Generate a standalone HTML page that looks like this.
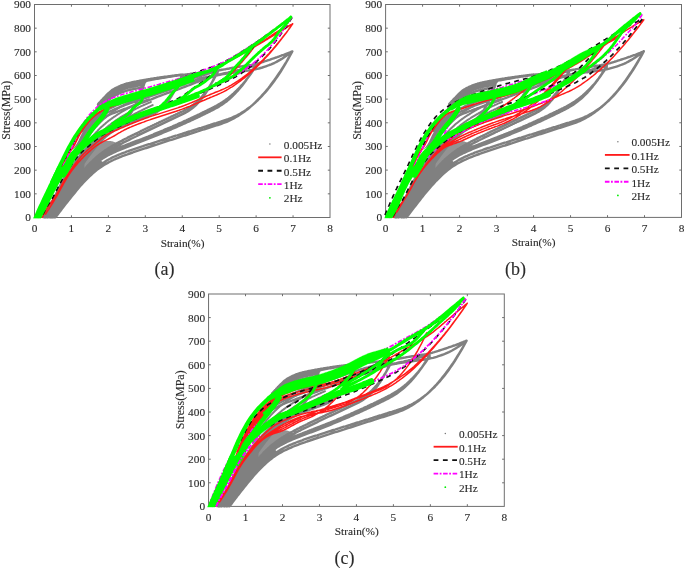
<!DOCTYPE html>
<html><head><meta charset="utf-8"><style>
html,body{margin:0;padding:0;background:#fff;}
svg{display:block;will-change:transform;}
text{font-family:"Liberation Serif", serif;font-size:11.3px;fill:#2a2a2a;stroke:#2a2a2a;stroke-width:0.12px;}
</style></head><body>
<svg width="685" height="568" viewBox="0 0 685 568">
<defs><clipPath id="clipa"><rect x="33.00" y="1.50" width="298.50" height="217.30"/></clipPath><clipPath id="clipb"><rect x="384.10" y="1.50" width="298.90" height="217.20"/></clipPath><clipPath id="clipc"><rect x="207.06" y="291.00" width="298.74" height="216.70"/></clipPath></defs>
<path d="M71.44 217.50v-2.2M71.44 4.50v2.2M108.38 217.50v-2.2M108.38 4.50v2.2M145.31 217.50v-2.2M145.31 4.50v2.2M182.25 217.50v-2.2M182.25 4.50v2.2M219.19 217.50v-2.2M219.19 4.50v2.2M256.12 217.50v-2.2M256.12 4.50v2.2M293.06 217.50v-2.2M293.06 4.50v2.2M34.50 193.83h2.2M330.00 193.83h-2.2M34.50 170.17h2.2M330.00 170.17h-2.2M34.50 146.50h2.2M330.00 146.50h-2.2M34.50 122.83h2.2M330.00 122.83h-2.2M34.50 99.17h2.2M330.00 99.17h-2.2M34.50 75.50h2.2M330.00 75.50h-2.2M34.50 51.83h2.2M330.00 51.83h-2.2M34.50 28.17h2.2M330.00 28.17h-2.2" stroke="#6e6e6e" stroke-width="1" fill="none"/>
<rect x="34.50" y="4.50" width="295.50" height="213.00" fill="none" stroke="#6e6e6e" stroke-width="1"/>
<text x="34.50" y="231.90" text-anchor="middle">0</text>
<text x="71.44" y="231.90" text-anchor="middle">1</text>
<text x="108.38" y="231.90" text-anchor="middle">2</text>
<text x="145.31" y="231.90" text-anchor="middle">3</text>
<text x="182.25" y="231.90" text-anchor="middle">4</text>
<text x="219.19" y="231.90" text-anchor="middle">5</text>
<text x="256.12" y="231.90" text-anchor="middle">6</text>
<text x="293.06" y="231.90" text-anchor="middle">7</text>
<text x="330.00" y="231.90" text-anchor="middle">8</text>
<text x="31.00" y="221.40" text-anchor="end">0</text>
<text x="31.00" y="197.73" text-anchor="end">100</text>
<text x="31.00" y="174.07" text-anchor="end">200</text>
<text x="31.00" y="150.40" text-anchor="end">300</text>
<text x="31.00" y="126.73" text-anchor="end">400</text>
<text x="31.00" y="103.07" text-anchor="end">500</text>
<text x="31.00" y="79.40" text-anchor="end">600</text>
<text x="31.00" y="55.73" text-anchor="end">700</text>
<text x="31.00" y="32.07" text-anchor="end">800</text>
<text x="31.00" y="8.40" text-anchor="end">900</text>
<g clip-path="url(#clipa)"><path d="M41.5 217.5L42.1 216.2L42.7 214.8L43.3 213.5L43.9 212.2L44.6 210.9L45.3 209.6L45.9 208.4L46.7 207.1L47.4 205.9L48.2 204.7L49.1 203.5L49.9 202.3L50.7 201.1L51.5 199.9L52.3 198.7L53.0 197.4L53.7 196.1L54.4 194.8L55.0 193.5L55.6 192.2L56.2 190.9L56.9 189.6L57.5 188.3L58.1 187.0L58.8 185.7L59.4 184.4L60.1 183.1L60.8 181.8L61.5 180.6L62.2 179.3L62.9 178.0L63.6 176.8L64.4 175.6L65.1 174.3L65.9 173.1L66.7 171.9L67.5 170.7L68.3 169.5L69.2 168.3L70.0 167.1L70.8 165.9L71.6 164.7L72.4 163.5L73.3 162.3L74.1 161.1L74.9 159.9L75.8 158.8L76.7 157.6L77.6 156.5L78.5 155.4L79.5 154.3L80.5 153.3L81.5 152.2L82.6 151.3L83.6 150.3L84.7 149.3L85.8 148.4L86.9 147.4L88.1 146.5L104.7 164.6L104.3 164.9L103.8 165.1L103.4 165.4L103.0 165.6L102.6 165.9L102.2 166.2L101.8 166.5L101.4 166.7L100.9 167.0L100.5 167.3L100.1 167.6L99.7 167.9L99.3 168.2L98.9 168.5L98.4 168.8L98.0 169.1L97.6 169.4L97.2 169.7L96.8 170.1L96.4 170.4L95.9 170.7L95.5 171.1L95.1 171.4L94.7 171.7L94.3 172.1L93.9 172.4L93.5 172.8L93.0 173.2L92.6 173.5L92.2 173.9L91.8 174.3L91.4 174.6L91.0 175.0L90.5 175.4L90.1 175.8L89.7 176.2L89.3 176.6L88.9 177.0L88.5 177.4L88.0 177.8L87.6 178.2L87.2 178.6L86.8 179.1L86.4 179.5L86.0 179.9L85.5 180.3L85.1 180.8L84.7 181.2L84.3 181.7L83.9 182.1L83.5 182.6L83.1 183.0L82.6 183.5L82.2 183.9L81.8 184.4L81.4 184.9L81.0 185.3L80.6 185.8L80.1 186.3L79.7 186.7L79.3 187.2L78.9 187.7L78.5 188.2L78.1 188.7L77.6 189.2L77.2 189.7L76.8 190.2L76.4 190.7L76.0 191.1L75.6 191.6L75.1 192.2L74.7 192.7L74.3 193.2L73.9 193.7L73.5 194.2L73.1 194.7L72.7 195.2L72.2 195.7L71.8 196.2L71.4 196.8L71.0 197.3L70.6 197.8L70.2 198.3L69.7 198.8L69.3 199.4L68.9 199.9L68.5 200.4L68.1 200.9L67.7 201.5L67.2 202.0L66.8 202.5L66.4 203.1L66.0 203.6L65.6 204.1L65.2 204.7L64.8 205.2L64.3 205.7L63.9 206.3L63.5 206.8L63.1 207.4L62.7 207.9L62.3 208.4L61.8 209.0L61.4 209.5L61.0 210.1L60.6 210.6L60.2 211.2L59.8 211.7L59.3 212.3L58.9 212.8L58.5 213.3L58.1 213.9L57.7 214.4L57.3 215.0L56.8 215.5L56.4 216.1L56.0 216.6L55.6 217.2L55.2 217.5Z" fill="#808080"/>
<path d="M78.8 153.6L79.7 152.4L80.7 151.2L81.6 149.9L82.5 148.7L83.5 147.5L84.4 146.3L85.3 145.1L86.3 143.9L87.2 142.7L88.2 141.5L89.2 140.3L90.1 139.1L91.1 137.9L92.1 136.8L93.1 135.6L94.2 134.4L95.2 133.3L96.2 132.2L97.3 131.1L98.3 130.0L99.4 128.9L100.5 127.8L101.6 126.7L102.8 125.7L103.9 124.7L105.1 123.7L106.2 122.7L107.4 121.8L108.6 120.8L109.9 119.9L111.1 119.0L112.3 118.1L113.6 117.2L114.9 116.4L116.2 115.5L117.4 114.7L118.7 113.8L120.0 113.0L121.3 112.2L122.6 111.4L124.0 110.6L125.3 109.8L126.6 109.1L127.9 108.3L129.3 107.6L130.6 106.9L132.0 106.2L133.4 105.5L134.8 104.8L136.2 104.2L137.6 103.6L139.0 103.0L140.4 102.4L141.8 101.9L143.3 101.3L144.7 100.8L146.1 100.2L147.6 99.7L149.0 99.2M80.7 154.8L81.7 153.6L82.7 152.5L83.6 151.4L84.6 150.2L85.6 149.1L86.6 148.0L87.6 146.9L88.6 145.7L89.6 144.6L90.6 143.5L91.6 142.4L92.7 141.2L93.7 140.1L94.7 139.0L95.7 137.9L96.8 136.8L97.8 135.7L98.9 134.7L100.0 133.6L101.0 132.6L102.1 131.5L103.2 130.5L104.3 129.5L105.5 128.5L106.6 127.5L107.8 126.5L108.9 125.6L110.1 124.7L111.3 123.7L112.5 122.8L113.8 122.0L115.0 121.1L116.2 120.2L117.5 119.4L118.7 118.6L120.0 117.7L121.3 116.9L122.6 116.1L123.9 115.3L125.1 114.6L126.4 113.8L127.8 113.1L129.1 112.3L130.4 111.6L131.7 110.9L133.0 110.2L134.4 109.5L135.7 108.8L137.1 108.1L138.4 107.5L139.8 106.9L141.2 106.2L142.6 105.6L143.9 105.0L145.3 104.4L146.7 103.8L148.1 103.2L149.5 102.6L150.9 102.0M82.5 155.5L83.6 154.5L84.7 153.5L85.8 152.5L86.9 151.5L88.0 150.5L89.1 149.5L90.1 148.5L91.2 147.5L92.3 146.5L93.4 145.5L94.5 144.5L95.5 143.5L96.6 142.5L97.7 141.5L98.7 140.5L99.8 139.5L100.9 138.5L102.0 137.5L103.1 136.5L104.2 135.5L105.3 134.5L106.4 133.5L107.5 132.6L108.6 131.6L109.8 130.7L110.9 129.8L112.1 128.8L113.2 127.9L114.4 127.1L115.6 126.2L116.8 125.3L118.0 124.5L119.2 123.6L120.4 122.8L121.6 121.9L122.9 121.1L124.1 120.3L125.3 119.5L126.6 118.7L127.8 117.9L129.1 117.2L130.4 116.4L131.6 115.7L132.9 114.9L134.2 114.2L135.5 113.5L136.8 112.8L138.1 112.1L139.4 111.4L140.7 110.8L142.0 110.1L143.3 109.5L144.7 108.8L146.0 108.2L147.3 107.6L148.7 106.9L150.0 106.3L151.4 105.7L152.7 105.1M78.8 152.4L79.5 151.1L80.3 149.9L81.0 148.6L81.7 147.3L82.4 146.1L83.1 144.8L83.9 143.6L84.6 142.3L85.4 141.1L86.2 139.9L87.0 138.7L87.8 137.4L88.6 136.2L89.4 135.1L90.3 133.9L91.2 132.7L92.1 131.6L93.0 130.4L93.9 129.3L94.8 128.2L95.8 127.1L96.8 126.0L97.8 124.9L98.8 123.9L99.8 122.8L100.8 121.8L101.9 120.8L102.9 119.8L104.0 118.8L105.1 117.9L106.2 116.9L107.3 116.0L108.4 115.1L109.6 114.2L110.7 113.3L111.9 112.4L113.1 111.6L114.3 110.7L115.5 109.9L116.7 109.1L117.9 108.3L119.2 107.6L120.4 106.8L121.7 106.1L123.0 105.4L124.3 104.7L125.6 104.1L126.9 103.4L128.2 102.8L129.5 102.2L130.8 101.6L132.2 101.0L133.5 100.5L134.8 99.9L136.2 99.4L137.5 98.8L138.9 98.3L140.3 97.8L141.6 97.3" stroke="#808080" stroke-width="2.0" fill="none" stroke-linejoin="round" stroke-linecap="round"/>
<path d="M71.4 150.1L72.1 149.4L72.7 148.7L73.3 148.1L74.0 147.4L74.6 146.7L75.1 146.0L75.7 145.3L76.2 144.6L76.7 143.8L77.1 143.1L77.6 142.3L78.0 141.5L78.4 140.7L78.8 139.8L79.2 139.0L79.5 138.2L79.9 137.3L80.3 136.5L80.7 135.7L81.1 134.9L81.5 134.1L81.9 133.2L82.3 132.5L82.8 131.7L83.3 130.9L83.7 130.1L84.2 129.4L84.7 128.6L85.2 127.8L85.7 127.1L86.3 126.4L86.8 125.6L87.4 124.9L87.9 124.2L88.5 123.5L89.0 122.8L89.6 122.1L90.2 121.4L90.8 120.7L91.4 120.0L92.0 119.3L92.7 118.7L93.3 118.0L93.9 117.4L94.6 116.8L95.3 116.2L95.9 115.6L96.6 115.0L97.3 114.4L98.0 113.8L98.7 113.3L99.5 112.7L100.2 112.2L100.9 111.7L101.7 111.2L102.4 110.6L103.2 110.1L103.9 109.6L104.7 109.1L104.7 109.1L104.3 109.9L103.9 110.8L103.5 111.6L103.2 112.4L102.7 113.2L102.3 114.0L101.9 114.8L101.4 115.5L100.9 116.3L100.4 117.0L99.9 117.8L99.3 118.5L98.7 119.2L98.2 119.9L97.6 120.6L97.0 121.2L96.4 121.9L95.8 122.6L95.1 123.3L94.5 123.9L93.9 124.6L93.3 125.3L92.7 126.0L92.1 126.6L91.5 127.3L90.9 128.0L90.4 128.7L89.8 129.4L89.2 130.1L88.7 130.8L88.1 131.6L87.6 132.3L87.1 133.0L86.6 133.8L86.1 134.5L85.6 135.3L85.1 136.1L84.6 136.9L84.2 137.7L83.7 138.5L83.2 139.2L82.7 140.0L82.3 140.8L81.7 141.5L81.2 142.3L80.7 143.0L80.1 143.7L79.5 144.4L78.9 145.0L78.3 145.6L77.6 146.2L76.9 146.7L76.1 147.2L75.4 147.7L74.6 148.2L73.8 148.7L73.0 149.1L72.2 149.6L71.4 150.1Z" fill="#808080"/>
<path d="M84.4 150.8L85.0 150.3L85.6 149.9L86.2 149.4L86.8 149.0L87.4 148.6L88.1 148.2L88.7 147.7L89.3 147.3L90.0 146.9L90.6 146.5L91.2 146.1L91.9 145.7L92.5 145.3L93.2 145.0L93.9 144.6L94.5 144.3L95.2 143.9L95.9 143.6L96.6 143.3L97.3 143.0L98.0 142.7L98.7 142.5L99.4 142.2L100.1 142.0L100.9 141.8L101.6 141.6L102.4 141.4L103.1 141.3L103.9 141.2L104.6 141.1L105.4 141.0L106.2 140.9L106.9 140.9L107.7 140.9L108.5 140.9L109.2 140.9L110.0 141.0L110.7 141.1L111.5 141.2L112.2 141.3L112.9 141.5L113.6 141.7L114.3 141.9L115.0 142.2L115.7 142.4L116.4 142.7L117.1 143.0L117.8 143.4L118.4 143.7L119.1 144.1L119.8 144.5L120.4 144.8L121.1 145.2L121.8 145.7L122.4 146.1L123.1 146.5L123.7 146.9L124.3 147.3L125.0 147.8L125.0 147.8L123.6 148.3L122.2 148.9L120.8 149.5L119.4 150.0L118.0 150.6L116.6 151.2L115.2 151.8L113.8 152.5L112.4 153.1L111.0 153.8L109.6 154.5L108.2 155.3L106.8 156.0L105.4 156.9L104.0 157.7L102.6 158.6L101.2 159.5L99.8 160.5L98.4 161.6L97.0 162.7L95.6 163.9L94.2 165.1L92.8 166.3L91.4 167.7L90.0 169.1L88.6 170.5L87.2 172.0L85.8 173.6L84.4 175.2Z" fill="#939393"/>
<path d="M98.0 104.2L98.7 103.4L99.4 102.6L100.2 101.8L100.9 101.0L101.6 100.2L102.3 99.5L103.0 98.7L103.7 98.0L104.4 97.3L105.1 96.6L105.8 95.9L106.5 95.1L107.2 94.4L107.9 93.7L108.6 93.0L109.4 92.4L110.1 91.8L110.8 91.2L111.5 90.6L112.2 90.1L112.9 89.6L113.6 89.2L114.3 88.8L115.0 88.4L115.7 88.0L116.4 87.7L117.1 87.3L117.8 87.0L118.6 86.6L119.3 86.3L120.0 86.0L120.7 85.7L121.4 85.4L122.1 85.1L122.8 84.9L123.5 84.6L124.2 84.4L124.9 84.1L125.6 83.9L126.3 83.7L127.0 83.5L127.8 83.3L128.5 83.1L129.2 83.0L129.9 82.8L130.6 82.6L131.3 82.5L132.0 82.3L132.7 82.2L133.4 82.0L134.1 81.9L134.8 81.7L135.5 81.6L136.2 81.5L137.0 81.3L137.7 81.2L138.4 81.1L139.1 80.9L139.8 80.8L140.5 80.7L141.2 80.5L141.9 80.4L142.6 80.3L143.3 80.1L144.0 80.0L144.7 79.9L145.4 79.8L146.2 79.6L146.9 79.5L147.6 79.4L148.3 79.3L149.0 79.2L149.7 79.1L150.4 78.9L151.1 78.8L151.8 78.7L152.5 78.6L153.2 78.5L153.9 78.4L154.6 78.3L155.4 78.2L156.1 78.1L156.8 77.9L157.5 77.8L158.2 77.7L158.9 77.6L159.6 77.5L160.3 77.4L161.0 77.3L161.7 77.2L162.4 77.1L163.1 77.0L163.8 76.9L164.6 76.8L165.3 76.7L166.0 76.6L166.7 76.6L167.4 76.5L168.1 76.4L168.8 76.3L169.5 76.2L170.2 76.1L170.9 76.0L171.6 75.9L172.3 75.8L173.0 75.7L173.8 75.6L174.5 75.5L175.2 75.4L175.9 75.3L176.6 75.3L177.3 75.2L178.0 75.1L178.7 75.0L179.4 74.9L180.1 74.8L180.8 74.7L181.5 74.6L182.2 74.6M98.0 106.3L98.4 105.8L98.8 105.4L99.2 104.9L99.6 104.5L100.0 104.1L100.4 103.6L100.8 103.2L101.2 102.7L101.6 102.3L102.0 101.9L102.4 101.5L102.8 101.0L103.2 100.6L103.6 100.2L104.0 99.8L104.4 99.4L104.8 99.0L105.2 98.6L105.6 98.2L106.0 97.8L106.4 97.4L106.8 97.0L107.2 96.6L107.6 96.2L108.0 95.8L108.4 95.4L108.8 95.1L109.2 94.7L109.6 94.3L110.0 94.0L110.3 93.6L110.7 93.3L111.1 93.0L111.5 92.7L111.9 92.4L112.3 92.1L112.7 91.9L113.1 91.6L113.5 91.4L113.9 91.2L114.3 90.9L114.7 90.7L115.1 90.5L115.5 90.3L115.9 90.1L116.3 89.9L116.7 89.6L117.1 89.4L117.5 89.3L117.9 89.1L118.3 88.9L118.7 88.7L119.1 88.5L119.5 88.3L119.9 88.2L120.3 88.0L120.7 87.8L121.1 87.7L121.5 87.5L121.9 87.3L122.3 87.2L122.7 87.0L123.1 86.9L123.5 86.8L123.9 86.6L124.3 86.5L124.7 86.4L125.0 86.2L125.4 86.1L125.8 86.0L126.2 85.9L126.6 85.8L127.0 85.6L127.4 85.5L127.8 85.4L128.2 85.3L128.6 85.2L129.0 85.1L129.4 85.0L129.8 84.9L130.2 84.8L130.6 84.8L131.0 84.7L131.4 84.6L131.8 84.5L132.2 84.4L132.6 84.3L133.0 84.2L133.4 84.2L133.8 84.1L134.2 84.0L134.6 83.9L135.0 83.8L135.4 83.8L135.8 83.7L136.2 83.6L136.6 83.5L137.0 83.5L137.4 83.4L137.8 83.3L138.2 83.2L138.6 83.2L139.0 83.1L139.4 83.0L139.8 82.9L140.1 82.9L140.5 82.8L140.9 82.7L141.3 82.6L141.7 82.6L142.1 82.5L142.5 82.4L142.9 82.3L143.3 82.3L143.7 82.2L144.1 82.1L144.5 82.1L144.9 82.0L145.3 81.9M99.1 107.4L99.5 107.0L99.9 106.6L100.3 106.1L100.6 105.7L101.0 105.3L101.4 104.9L101.7 104.5L102.1 104.1L102.5 103.7L102.9 103.3L103.2 103.0L103.6 102.6L104.0 102.2L104.4 101.8L104.7 101.5L105.1 101.1L105.5 100.7L105.8 100.3L106.2 99.9L106.6 99.6L107.0 99.2L107.3 98.8L107.7 98.5L108.1 98.1L108.5 97.7L108.8 97.4L109.2 97.0L109.6 96.7L109.9 96.4L110.3 96.0L110.7 95.7L111.1 95.4L111.4 95.1L111.8 94.9L112.2 94.6L112.5 94.4L112.9 94.1L113.3 93.9L113.7 93.7L114.0 93.5L114.4 93.3L114.8 93.0L115.2 92.8L115.5 92.6L115.9 92.4L116.3 92.2L116.6 92.0L117.0 91.9L117.4 91.7L117.8 91.5L118.1 91.3L118.5 91.1L118.9 91.0L119.3 90.8L119.6 90.6L120.0 90.5L120.4 90.3L120.7 90.2L121.1 90.0L121.5 89.9L121.9 89.7L122.2 89.6L122.6 89.4L123.0 89.3L123.4 89.2L123.7 89.0L124.1 88.9L124.5 88.8L124.8 88.7L125.2 88.5L125.6 88.4L126.0 88.3L126.3 88.2L126.7 88.1L127.1 88.0L127.4 87.9L127.8 87.8L128.2 87.7L128.6 87.6L128.9 87.5L129.3 87.4L129.7 87.3L130.1 87.2L130.4 87.2L130.8 87.1L131.2 87.0L131.5 86.9L131.9 86.8L132.3 86.8L132.7 86.7L133.0 86.6L133.4 86.5L133.8 86.5L134.2 86.4L134.5 86.3L134.9 86.2L135.3 86.2L135.6 86.1L136.0 86.0L136.4 85.9L136.8 85.9L137.1 85.8L137.5 85.7L137.9 85.7L138.3 85.6L138.6 85.5L139.0 85.4L139.4 85.4L139.7 85.3L140.1 85.2L140.5 85.2L140.9 85.1L141.2 85.0L141.6 85.0L142.0 84.9L142.3 84.8L142.7 84.7L143.1 84.7L143.5 84.6M101.0 107.9L101.3 107.6L101.7 107.2L102.1 106.8L102.4 106.4L102.8 106.0L103.1 105.7L103.5 105.3L103.8 104.9L104.2 104.6L104.6 104.2L104.9 103.9L105.3 103.5L105.6 103.1L106.0 102.8L106.3 102.4L106.7 102.1L107.1 101.7L107.4 101.3L107.8 101.0L108.1 100.6L108.5 100.3L108.8 100.0L109.2 99.6L109.6 99.3L109.9 99.0L110.3 98.7L110.6 98.4L111.0 98.1L111.3 97.8L111.7 97.5L112.1 97.3L112.4 97.1L112.8 96.8L113.1 96.6L113.5 96.4L113.8 96.2L114.2 96.0L114.6 95.8L114.9 95.6L115.3 95.4L115.6 95.2L116.0 95.0L116.3 94.8L116.7 94.6L117.1 94.4L117.4 94.3L117.8 94.1L118.1 93.9L118.5 93.8L118.8 93.6L119.2 93.4L119.5 93.3L119.9 93.1L120.3 93.0L120.6 92.8L121.0 92.7L121.3 92.5L121.7 92.4L122.0 92.2L122.4 92.1L122.8 92.0L123.1 91.9L123.5 91.7L123.8 91.6L124.2 91.5L124.5 91.4L124.9 91.3L125.3 91.1L125.6 91.0L126.0 90.9L126.3 90.8L126.7 90.7L127.0 90.6L127.4 90.5L127.8 90.4L128.1 90.3L128.5 90.2L128.8 90.1L129.2 90.1L129.5 90.0L129.9 89.9L130.3 89.8L130.6 89.7L131.0 89.6L131.3 89.6L131.7 89.5L132.0 89.4L132.4 89.3L132.8 89.3L133.1 89.2L133.5 89.1L133.8 89.0L134.2 89.0L134.5 88.9L134.9 88.8L135.3 88.8L135.6 88.7L136.0 88.6L136.3 88.6L136.7 88.5L137.0 88.4L137.4 88.4L137.8 88.3L138.1 88.2L138.5 88.2L138.8 88.1L139.2 88.0L139.5 87.9L139.9 87.9L140.3 87.8L140.6 87.7L141.0 87.7L141.3 87.6L141.7 87.5L142.0 87.5L142.4 87.4L142.8 87.3L143.1 87.3L143.5 87.2M82.5 127.0L83.7 125.9L84.8 124.8L85.9 123.8L87.1 122.8L88.2 121.9L89.3 121.0L90.5 120.2L91.6 119.4L92.7 118.6L93.9 117.8L95.0 117.0L96.2 116.3L97.3 115.5L98.4 114.8L99.6 114.1L100.7 113.4L101.8 112.7L103.0 112.1L104.1 111.4L105.2 110.8L106.4 110.2L107.5 109.6L108.6 109.0L109.8 108.4L110.9 107.8L112.1 107.3L113.2 106.8L114.3 106.3L115.5 105.7L116.6 105.2L117.7 104.8L118.9 104.3L120.0 103.8L121.1 103.3L122.3 102.9L123.4 102.4L124.6 102.0L125.7 101.5L126.8 101.1L128.0 100.6L129.1 100.2L130.2 99.8L131.4 99.3L132.5 98.9L133.6 98.5L134.8 98.1L135.9 97.7L137.0 97.3L138.2 96.9L139.3 96.5L140.5 96.1L141.6 95.7L142.7 95.3L143.9 94.9L145.0 94.5L146.1 94.1L147.3 93.7L148.4 93.3L149.5 92.9L150.7 92.5L151.8 92.1L153.0 91.7L154.1 91.3L155.2 90.9L156.4 90.5L157.5 90.0L158.6 89.6L159.8 89.2L160.9 88.8L162.0 88.4L163.2 88.0L164.3 87.6L165.5 87.2L166.6 86.8L167.7 86.4L168.9 86.0L170.0 85.6L171.1 85.2L172.3 84.8L173.4 84.4L174.5 84.0L175.7 83.6L176.8 83.2L177.9 82.8L179.1 82.4L180.2 82.1L181.4 81.7L182.5 81.3L183.6 81.0L184.8 80.6L185.9 80.3L187.0 79.9L188.2 79.6L189.3 79.3L190.4 79.0L191.6 78.6L192.7 78.3L193.9 78.0L195.0 77.6L196.1 77.3L197.3 77.0L198.4 76.7L199.5 76.3L200.7 76.0L201.8 75.6L202.9 75.3L204.1 75.0L205.2 74.6L206.3 74.3L207.5 73.9L208.6 73.6L209.8 73.2L210.9 72.9L212.0 72.5L213.2 72.2L214.3 71.8L215.4 71.5L216.6 71.1L217.7 70.8M82.5 129.1L84.0 127.7L85.4 126.4L86.9 125.2L88.3 124.1L89.8 123.1L91.2 122.1L92.7 121.1L94.1 120.2L95.6 119.3L97.0 118.4L98.5 117.5L100.0 116.7L101.4 115.8L102.9 115.0L104.3 114.3L105.8 113.5L107.2 112.8L108.7 112.0L110.1 111.3L111.6 110.7L113.0 110.0L114.5 109.4L115.9 108.7L117.4 108.1L118.8 107.5L120.3 106.9L121.7 106.4L123.2 105.8L124.6 105.2L126.1 104.7L127.6 104.1L129.0 103.6L130.5 103.0L131.9 102.5L133.4 102.0L134.8 101.5L136.3 101.0L137.7 100.5L139.2 100.1L140.6 99.6L142.1 99.1L143.5 98.6L145.0 98.1L146.4 97.6L147.9 97.1L149.3 96.6L150.8 96.1L152.2 95.6L153.7 95.1L155.2 94.6L156.6 94.1L158.1 93.6L159.5 93.1L161.0 92.6L162.4 92.1L163.9 91.6L165.3 91.0L166.8 90.5L168.2 90.0L169.7 89.5L171.1 89.0L172.6 88.4L174.0 87.9L175.5 87.4L176.9 86.9L178.4 86.3L179.8 85.8L181.3 85.3L182.8 84.8L184.2 84.3L185.7 83.7L187.1 83.2L188.6 82.7L190.0 82.1L191.5 81.6L192.9 81.1L194.4 80.6L195.8 80.1L197.3 79.6L198.7 79.1L200.2 78.7L201.6 78.3L203.1 78.0L204.5 77.6L206.0 77.3L207.4 77.0L208.9 76.7L210.4 76.3L211.8 76.0L213.3 75.7L214.7 75.4L216.2 75.1L217.6 74.8L219.1 74.5L220.5 74.2L222.0 73.8L223.4 73.5L224.9 73.2L226.3 72.9L227.8 72.6L229.2 72.2L230.7 71.9L232.1 71.6L233.6 71.3L235.0 70.9L236.5 70.6L238.0 70.2L239.4 69.9L240.9 69.5L242.3 69.1L243.8 68.7L245.2 68.4L246.7 68.0L248.1 67.6L249.6 67.2L251.0 66.8L252.5 66.4L253.9 66.0L255.4 65.6M82.5 131.1L84.3 129.5L86.0 128.0L87.8 126.7L89.6 125.5L91.3 124.4L93.1 123.3L94.9 122.3L96.6 121.3L98.4 120.3L100.1 119.3L101.9 118.4L103.7 117.5L105.4 116.6L107.2 115.8L109.0 115.0L110.7 114.2L112.5 113.5L114.3 112.8L116.0 112.1L117.8 111.5L119.5 110.8L121.3 110.2L123.1 109.5L124.8 108.9L126.6 108.3L128.4 107.6L130.1 107.0L131.9 106.3L133.6 105.7L135.4 105.1L137.2 104.5L138.9 103.8L140.7 103.2L142.5 102.6L144.2 101.9L146.0 101.3L147.8 100.6L149.5 99.9L151.3 99.3L153.0 98.6L154.8 97.9L156.6 97.2L158.3 96.5L160.1 95.8L161.9 95.2L163.6 94.5L165.4 93.8L167.1 93.2L168.9 92.6L170.7 91.9L172.4 91.3L174.2 90.7L176.0 90.1L177.7 89.5L179.5 88.8L181.3 88.2L183.0 87.5L184.8 86.8L186.5 86.2L188.3 85.5L190.1 84.8L191.8 84.1L193.6 83.4L195.4 82.7L197.1 82.0L198.9 81.4L200.6 80.7L202.4 80.1L204.2 79.5L205.9 78.9L207.7 78.2L209.5 77.6L211.2 77.1L213.0 76.5L214.7 76.0L216.5 75.5L218.3 75.1L220.0 74.8L221.8 74.4L223.6 74.1L225.3 73.8L227.1 73.5L228.9 73.3L230.6 73.0L232.4 72.7L234.1 72.5L235.9 72.2L237.7 71.9L239.4 71.7L241.2 71.5L243.0 71.2L244.7 71.0L246.5 70.8L248.2 70.6L250.0 70.3L251.8 70.0L253.5 69.7L255.3 69.3L257.1 68.9L258.8 68.5L260.6 68.0L262.4 67.5L264.1 66.9L265.9 66.3L267.6 65.7L269.4 65.0L271.2 64.4L272.9 63.6L274.7 62.8L276.5 61.9L278.2 60.9L280.0 59.9L281.7 58.9L283.5 57.7L285.3 56.5L287.0 55.3L288.8 54.0L290.6 52.7L292.3 51.4M145.3 80.9L146.5 80.7L147.8 80.5L149.0 80.2L150.3 80.0L151.5 79.8L152.7 79.6L154.0 79.3L155.2 79.1L156.4 78.9L157.7 78.7L158.9 78.5L160.1 78.3L161.4 78.1L162.6 77.9L163.8 77.7L165.1 77.5L166.3 77.3L167.5 77.1L168.8 76.9L170.0 76.7L171.3 76.5L172.5 76.3L173.7 76.1L175.0 75.9L176.2 75.8L177.4 75.6L178.7 75.4L179.9 75.2L181.1 75.1L182.4 74.9L183.6 74.7L184.8 74.6L186.1 74.4L187.3 74.3L188.6 74.1L189.8 74.0L191.0 73.8L192.3 73.7L193.5 73.5L194.7 73.4L196.0 73.2L197.2 73.1L198.4 72.9L199.7 72.8L200.9 72.6L202.1 72.5L203.4 72.3L204.6 72.2L205.8 72.0L207.1 71.9L208.3 71.7L209.6 71.6L210.8 71.4L212.0 71.2L213.3 71.1L214.5 70.9L215.7 70.7L217.0 70.6L218.2 70.4L219.4 70.2L220.7 70.0L221.9 69.8L223.1 69.6L224.4 69.4L225.6 69.2L226.8 68.9L228.1 68.7L229.3 68.5L230.6 68.2L231.8 68.0L233.0 67.8L234.3 67.6L235.5 67.3L236.7 67.1L238.0 66.9L239.2 66.7L240.4 66.5L241.7 66.4L242.9 66.2L244.1 66.0L245.4 65.8L246.6 65.7L247.8 65.5L249.1 65.3L250.3 65.1L251.6 64.9L252.8 64.6L254.0 64.4L255.3 64.1L256.5 63.8L257.7 63.4L259.0 63.1L260.2 62.7L261.4 62.4L262.7 62.0L263.9 61.6L265.1 61.2L266.4 60.8L267.6 60.4L268.9 60.0L270.1 59.6L271.3 59.1L272.6 58.7L273.8 58.3L275.0 57.9L276.3 57.5L277.5 57.0L278.7 56.6L280.0 56.1L281.2 55.7L282.4 55.2L283.7 54.8L284.9 54.3L286.1 53.8L287.4 53.3L288.6 52.9L289.9 52.4L291.1 51.9L292.3 51.4M292.3 51.4L290.8 54.0L289.3 56.7L287.8 59.2L286.4 61.8L284.9 64.2L283.4 66.6L281.9 69.0L280.4 71.3L278.9 73.5L277.4 75.7L275.9 77.9L274.4 80.0L272.9 82.0L271.4 84.0L270.0 86.0L268.5 87.9L267.0 89.7L265.5 91.5L264.0 93.2L262.5 94.9L261.0 96.6L259.5 98.2L258.0 99.7L256.5 101.2L255.0 102.7L253.5 104.1L252.1 105.4L250.6 106.7L249.1 108.0L247.6 109.2L246.1 110.4L244.6 111.5L243.1 112.6L241.6 113.6L240.1 114.6L238.6 115.6L237.1 116.5L235.6 117.3L234.2 118.2L232.7 119.0L231.2 119.7L229.7 120.4L228.2 121.1L226.7 121.8L225.2 122.4L223.7 122.9L222.2 123.5L220.7 124.0L219.2 124.5L217.8 125.0L216.3 125.4L214.8 125.9L213.3 126.4L211.8 126.9L210.3 127.3L208.8 127.8L207.3 128.3L205.8 128.8L204.3 129.3L202.8 129.7L201.3 130.2L199.9 130.7L198.4 131.2L196.9 131.6L195.4 132.1L193.9 132.6L192.4 133.1L190.9 133.6L189.4 134.0L187.9 134.5L186.4 135.0L184.9 135.5L183.4 135.9L182.0 136.4L180.5 136.9L179.0 137.4L177.5 137.9L176.0 138.3L174.5 138.8L173.0 139.3L171.5 139.8L170.0 140.2L168.5 140.7L167.0 141.2L165.6 141.7L164.1 142.2L162.6 142.6L161.1 143.1L159.6 143.6L158.1 144.1L156.6 144.6L155.1 145.0L153.6 145.5L152.1 146.0L150.6 146.5L149.1 147.0L147.7 147.5L146.2 148.0L144.7 148.4L143.2 148.9L141.7 149.4L140.2 149.9L138.7 150.4L137.2 150.9L135.7 151.4L134.2 151.9L132.7 152.5L131.2 153.0L129.8 153.5L128.3 154.0L126.8 154.6L125.3 155.1L123.8 155.7L122.3 156.2L120.8 156.8L119.3 157.4L117.8 158.1L116.3 158.7L114.8 159.3L113.4 160.0L111.9 160.7L110.4 161.5L108.9 162.2L107.4 163.1L105.9 163.9L104.4 164.8L102.9 165.7L101.4 166.7L99.9 167.7L98.4 168.8L96.9 169.9L95.5 171.1L94.0 172.4L92.5 173.6L91.0 175.0L89.5 176.4L88.0 177.9L86.5 179.4L85.0 180.9L83.5 182.5L82.0 184.1L80.5 185.8L79.0 187.5L77.6 189.3L76.1 191.0L74.6 192.9L73.1 194.7L71.6 196.5L70.1 198.4L68.6 200.3L67.1 202.2L65.6 204.1L64.1 206.0L62.6 207.9L61.2 209.9L59.7 211.8L58.2 213.8L56.7 215.8L55.2 217.5M292.3 51.4L290.8 54.2L289.3 56.9L287.8 59.6L286.3 62.2L284.9 64.7L283.4 67.2L281.9 69.6L280.4 72.0L278.9 74.2L277.4 76.5L275.9 78.6L274.4 80.7L272.9 82.8L271.4 84.8L269.9 86.7L268.4 88.5L266.9 90.4L265.4 92.1L263.9 93.8L262.4 95.4L261.0 97.0L259.5 98.5L258.0 100.0L256.5 101.4L255.0 102.8L253.5 104.1L252.0 105.4L250.5 106.6L249.0 107.7L247.5 108.8L246.0 109.9L244.5 110.9L243.0 111.9L241.5 112.8L240.0 113.7L238.5 114.5L237.1 115.3L235.6 116.0L234.1 116.7L232.6 117.4L231.1 118.0L229.6 118.6L228.1 119.2L226.6 119.7L225.1 120.2L223.6 120.7L222.1 121.2L220.6 121.7L219.1 122.1L217.6 122.6L216.1 123.1L214.6 123.5L213.2 124.0L211.7 124.5L210.2 125.0L208.7 125.4L207.2 125.9L205.7 126.4L204.2 126.8L202.7 127.3L201.2 127.8L199.7 128.2L198.2 128.7L196.7 129.2L195.2 129.6L193.7 130.1L192.2 130.6L190.7 131.1L189.3 131.5L187.8 132.0L186.3 132.5L184.8 132.9L183.3 133.4L181.8 133.9L180.3 134.3L178.8 134.8L177.3 135.3L175.8 135.7L174.3 136.2L172.8 136.7L171.3 137.2L169.8 137.6L168.3 138.1L166.8 138.6L165.4 139.0L163.9 139.5L162.4 140.0L160.9 140.4L159.4 140.9L157.9 141.4L156.4 141.9L154.9 142.3L153.4 142.8L151.9 143.3L150.4 143.8L148.9 144.2L147.4 144.7L145.9 145.2L144.4 145.7L142.9 146.2L141.5 146.6L140.0 147.1L138.5 147.6L137.0 148.1L135.5 148.6L134.0 149.1L132.5 149.6L131.0 150.1L129.5 150.6L128.0 151.2L126.5 151.7L125.0 152.3L123.5 152.8L122.0 153.4L120.5 154.0L119.0 154.6L117.6 155.2L116.1 155.8L114.6 156.5L113.1 157.2L111.6 157.9L110.1 158.7L108.6 159.5L107.1 160.3L105.6 161.2L104.1 162.2L102.6 163.1L101.1 164.2L99.6 165.3L98.1 166.4L96.6 167.6L95.1 168.9L93.7 170.2L92.2 171.6L90.7 173.0L89.2 174.5L87.7 176.1L86.2 177.7L84.7 179.3L83.2 181.0L81.7 182.8L80.2 184.5L78.7 186.3L77.2 188.2L75.7 190.0L74.2 191.9L72.7 193.8L71.2 195.7L69.8 197.7L68.3 199.6L66.8 201.6L65.3 203.6L63.8 205.6L62.3 207.6L60.8 209.6L59.3 211.6L57.8 213.6L56.3 215.6L54.8 217.5M255.4 65.6L254.1 67.8L252.8 69.9L251.6 72.0L250.3 74.0L249.0 76.0L247.7 77.9L246.5 79.7L245.2 81.5L243.9 83.2L242.7 84.9L241.4 86.5L240.1 88.0L238.8 89.5L237.6 90.9L236.3 92.3L235.0 93.7L233.7 95.0L232.5 96.2L231.2 97.4L229.9 98.5L228.7 99.6L227.4 100.7L226.1 101.7L224.8 102.6L223.6 103.6L222.3 104.4L221.0 105.3L219.7 106.1L218.5 106.9L217.2 107.6L215.9 108.3L214.6 109.0L213.4 109.7L212.1 110.3L210.8 111.0L209.6 111.6L208.3 112.2L207.0 112.9L205.7 113.5L204.5 114.1L203.2 114.7L201.9 115.3L200.6 115.9L199.4 116.6L198.1 117.2L196.8 117.8L195.6 118.4L194.3 119.0L193.0 119.6L191.7 120.2L190.5 120.8L189.2 121.3L187.9 121.9L186.6 122.5L185.4 123.1L184.1 123.7L182.8 124.2L181.5 124.8L180.3 125.4L179.0 125.9L177.7 126.5L176.5 127.1L175.2 127.6L173.9 128.2L172.6 128.7L171.4 129.3L170.1 129.8L168.8 130.4L167.5 130.9L166.3 131.4L165.0 132.0L163.7 132.5L162.5 133.0L161.2 133.6L159.9 134.1L158.6 134.6L157.4 135.1L156.1 135.7L154.8 136.2L153.5 136.7L152.3 137.2L151.0 137.7L149.7 138.2L148.4 138.7L147.2 139.2L145.9 139.7L144.6 140.2L143.4 140.7L142.1 141.2L140.8 141.7L139.5 142.2L138.3 142.7L137.0 143.1L135.7 143.6L134.4 144.1L133.2 144.6L131.9 145.1L130.6 145.6L129.4 146.1L128.1 146.6L126.8 147.1L125.5 147.6L124.3 148.1L123.0 148.6L121.7 149.1L120.4 149.6L119.2 150.1L117.9 150.7L116.6 151.2L115.3 151.8L114.1 152.3L112.8 152.9L111.5 153.6L110.3 154.2L109.0 154.8L107.7 155.5L106.4 156.2L105.2 157.0L103.9 157.8L102.6 158.6L101.3 159.4L100.1 160.3L98.8 161.3L97.5 162.3L96.3 163.3L95.0 164.4L93.7 165.5L92.4 166.7L91.2 167.9L89.9 169.2L88.6 170.5L87.3 171.8L86.1 173.2L84.8 174.7L83.5 176.2L82.2 177.7L81.0 179.2L79.7 180.8L78.4 182.4L77.2 184.1L75.9 185.7L74.6 187.4L73.3 189.1L72.1 190.8L70.8 192.5L69.5 194.3L68.2 196.0L67.0 197.8L65.7 199.6L64.4 201.3L63.2 203.1L61.9 204.9L60.6 206.7L59.3 208.5L58.1 210.3L56.8 212.2L55.5 214.0L54.2 215.8L53.0 217.5M255.4 67.0L254.1 68.9L252.8 70.8L251.6 72.7L250.3 74.5L249.0 76.2L247.7 77.9L246.4 79.6L245.2 81.2L243.9 82.7L242.6 84.2L241.3 85.6L240.1 87.0L238.8 88.4L237.5 89.7L236.2 91.0L234.9 92.2L233.7 93.4L232.4 94.5L231.1 95.6L229.8 96.7L228.6 97.7L227.3 98.7L226.0 99.6L224.7 100.6L223.4 101.4L222.2 102.3L220.9 103.1L219.6 103.9L218.3 104.6L217.1 105.4L215.8 106.1L214.5 106.7L213.2 107.4L211.9 108.0L210.7 108.7L209.4 109.3L208.1 109.9L206.8 110.6L205.6 111.2L204.3 111.8L203.0 112.4L201.7 113.1L200.4 113.7L199.2 114.3L197.9 114.9L196.6 115.5L195.3 116.1L194.1 116.7L192.8 117.3L191.5 117.9L190.2 118.5L188.9 119.1L187.7 119.7L186.4 120.3L185.1 120.8L183.8 121.4L182.6 122.0L181.3 122.6L180.0 123.1L178.7 123.7L177.4 124.3L176.2 124.8L174.9 125.4L173.6 125.9L172.3 126.5L171.1 127.0L169.8 127.6L168.5 128.1L167.2 128.7L165.9 129.2L164.7 129.7L163.4 130.3L162.1 130.8L160.8 131.3L159.6 131.9L158.3 132.4L157.0 132.9L155.7 133.4L154.4 133.9L153.2 134.5L151.9 135.0L150.6 135.5L149.3 136.0L148.1 136.5L146.8 137.0L145.5 137.5L144.2 138.0L142.9 138.5L141.7 139.0L140.4 139.5L139.1 140.0L137.8 140.5L136.6 140.9L135.3 141.4L134.0 141.9L132.7 142.4L131.4 142.9L130.2 143.4L128.9 143.9L127.6 144.4L126.3 144.9L125.1 145.4L123.8 145.9L122.5 146.4L121.2 146.9L119.9 147.4L118.7 148.0L117.4 148.5L116.1 149.1L114.8 149.6L113.6 150.2L112.3 150.8L111.0 151.5L109.7 152.1L108.4 152.8L107.2 153.5L105.9 154.3L104.6 155.0L103.3 155.8L102.1 156.7L100.8 157.6L99.5 158.5L98.2 159.5L96.9 160.5L95.7 161.6L94.4 162.8L93.1 163.9L91.8 165.2L90.6 166.5L89.3 167.8L88.0 169.2L86.7 170.6L85.5 172.1L84.2 173.6L82.9 175.1L81.6 176.7L80.3 178.3L79.1 179.9L77.8 181.6L76.5 183.3L75.2 185.0L74.0 186.7L72.7 188.5L71.4 190.2L70.1 192.0L68.8 193.8L67.6 195.6L66.3 197.4L65.0 199.2L63.7 201.0L62.5 202.8L61.2 204.7L59.9 206.5L58.6 208.3L57.3 210.2L56.1 212.0L54.8 213.9L53.5 215.7L52.2 217.5M217.7 70.3L216.7 72.7L215.6 75.0L214.6 77.2L213.5 79.4L212.5 81.5L211.4 83.5L210.4 85.4L209.3 87.3L208.3 89.1L207.2 90.8L206.2 92.4L205.1 94.0L204.1 95.5L203.0 96.9L202.0 98.3L200.9 99.6L199.9 100.9L198.8 102.1L197.8 103.2L196.7 104.3L195.7 105.3L194.6 106.3L193.6 107.2L192.5 108.1L191.5 108.9L190.4 109.6L189.4 110.4L188.3 111.0L187.3 111.7L186.2 112.3L185.2 112.9L184.1 113.4L183.1 113.9L182.0 114.4L181.0 114.9L179.9 115.4L178.9 115.9L177.8 116.4L176.8 116.9L175.7 117.4L174.7 117.9L173.6 118.4L172.6 118.9L171.5 119.4L170.5 119.9L169.4 120.4L168.4 120.9L167.3 121.4L166.3 121.9L165.2 122.4L164.2 122.9L163.1 123.4L162.1 123.9L161.0 124.4L160.0 124.9L158.9 125.4L157.9 125.9L156.8 126.4L155.8 126.9L154.7 127.4L153.7 127.9L152.6 128.4L151.6 128.9L150.5 129.4L149.5 129.9L148.4 130.4L147.4 130.9L146.3 131.4L145.3 131.9L144.2 132.4L143.2 132.9L142.1 133.4L141.1 133.9L140.0 134.4L139.0 134.9L137.9 135.4L136.9 136.0L135.8 136.5L134.8 137.0L133.7 137.5L132.7 138.0L131.6 138.5L130.6 139.0L129.5 139.6L128.5 140.1L127.4 140.6L126.4 141.1L125.3 141.7L124.3 142.2L123.2 142.7L122.2 143.3L121.1 143.8L120.1 144.4L119.0 144.9L118.0 145.5L116.9 146.1L115.9 146.7L114.8 147.2L113.8 147.8L112.7 148.4L111.7 149.1L110.6 149.7L109.6 150.3L108.5 151.0L107.5 151.6L106.4 152.3L105.4 153.0L104.3 153.7L103.3 154.4L102.2 155.2L101.2 156.0L100.1 156.8L99.1 157.6L98.0 158.4L97.0 159.3L95.9 160.1L94.9 161.1L93.8 162.0L92.8 163.0L91.7 163.9L90.7 165.0L89.6 166.0L88.6 167.1L87.5 168.2L86.5 169.3L85.4 170.5L84.4 171.6L83.3 172.8L82.3 174.1L81.2 175.3L80.2 176.6L79.1 177.9L78.1 179.2L77.0 180.6L76.0 181.9L74.9 183.3L73.9 184.7L72.8 186.1L71.8 187.5L70.7 188.9L69.7 190.4L68.6 191.8L67.6 193.3L66.5 194.8L65.5 196.3L64.4 197.8L63.4 199.3L62.3 200.8L61.3 202.3L60.2 203.8L59.2 205.4L58.1 206.9L57.1 208.4L56.0 210.0L55.0 211.5L53.9 213.1L52.9 214.6L51.8 216.2L50.8 217.5M217.7 71.9L216.7 74.0L215.6 76.1L214.5 78.0L213.5 79.9L212.4 81.7L211.4 83.5L210.3 85.2L209.3 86.8L208.2 88.4L207.2 89.9L206.1 91.4L205.1 92.8L204.0 94.1L202.9 95.4L201.9 96.7L200.8 97.8L199.8 99.0L198.7 100.1L197.7 101.1L196.6 102.1L195.6 103.0L194.5 103.9L193.5 104.7L192.4 105.5L191.3 106.3L190.3 107.0L189.2 107.7L188.2 108.4L187.1 109.0L186.1 109.6L185.0 110.1L184.0 110.6L182.9 111.2L181.9 111.7L180.8 112.2L179.7 112.7L178.7 113.2L177.6 113.7L176.6 114.2L175.5 114.7L174.5 115.2L173.4 115.7L172.4 116.2L171.3 116.7L170.2 117.2L169.2 117.7L168.1 118.2L167.1 118.7L166.0 119.2L165.0 119.7L163.9 120.2L162.9 120.7L161.8 121.2L160.8 121.7L159.7 122.2L158.6 122.7L157.6 123.2L156.5 123.7L155.5 124.2L154.4 124.7L153.4 125.2L152.3 125.7L151.3 126.2L150.2 126.7L149.2 127.2L148.1 127.7L147.0 128.2L146.0 128.7L144.9 129.2L143.9 129.7L142.8 130.2L141.8 130.7L140.7 131.2L139.7 131.8L138.6 132.3L137.6 132.8L136.5 133.3L135.4 133.8L134.4 134.3L133.3 134.8L132.3 135.4L131.2 135.9L130.2 136.4L129.1 136.9L128.1 137.4L127.0 138.0L126.0 138.5L124.9 139.0L123.8 139.6L122.8 140.1L121.7 140.7L120.7 141.2L119.6 141.8L118.6 142.4L117.5 142.9L116.5 143.5L115.4 144.1L114.4 144.7L113.3 145.3L112.2 145.9L111.2 146.6L110.1 147.2L109.1 147.9L108.0 148.5L107.0 149.2L105.9 149.9L104.9 150.6L103.8 151.4L102.7 152.1L101.7 152.9L100.6 153.7L99.6 154.5L98.5 155.4L97.5 156.3L96.4 157.2L95.4 158.1L94.3 159.1L93.3 160.0L92.2 161.1L91.1 162.1L90.1 163.2L89.0 164.3L88.0 165.4L86.9 166.6L85.9 167.7L84.8 169.0L83.8 170.2L82.7 171.5L81.7 172.7L80.6 174.1L79.5 175.4L78.5 176.7L77.4 178.1L76.4 179.5L75.3 180.9L74.3 182.3L73.2 183.8L72.2 185.2L71.1 186.7L70.1 188.2L69.0 189.7L67.9 191.2L66.9 192.7L65.8 194.2L64.8 195.7L63.7 197.3L62.7 198.8L61.6 200.4L60.6 201.9L59.5 203.5L58.5 205.0L57.4 206.6L56.3 208.2L55.3 209.8L54.2 211.3L53.2 212.9L52.1 214.5L51.1 216.1L50.0 217.5M182.2 74.6L181.4 76.6L180.6 78.6L179.7 80.5L178.9 82.4L178.0 84.2L177.2 86.0L176.3 87.7L175.5 89.3L174.6 90.9L173.8 92.4L172.9 93.8L172.1 95.2L171.3 96.6L170.4 97.9L169.6 99.1L168.7 100.3L167.9 101.4L167.0 102.5L166.2 103.6L165.3 104.5L164.5 105.5L163.6 106.4L162.8 107.2L162.0 108.0L161.1 108.8L160.3 109.5L159.4 110.2L158.6 110.8L157.7 111.4L156.9 111.9L156.0 112.5L155.2 112.9L154.3 113.4L153.5 113.8L152.7 114.2L151.8 114.6L151.0 114.9L150.1 115.3L149.3 115.6L148.4 115.9L147.6 116.2L146.7 116.5L145.9 116.8L145.0 117.1L144.2 117.4L143.4 117.7L142.5 118.0L141.7 118.3L140.8 118.7L140.0 119.0L139.1 119.3L138.3 119.6L137.4 119.9L136.6 120.2L135.7 120.6L134.9 120.9L134.1 121.2L133.2 121.5L132.4 121.9L131.5 122.2L130.7 122.5L129.8 122.9L129.0 123.2L128.1 123.6L127.3 123.9L126.4 124.3L125.6 124.7L124.7 125.1L123.9 125.4L123.1 125.8L122.2 126.2L121.4 126.6L120.5 127.1L119.7 127.5L118.8 127.9L118.0 128.4L117.1 128.8L116.3 129.3L115.4 129.8L114.6 130.3L113.8 130.8L112.9 131.4L112.1 131.9L111.2 132.5L110.4 133.1L109.5 133.7L108.7 134.4L107.8 135.0L107.0 135.7L106.1 136.4L105.3 137.1L104.5 137.9L103.6 138.7L102.8 139.5L101.9 140.3L101.1 141.2L100.2 142.0L99.4 142.9L98.5 143.8L97.7 144.8L96.8 145.7L96.0 146.7L95.2 147.7L94.3 148.8L93.5 149.8L92.6 150.9L91.8 152.0L90.9 153.1L90.1 154.2L89.2 155.3L88.4 156.4L87.5 157.6L86.7 158.8L85.9 159.9L85.0 161.1L84.2 162.3L83.3 163.5L82.5 164.7L81.6 166.0L80.8 167.2L79.9 168.4L79.1 169.7L78.2 170.9L77.4 172.2L76.5 173.4L75.7 174.7L74.9 176.0L74.0 177.3L73.2 178.5L72.3 179.8L71.5 181.1L70.6 182.4L69.8 183.7L68.9 184.9L68.1 186.2L67.2 187.5L66.4 188.8L65.6 190.1L64.7 191.4L63.9 192.7L63.0 194.0L62.2 195.3L61.3 196.6L60.5 197.9L59.6 199.2L58.8 200.5L57.9 201.8L57.1 203.1L56.3 204.4L55.4 205.7L54.6 207.1L53.7 208.4L52.9 209.7L52.0 211.0L51.2 212.3L50.3 213.6L49.5 214.9L48.6 216.2L47.8 217.5M182.2 76.0L181.4 77.9L180.5 79.7L179.7 81.5L178.8 83.2L178.0 84.8L177.1 86.4L176.3 88.0L175.4 89.5L174.6 90.9L173.7 92.3L172.9 93.7L172.0 94.9L171.2 96.2L170.3 97.4L169.5 98.5L168.6 99.6L167.8 100.7L166.9 101.7L166.1 102.6L165.2 103.5L164.4 104.4L163.5 105.2L162.7 106.0L161.8 106.8L161.0 107.5L160.1 108.1L159.3 108.8L158.4 109.4L157.6 109.9L156.7 110.5L155.9 111.0L155.0 111.4L154.2 111.9L153.3 112.3L152.5 112.6L151.6 113.0L150.8 113.3L149.9 113.7L149.1 114.0L148.2 114.3L147.4 114.6L146.5 114.9L145.7 115.2L144.8 115.5L144.0 115.8L143.1 116.1L142.3 116.4L141.4 116.8L140.6 117.1L139.7 117.4L138.9 117.7L138.0 118.0L137.2 118.3L136.3 118.6L135.5 119.0L134.6 119.3L133.8 119.6L132.9 119.9L132.1 120.3L131.2 120.6L130.4 121.0L129.5 121.3L128.7 121.6L127.8 122.0L127.0 122.4L126.1 122.7L125.3 123.1L124.4 123.5L123.6 123.8L122.7 124.2L121.9 124.6L121.0 125.0L120.2 125.5L119.3 125.9L118.5 126.3L117.6 126.8L116.8 127.2L115.9 127.7L115.1 128.2L114.2 128.7L113.4 129.2L112.5 129.8L111.7 130.3L110.8 130.9L110.0 131.5L109.1 132.1L108.3 132.8L107.4 133.5L106.6 134.1L105.7 134.9L104.9 135.6L104.0 136.4L103.2 137.1L102.3 138.0L101.5 138.8L100.6 139.7L99.8 140.5L98.9 141.5L98.1 142.4L97.2 143.4L96.4 144.3L95.5 145.3L94.7 146.4L93.8 147.4L93.0 148.5L92.1 149.6L91.3 150.7L90.4 151.8L89.6 152.9L88.7 154.1L87.9 155.2L87.0 156.4L86.2 157.6L85.3 158.8L84.5 160.0L83.6 161.3L82.8 162.5L81.9 163.7L81.1 165.0L80.2 166.2L79.4 167.5L78.5 168.8L77.7 170.0L76.8 171.3L76.0 172.6L75.1 173.9L74.3 175.2L73.4 176.5L72.6 177.8L71.7 179.1L70.9 180.4L70.0 181.7L69.2 183.0L68.3 184.3L67.5 185.7L66.6 187.0L65.8 188.3L64.9 189.6L64.1 190.9L63.2 192.3L62.4 193.6L61.5 194.9L60.7 196.2L59.8 197.6L59.0 198.9L58.1 200.2L57.3 201.5L56.4 202.9L55.6 204.2L54.7 205.5L53.9 206.9L53.0 208.2L52.2 209.5L51.3 210.9L50.5 212.2L49.6 213.5L48.8 214.9L47.9 216.2L47.1 217.5M143.5 82.1L142.9 84.2L142.2 86.2L141.6 88.1L141.0 90.0L140.4 91.8L139.8 93.6L139.2 95.3L138.5 96.9L137.9 98.5L137.3 100.0L136.7 101.5L136.1 103.0L135.5 104.3L134.8 105.7L134.2 106.9L133.6 108.2L133.0 109.4L132.4 110.5L131.8 111.6L131.2 112.6L130.5 113.6L129.9 114.6L129.3 115.5L128.7 116.3L128.1 117.2L127.5 118.0L126.8 118.7L126.2 119.4L125.6 120.1L125.0 120.7L124.4 121.4L123.8 121.9L123.1 122.5L122.5 123.0L121.9 123.5L121.3 124.0L120.7 124.4L120.1 124.8L119.5 125.2L118.8 125.6L118.2 126.0L117.6 126.3L117.0 126.7L116.4 127.0L115.8 127.3L115.1 127.7L114.5 128.0L113.9 128.3L113.3 128.7L112.7 129.0L112.1 129.4L111.5 129.8L110.8 130.2L110.2 130.6L109.6 131.0L109.0 131.4L108.4 131.8L107.8 132.2L107.1 132.6L106.5 133.1L105.9 133.6L105.3 134.0L104.7 134.5L104.1 135.0L103.5 135.5L102.8 136.0L102.2 136.5L101.6 137.1L101.0 137.6L100.4 138.2L99.8 138.8L99.1 139.4L98.5 140.0L97.9 140.6L97.3 141.3L96.7 141.9L96.1 142.6L95.4 143.2L94.8 143.9L94.2 144.6L93.6 145.3L93.0 146.0L92.4 146.8L91.8 147.5L91.1 148.3L90.5 149.1L89.9 149.8L89.3 150.6L88.7 151.4L88.1 152.2L87.4 153.1L86.8 153.9L86.2 154.7L85.6 155.6L85.0 156.4L84.4 157.3L83.8 158.1L83.1 159.0L82.5 159.9L81.9 160.8L81.3 161.7L80.7 162.6L80.1 163.5L79.4 164.4L78.8 165.3L78.2 166.2L77.6 167.1L77.0 168.1L76.4 169.0L75.7 169.9L75.1 170.9L74.5 171.8L73.9 172.7L73.3 173.7L72.7 174.6L72.1 175.6L71.4 176.5L70.8 177.5L70.2 178.5L69.6 179.4L69.0 180.4L68.4 181.3L67.7 182.3L67.1 183.3L66.5 184.2L65.9 185.2L65.3 186.2L64.7 187.1L64.0 188.1L63.4 189.1L62.8 190.1L62.2 191.0L61.6 192.0L61.0 193.0L60.4 194.0L59.7 194.9L59.1 195.9L58.5 196.9L57.9 197.9L57.3 198.9L56.7 199.8L56.0 200.8L55.4 201.8L54.8 202.8L54.2 203.8L53.6 204.7L53.0 205.7L52.4 206.7L51.7 207.7L51.1 208.7L50.5 209.7L49.9 210.6L49.3 211.6L48.7 212.6L48.0 213.6L47.4 214.6L46.8 215.6L46.2 216.5L45.6 217.5M143.5 84.5L142.8 86.5L142.2 88.4L141.6 90.2L141.0 92.0L140.4 93.7L139.7 95.3L139.1 96.9L138.5 98.5L137.9 100.0L137.3 101.4L136.6 102.8L136.0 104.1L135.4 105.4L134.8 106.6L134.2 107.8L133.5 108.9L132.9 110.0L132.3 111.0L131.7 112.0L131.1 112.9L130.4 113.8L129.8 114.7L129.2 115.5L128.6 116.2L128.0 117.0L127.3 117.6L126.7 118.3L126.1 118.9L125.5 119.5L124.9 120.0L124.2 120.6L123.6 121.0L123.0 121.5L122.4 121.9L121.8 122.3L121.1 122.7L120.5 123.1L119.9 123.5L119.3 123.8L118.7 124.1L118.0 124.4L117.4 124.8L116.8 125.1L116.2 125.4L115.6 125.7L114.9 126.1L114.3 126.4L113.7 126.7L113.1 127.1L112.5 127.5L111.8 127.8L111.2 128.2L110.6 128.6L110.0 129.0L109.4 129.4L108.7 129.8L108.1 130.2L107.5 130.7L106.9 131.1L106.2 131.6L105.6 132.0L105.0 132.5L104.4 133.0L103.8 133.5L103.1 134.0L102.5 134.5L101.9 135.1L101.3 135.6L100.7 136.2L100.0 136.8L99.4 137.3L98.8 138.0L98.2 138.6L97.6 139.2L96.9 139.9L96.3 140.5L95.7 141.2L95.1 141.9L94.5 142.6L93.8 143.3L93.2 144.0L92.6 144.8L92.0 145.5L91.4 146.3L90.7 147.0L90.1 147.8L89.5 148.6L88.9 149.4L88.3 150.2L87.6 151.1L87.0 151.9L86.4 152.8L85.8 153.6L85.2 154.5L84.5 155.3L83.9 156.2L83.3 157.1L82.7 158.0L82.1 158.9L81.4 159.8L80.8 160.7L80.2 161.6L79.6 162.6L79.0 163.5L78.3 164.4L77.7 165.3L77.1 166.3L76.5 167.2L75.9 168.2L75.2 169.1L74.6 170.1L74.0 171.0L73.4 172.0L72.8 173.0L72.1 173.9L71.5 174.9L70.9 175.9L70.3 176.8L69.7 177.8L69.0 178.8L68.4 179.8L67.8 180.7L67.2 181.7L66.6 182.7L65.9 183.7L65.3 184.7L64.7 185.7L64.1 186.7L63.5 187.6L62.8 188.6L62.2 189.6L61.6 190.6L61.0 191.6L60.3 192.6L59.7 193.6L59.1 194.6L58.5 195.6L57.9 196.6L57.2 197.6L56.6 198.6L56.0 199.6L55.4 200.5L54.8 201.5L54.1 202.5L53.5 203.5L52.9 204.5L52.3 205.5L51.7 206.5L51.0 207.5L50.4 208.5L49.8 209.5L49.2 210.5L48.6 211.5L47.9 212.5L47.3 213.5L46.7 214.5L46.1 215.5L45.5 216.5L44.8 217.5M145.3 80.2L144.7 82.3L144.0 84.4L143.4 86.4L142.8 88.3L142.1 90.1L141.5 91.9L140.9 93.6L140.2 95.2L139.6 96.8L138.9 98.3L138.3 99.8L137.7 101.2L137.0 102.5L136.4 103.8L135.8 105.1L135.1 106.2L134.5 107.4L133.9 108.4L133.2 109.5L132.6 110.4L131.9 111.3L131.3 112.2L130.7 113.0L130.0 113.8L129.4 114.6L128.8 115.3L128.1 115.9L127.5 116.5L126.9 117.1L126.2 117.7L125.6 118.2L124.9 118.6L124.3 119.1L123.7 119.5L123.0 119.9L122.4 120.3L121.8 120.6L121.1 121.0L120.5 121.3L119.9 121.6L119.2 121.9L118.6 122.2L117.9 122.5L117.3 122.8L116.7 123.2L116.0 123.5L115.4 123.8L114.8 124.2L114.1 124.5L113.5 124.9L112.8 125.2L112.2 125.6L111.6 126.0L110.9 126.4L110.3 126.8L109.7 127.2L109.0 127.6L108.4 128.0L107.8 128.4L107.1 128.9L106.5 129.3L105.8 129.8L105.2 130.3L104.6 130.8L103.9 131.3L103.3 131.8L102.7 132.4L102.0 132.9L101.4 133.5L100.8 134.0L100.1 134.6L99.5 135.2L98.8 135.9L98.2 136.5L97.6 137.1L96.9 137.8L96.3 138.5L95.7 139.2L95.0 139.9L94.4 140.6L93.8 141.3L93.1 142.1L92.5 142.9L91.8 143.6L91.2 144.4L90.6 145.2L89.9 146.0L89.3 146.9L88.7 147.7L88.0 148.6L87.4 149.4L86.8 150.3L86.1 151.2L85.5 152.1L84.8 153.0L84.2 153.9L83.6 154.8L82.9 155.7L82.3 156.6L81.7 157.6L81.0 158.5L80.4 159.5L79.7 160.4L79.1 161.4L78.5 162.3L77.8 163.3L77.2 164.3L76.6 165.3L75.9 166.3L75.3 167.2L74.7 168.2L74.0 169.2L73.4 170.2L72.7 171.2L72.1 172.2L71.5 173.2L70.8 174.2L70.2 175.3L69.6 176.3L68.9 177.3L68.3 178.3L67.7 179.3L67.0 180.3L66.4 181.4L65.7 182.4L65.1 183.4L64.5 184.4L63.8 185.4L63.2 186.5L62.6 187.5L61.9 188.5L61.3 189.6L60.7 190.6L60.0 191.6L59.4 192.7L58.7 193.7L58.1 194.7L57.5 195.7L56.8 196.8L56.2 197.8L55.6 198.9L54.9 199.9L54.3 200.9L53.7 202.0L53.0 203.0L52.4 204.0L51.7 205.1L51.1 206.1L50.5 207.1L49.8 208.2L49.2 209.2L48.6 210.3L47.9 211.3L47.3 212.3L46.6 213.4L46.0 214.4L45.4 215.4L44.7 216.5L44.1 217.5" stroke="#808080" stroke-width="2.4" fill="none" stroke-linejoin="round" stroke-linecap="round"/>
<path d="M38.2 217.5L38.9 216.2L39.6 214.8L40.3 213.5L40.9 212.1L41.6 210.8L42.3 209.5L43.0 208.1L43.7 206.8L44.4 205.5L45.1 204.1L45.9 202.8L46.6 201.5L47.3 200.1L48.0 198.8L48.7 197.5L49.4 196.2L50.1 194.8L50.8 193.5L51.5 192.1L52.2 190.8L52.8 189.4L53.4 188.1L54.0 186.7L54.6 185.3L55.2 183.9L55.8 182.5L56.3 181.1L56.9 179.7L57.5 178.3L58.0 176.9L58.6 175.5L59.2 174.1L59.8 172.8L60.4 171.4L61.0 170.0L61.6 168.6L62.3 167.3L62.9 165.9L63.5 164.5L64.1 163.1L64.7 161.8L65.4 160.4L66.0 159.0L66.7 157.7L67.4 156.3L68.1 155.0L68.9 153.7L69.7 152.5L70.5 151.2L71.3 149.9L72.2 148.7L73.0 147.4L73.8 146.1L74.5 144.8L75.3 143.5L75.9 142.2L76.6 140.8L77.3 139.5L77.9 138.1L78.6 136.7L79.3 135.4L80.0 134.1L80.8 132.8L81.6 131.5L82.4 130.2L83.2 129.0L84.1 127.8L85.0 126.5L85.9 125.3L86.9 124.2L87.8 123.0L88.8 121.8L89.8 120.7L90.8 119.6L91.9 118.5L93.0 117.5L94.1 116.5L95.2 115.5L96.4 114.6L97.6 113.7L98.9 112.8L100.2 112.0L101.5 111.2L102.8 110.5L104.1 109.8L105.5 109.1L106.8 108.5L108.2 107.9L109.6 107.3L111.0 106.7L112.4 106.1L113.8 105.6L115.2 105.0L116.6 104.5L118.0 104.0L119.4 103.4L120.8 102.9L122.2 102.3L123.6 101.8L125.0 101.2L126.4 100.7L127.9 100.2L129.3 99.6L130.7 99.1L132.1 98.6L133.5 98.1L135.0 97.6L136.4 97.2L137.8 96.7L139.3 96.3L140.7 95.8L142.1 95.4L143.6 95.0L145.0 94.5L146.5 94.1L147.9 93.6L149.4 93.2L150.8 92.8L152.2 92.3L153.7 91.9L155.1 91.4L156.6 91.0L158.0 90.5L159.4 90.0L160.8 89.5L162.3 89.0L163.7 88.5L165.1 88.0L166.5 87.5L167.9 87.0L169.3 86.5L170.8 85.9L172.2 85.4L173.6 84.9L175.0 84.3L176.4 83.7L177.8 83.2L179.2 82.6L180.6 82.1L182.0 81.5L183.4 81.0L184.8 80.4L186.2 79.9L187.6 79.3L189.0 78.8L190.4 78.2L191.8 77.7L193.2 77.1L194.6 76.5L196.0 76.0L197.4 75.4L198.8 74.9L200.2 74.3L201.6 73.7L203.0 73.2L204.4 72.6L205.8 72.0L207.1 71.4L208.5 70.8L209.9 70.2L211.3 69.6L212.7 69.0L214.0 68.4L215.4 67.8L216.8 67.1L218.2 66.5L219.5 65.9L220.9 65.2L222.2 64.6L223.6 63.9L224.9 63.2L226.3 62.6L227.6 61.9L229.0 61.2L230.3 60.5L231.7 59.8L233.0 59.1L234.3 58.4L235.6 57.7L237.0 56.9L238.3 56.2L239.6 55.5L240.9 54.8L242.2 54.0L243.5 53.3L244.8 52.5L246.2 51.8L247.5 51.0L248.8 50.3L250.1 49.5L251.4 48.7L252.7 48.0L254.0 47.2L255.3 46.4L256.5 45.7L257.8 44.9L259.1 44.1L260.4 43.3L261.7 42.6L263.0 41.8L264.3 41.0L265.6 40.2L266.9 39.5L268.2 38.7L269.5 37.9L270.7 37.1L272.0 36.3L273.3 35.6L274.6 34.8L275.9 34.0L277.2 33.2L278.5 32.4L279.8 31.7L281.1 30.9L282.4 30.1L283.7 29.3L284.9 28.6L286.2 27.8L287.5 27.0L288.8 26.2L290.1 25.5L291.4 24.7L292.7 23.9M58.1 174.9L58.7 173.6L59.3 172.4L59.8 171.1L60.4 169.8L61.0 168.5L61.6 167.3L62.1 166.0L62.7 164.7L63.2 163.4L63.8 162.2L64.4 160.9L65.0 159.6L65.6 158.4L66.2 157.1L66.9 155.9L67.6 154.7L68.3 153.5L69.0 152.3L69.8 151.2L70.6 150.0L71.3 148.8L72.1 147.7L72.8 146.5L73.5 145.3L74.2 144.1L74.9 142.8L75.5 141.6L76.1 140.3L76.7 139.1L77.3 137.8L77.9 136.6L78.6 135.3L79.3 134.1L80.0 132.9L80.7 131.7L81.4 130.6L82.2 129.4L83.0 128.3L83.8 127.1L84.7 126.0L85.5 124.9L86.4 123.8L87.3 122.7L88.1 121.6L89.0 120.5L90.0 119.5L90.9 118.5L91.9 117.5L92.9 116.5L94.0 115.6L95.1 114.8L96.2 113.9L97.3 113.2L98.5 112.4L99.7 111.7L100.9 111.1L102.2 110.4L103.4 109.7L104.7 109.1M292.7 23.9L291.1 26.1L289.5 28.2L288.0 30.4L286.4 32.5L284.8 34.5L283.2 36.5L281.7 38.5L280.1 40.5L278.5 42.4L276.9 44.3L275.4 46.2L273.8 48.0L272.2 49.9L270.6 51.6L269.1 53.4L267.5 55.1L265.9 56.8L264.3 58.4L262.8 60.0L261.2 61.6L259.6 63.1L258.0 64.6L256.5 66.1L254.9 67.6L253.3 69.0L251.7 70.4L250.2 71.7L248.6 73.0L247.0 74.3L245.4 75.5L243.9 76.7L242.3 77.9L240.7 79.0L239.1 80.1L237.6 81.2L236.0 82.2L234.4 83.2L232.8 84.1L231.3 85.1L229.7 85.9L228.1 86.8L226.5 87.6L225.0 88.4L223.4 89.1L221.8 89.8L220.2 90.5L218.7 91.1L217.1 91.7L215.5 92.3L213.9 93.0L212.4 93.6L210.8 94.3L209.2 95.0L207.6 95.6L206.1 96.3L204.5 97.0L202.9 97.7L201.3 98.4L199.8 99.1L198.2 99.8L196.6 100.4L195.0 101.1L193.5 101.8L191.9 102.5L190.3 103.1L188.7 103.8L187.2 104.4L185.6 105.0L184.0 105.6L182.4 106.2L180.9 106.8L179.3 107.3L177.7 107.9L176.1 108.4L174.6 108.9L173.0 109.4L171.4 109.9L169.8 110.4L168.3 110.9L166.7 111.4L165.1 111.9L163.5 112.4L162.0 112.9L160.4 113.4L158.8 113.9L157.2 114.3L155.7 114.8L154.1 115.3L152.5 115.9L150.9 116.4L149.4 116.9L147.8 117.5L146.2 118.0L144.6 118.6L143.1 119.2L141.5 119.8L139.9 120.4L138.3 121.0L136.8 121.6L135.2 122.2L133.6 122.8L132.0 123.5L130.5 124.1L128.9 124.8L127.3 125.5L125.7 126.1L124.2 126.8L122.6 127.5L121.0 128.1L119.4 128.8L117.9 129.5L116.3 130.2L114.7 130.9L113.1 131.6L111.6 132.4L110.0 133.2L108.4 134.0L106.8 134.9L105.3 135.9L103.7 137.0L102.1 138.1L100.5 139.4L99.0 140.6L97.4 141.9L95.8 143.2L94.2 144.6L92.7 145.9L91.1 147.2L89.5 148.5L87.9 149.9L86.4 151.3L84.8 152.8L83.2 154.3L81.6 156.0L80.1 157.8L78.5 159.7L76.9 161.7L75.3 163.7L73.8 165.8L72.2 167.9L70.6 170.1L69.0 172.4L67.5 174.8L65.9 177.4L64.3 180.1L62.7 183.0L61.2 186.0L59.6 188.8L58.0 191.6L56.4 194.3L54.9 197.0L53.3 199.5L51.7 201.7L50.1 203.7L48.6 205.9L47.0 208.4L45.4 211.2L43.8 214.2L42.3 217.5M292.7 23.9L291.1 26.1L289.6 28.3L288.0 30.4L286.5 32.5L284.9 34.6L283.4 36.6L281.8 38.6L280.3 40.6L278.7 42.6L277.2 44.5L275.6 46.4L274.0 48.2L272.5 50.1L270.9 51.9L269.4 53.7L267.8 55.4L266.3 57.1L264.7 58.8L263.2 60.4L261.6 62.1L260.1 63.6L258.5 65.2L256.9 66.7L255.4 68.2L253.8 69.7L252.3 71.1L250.7 72.5L249.2 73.9L247.6 75.2L246.1 76.5L244.5 77.8L243.0 79.0L241.4 80.2L239.9 81.4L238.3 82.5L236.7 83.6L235.2 84.7L233.6 85.8L232.1 86.8L230.5 87.7L229.0 88.7L227.4 89.6L225.9 90.5L224.3 91.3L222.8 92.1L221.2 92.9L219.6 93.6L218.1 94.3L216.5 95.0L215.0 95.6L213.4 96.2L211.9 96.9L210.3 97.5L208.8 98.2L207.2 98.8L205.7 99.5L204.1 100.2L202.6 100.8L201.0 101.5L199.4 102.1L197.9 102.8L196.3 103.5L194.8 104.1L193.2 104.8L191.7 105.4L190.1 106.1L188.6 106.7L187.0 107.3L185.5 107.9L183.9 108.5L182.3 109.1L180.8 109.6L179.2 110.2L177.7 110.7L176.1 111.3L174.6 111.8L173.0 112.3L171.5 112.8L169.9 113.3L168.4 113.8L166.8 114.3L165.3 114.8L163.7 115.3L162.1 115.8L160.6 116.3L159.0 116.8L157.5 117.3L155.9 117.8L154.4 118.3L152.8 118.8L151.3 119.3L149.7 119.9L148.2 120.4L146.6 120.9L145.0 121.5L143.5 122.1L141.9 122.6L140.4 123.2L138.8 123.8L137.3 124.4L135.7 125.0L134.2 125.6L132.6 126.2L131.1 126.9L129.5 127.5L128.0 128.2L126.4 129.0L124.8 129.7L123.3 130.6L121.7 131.4L120.2 132.3L118.6 133.2L117.1 134.1L115.5 135.1L114.0 136.0L112.4 136.8L110.9 137.7L109.3 138.5L107.7 139.3L106.2 140.1L104.6 140.9L103.1 141.7L101.5 142.5L100.0 143.4L98.4 144.3L96.9 145.4L95.3 146.5L93.8 147.7L92.2 148.9L90.7 150.3L89.1 151.6L87.5 153.1L86.0 154.5L84.4 156.0L82.9 157.6L81.3 159.2L79.8 160.9L78.2 162.6L76.7 164.5L75.1 166.3L73.6 168.3L72.0 170.4L70.4 172.6L68.9 174.8L67.3 177.3L65.8 179.8L64.2 182.5L62.7 185.3L61.1 188.1L59.6 191.0L58.0 193.8L56.5 196.6L54.9 199.2L53.4 201.8L51.8 204.3L50.2 206.8L48.7 209.3L47.1 211.7L45.6 214.1M241.3 54.2L242.2 53.7L243.1 53.2L244.0 52.7L244.8 52.2L245.7 51.6L246.6 51.1L247.5 50.6L248.3 50.1L249.2 49.6L250.1 49.1L250.9 48.6L251.8 48.0L252.7 47.5L253.5 47.0L254.4 46.5L255.3 46.0L256.1 45.4L257.0 44.9L257.9 44.4L258.7 43.8L259.6 43.3L260.4 42.8L261.3 42.2L262.1 41.7L263.0 41.1L263.8 40.6L264.7 40.0L265.5 39.5L266.4 38.9L267.2 38.3L268.0 37.8L268.9 37.2L269.7 36.6L270.6 36.1L271.4 35.5L272.2 34.9L273.1 34.4L273.9 33.8L274.8 33.2L275.6 32.7L276.5 32.2L277.3 31.7L278.2 31.2L279.1 30.7L280.0 30.2L280.9 29.7L281.8 29.2L282.7 28.7L283.6 28.3L284.5 27.8L285.4 27.4L286.3 26.9L287.2 26.5L288.1 26.1L289.0 25.6L289.9 25.2L290.9 24.8L291.8 24.3L292.7 23.9M255.0 45.7L254.5 46.4L253.9 47.2L253.3 48.0L252.8 48.7L252.2 49.5L251.6 50.2L251.1 51.0L250.5 51.7L249.9 52.5L249.3 53.2L248.7 54.0L248.1 54.7L247.5 55.4L246.9 56.2L246.3 56.9L245.7 57.6L245.1 58.3L244.4 59.0L243.8 59.7L243.2 60.5L242.6 61.2L242.0 61.9L241.3 62.6L240.7 63.3L240.1 64.0L239.5 64.7L238.8 65.4L238.2 66.1L237.6 66.8L237.0 67.6L236.3 68.3L235.7 69.0L235.1 69.7L234.5 70.4L233.8 71.1L233.2 71.8L232.6 72.5L231.9 73.2L231.2 73.9L230.6 74.5L229.9 75.2L229.1 75.8L228.4 76.4L227.7 77.0L226.9 77.5L226.1 78.1L225.4 78.6L224.6 79.2L223.8 79.7L223.0 80.2L222.1 80.6L221.3 81.1L220.5 81.6L219.7 82.0L218.8 82.5L218.0 82.9L217.2 83.4L216.3 83.8L215.5 84.3" stroke="#ff1a1a" stroke-width="1.5" fill="none" stroke-linejoin="round" stroke-linecap="round"/>
<path d="M37.5 217.5L38.0 216.1L38.6 214.7L39.2 213.3L39.7 211.9L40.3 210.5L40.9 209.1L41.5 207.7L42.0 206.4L42.6 205.0L43.2 203.6L43.8 202.2L44.4 200.8L45.0 199.4L45.6 198.0L46.2 196.6L46.8 195.3L47.4 193.9L48.0 192.5L48.6 191.1L49.3 189.8L49.9 188.4L50.5 187.0L51.2 185.7L51.8 184.3L52.5 183.0L53.1 181.6L53.8 180.2L54.5 178.9L55.1 177.5L55.8 176.2L56.5 174.8L57.2 173.5L57.8 172.2L58.5 170.8L59.2 169.5L59.9 168.2L60.6 166.8L61.3 165.5L62.0 164.2L62.8 162.8L63.5 161.5L64.2 160.2L64.9 158.8L65.6 157.5L66.3 156.2L67.0 154.9L67.7 153.5L68.4 152.2L69.2 150.9L69.9 149.5L70.6 148.2L71.2 146.9L71.9 145.5L72.6 144.2L73.3 142.8L74.0 141.5L74.7 140.2L75.4 138.8L76.1 137.5L76.8 136.2L77.5 134.8L78.2 133.5L79.0 132.2L79.7 130.9L80.5 129.6L81.3 128.3L82.1 127.0L82.9 125.8L83.8 124.5L84.7 123.3L85.6 122.1L86.5 120.9L87.4 119.7L88.4 118.5L89.4 117.4L90.5 116.3L91.5 115.3L92.6 114.2L93.8 113.2L94.9 112.3L96.1 111.3L97.3 110.5L98.6 109.6L99.9 108.8L101.2 108.0L102.5 107.2L103.8 106.5L105.2 105.8L106.5 105.2L107.9 104.6L109.3 104.0L110.7 103.4L112.1 102.9L113.5 102.4L115.0 101.9L116.4 101.4L117.8 100.9L119.3 100.5L120.7 100.0L122.1 99.6L123.6 99.1L125.0 98.6L126.4 98.1L127.8 97.6L129.2 97.1L130.7 96.6L132.1 96.0L133.5 95.5L134.9 94.9L136.3 94.4L137.7 93.8L139.1 93.3L140.5 92.7L141.9 92.2L143.3 91.6L144.7 91.1L146.1 90.6L147.5 90.1L149.0 89.6L150.4 89.2L151.8 88.7L153.3 88.3L154.7 87.8L156.2 87.4L157.6 86.9L159.0 86.5L160.5 86.0L161.9 85.6L163.3 85.1L164.8 84.6L166.2 84.1L167.6 83.6L169.0 83.1L170.4 82.6L171.8 82.0L173.2 81.5L174.6 80.9L176.0 80.4L177.4 79.8L178.8 79.2L180.2 78.7L181.6 78.1L183.0 77.5L184.4 77.0L185.8 76.4L187.2 75.9L188.6 75.3L190.0 74.8L191.4 74.2L192.8 73.7L194.3 73.1L195.7 72.6L197.1 72.1L198.5 71.6L199.9 71.1L201.3 70.6L202.8 70.1L204.2 69.6L205.6 69.1L207.1 68.6L208.5 68.1L209.9 67.6L211.3 67.2L212.8 66.7L214.2 66.1L215.6 65.6L217.0 65.1L218.4 64.5L219.8 63.9L221.1 63.3L222.5 62.6L223.8 62.0L225.2 61.3L226.5 60.6L227.9 59.9L229.2 59.2L230.5 58.4L231.8 57.7L233.1 56.9L234.4 56.2L235.7 55.4L237.0 54.6L238.3 53.8L239.6 53.0L240.9 52.2L242.1 51.4L243.4 50.6L244.7 49.8L246.0 49.0L247.2 48.2L248.5 47.4L249.8 46.6L251.0 45.8L252.3 44.9L253.6 44.1L254.8 43.3L256.0 42.4L257.3 41.6L258.5 40.7L259.8 39.9L261.0 39.0L262.2 38.1L263.5 37.3L264.7 36.4L265.9 35.5L267.1 34.6L268.4 33.8L269.6 32.9L270.8 32.0L272.1 31.1L273.3 30.3L274.5 29.4L275.8 28.5L277.0 27.7L278.2 26.8L279.5 26.0L280.7 25.1L282.0 24.3L283.2 23.4L284.5 22.6L285.7 21.7L287.0 20.9L288.2 20.0L289.5 19.2L290.7 18.4L292.0 17.5M292.0 17.5L290.4 20.1L288.8 22.6L287.2 25.0L285.7 27.4L284.1 29.7L282.5 31.9L280.9 34.1L279.4 36.3L277.8 38.4L276.2 40.4L274.6 42.4L273.1 44.4L271.5 46.2L269.9 48.1L268.3 49.8L266.8 51.6L265.2 53.3L263.6 54.9L262.0 56.5L260.5 58.0L258.9 59.5L257.3 60.9L255.7 62.3L254.2 63.6L252.6 65.0L251.0 66.2L249.4 67.5L247.9 68.7L246.3 69.8L244.7 71.0L243.1 72.0L241.6 73.1L240.0 74.1L238.4 75.1L236.8 76.0L235.3 76.9L233.7 77.8L232.1 78.6L230.5 79.4L229.0 80.2L227.4 81.0L225.8 81.8L224.2 82.6L222.7 83.3L221.1 84.1L219.5 84.8L217.9 85.5L216.4 86.3L214.8 87.0L213.2 87.7L211.6 88.3L210.1 89.0L208.5 89.7L206.9 90.4L205.3 91.0L203.8 91.7L202.2 92.3L200.6 93.0L199.0 93.6L197.5 94.3L195.9 94.9L194.3 95.5L192.7 96.2L191.1 96.8L189.6 97.4L188.0 98.1L186.4 98.7L184.8 99.3L183.3 99.9L181.7 100.6L180.1 101.2L178.5 101.8L177.0 102.4L175.4 103.0L173.8 103.6L172.2 104.2L170.7 104.8L169.1 105.4L167.5 106.0L165.9 106.6L164.4 107.1L162.8 107.7L161.2 108.3L159.6 108.9L158.1 109.5L156.5 110.1L154.9 110.7L153.3 111.3L151.8 111.9L150.2 112.6L148.6 113.2L147.0 113.8L145.5 114.5L143.9 115.1L142.3 115.8L140.7 116.5L139.2 117.2L137.6 117.9L136.0 118.6L134.4 119.3L132.9 120.0L131.3 120.8L129.7 121.5L128.1 122.2L126.6 123.0L125.0 123.7L123.4 124.4L121.8 125.2L120.3 125.9L118.7 126.7L117.1 127.4L115.5 128.2L114.0 129.0L112.4 129.8L110.8 130.6L109.2 131.4L107.7 132.2L106.1 133.0L104.5 133.9L102.9 134.8L101.4 135.9L99.8 137.0L98.2 138.2L96.6 139.4L95.1 140.7L93.5 142.0L91.9 143.4L90.3 144.7L88.8 146.0L87.2 147.3L85.6 148.6L84.0 150.0L82.5 151.4L80.9 152.9L79.3 154.5L77.7 156.3L76.2 158.3L74.6 160.4L73.0 162.7L71.4 165.0L69.9 167.2L68.3 169.5L66.7 171.8L65.1 174.3L63.6 177.0L62.0 179.8L60.4 182.8L58.8 185.9L57.3 188.9L55.7 191.9L54.1 195.1L52.5 198.1L51.0 200.8L49.4 203.0L47.8 205.3L46.2 207.9L44.7 210.9L43.1 214.1L41.5 217.5M216.6 69.6L215.7 70.5L214.8 71.4L213.9 72.3L212.9 73.2L212.0 74.1L211.1 75.0L210.1 75.9L209.1 76.7L208.2 77.5L207.2 78.3L206.1 79.1L205.1 79.9L204.1 80.7L203.0 81.4L202.0 82.2L200.9 82.9L199.8 83.6L198.8 84.3L197.7 85.1L196.6 85.8L195.6 86.6L194.5 87.3L193.5 88.1L192.4 88.8L191.4 89.6L190.4 90.3L189.3 91.1L188.3 91.9L187.3 92.7L186.2 93.4L185.2 94.2L184.1 94.9L183.0 95.6L182.0 96.3L180.8 97.0L179.7 97.6L178.6 98.2L177.4 98.7L176.2 99.3L175.1 99.8L173.9 100.3L172.7 100.8L171.5 101.4L170.3 101.9L169.2 102.5L168.0 103.1L166.9 103.6L165.7 104.2L164.6 104.8L163.4 105.3L162.2 105.9L161.1 106.4L159.9 106.9L158.7 107.4L157.5 107.9L156.3 108.4L155.1 108.9L153.9 109.3L152.7 109.8M254.6 45.2L254.1 45.9L253.5 46.7L252.9 47.4L252.3 48.2L251.7 48.9L251.1 49.6L250.6 50.3L250.0 51.1L249.4 51.8L248.8 52.5L248.2 53.2L247.5 53.9L246.9 54.6L246.3 55.4L245.7 56.1L245.1 56.8L244.4 57.4L243.8 58.1L243.2 58.8L242.5 59.5L241.9 60.2L241.3 60.9L240.6 61.6L240.0 62.3L239.4 63.0L238.7 63.7L238.1 64.4L237.5 65.1L236.9 65.8L236.3 66.5L235.7 67.2L235.1 67.9L234.5 68.7L233.9 69.4L233.3 70.2L232.7 70.9L232.1 71.6L231.5 72.4L230.9 73.1L230.3 73.8L229.7 74.4L229.0 75.1L228.3 75.7L227.6 76.3L226.8 76.9L226.1 77.4L225.3 78.0L224.5 78.5L223.7 79.0L222.9 79.5L222.1 80.0L221.3 80.5L220.5 80.9L219.6 81.4L218.8 81.8L218.0 82.3L217.2 82.7L216.3 83.1L215.5 83.5" stroke="#111" stroke-width="1.7" fill="none" stroke-linejoin="round" stroke-linecap="butt" stroke-dasharray="4.8 4.2"/>
<path d="M38.2 217.5L38.8 216.1L39.5 214.8L40.1 213.4L40.7 212.0L41.3 210.6L42.0 209.3L42.6 207.9L43.2 206.5L43.9 205.2L44.5 203.8L45.2 202.4L45.8 201.1L46.5 199.7L47.1 198.3L47.8 197.0L48.4 195.6L49.1 194.3L49.7 192.9L50.4 191.6L51.1 190.2L51.7 188.8L52.4 187.5L53.1 186.1L53.8 184.8L54.4 183.4L55.1 182.1L55.8 180.8L56.5 179.4L57.2 178.1L57.8 176.7L58.5 175.4L59.2 174.0L59.9 172.7L60.5 171.3L61.2 170.0L61.9 168.6L62.5 167.2L63.2 165.9L63.8 164.5L64.5 163.2L65.2 161.8L65.8 160.5L66.4 159.1L67.1 157.7L67.7 156.4L68.4 155.0L69.0 153.6L69.6 152.2L70.2 150.9L70.9 149.5L71.5 148.1L72.1 146.7L72.7 145.3L73.3 144.0L73.9 142.6L74.5 141.2L75.1 139.8L75.7 138.4L76.3 137.0L76.9 135.7L77.6 134.3L78.2 132.9L78.9 131.6L79.5 130.2L80.2 128.9L80.9 127.5L81.7 126.2L82.4 124.9L83.2 123.6L84.0 122.3L84.8 121.0L85.7 119.8L86.5 118.6L87.4 117.3L88.4 116.1L89.3 115.0L90.3 113.8L91.3 112.7L92.3 111.6L93.4 110.5L94.5 109.4L95.6 108.4L96.7 107.4L97.9 106.4L99.1 105.5L100.3 104.6L101.5 103.7L102.8 102.9L104.1 102.1L105.4 101.3L106.7 100.6L108.1 99.9L109.4 99.3L110.8 98.6L112.2 98.0L113.6 97.5L115.0 96.9L116.4 96.4L117.8 95.9L119.3 95.4L120.7 95.0L122.2 94.5L123.6 94.1L125.1 93.6L126.5 93.2L128.0 92.8L129.4 92.4L130.9 92.0L132.3 91.6L133.8 91.2L135.3 90.9L136.7 90.5L138.2 90.1L139.6 89.7L141.1 89.3L142.6 88.9L144.0 88.5L145.5 88.1L146.9 87.7L148.4 87.3L149.8 86.9L151.3 86.5L152.7 86.1L154.2 85.6L155.6 85.2L157.1 84.8L158.5 84.4L160.0 83.9L161.4 83.5L162.9 83.1L164.3 82.7L165.8 82.3L167.2 81.9L168.7 81.5L170.1 81.1L171.6 80.7L173.0 80.3L174.5 79.9L176.0 79.5L177.4 79.1L178.9 78.6L180.3 78.2L181.7 77.8L183.2 77.3L184.6 76.9L186.1 76.4L187.5 75.9L188.9 75.5L190.3 75.0L191.8 74.5L193.2 74.0L194.6 73.5L196.0 72.9L197.5 72.4L198.9 71.9L200.3 71.4L201.7 70.9L203.1 70.4L204.6 69.8L206.0 69.3L207.4 68.8L208.8 68.3L210.2 67.7L211.6 67.2L213.0 66.6L214.4 66.1L215.8 65.5L217.2 64.9L218.6 64.3L220.0 63.7L221.4 63.1L222.7 62.5L224.1 61.8L225.4 61.1L226.8 60.4L228.1 59.7L229.4 59.0L230.8 58.3L232.1 57.5L233.4 56.8L234.7 56.0L236.0 55.2L237.3 54.4L238.6 53.7L239.8 52.9L241.1 52.1L242.4 51.3L243.7 50.5L245.0 49.7L246.2 48.9L247.5 48.0L248.8 47.2L250.0 46.4L251.3 45.6L252.6 44.7L253.8 43.9L255.1 43.1L256.3 42.2L257.6 41.4L258.8 40.5L260.1 39.7L261.3 38.8L262.5 37.9L263.8 37.1L265.0 36.2L266.2 35.3L267.5 34.5L268.7 33.6L269.9 32.7L271.2 31.8L272.4 30.9L273.6 30.1L274.8 29.2L276.1 28.3L277.3 27.4L278.5 26.5L279.7 25.6L280.9 24.8L282.2 23.9L283.4 23.0L284.6 22.1L285.8 21.2L287.1 20.3L288.3 19.5L289.5 18.6L290.7 17.7L292.0 16.8M292.0 16.8L291.0 18.3L290.1 19.8L289.2 21.2L288.3 22.6L287.3 24.0L286.4 25.4L285.5 26.8L284.6 28.1L283.7 29.5L282.7 30.8L281.8 32.1L280.9 33.3L280.0 34.6L279.0 35.8L278.1 37.0L277.2 38.2L276.3 39.4L275.4 40.6L274.4 41.7L273.5 42.8L272.6 43.9L271.7 45.0L270.7 46.1L269.8 47.2L268.9 48.2L268.0 49.2L267.1 50.2L266.1 51.2L265.2 52.2L264.3 53.1L263.4 54.1L262.4 55.0L261.5 55.9L260.6 56.8L259.7 57.6L258.8 58.5L257.8 59.3L256.9 60.1L256.0 61.0L255.1 61.7L254.1 62.5L253.2 63.3L252.3 64.1L251.4 64.8L250.5 65.5L249.5 66.2L248.6 66.9L247.7 67.6L246.8 68.3L245.8 69.0L244.9 69.6L244.0 70.3L243.1 70.9L242.2 71.5L241.2 72.1L240.3 72.7L239.4 73.3L238.5 73.9L237.5 74.4L236.6 74.9L235.7 75.5L234.8 76.0L233.9 76.5L232.9 77.0L232.0 77.5L231.1 78.0L230.2 78.4L229.2 78.9L228.3 79.4L227.4 79.8L226.5 80.3L225.6 80.8L224.6 81.2L223.7 81.7L222.8 82.1L221.9 82.5L220.9 83.0L220.0 83.4L219.1 83.8L218.2 84.2L217.3 84.7L216.3 85.1L215.4 85.5L214.5 85.9L213.6 86.3L212.6 86.7L211.7 87.1L210.8 87.5L209.9 87.9L208.9 88.3L208.0 88.7L207.1 89.1L206.2 89.5L205.3 89.9L204.3 90.3L203.4 90.6L202.5 91.0L201.6 91.4L200.6 91.8L199.7 92.2L198.8 92.5L197.9 92.9L197.0 93.3L196.0 93.7L195.1 94.0L194.2 94.4L193.3 94.8L192.3 95.1L191.4 95.5L190.5 95.9L189.6 96.2L188.7 96.6L187.7 97.0L186.8 97.3L185.9 97.7L185.0 98.1L184.0 98.4L183.1 98.8L182.2 99.2L181.3 99.6L180.4 99.9L179.4 100.3L178.5 100.6L177.6 101.0L176.7 101.3L175.7 101.7L174.8 102.1L173.9 102.4L173.0 102.8L172.1 103.1L171.1 103.4L170.2 103.8L169.3 104.1L168.4 104.5L167.4 104.8L166.5 105.2L165.6 105.5L164.7 105.9L163.8 106.2L162.8 106.5L161.9 106.9L161.0 107.2L160.1 107.6L159.1 107.9L158.2 108.3L157.3 108.6L156.4 109.0L155.5 109.3L154.5 109.7L153.6 110.0L152.7 110.4L151.8 110.8L150.8 111.1L149.9 111.5L149.0 111.9L148.1 112.2L147.2 112.6L146.2 113.0L145.3 113.4" stroke="#ff00ff" stroke-width="1.6" fill="none" stroke-linejoin="round" stroke-linecap="butt" stroke-dasharray="4.6 1.5 1.8 1.6"/>
<path d="M33.2 218.4L33.4 217.8L33.7 217.1L34.0 216.5L34.3 215.8L34.5 215.2L34.8 214.5L35.1 213.9L35.4 213.2L35.7 212.5L36.0 211.9L36.2 211.2L36.5 210.6L36.8 209.9L37.1 209.3L37.4 208.6L37.7 207.9L38.0 207.3L38.3 206.6L38.6 206.0L38.9 205.3L39.2 204.7L39.5 204.0L39.9 203.4L40.2 202.7L40.5 202.0L40.8 201.4L41.1 200.7L41.4 200.1L41.7 199.4L42.0 198.8L42.3 198.1L42.6 197.5L43.0 196.8L43.3 196.1L43.6 195.5L43.9 194.8L44.2 194.2L44.5 193.5L44.8 192.9L45.2 192.2L45.5 191.5L45.8 190.9L46.1 190.2L46.4 189.6L46.7 188.9L47.1 188.3L47.4 187.6L47.7 187.0L48.0 186.3L48.3 185.6L48.6 185.0L48.9 184.3L49.3 183.7L49.6 183.0L49.9 182.4L50.2 181.7L50.5 181.1L50.8 180.4L51.1 179.7L51.4 179.1L51.7 178.4L52.1 177.8L52.4 177.1L52.7 176.5L53.0 175.8L53.3 175.1L53.6 174.5L53.9 173.8L54.2 173.2L54.5 172.5L54.9 171.9L55.2 171.2L55.5 170.6L55.8 169.9L56.1 169.2L56.4 168.6L56.7 167.9L57.0 167.3L57.3 166.6L69.5 166.6L69.0 167.3L68.6 167.9L68.1 168.6L67.7 169.2L67.3 169.9L66.8 170.6L66.4 171.2L66.0 171.9L65.6 172.5L65.1 173.2L64.7 173.8L64.3 174.5L63.9 175.1L63.5 175.8L63.1 176.5L62.7 177.1L62.3 177.8L62.0 178.4L61.6 179.1L61.2 179.7L60.8 180.4L60.4 181.1L60.1 181.7L59.7 182.4L59.3 183.0L59.0 183.7L58.6 184.3L58.3 185.0L57.9 185.6L57.6 186.3L57.2 187.0L56.9 187.6L56.5 188.3L56.2 188.9L55.8 189.6L55.5 190.2L55.2 190.9L54.8 191.5L54.5 192.2L54.2 192.9L53.8 193.5L53.5 194.2L53.2 194.8L52.8 195.5L52.5 196.1L52.2 196.8L51.8 197.5L51.5 198.1L51.2 198.8L50.8 199.4L50.5 200.1L50.2 200.7L49.9 201.4L49.5 202.0L49.2 202.7L48.9 203.4L48.5 204.0L48.2 204.7L47.9 205.3L47.6 206.0L47.2 206.6L46.9 207.3L46.6 207.9L46.2 208.6L45.9 209.3L45.5 209.9L45.2 210.6L44.9 211.2L44.5 211.9L44.2 212.5L43.8 213.2L43.5 213.9L43.1 214.5L42.8 215.2L42.4 215.8L42.1 216.5L41.7 217.1L41.3 217.8L41.0 218.4Z" fill="#00ff00"/>
<path d="M50.0 182.0L50.5 181.0L51.0 180.0L51.5 179.1L51.9 178.1L52.4 177.1L52.9 176.1L53.3 175.1L53.8 174.1L54.2 173.2L54.7 172.2L55.2 171.2L55.6 170.2L56.1 169.2L56.6 168.2L57.0 167.3L57.5 166.3L58.0 165.3L58.4 164.3L58.9 163.3L59.4 162.3L59.8 161.4L60.3 160.4L60.8 159.4L61.3 158.4L61.7 157.4L62.2 156.5L62.7 155.5L63.2 154.5L63.7 153.5L64.2 152.5L64.7 151.5L65.2 150.6L65.7 149.6L66.2 148.6L66.7 147.6L67.2 146.6L67.8 145.6L68.3 144.7L68.8 143.7L69.4 142.7L69.9 141.7L70.5 140.7L71.1 139.7L71.6 138.8L72.2 137.8L72.8 136.8L73.4 135.8L74.0 134.8L74.7 133.9L75.3 132.9L76.0 131.9L76.6 130.9L77.3 129.9L78.0 128.9L78.7 128.0L79.4 127.0L80.2 126.0L80.9 125.0L81.7 124.0L82.5 123.0L83.3 122.1L84.1 121.1L84.9 120.1L85.8 119.1L86.6 118.1L87.5 117.1L88.4 116.2L89.4 115.2L90.3 114.2L91.3 113.2L92.3 112.2L93.4 111.3L94.4 110.3L95.5 109.3L96.6 108.3L97.8 107.3L98.9 106.3L100.1 105.4L101.4 104.4L107.4 104.4L106.1 105.4L104.8 106.3L103.6 107.3L102.4 108.3L101.2 109.3L100.0 110.3L98.9 111.3L97.8 112.2L96.7 113.2L95.6 114.2L94.6 115.2L93.6 116.2L92.6 117.1L91.6 118.1L90.7 119.1L89.7 120.1L88.8 121.1L87.9 122.1L87.1 123.0L86.2 124.0L85.4 125.0L84.5 126.0L83.7 127.0L83.0 128.0L82.2 128.9L81.6 129.9L80.9 130.9L80.2 131.9L79.6 132.9L78.9 133.9L78.3 134.8L77.7 135.8L77.1 136.8L76.5 137.8L75.9 138.8L75.3 139.7L74.7 140.7L74.2 141.7L73.6 142.7L73.1 143.7L72.5 144.7L72.0 145.6L71.5 146.6L71.0 147.6L70.4 148.6L69.9 149.6L69.4 150.6L68.9 151.5L68.4 152.5L67.9 153.5L67.4 154.5L67.0 155.5L66.5 156.5L66.0 157.4L65.5 158.4L65.0 159.4L64.6 160.4L64.1 161.4L63.6 162.3L63.1 163.3L62.7 164.3L62.2 165.3L61.7 166.3L61.3 167.3L60.8 168.2L60.4 169.2L59.9 170.2L59.4 171.2L59.0 172.2L58.5 173.2L58.0 174.1L57.6 175.1L57.1 176.1L56.6 177.1L56.2 178.1L55.7 179.1L55.2 180.0L54.8 181.0L54.3 182.0Z" fill="#00ff00"/>
<path d="M100.0 110.7L101.0 110.3L101.9 109.9L102.8 109.6L103.8 109.2L104.7 108.9L105.6 108.6L106.5 108.2L107.5 107.9L108.4 107.6L109.3 107.4L110.3 107.1L111.2 106.8L112.1 106.6L113.1 106.3L114.1 106.1L115.0 105.9L116.0 105.6L116.9 105.4L117.9 105.2L118.9 105.0L119.8 104.7L120.8 104.4L121.7 104.1L122.7 103.8L123.6 103.5L124.6 103.2L125.5 102.9L126.5 102.6L127.5 102.3L128.4 102.0L129.4 101.7L130.3 101.4L131.3 101.2L132.2 100.9L133.2 100.6L134.1 100.3L135.1 100.0L136.1 99.8L137.0 99.5L138.0 99.2L138.9 98.9L139.9 98.7L140.8 98.4L141.8 98.2L142.8 97.9L143.7 97.6L144.7 97.4L145.7 97.1L146.7 96.8L147.7 96.5L148.6 96.3L149.6 96.0L150.6 95.7L151.6 95.4L152.5 95.1L153.5 94.8L154.5 94.5L155.4 94.2L156.4 93.9L157.3 93.6L158.3 93.3L159.3 93.0L160.2 92.7L161.2 92.4L162.1 92.1L163.1 91.8L164.0 91.5L165.0 91.2L166.0 90.9L166.9 90.6L167.9 90.3L168.8 90.0L169.8 89.7L170.7 89.4L171.7 89.1L172.7 88.8L173.6 88.5L174.6 88.2L175.5 87.9L176.5 87.6L177.5 87.2L178.4 86.9L179.4 86.6L180.4 86.3L181.3 86.0L182.3 85.7L183.2 85.3L184.2 85.0L185.2 84.7L186.1 84.3L187.1 84.0L188.0 83.6L189.0 83.3L189.9 82.9L190.9 82.6L191.8 82.2L192.8 81.9L193.7 81.5L194.7 81.2L192.0 74.1L191.1 74.4L190.1 74.8L189.2 75.1L188.3 75.5L187.3 75.8L186.4 76.1L185.4 76.5L184.5 76.8L183.6 77.2L182.6 77.5L181.7 77.8L180.8 78.1L179.8 78.5L178.9 78.8L178.0 79.1L177.0 79.4L176.1 79.7L175.1 80.0L174.2 80.3L173.2 80.6L172.3 80.9L171.3 81.2L170.4 81.5L169.4 81.8L168.5 82.1L167.5 82.4L166.6 82.7L165.6 83.0L164.6 83.3L163.7 83.6L162.7 83.9L161.8 84.2L160.8 84.5L159.8 84.8L158.9 85.1L157.9 85.4L157.0 85.7L156.0 86.0L155.1 86.3L154.1 86.6L153.2 86.9L152.2 87.2L151.3 87.5L150.3 87.8L149.4 88.1L148.4 88.4L147.5 88.7L146.5 89.0L145.6 89.2L144.6 89.5L143.7 89.8L142.7 90.0L141.7 90.3L140.8 90.6L139.8 90.8L138.8 91.1L137.9 91.4L136.9 91.6L135.9 91.9L134.9 92.2L134.0 92.5L133.0 92.7L132.0 93.0L131.1 93.3L130.1 93.6L129.1 93.9L128.2 94.2L127.2 94.5L126.2 94.7L125.3 95.0L124.3 95.3L123.3 95.6L122.4 95.9L121.4 96.2L120.4 96.5L119.5 96.8L118.5 97.1L117.5 97.4L116.6 97.7L115.6 98.1L114.7 98.5L113.7 98.9L112.8 99.3L111.8 99.8L110.9 100.2L110.0 100.6L109.0 101.1L108.1 101.5L107.2 102.0L106.3 102.5L105.3 103.0L104.4 103.4L103.5 103.9L102.6 104.5L101.7 105.0L100.9 105.5L100.0 106.0L99.1 106.6L98.3 107.1Z" fill="#00ff00" stroke="#00ff00" stroke-width="0.3" stroke-linejoin="round"/>
<path d="M56.7 178.4L57.5 177.3L58.4 176.1L59.3 174.9L60.2 173.8L61.1 172.6L61.9 171.4L62.8 170.2L63.6 169.0L64.5 167.8L65.3 166.6L66.0 165.3L66.8 164.1L67.5 162.8L68.1 161.4L68.8 160.1L69.5 158.8L70.2 157.6L70.9 156.3L71.8 155.1L72.6 153.9L73.6 152.8L74.6 151.7L75.6 150.7L76.6 149.7L77.7 148.6L78.7 147.6L79.7 146.5L80.7 145.4L81.7 144.3L82.6 143.2L83.4 142.0L84.3 140.8L85.1 139.5L85.9 138.3L86.7 137.1L87.5 135.8L88.3 134.6L89.1 133.4L89.9 132.2L90.8 131.0L91.6 129.8L92.5 128.6L93.4 127.5L94.3 126.3L95.3 125.2L96.2 124.1L97.2 123.0L98.1 121.9L99.1 120.7L100.0 119.6L101.0 118.5L101.9 117.3L102.8 116.2L103.6 115.0L104.4 113.8L105.1 112.5L105.9 111.2L106.6 109.9L107.3 108.6" stroke="#00ff00" stroke-width="4.6" fill="none" stroke-linejoin="round" stroke-linecap="round"/>
<path d="M63.3 174.9L64.1 173.6L65.0 172.4L65.8 171.1L66.6 169.8L67.3 168.5L68.1 167.2L68.8 165.8L69.5 164.5L70.2 163.1L70.9 161.8L71.6 160.4L72.3 159.1L73.0 157.8L73.8 156.5L74.6 155.2L75.5 154.0L76.5 152.8L77.4 151.7L78.5 150.6L79.5 149.5L80.6 148.4L81.8 147.4L82.9 146.4L84.0 145.4L85.2 144.4L86.4 143.4L87.5 142.4L88.7 141.4L89.9 140.5L91.1 139.5L92.3 138.6L93.5 137.7L94.7 136.9L96.0 136.0L97.3 135.2L98.6 134.5L99.9 133.7L101.2 133.0L102.6 132.3L104.0 131.7L105.3 131.0L106.7 130.3L108.0 129.6L109.4 128.9L110.7 128.2L112.0 127.5L113.4 126.8L114.7 126.1L116.1 125.4L117.4 124.7L118.8 124.0L120.1 123.4L121.5 122.8L122.9 122.2L124.3 121.6L125.7 121.0L127.1 120.4L128.5 119.8L129.9 119.2L131.3 118.6L132.7 118.0L134.1 117.5L135.5 116.9L136.9 116.3L138.3 115.8L139.7 115.2L141.1 114.7L142.5 114.1L144.0 113.6L145.4 113.1L146.8 112.6L148.2 112.1L149.7 111.6L151.1 111.1L152.5 110.6L154.0 110.2L155.4 109.7L156.9 109.2L158.3 108.7L159.7 108.3L161.2 107.8L162.6 107.4L164.1 106.9L165.5 106.4L166.9 105.9L168.4 105.5L169.8 105.0L171.3 104.5L172.7 104.1L174.1 103.6L175.6 103.1L177.0 102.6L178.4 102.1L179.9 101.6L181.3 101.1L182.7 100.7L184.2 100.2L185.6 99.7L187.0 99.2L188.5 98.7L189.9 98.2L191.3 97.6L192.7 97.1L194.2 96.6L195.6 96.1L197.0 95.6" stroke="#00ff00" stroke-width="5.5" fill="none" stroke-linejoin="round" stroke-linecap="round"/>
<path d="M182.2 80.7L182.8 80.5L183.4 80.2L184.0 80.0L184.5 79.7L185.1 79.5L185.7 79.3L186.2 79.0L186.8 78.8L187.4 78.5L187.9 78.3L188.5 78.1L189.1 77.8L189.6 77.6L190.2 77.4L190.8 77.2L191.4 76.9L191.9 76.7L192.5 76.5L193.1 76.3L193.7 76.1L194.3 75.9L194.8 75.7L195.4 75.5L196.0 75.3L196.6 75.1L197.2 74.9L197.8 74.7L198.3 74.5L198.9 74.3L199.5 74.2L200.1 74.0L200.7 73.8L201.3 73.6L201.9 73.4L202.5 73.2L203.1 73.1L203.7 72.9L204.2 72.7L204.8 72.5L205.4 72.4L206.0 72.2L206.6 72.0L207.2 71.8L207.8 71.6L208.4 71.4L209.0 71.3L209.5 71.1L210.1 70.9L210.7 70.7L211.3 70.5L211.9 70.3L212.5 70.2L213.1 70.0L213.7 69.8L214.3 69.6L214.8 69.4L215.4 69.2L216.0 69.1L216.6 68.9M182.2 79.3L183.7 78.7L185.1 78.1L186.5 77.5L187.9 77.0L189.3 76.4L190.7 75.9L192.2 75.3L193.6 74.8L195.0 74.3L196.5 73.9L197.9 73.4L199.4 73.0L200.9 72.6L202.4 72.3L203.9 71.9L205.4 71.6L206.9 71.3L208.4 70.9L209.9 70.6L211.3 70.2L212.8 69.8L214.2 69.3L215.7 68.8L217.0 68.2L218.4 67.5L219.7 66.8L221.1 66.1L222.4 65.3L223.6 64.4L224.9 63.6L226.2 62.7L227.5 61.9L228.8 61.0L230.0 60.2L231.3 59.4L232.6 58.6L233.9 57.8L235.2 56.9L236.5 56.1L237.7 55.3L239.0 54.5L240.3 53.7L241.6 52.9L242.9 52.1L244.2 51.2L245.5 50.4L246.7 49.6L248.0 48.8L249.3 47.9L250.5 47.1L251.8 46.2L253.1 45.4L254.3 44.5L255.6 43.6L256.8 42.8L258.1 41.9L259.3 41.0L260.6 40.1L261.8 39.2L263.0 38.3L264.3 37.4L265.5 36.5L266.7 35.6L267.9 34.7L269.2 33.8L270.4 32.9L271.6 32.0L272.8 31.1L274.1 30.2L275.3 29.3L276.5 28.4L277.7 27.4L278.9 26.5L280.1 25.6L281.3 24.6L282.5 23.7L283.7 22.8L284.9 21.8L286.1 20.9L287.3 19.9L288.5 19.0L289.7 18.0L290.8 17.0M182.2 81.2L183.7 80.6L185.1 80.1L186.5 79.6L188.0 79.0L189.4 78.5L190.8 77.9L192.2 77.4L193.7 76.8L195.1 76.3L196.5 75.7L197.9 75.2L199.3 74.6L200.8 74.1L202.2 73.5L203.6 72.9L205.0 72.3L206.4 71.7L207.8 71.2L209.2 70.6L210.6 69.9L212.0 69.3L213.4 68.7L214.8 68.1L216.2 67.4L217.6 66.8L219.0 66.1L220.3 65.5L221.7 64.8L223.1 64.1L224.4 63.4L225.8 62.7L227.1 62.0L228.5 61.3L229.8 60.6L231.2 59.8L232.5 59.1L233.8 58.3L235.1 57.6L236.5 56.8L237.8 56.0L239.1 55.2L240.4 54.4L241.7 53.6L243.0 52.8L244.3 52.0L245.6 51.2L246.8 50.4L248.1 49.5L249.4 48.7L250.6 47.8L251.9 47.0L253.1 46.1L254.4 45.2L255.6 44.3L256.9 43.4L258.1 42.5L259.3 41.6L260.5 40.7L261.8 39.8L263.0 38.8L264.2 37.9L265.4 37.0L266.6 36.0L267.8 35.1L269.0 34.2L270.2 33.2L271.4 32.3L272.6 31.4L273.8 30.4L275.0 29.5L276.2 28.6L277.4 27.6L278.7 26.7L279.9 25.8L281.1 24.9L282.3 23.9L283.5 23.0L284.7 22.1L286.0 21.2L287.2 20.3L288.4 19.3L289.6 18.4L290.8 17.5M142.7 94.4L142.7 95.2L142.6 96.0L142.6 96.7L142.5 97.4L142.3 98.2L142.2 98.9L142.0 99.6L141.7 100.2L141.3 100.9L140.9 101.5L140.5 102.0L140.0 102.6L139.5 103.1L138.9 103.6L138.3 104.1L137.7 104.5L137.1 105.0L136.5 105.4L135.9 105.8L135.3 106.2L134.7 106.7L134.2 107.2L133.7 107.7L133.1 108.2L132.6 108.7L132.1 109.3L131.7 109.8L131.2 110.4L130.7 110.9L130.2 111.5L129.7 112.1L129.2 112.6L128.8 113.2L128.2 113.7L127.7 114.2L127.2 114.7L126.6 115.2L126.1 115.6L125.5 116.1L124.9 116.5L124.3 116.9L123.6 117.3L123.0 117.6L122.4 118.0L121.7 118.3L121.0 118.7L120.4 119.0L119.7 119.4L119.1 119.7L118.4 120.0L117.8 120.4L117.1 120.8L116.5 121.1L115.9 121.5L115.3 121.9L114.6 122.3L114.0 122.7L113.4 123.1L112.8 123.5M107.6 106.3L107.6 106.4L107.6 106.6L107.5 106.7L107.5 106.9L107.4 107.1L107.4 107.2L107.4 107.4L107.3 107.5L107.3 107.7L107.2 107.8L107.2 108.0L107.1 108.2L107.1 108.3L107.0 108.5L107.0 108.6L107.0 108.8L106.9 108.9L106.9 109.1L106.8 109.2L106.8 109.4L106.7 109.5L106.7 109.7L106.6 109.9L106.6 110.0L106.5 110.2L106.4 110.3L106.4 110.5L106.3 110.6L106.3 110.8L106.2 110.9L106.1 111.1L106.1 111.2L106.0 111.3L105.9 111.5L105.9 111.6L105.8 111.8L105.7 111.9L105.7 112.1L105.6 112.2L105.5 112.4L105.4 112.5L105.3 112.6L105.3 112.8L105.2 112.9L105.1 113.1L105.0 113.2L105.0 113.4L104.9 113.5L104.8 113.6L104.7 113.8L104.6 113.9L104.5 114.1L104.5 114.2L104.4 114.3L104.3 114.5L104.2 114.6L104.1 114.7L104.0 114.9L103.9 115.0M180.4 81.7L180.2 82.5L179.9 83.2L179.7 84.0L179.3 84.7L178.9 85.5L178.5 86.1L178.0 86.8L177.5 87.4L177.0 88.1L176.4 88.7L175.8 89.3L175.3 89.9L174.7 90.5L174.1 91.1L173.5 91.8L173.0 92.4L172.5 93.0L171.9 93.6L171.4 94.3L170.9 94.9L170.4 95.5L169.9 96.2L169.4 96.8L168.9 97.5L168.4 98.1L167.8 98.7L167.3 99.4L166.8 100.0L166.3 100.6L165.7 101.3L165.2 101.9L164.6 102.5L164.0 103.1L163.4 103.7L162.8 104.2L162.2 104.8L161.6 105.3L161.0 105.8L160.3 106.3L159.7 106.8L159.0 107.3L158.3 107.7L157.6 108.1L156.8 108.5L156.1 108.9L155.4 109.3L154.6 109.6L153.9 110.0L153.1 110.3L152.3 110.6L151.6 110.9L150.8 111.2L150.0 111.4L149.2 111.7L148.5 111.9L147.7 112.2L146.9 112.4L146.1 112.7L145.3 112.9M216.6 68.9L216.1 69.9L215.6 70.9L215.0 71.8L214.4 72.8L213.8 73.7L213.1 74.5L212.3 75.3L211.5 76.1L210.7 76.9L209.9 77.6L209.0 78.3L208.1 79.0L207.3 79.7L206.4 80.4L205.5 81.1L204.6 81.8L203.7 82.5L202.8 83.1L201.9 83.7L201.0 84.3L200.0 84.9L199.0 85.4L198.1 86.0L197.1 86.5L196.1 87.0L195.1 87.6L194.2 88.2L193.3 88.8L192.4 89.5L191.6 90.2L190.7 90.9L189.8 91.6L189.0 92.4L188.2 93.1L187.3 93.8L186.4 94.5L185.6 95.2L184.7 95.9L183.8 96.6L182.9 97.2L181.9 97.8L181.0 98.4L180.0 98.9L179.0 99.5L178.1 100.0L177.1 100.5L176.0 101.0L175.0 101.5L174.0 101.9L173.0 102.4L172.0 102.8L171.0 103.3L169.9 103.7L168.9 104.1L167.9 104.6L166.9 105.0L165.8 105.4L164.8 105.8L163.8 106.3M254.3 44.3L253.3 45.5L252.4 46.7L251.4 47.9L250.5 49.1L249.5 50.3L248.6 51.5L247.7 52.8L246.7 54.0L245.7 55.2L244.8 56.4L243.8 57.6L242.8 58.7L241.8 59.9L240.8 61.1L239.8 62.2L238.7 63.3L237.7 64.5L236.6 65.6L235.6 66.7L234.6 67.9L233.5 69.0L232.5 70.2L231.6 71.4L230.6 72.6L229.6 73.8L228.6 75.0L227.6 76.1L226.4 77.1L225.3 78.1L224.0 79.0L222.7 79.9L221.4 80.7L220.1 81.5L218.8 82.4L217.5 83.2L216.2 84.0L214.8 84.8L213.5 85.6L212.2 86.3L210.9 87.1L209.5 87.8L208.1 88.5L206.8 89.2L205.4 89.8L203.9 90.4L202.5 91.0L201.1 91.6L199.7 92.2L198.2 92.8L196.8 93.3L195.4 93.9L194.0 94.5L192.5 95.1L191.1 95.7L189.7 96.3L188.3 96.9L186.9 97.5L185.5 98.2L184.1 98.8L182.7 99.5L181.3 100.2L179.9 100.9L178.6 101.5M290.8 17.0L290.0 18.3L289.2 19.6L288.4 20.9L287.5 22.2L286.6 23.4L285.7 24.6L284.7 25.8L283.6 26.9L282.6 28.0L281.5 29.1L280.5 30.3L279.5 31.4L278.5 32.6L277.6 33.8L276.8 35.1L275.9 36.4L275.1 37.7L274.2 38.9L273.2 40.0L272.2 41.2L271.1 42.2L269.9 43.3L268.8 44.3L267.6 45.3L266.4 46.2L265.2 47.2L264.0 48.2L262.8 49.2L261.7 50.2L260.5 51.2L259.4 52.2L258.2 53.2L257.1 54.2L256.0 55.3L254.9 56.3L253.8 57.4L252.7 58.4L251.6 59.5L250.5 60.6L249.4 61.7L248.3 62.8L247.3 63.8L246.2 64.9L245.1 66.0L244.0 67.1L242.9 68.1L241.8 69.2L240.6 70.2L239.5 71.2L238.3 72.2L237.1 73.2L235.9 74.1L234.7 75.0L233.4 75.9L232.1 76.7L230.8 77.4L229.5 78.2L228.1 78.9L226.7 79.6L225.4 80.2L224.0 80.9L222.6 81.5L221.2 82.2L219.8 82.8L218.4 83.4L217.0 84.1L215.6 84.7L214.2 85.4L212.8 86.1L211.5 86.7L210.1 87.4L208.7 88.1L207.3 88.7L206.0 89.4L204.6 90.1L203.2 90.8L201.8 91.4L200.5 92.1L199.1 92.7L197.7 93.4L196.3 94.1L195.0 94.7L193.6 95.4L192.2 96.1L190.8 96.7L189.4 97.4L188.1 98.0L186.7 98.7L185.3 99.3L183.9 100.0L182.5 100.6L181.1 101.3L179.8 101.9L178.4 102.6L177.0 103.2L175.6 103.9" stroke="#00ff00" stroke-width="2.8" fill="none" stroke-linejoin="round" stroke-linecap="round"/></g>
<path d="M422.59 217.40v-2.2M422.59 4.50v2.2M459.58 217.40v-2.2M459.58 4.50v2.2M496.56 217.40v-2.2M496.56 4.50v2.2M533.55 217.40v-2.2M533.55 4.50v2.2M570.54 217.40v-2.2M570.54 4.50v2.2M607.52 217.40v-2.2M607.52 4.50v2.2M644.51 217.40v-2.2M644.51 4.50v2.2M385.60 193.74h2.2M681.50 193.74h-2.2M385.60 170.09h2.2M681.50 170.09h-2.2M385.60 146.43h2.2M681.50 146.43h-2.2M385.60 122.78h2.2M681.50 122.78h-2.2M385.60 99.12h2.2M681.50 99.12h-2.2M385.60 75.47h2.2M681.50 75.47h-2.2M385.60 51.81h2.2M681.50 51.81h-2.2M385.60 28.16h2.2M681.50 28.16h-2.2" stroke="#6e6e6e" stroke-width="1" fill="none"/>
<rect x="385.60" y="4.50" width="295.90" height="212.90" fill="none" stroke="#6e6e6e" stroke-width="1"/>
<text x="385.60" y="231.80" text-anchor="middle">0</text>
<text x="422.59" y="231.80" text-anchor="middle">1</text>
<text x="459.58" y="231.80" text-anchor="middle">2</text>
<text x="496.56" y="231.80" text-anchor="middle">3</text>
<text x="533.55" y="231.80" text-anchor="middle">4</text>
<text x="570.54" y="231.80" text-anchor="middle">5</text>
<text x="607.52" y="231.80" text-anchor="middle">6</text>
<text x="644.51" y="231.80" text-anchor="middle">7</text>
<text x="681.50" y="231.80" text-anchor="middle">8</text>
<text x="382.10" y="221.30" text-anchor="end">0</text>
<text x="382.10" y="197.64" text-anchor="end">100</text>
<text x="382.10" y="173.99" text-anchor="end">200</text>
<text x="382.10" y="150.33" text-anchor="end">300</text>
<text x="382.10" y="126.68" text-anchor="end">400</text>
<text x="382.10" y="103.02" text-anchor="end">500</text>
<text x="382.10" y="79.37" text-anchor="end">600</text>
<text x="382.10" y="55.71" text-anchor="end">700</text>
<text x="382.10" y="32.06" text-anchor="end">800</text>
<text x="382.10" y="8.40" text-anchor="end">900</text>
<g clip-path="url(#clipb)"><path d="M392.6 217.4L393.2 216.1L393.8 214.7L394.4 213.4L395.1 212.1L395.7 210.8L396.4 209.5L397.1 208.3L397.8 207.0L398.6 205.8L399.4 204.6L400.2 203.4L401.0 202.2L401.9 201.0L402.7 199.8L403.4 198.6L404.1 197.3L404.8 196.1L405.5 194.8L406.1 193.5L406.8 192.1L407.4 190.8L408.0 189.5L408.6 188.2L409.3 186.9L409.9 185.6L410.6 184.3L411.3 183.0L411.9 181.8L412.6 180.5L413.3 179.2L414.0 178.0L414.8 176.7L415.5 175.5L416.3 174.2L417.1 173.0L417.9 171.8L418.7 170.6L419.5 169.4L420.3 168.2L421.1 167.0L421.9 165.8L422.8 164.6L423.6 163.4L424.4 162.2L425.2 161.0L426.1 159.9L426.9 158.7L427.8 157.5L428.7 156.4L429.7 155.3L430.6 154.2L431.6 153.2L432.7 152.2L433.7 151.2L434.8 150.2L435.9 149.3L437.0 148.3L438.1 147.4L439.2 146.4L455.9 164.5L455.5 164.8L455.0 165.0L454.6 165.3L454.2 165.6L453.8 165.8L453.4 166.1L453.0 166.4L452.5 166.7L452.1 166.9L451.7 167.2L451.3 167.5L450.9 167.8L450.5 168.1L450.0 168.4L449.6 168.7L449.2 169.0L448.8 169.3L448.4 169.7L448.0 170.0L447.5 170.3L447.1 170.6L446.7 171.0L446.3 171.3L445.9 171.7L445.5 172.0L445.0 172.4L444.6 172.7L444.2 173.1L443.8 173.4L443.4 173.8L443.0 174.2L442.5 174.6L442.1 174.9L441.7 175.3L441.3 175.7L440.9 176.1L440.5 176.5L440.0 176.9L439.6 177.3L439.2 177.7L438.8 178.1L438.4 178.6L438.0 179.0L437.6 179.4L437.1 179.8L436.7 180.3L436.3 180.7L435.9 181.1L435.5 181.6L435.1 182.0L434.6 182.5L434.2 182.9L433.8 183.4L433.4 183.8L433.0 184.3L432.6 184.8L432.1 185.2L431.7 185.7L431.3 186.2L430.9 186.7L430.5 187.1L430.1 187.6L429.6 188.1L429.2 188.6L428.8 189.1L428.4 189.6L428.0 190.1L427.6 190.6L427.1 191.1L426.7 191.6L426.3 192.1L425.9 192.6L425.5 193.1L425.1 193.6L424.6 194.1L424.2 194.6L423.8 195.1L423.4 195.6L423.0 196.1L422.6 196.7L422.1 197.2L421.7 197.7L421.3 198.2L420.9 198.7L420.5 199.3L420.1 199.8L419.6 200.3L419.2 200.9L418.8 201.4L418.4 201.9L418.0 202.4L417.6 203.0L417.1 203.5L416.7 204.0L416.3 204.6L415.9 205.1L415.5 205.7L415.1 206.2L414.6 206.7L414.2 207.3L413.8 207.8L413.4 208.4L413.0 208.9L412.6 209.4L412.1 210.0L411.7 210.5L411.3 211.1L410.9 211.6L410.5 212.2L410.1 212.7L409.6 213.2L409.2 213.8L408.8 214.3L408.4 214.9L408.0 215.4L407.6 216.0L407.1 216.5L406.7 217.1L406.3 217.4Z" fill="#808080"/>
<path d="M430.0 153.5L430.9 152.3L431.8 151.1L432.8 149.9L433.7 148.7L434.6 147.4L435.6 146.2L436.5 145.0L437.5 143.8L438.4 142.6L439.4 141.4L440.3 140.2L441.3 139.0L442.3 137.9L443.3 136.7L444.3 135.5L445.3 134.4L446.4 133.2L447.4 132.1L448.5 131.0L449.5 129.9L450.6 128.8L451.7 127.7L452.8 126.7L453.9 125.7L455.1 124.6L456.3 123.6L457.4 122.7L458.6 121.7L459.8 120.8L461.1 119.8L462.3 118.9L463.6 118.0L464.8 117.2L466.1 116.3L467.4 115.4L468.7 114.6L469.9 113.8L471.2 113.0L472.5 112.1L473.9 111.3L475.2 110.5L476.5 109.8L477.8 109.0L479.2 108.3L480.5 107.5L481.9 106.8L483.2 106.1L484.6 105.4L486.0 104.8L487.4 104.2L488.8 103.5L490.2 103.0L491.6 102.4L493.1 101.8L494.5 101.3L495.9 100.7L497.4 100.2L498.8 99.7L500.3 99.1M431.8 154.7L432.8 153.6L433.8 152.4L434.8 151.3L435.8 150.2L436.8 149.0L437.8 147.9L438.8 146.8L439.8 145.7L440.8 144.5L441.8 143.4L442.8 142.3L443.8 141.2L444.9 140.1L445.9 139.0L446.9 137.9L448.0 136.8L449.0 135.7L450.1 134.6L451.1 133.5L452.2 132.5L453.3 131.5L454.4 130.4L455.5 129.4L456.7 128.4L457.8 127.4L459.0 126.5L460.1 125.5L461.3 124.6L462.5 123.7L463.7 122.8L465.0 121.9L466.2 121.0L467.4 120.2L468.7 119.3L470.0 118.5L471.2 117.7L472.5 116.9L473.8 116.1L475.1 115.3L476.4 114.5L477.7 113.8L479.0 113.0L480.3 112.3L481.6 111.5L482.9 110.8L484.3 110.1L485.6 109.4L487.0 108.8L488.3 108.1L489.7 107.4L491.1 106.8L492.4 106.2L493.8 105.6L495.2 104.9L496.6 104.3L497.9 103.7L499.3 103.1L500.7 102.6L502.1 102.0M433.7 155.4L434.8 154.4L435.9 153.4L437.0 152.4L438.0 151.5L439.1 150.5L440.2 149.5L441.3 148.5L442.4 147.5L443.5 146.5L444.6 145.5L445.6 144.5L446.7 143.4L447.8 142.4L448.9 141.4L449.9 140.4L451.0 139.4L452.1 138.4L453.2 137.4L454.3 136.4L455.4 135.4L456.5 134.4L457.6 133.5L458.7 132.5L459.8 131.6L461.0 130.6L462.1 129.7L463.3 128.8L464.4 127.9L465.6 127.0L466.8 126.1L468.0 125.3L469.2 124.4L470.4 123.6L471.6 122.7L472.9 121.9L474.1 121.1L475.3 120.3L476.6 119.5L477.8 118.7L479.1 117.9L480.3 117.1L481.6 116.4L482.9 115.6L484.1 114.9L485.4 114.2L486.7 113.4L488.0 112.7L489.3 112.1L490.6 111.4L491.9 110.7L493.3 110.1L494.6 109.4L495.9 108.8L497.3 108.1L498.6 107.5L499.9 106.9L501.3 106.3L502.6 105.7L504.0 105.0M430.0 152.3L430.7 151.1L431.4 149.8L432.1 148.5L432.9 147.3L433.6 146.0L434.3 144.8L435.1 143.5L435.8 142.3L436.6 141.0L437.4 139.8L438.1 138.6L439.0 137.4L439.8 136.2L440.6 135.0L441.5 133.8L442.4 132.7L443.2 131.5L444.2 130.4L445.1 129.2L446.0 128.1L447.0 127.0L448.0 126.0L448.9 124.9L450.0 123.8L451.0 122.8L452.0 121.8L453.1 120.8L454.1 119.8L455.2 118.8L456.3 117.8L457.4 116.9L458.5 115.9L459.6 115.0L460.8 114.1L462.0 113.2L463.1 112.4L464.3 111.5L465.5 110.7L466.7 109.9L467.9 109.1L469.2 108.3L470.4 107.5L471.7 106.8L472.9 106.1L474.2 105.4L475.5 104.7L476.8 104.0L478.1 103.4L479.4 102.8L480.7 102.1L482.0 101.6L483.4 101.0L484.7 100.4L486.1 99.9L487.4 99.3L488.8 98.8L490.1 98.3L491.5 97.8L492.9 97.2" stroke="#808080" stroke-width="2.0" fill="none" stroke-linejoin="round" stroke-linecap="round"/>
<path d="M422.6 150.0L423.2 149.3L423.9 148.7L424.5 148.0L425.1 147.4L425.7 146.7L426.3 146.0L426.8 145.3L427.4 144.5L427.8 143.8L428.3 143.0L428.7 142.2L429.1 141.4L429.5 140.6L429.9 139.8L430.3 138.9L430.7 138.1L431.1 137.3L431.4 136.4L431.8 135.6L432.2 134.8L432.6 134.0L433.1 133.2L433.5 132.4L434.0 131.6L434.4 130.8L434.9 130.1L435.4 129.3L435.9 128.5L436.4 127.8L436.9 127.0L437.4 126.3L438.0 125.6L438.5 124.9L439.1 124.1L439.6 123.4L440.2 122.7L440.8 122.0L441.4 121.3L442.0 120.6L442.6 120.0L443.2 119.3L443.8 118.6L444.5 118.0L445.1 117.3L445.8 116.7L446.4 116.1L447.1 115.5L447.8 114.9L448.5 114.3L449.2 113.8L449.9 113.2L450.7 112.7L451.4 112.1L452.1 111.6L452.9 111.1L453.6 110.6L454.4 110.1L455.1 109.6L455.9 109.1L455.9 109.1L455.5 109.9L455.1 110.7L454.7 111.5L454.3 112.3L453.9 113.2L453.5 113.9L453.1 114.7L452.6 115.5L452.1 116.2L451.6 117.0L451.0 117.7L450.5 118.4L449.9 119.1L449.3 119.8L448.8 120.5L448.2 121.2L447.5 121.9L446.9 122.5L446.3 123.2L445.7 123.9L445.1 124.6L444.5 125.2L443.9 125.9L443.3 126.6L442.7 127.3L442.1 128.0L441.5 128.7L441.0 129.4L440.4 130.1L439.9 130.8L439.3 131.5L438.8 132.2L438.3 133.0L437.7 133.7L437.2 134.5L436.8 135.3L436.3 136.0L435.8 136.8L435.3 137.6L434.9 138.4L434.4 139.2L433.9 140.0L433.4 140.7L432.9 141.5L432.4 142.2L431.9 142.9L431.3 143.6L430.7 144.3L430.1 144.9L429.4 145.5L428.7 146.1L428.0 146.6L427.3 147.2L426.5 147.7L425.8 148.1L425.0 148.6L424.2 149.1L423.4 149.5L422.6 150.0Z" fill="#808080"/>
<path d="M435.5 150.7L436.1 150.3L436.8 149.8L437.4 149.4L438.0 148.9L438.6 148.5L439.2 148.1L439.9 147.7L440.5 147.2L441.1 146.8L441.8 146.4L442.4 146.0L443.1 145.6L443.7 145.3L444.4 144.9L445.0 144.5L445.7 144.2L446.4 143.9L447.1 143.5L447.8 143.2L448.5 142.9L449.2 142.7L449.9 142.4L450.6 142.2L451.3 141.9L452.1 141.7L452.8 141.5L453.6 141.4L454.3 141.2L455.1 141.1L455.8 141.0L456.6 140.9L457.4 140.8L458.1 140.8L458.9 140.8L459.7 140.8L460.4 140.8L461.2 140.9L461.9 141.0L462.7 141.1L463.4 141.3L464.1 141.4L464.8 141.6L465.5 141.9L466.2 142.1L466.9 142.4L467.6 142.7L468.3 143.0L469.0 143.3L469.7 143.7L470.3 144.0L471.0 144.4L471.7 144.8L472.3 145.2L473.0 145.6L473.6 146.0L474.3 146.4L474.9 146.8L475.6 147.3L476.2 147.7L476.2 147.7L474.8 148.3L473.4 148.8L472.0 149.4L470.6 150.0L469.2 150.6L467.8 151.2L466.4 151.8L465.0 152.4L463.6 153.1L462.2 153.8L460.8 154.5L459.4 155.2L458.0 156.0L456.6 156.8L455.2 157.6L453.8 158.5L452.4 159.5L451.0 160.5L449.6 161.5L448.2 162.6L446.8 163.8L445.4 165.0L444.0 166.3L442.5 167.6L441.1 169.0L439.7 170.5L438.3 172.0L436.9 173.5L435.5 175.1Z" fill="#939393"/>
<path d="M449.2 104.1L449.9 103.3L450.6 102.5L451.3 101.7L452.1 101.0L452.8 100.2L453.5 99.4L454.2 98.7L454.9 98.0L455.6 97.3L456.3 96.5L457.0 95.8L457.7 95.1L458.4 94.4L459.1 93.7L459.8 93.0L460.6 92.3L461.3 91.7L462.0 91.1L462.7 90.6L463.4 90.1L464.1 89.6L464.8 89.2L465.5 88.8L466.2 88.4L466.9 88.0L467.6 87.6L468.4 87.3L469.1 86.9L469.8 86.6L470.5 86.3L471.2 86.0L471.9 85.7L472.6 85.4L473.3 85.1L474.0 84.8L474.7 84.6L475.4 84.3L476.1 84.1L476.9 83.9L477.6 83.7L478.3 83.5L479.0 83.3L479.7 83.1L480.4 82.9L481.1 82.8L481.8 82.6L482.5 82.4L483.2 82.3L483.9 82.1L484.7 82.0L485.4 81.9L486.1 81.7L486.8 81.6L487.5 81.4L488.2 81.3L488.9 81.2L489.6 81.0L490.3 80.9L491.0 80.8L491.7 80.6L492.4 80.5L493.2 80.4L493.9 80.2L494.6 80.1L495.3 80.0L496.0 79.9L496.7 79.7L497.4 79.6L498.1 79.5L498.8 79.4L499.5 79.3L500.2 79.1L501.0 79.0L501.7 78.9L502.4 78.8L503.1 78.7L503.8 78.6L504.5 78.5L505.2 78.3L505.9 78.2L506.6 78.1L507.3 78.0L508.0 77.9L508.7 77.8L509.5 77.7L510.2 77.6L510.9 77.5L511.6 77.4L512.3 77.3L513.0 77.2L513.7 77.1L514.4 77.0L515.1 76.9L515.8 76.8L516.5 76.7L517.3 76.6L518.0 76.5L518.7 76.4L519.4 76.3L520.1 76.2L520.8 76.1L521.5 76.0L522.2 76.0L522.9 75.9L523.6 75.8L524.3 75.7L525.0 75.6L525.8 75.5L526.5 75.4L527.2 75.3L527.9 75.2L528.6 75.1L529.3 75.0L530.0 75.0L530.7 74.9L531.4 74.8L532.1 74.7L532.8 74.6L533.5 74.5M449.2 106.2L449.6 105.8L450.0 105.3L450.4 104.9L450.8 104.4L451.2 104.0L451.6 103.6L452.0 103.1L452.4 102.7L452.8 102.3L453.2 101.8L453.6 101.4L454.0 101.0L454.4 100.6L454.8 100.2L455.2 99.8L455.6 99.4L456.0 99.0L456.4 98.6L456.8 98.2L457.2 97.8L457.6 97.4L458.0 97.0L458.4 96.6L458.8 96.2L459.2 95.8L459.6 95.4L460.0 95.0L460.4 94.7L460.8 94.3L461.2 93.9L461.6 93.6L461.9 93.3L462.3 93.0L462.7 92.7L463.1 92.4L463.5 92.1L463.9 91.8L464.3 91.6L464.7 91.4L465.1 91.1L465.5 90.9L465.9 90.7L466.3 90.5L466.7 90.2L467.1 90.0L467.5 89.8L467.9 89.6L468.3 89.4L468.7 89.2L469.1 89.0L469.5 88.8L469.9 88.6L470.3 88.5L470.7 88.3L471.1 88.1L471.5 87.9L471.9 87.8L472.3 87.6L472.7 87.5L473.1 87.3L473.5 87.2L473.9 87.0L474.3 86.9L474.7 86.7L475.1 86.6L475.5 86.5L475.9 86.3L476.3 86.2L476.7 86.1L477.1 86.0L477.5 85.8L477.9 85.7L478.3 85.6L478.7 85.5L479.1 85.4L479.5 85.3L479.9 85.2L480.3 85.1L480.6 85.0L481.0 84.9L481.4 84.8L481.8 84.7L482.2 84.6L482.6 84.5L483.0 84.5L483.4 84.4L483.8 84.3L484.2 84.2L484.6 84.1L485.0 84.0L485.4 84.0L485.8 83.9L486.2 83.8L486.6 83.7L487.0 83.7L487.4 83.6L487.8 83.5L488.2 83.4L488.6 83.4L489.0 83.3L489.4 83.2L489.8 83.1L490.2 83.1L490.6 83.0L491.0 82.9L491.4 82.8L491.8 82.7L492.2 82.7L492.6 82.6L493.0 82.5L493.4 82.5L493.8 82.4L494.2 82.3L494.6 82.2L495.0 82.2L495.4 82.1L495.8 82.0L496.2 82.0L496.6 81.9M450.3 107.3L450.7 106.9L451.1 106.5L451.4 106.1L451.8 105.7L452.2 105.3L452.6 104.9L452.9 104.5L453.3 104.1L453.7 103.7L454.1 103.3L454.4 102.9L454.8 102.5L455.2 102.2L455.5 101.8L455.9 101.4L456.3 101.0L456.7 100.7L457.0 100.3L457.4 99.9L457.8 99.5L458.2 99.1L458.5 98.8L458.9 98.4L459.3 98.0L459.7 97.7L460.0 97.3L460.4 97.0L460.8 96.6L461.1 96.3L461.5 96.0L461.9 95.7L462.3 95.4L462.6 95.1L463.0 94.8L463.4 94.6L463.8 94.3L464.1 94.1L464.5 93.9L464.9 93.6L465.2 93.4L465.6 93.2L466.0 93.0L466.4 92.8L466.7 92.6L467.1 92.4L467.5 92.2L467.9 92.0L468.2 91.8L468.6 91.6L469.0 91.5L469.4 91.3L469.7 91.1L470.1 90.9L470.5 90.8L470.8 90.6L471.2 90.4L471.6 90.3L472.0 90.1L472.3 90.0L472.7 89.8L473.1 89.7L473.5 89.5L473.8 89.4L474.2 89.3L474.6 89.1L474.9 89.0L475.3 88.9L475.7 88.7L476.1 88.6L476.4 88.5L476.8 88.4L477.2 88.3L477.6 88.2L477.9 88.1L478.3 88.0L478.7 87.9L479.0 87.8L479.4 87.7L479.8 87.6L480.2 87.5L480.5 87.4L480.9 87.3L481.3 87.2L481.7 87.1L482.0 87.0L482.4 87.0L482.8 86.9L483.2 86.8L483.5 86.7L483.9 86.6L484.3 86.6L484.6 86.5L485.0 86.4L485.4 86.3L485.8 86.3L486.1 86.2L486.5 86.1L486.9 86.0L487.3 86.0L487.6 85.9L488.0 85.8L488.4 85.8L488.7 85.7L489.1 85.6L489.5 85.6L489.9 85.5L490.2 85.4L490.6 85.3L491.0 85.3L491.4 85.2L491.7 85.1L492.1 85.1L492.5 85.0L492.8 84.9L493.2 84.8L493.6 84.8L494.0 84.7L494.3 84.6L494.7 84.6M452.2 107.9L452.5 107.5L452.9 107.1L453.2 106.7L453.6 106.4L454.0 106.0L454.3 105.6L454.7 105.3L455.0 104.9L455.4 104.5L455.8 104.2L456.1 103.8L456.5 103.5L456.8 103.1L457.2 102.7L457.5 102.4L457.9 102.0L458.3 101.7L458.6 101.3L459.0 100.9L459.3 100.6L459.7 100.3L460.0 99.9L460.4 99.6L460.8 99.3L461.1 98.9L461.5 98.6L461.8 98.3L462.2 98.0L462.5 97.8L462.9 97.5L463.3 97.2L463.6 97.0L464.0 96.8L464.3 96.6L464.7 96.4L465.0 96.1L465.4 95.9L465.8 95.7L466.1 95.5L466.5 95.3L466.8 95.1L467.2 95.0L467.5 94.8L467.9 94.6L468.3 94.4L468.6 94.2L469.0 94.1L469.3 93.9L469.7 93.7L470.0 93.6L470.4 93.4L470.8 93.2L471.1 93.1L471.5 92.9L471.8 92.8L472.2 92.6L472.6 92.5L472.9 92.3L473.3 92.2L473.6 92.1L474.0 91.9L474.3 91.8L474.7 91.7L475.1 91.6L475.4 91.4L475.8 91.3L476.1 91.2L476.5 91.1L476.8 91.0L477.2 90.9L477.6 90.8L477.9 90.7L478.3 90.6L478.6 90.5L479.0 90.4L479.3 90.3L479.7 90.2L480.1 90.1L480.4 90.0L480.8 89.9L481.1 89.8L481.5 89.8L481.8 89.7L482.2 89.6L482.6 89.5L482.9 89.4L483.3 89.4L483.6 89.3L484.0 89.2L484.3 89.1L484.7 89.1L485.1 89.0L485.4 88.9L485.8 88.9L486.1 88.8L486.5 88.7L486.8 88.7L487.2 88.6L487.6 88.5L487.9 88.5L488.3 88.4L488.6 88.3L489.0 88.2L489.4 88.2L489.7 88.1L490.1 88.0L490.4 88.0L490.8 87.9L491.1 87.8L491.5 87.8L491.9 87.7L492.2 87.6L492.6 87.6L492.9 87.5L493.3 87.4L493.6 87.4L494.0 87.3L494.4 87.2L494.7 87.2M433.7 127.0L434.8 125.8L436.0 124.8L437.1 123.7L438.2 122.8L439.4 121.9L440.5 121.0L441.6 120.1L442.8 119.3L443.9 118.5L445.1 117.7L446.2 117.0L447.3 116.2L448.5 115.5L449.6 114.7L450.7 114.0L451.9 113.3L453.0 112.7L454.2 112.0L455.3 111.4L456.4 110.7L457.6 110.1L458.7 109.5L459.8 108.9L461.0 108.4L462.1 107.8L463.3 107.3L464.4 106.7L465.5 106.2L466.7 105.7L467.8 105.2L468.9 104.7L470.1 104.2L471.2 103.8L472.4 103.3L473.5 102.8L474.6 102.4L475.8 101.9L476.9 101.5L478.1 101.0L479.2 100.6L480.3 100.1L481.5 99.7L482.6 99.3L483.7 98.9L484.9 98.5L486.0 98.1L487.2 97.7L488.3 97.3L489.4 96.9L490.6 96.5L491.7 96.1L492.8 95.7L494.0 95.3L495.1 94.9L496.3 94.5L497.4 94.1L498.5 93.7L499.7 93.3L500.8 92.9L501.9 92.5L503.1 92.0L504.2 91.6L505.4 91.2L506.5 90.8L507.6 90.4L508.8 90.0L509.9 89.6L511.0 89.2L512.2 88.8L513.3 88.4L514.5 88.0L515.6 87.6L516.7 87.2L517.9 86.8L519.0 86.4L520.1 86.0L521.3 85.6L522.4 85.2L523.6 84.8L524.7 84.4L525.8 84.0L527.0 83.6L528.1 83.2L529.2 82.8L530.4 82.4L531.5 82.0L532.7 81.7L533.8 81.3L534.9 80.9L536.1 80.6L537.2 80.3L538.3 79.9L539.5 79.6L540.6 79.2L541.8 78.9L542.9 78.6L544.0 78.3L545.2 77.9L546.3 77.6L547.4 77.3L548.6 77.0L549.7 76.6L550.9 76.3L552.0 76.0L553.1 75.6L554.3 75.3L555.4 74.9L556.5 74.6L557.7 74.2L558.8 73.9L560.0 73.5L561.1 73.2L562.2 72.8L563.4 72.5L564.5 72.1L565.6 71.8L566.8 71.4L567.9 71.1L569.1 70.7M433.7 129.0L435.1 127.6L436.6 126.3L438.0 125.2L439.5 124.1L441.0 123.0L442.4 122.0L443.9 121.1L445.3 120.1L446.8 119.2L448.2 118.3L449.7 117.5L451.1 116.6L452.6 115.8L454.0 115.0L455.5 114.2L457.0 113.4L458.4 112.7L459.9 112.0L461.3 111.3L462.8 110.6L464.2 110.0L465.7 109.3L467.1 108.7L468.6 108.1L470.0 107.5L471.5 106.9L473.0 106.3L474.4 105.7L475.9 105.2L477.3 104.6L478.8 104.1L480.2 103.5L481.7 103.0L483.1 102.5L484.6 102.0L486.1 101.5L487.5 101.0L489.0 100.5L490.4 100.0L491.9 99.5L493.3 99.0L494.8 98.6L496.2 98.1L497.7 97.6L499.1 97.1L500.6 96.6L502.1 96.1L503.5 95.6L505.0 95.1L506.4 94.6L507.9 94.1L509.3 93.5L510.8 93.0L512.2 92.5L513.7 92.0L515.1 91.5L516.6 91.0L518.1 90.5L519.5 90.0L521.0 89.4L522.4 88.9L523.9 88.4L525.3 87.9L526.8 87.3L528.2 86.8L529.7 86.3L531.1 85.8L532.6 85.3L534.1 84.8L535.5 84.2L537.0 83.7L538.4 83.2L539.9 82.6L541.3 82.1L542.8 81.6L544.2 81.0L545.7 80.5L547.1 80.0L548.6 79.6L550.1 79.1L551.5 78.7L553.0 78.3L554.4 77.9L555.9 77.6L557.3 77.2L558.8 76.9L560.2 76.6L561.7 76.3L563.1 76.0L564.6 75.7L566.1 75.4L567.5 75.1L569.0 74.8L570.4 74.5L571.9 74.1L573.3 73.8L574.8 73.5L576.2 73.2L577.7 72.9L579.1 72.5L580.6 72.2L582.1 71.9L583.5 71.6L585.0 71.2L586.4 70.9L587.9 70.5L589.3 70.2L590.8 69.8L592.2 69.5L593.7 69.1L595.1 68.7L596.6 68.3L598.1 67.9L599.5 67.6L601.0 67.2L602.4 66.8L603.9 66.4L605.3 65.9L606.8 65.5M433.7 131.0L435.4 129.4L437.2 128.0L439.0 126.7L440.7 125.5L442.5 124.4L444.3 123.3L446.0 122.2L447.8 121.2L449.6 120.2L451.3 119.3L453.1 118.3L454.9 117.4L456.6 116.6L458.4 115.7L460.2 114.9L461.9 114.2L463.7 113.5L465.5 112.8L467.2 112.1L469.0 111.4L470.8 110.8L472.5 110.1L474.3 109.5L476.1 108.9L477.8 108.2L479.6 107.6L481.4 106.9L483.1 106.3L484.9 105.7L486.6 105.0L488.4 104.4L490.2 103.8L491.9 103.2L493.7 102.5L495.5 101.9L497.2 101.2L499.0 100.6L500.8 99.9L502.5 99.2L504.3 98.5L506.1 97.8L507.8 97.2L509.6 96.5L511.4 95.8L513.1 95.1L514.9 94.5L516.7 93.8L518.4 93.2L520.2 92.5L522.0 91.9L523.7 91.3L525.5 90.7L527.3 90.0L529.0 89.4L530.8 88.8L532.5 88.1L534.3 87.5L536.1 86.8L537.8 86.1L539.6 85.4L541.4 84.7L543.1 84.0L544.9 83.3L546.7 82.7L548.4 82.0L550.2 81.3L552.0 80.7L553.7 80.1L555.5 79.4L557.3 78.8L559.0 78.2L560.8 77.6L562.6 77.0L564.3 76.5L566.1 76.0L567.9 75.5L569.6 75.1L571.4 74.7L573.2 74.4L574.9 74.1L576.7 73.8L578.5 73.5L580.2 73.2L582.0 73.0L583.7 72.7L585.5 72.4L587.3 72.2L589.0 71.9L590.8 71.7L592.6 71.4L594.3 71.2L596.1 71.0L597.9 70.8L599.6 70.5L601.4 70.3L603.2 70.0L604.9 69.6L606.7 69.3L608.5 68.9L610.2 68.4L612.0 67.9L613.8 67.4L615.5 66.9L617.3 66.3L619.1 65.7L620.8 65.0L622.6 64.3L624.4 63.6L626.1 62.8L627.9 61.9L629.6 60.9L631.4 59.9L633.2 58.8L634.9 57.7L636.7 56.5L638.5 55.3L640.2 54.0L642.0 52.7L643.8 51.3M496.6 80.9L497.8 80.7L499.0 80.4L500.3 80.2L501.5 80.0L502.7 79.8L504.0 79.5L505.2 79.3L506.5 79.1L507.7 78.9L508.9 78.7L510.2 78.5L511.4 78.2L512.6 78.0L513.9 77.8L515.1 77.6L516.4 77.4L517.6 77.2L518.8 77.0L520.1 76.8L521.3 76.6L522.5 76.5L523.8 76.3L525.0 76.1L526.3 75.9L527.5 75.7L528.7 75.5L530.0 75.4L531.2 75.2L532.4 75.0L533.7 74.9L534.9 74.7L536.1 74.5L537.4 74.4L538.6 74.2L539.9 74.1L541.1 73.9L542.3 73.8L543.6 73.7L544.8 73.5L546.0 73.4L547.3 73.2L548.5 73.1L549.8 72.9L551.0 72.8L552.2 72.6L553.5 72.4L554.7 72.3L555.9 72.1L557.2 72.0L558.4 71.8L559.7 71.7L560.9 71.5L562.1 71.4L563.4 71.2L564.6 71.0L565.8 70.9L567.1 70.7L568.3 70.5L569.5 70.4L570.8 70.2L572.0 70.0L573.3 69.8L574.5 69.6L575.7 69.3L577.0 69.1L578.2 68.9L579.4 68.7L580.7 68.4L581.9 68.2L583.2 68.0L584.4 67.8L585.6 67.5L586.9 67.3L588.1 67.1L589.3 66.9L590.6 66.7L591.8 66.5L593.1 66.3L594.3 66.2L595.5 66.0L596.8 65.8L598.0 65.6L599.2 65.5L600.5 65.3L601.7 65.0L602.9 64.8L604.2 64.6L605.4 64.3L606.7 64.0L607.9 63.7L609.1 63.4L610.4 63.1L611.6 62.7L612.8 62.3L614.1 61.9L615.3 61.5L616.6 61.1L617.8 60.7L619.0 60.3L620.3 59.9L621.5 59.5L622.7 59.1L624.0 58.7L625.2 58.3L626.5 57.9L627.7 57.4L628.9 57.0L630.2 56.6L631.4 56.1L632.6 55.7L633.9 55.2L635.1 54.8L636.4 54.3L637.6 53.8L638.8 53.3L640.1 52.8L641.3 52.3L642.5 51.8L643.8 51.3M643.8 51.3L642.3 54.0L640.8 56.6L639.3 59.2L637.8 61.7L636.3 64.2L634.8 66.6L633.3 69.0L631.8 71.3L630.3 73.5L628.8 75.7L627.3 77.9L625.9 80.0L624.4 82.0L622.9 84.0L621.4 85.9L619.9 87.8L618.4 89.7L616.9 91.5L615.4 93.2L613.9 94.9L612.4 96.5L610.9 98.1L609.4 99.7L607.9 101.2L606.4 102.6L604.9 104.0L603.4 105.4L602.0 106.7L600.5 107.9L599.0 109.1L597.5 110.3L596.0 111.4L594.5 112.5L593.0 113.6L591.5 114.6L590.0 115.5L588.5 116.4L587.0 117.3L585.5 118.1L584.0 118.9L582.5 119.7L581.0 120.4L579.6 121.1L578.1 121.7L576.6 122.3L575.1 122.9L573.6 123.4L572.1 123.9L570.6 124.4L569.1 124.9L567.6 125.4L566.1 125.8L564.6 126.3L563.1 126.8L561.6 127.3L560.1 127.8L558.6 128.2L557.2 128.7L555.7 129.2L554.2 129.7L552.7 130.1L551.2 130.6L549.7 131.1L548.2 131.6L546.7 132.1L545.2 132.5L543.7 133.0L542.2 133.5L540.7 134.0L539.2 134.4L537.7 134.9L536.2 135.4L534.8 135.9L533.3 136.4L531.8 136.8L530.3 137.3L528.8 137.8L527.3 138.3L525.8 138.7L524.3 139.2L522.8 139.7L521.3 140.2L519.8 140.7L518.3 141.1L516.8 141.6L515.3 142.1L513.8 142.6L512.3 143.1L510.9 143.5L509.4 144.0L507.9 144.5L506.4 145.0L504.9 145.5L503.4 145.9L501.9 146.4L500.4 146.9L498.9 147.4L497.4 147.9L495.9 148.4L494.4 148.9L492.9 149.4L491.4 149.9L489.9 150.4L488.5 150.9L487.0 151.4L485.5 151.9L484.0 152.4L482.5 152.9L481.0 153.4L479.5 154.0L478.0 154.5L476.5 155.0L475.0 155.6L473.5 156.2L472.0 156.8L470.5 157.4L469.0 158.0L467.5 158.6L466.1 159.3L464.6 160.0L463.1 160.7L461.6 161.4L460.1 162.2L458.6 163.0L457.1 163.8L455.6 164.7L454.1 165.6L452.6 166.6L451.1 167.6L449.6 168.7L448.1 169.8L446.6 171.0L445.1 172.3L443.6 173.6L442.2 174.9L440.7 176.3L439.2 177.8L437.7 179.3L436.2 180.8L434.7 182.4L433.2 184.1L431.7 185.7L430.2 187.4L428.7 189.2L427.2 191.0L425.7 192.8L424.2 194.6L422.7 196.4L421.2 198.3L419.8 200.2L418.3 202.1L416.8 204.0L415.3 205.9L413.8 207.8L412.3 209.8L410.8 211.7L409.3 213.7L407.8 215.7L406.3 217.4M643.8 51.3L642.3 54.1L640.8 56.9L639.3 59.5L637.8 62.1L636.3 64.7L634.8 67.2L633.3 69.6L631.8 71.9L630.3 74.2L628.8 76.4L627.3 78.6L625.8 80.7L624.3 82.7L622.8 84.7L621.3 86.6L619.8 88.5L618.3 90.3L616.8 92.1L615.4 93.8L613.9 95.4L612.4 97.0L610.9 98.5L609.4 100.0L607.9 101.4L606.4 102.7L604.9 104.0L603.4 105.3L601.9 106.5L600.4 107.7L598.9 108.8L597.4 109.8L595.9 110.8L594.4 111.8L592.9 112.7L591.4 113.6L589.9 114.4L588.4 115.2L586.9 116.0L585.4 116.7L583.9 117.4L582.4 118.0L580.9 118.6L579.5 119.2L578.0 119.7L576.5 120.2L575.0 120.7L573.5 121.1L572.0 121.6L570.5 122.1L569.0 122.6L567.5 123.0L566.0 123.5L564.5 124.0L563.0 124.4L561.5 124.9L560.0 125.4L558.5 125.8L557.0 126.3L555.5 126.8L554.0 127.2L552.5 127.7L551.0 128.2L549.5 128.6L548.0 129.1L546.5 129.6L545.1 130.1L543.6 130.5L542.1 131.0L540.6 131.5L539.1 131.9L537.6 132.4L536.1 132.9L534.6 133.3L533.1 133.8L531.6 134.3L530.1 134.7L528.6 135.2L527.1 135.7L525.6 136.2L524.1 136.6L522.6 137.1L521.1 137.6L519.6 138.0L518.1 138.5L516.6 139.0L515.1 139.4L513.6 139.9L512.1 140.4L510.6 140.9L509.2 141.3L507.7 141.8L506.2 142.3L504.7 142.7L503.2 143.2L501.7 143.7L500.2 144.2L498.7 144.6L497.2 145.1L495.7 145.6L494.2 146.1L492.7 146.6L491.2 147.1L489.7 147.6L488.2 148.0L486.7 148.5L485.2 149.0L483.7 149.5L482.2 150.1L480.7 150.6L479.2 151.1L477.7 151.6L476.2 152.2L474.7 152.7L473.3 153.3L471.8 153.9L470.3 154.5L468.8 155.1L467.3 155.8L465.8 156.4L464.3 157.1L462.8 157.9L461.3 158.6L459.8 159.4L458.3 160.3L456.8 161.2L455.3 162.1L453.8 163.1L452.3 164.1L450.8 165.2L449.3 166.3L447.8 167.6L446.3 168.8L444.8 170.1L443.3 171.5L441.8 173.0L440.3 174.5L438.9 176.0L437.4 177.6L435.9 179.3L434.4 180.9L432.9 182.7L431.4 184.4L429.9 186.2L428.4 188.1L426.9 189.9L425.4 191.8L423.9 193.7L422.4 195.6L420.9 197.6L419.4 199.5L417.9 201.5L416.4 203.5L414.9 205.5L413.4 207.5L411.9 209.5L410.4 211.5L408.9 213.5L407.4 215.5L405.9 217.4M606.8 65.5L605.5 67.7L604.2 69.9L603.0 72.0L601.7 74.0L600.4 75.9L599.1 77.8L597.9 79.7L596.6 81.4L595.3 83.2L594.0 84.8L592.8 86.4L591.5 88.0L590.2 89.5L588.9 90.9L587.7 92.3L586.4 93.6L585.1 94.9L583.8 96.1L582.6 97.3L581.3 98.5L580.0 99.6L578.7 100.6L577.5 101.6L576.2 102.6L574.9 103.5L573.6 104.4L572.4 105.2L571.1 106.0L569.8 106.8L568.5 107.6L567.3 108.3L566.0 109.0L564.7 109.6L563.4 110.3L562.2 110.9L560.9 111.5L559.6 112.2L558.3 112.8L557.1 113.4L555.8 114.0L554.5 114.7L553.2 115.3L552.0 115.9L550.7 116.5L549.4 117.1L548.1 117.7L546.9 118.3L545.6 118.9L544.3 119.5L543.0 120.1L541.8 120.7L540.5 121.3L539.2 121.9L537.9 122.4L536.7 123.0L535.4 123.6L534.1 124.2L532.8 124.7L531.6 125.3L530.3 125.9L529.0 126.4L527.7 127.0L526.5 127.6L525.2 128.1L523.9 128.7L522.6 129.2L521.4 129.8L520.1 130.3L518.8 130.8L517.5 131.4L516.3 131.9L515.0 132.5L513.7 133.0L512.5 133.5L511.2 134.0L509.9 134.6L508.6 135.1L507.4 135.6L506.1 136.1L504.8 136.6L503.5 137.1L502.3 137.6L501.0 138.1L499.7 138.6L498.4 139.1L497.2 139.6L495.9 140.1L494.6 140.6L493.3 141.1L492.1 141.6L490.8 142.1L489.5 142.6L488.2 143.1L487.0 143.6L485.7 144.1L484.4 144.5L483.1 145.0L481.9 145.5L480.6 146.0L479.3 146.5L478.0 147.0L476.8 147.5L475.5 148.0L474.2 148.5L472.9 149.0L471.7 149.5L470.4 150.1L469.1 150.6L467.8 151.1L466.6 151.7L465.3 152.3L464.0 152.9L462.7 153.5L461.5 154.1L460.2 154.8L458.9 155.5L457.6 156.2L456.4 156.9L455.1 157.7L453.8 158.5L452.5 159.4L451.3 160.3L450.0 161.2L448.7 162.2L447.4 163.2L446.2 164.3L444.9 165.4L443.6 166.6L442.3 167.8L441.1 169.1L439.8 170.4L438.5 171.8L437.2 173.2L436.0 174.6L434.7 176.1L433.4 177.6L432.1 179.2L430.9 180.7L429.6 182.4L428.3 184.0L427.0 185.6L425.8 187.3L424.5 189.0L423.2 190.7L421.9 192.5L420.7 194.2L419.4 195.9L418.1 197.7L416.8 199.5L415.6 201.3L414.3 203.0L413.0 204.8L411.7 206.6L410.5 208.4L409.2 210.2L407.9 212.1L406.6 213.9L405.4 215.7L404.1 217.4M606.8 67.0L605.5 68.9L604.2 70.8L602.9 72.6L601.7 74.4L600.4 76.2L599.1 77.9L597.8 79.5L596.5 81.1L595.3 82.7L594.0 84.2L592.7 85.6L591.4 87.0L590.2 88.4L588.9 89.7L587.6 90.9L586.3 92.2L585.0 93.3L583.8 94.5L582.5 95.6L581.2 96.6L579.9 97.7L578.6 98.7L577.4 99.6L576.1 100.5L574.8 101.4L573.5 102.2L572.2 103.0L571.0 103.8L569.7 104.6L568.4 105.3L567.1 106.0L565.8 106.7L564.6 107.3L563.3 108.0L562.0 108.6L560.7 109.3L559.4 109.9L558.2 110.5L556.9 111.1L555.6 111.8L554.3 112.4L553.0 113.0L551.8 113.6L550.5 114.2L549.2 114.8L547.9 115.5L546.7 116.1L545.4 116.7L544.1 117.3L542.8 117.8L541.5 118.4L540.3 119.0L539.0 119.6L537.7 120.2L536.4 120.8L535.1 121.4L533.9 121.9L532.6 122.5L531.3 123.1L530.0 123.6L528.7 124.2L527.5 124.8L526.2 125.3L524.9 125.9L523.6 126.4L522.3 127.0L521.1 127.5L519.8 128.1L518.5 128.6L517.2 129.2L515.9 129.7L514.7 130.2L513.4 130.8L512.1 131.3L510.8 131.8L509.5 132.3L508.3 132.9L507.0 133.4L505.7 133.9L504.4 134.4L503.2 134.9L501.9 135.4L500.6 135.9L499.3 136.4L498.0 136.9L496.8 137.4L495.5 137.9L494.2 138.4L492.9 138.9L491.6 139.4L490.4 139.9L489.1 140.4L487.8 140.9L486.5 141.4L485.2 141.9L484.0 142.3L482.7 142.8L481.4 143.3L480.1 143.8L478.8 144.3L477.6 144.8L476.3 145.3L475.0 145.8L473.7 146.3L472.4 146.8L471.2 147.4L469.9 147.9L468.6 148.4L467.3 149.0L466.0 149.6L464.8 150.2L463.5 150.8L462.2 151.4L460.9 152.1L459.6 152.7L458.4 153.4L457.1 154.2L455.8 155.0L454.5 155.8L453.3 156.6L452.0 157.5L450.7 158.5L449.4 159.4L448.1 160.5L446.9 161.6L445.6 162.7L444.3 163.9L443.0 165.1L441.7 166.4L440.5 167.7L439.2 169.1L437.9 170.5L436.6 172.0L435.3 173.5L434.1 175.0L432.8 176.6L431.5 178.2L430.2 179.9L428.9 181.5L427.7 183.2L426.4 184.9L425.1 186.6L423.8 188.4L422.5 190.1L421.3 191.9L420.0 193.7L418.7 195.5L417.4 197.3L416.1 199.1L414.9 200.9L413.6 202.7L412.3 204.6L411.0 206.4L409.8 208.2L408.5 210.1L407.2 211.9L405.9 213.8L404.6 215.6L403.4 217.4M569.1 70.3L568.0 72.7L567.0 75.0L565.9 77.2L564.9 79.4L563.8 81.4L562.7 83.4L561.7 85.4L560.6 87.2L559.6 89.0L558.5 90.7L557.5 92.4L556.4 93.9L555.4 95.5L554.3 96.9L553.3 98.3L552.2 99.6L551.2 100.8L550.1 102.0L549.1 103.2L548.0 104.3L547.0 105.3L545.9 106.2L544.9 107.2L543.8 108.0L542.8 108.8L541.7 109.6L540.7 110.3L539.6 111.0L538.6 111.6L537.5 112.2L536.5 112.8L535.4 113.4L534.4 113.9L533.3 114.4L532.3 114.9L531.2 115.4L530.2 115.9L529.1 116.4L528.1 116.9L527.0 117.4L525.9 117.9L524.9 118.4L523.8 118.9L522.8 119.4L521.7 119.9L520.7 120.4L519.6 120.9L518.6 121.3L517.5 121.8L516.5 122.3L515.4 122.8L514.4 123.3L513.3 123.8L512.3 124.3L511.2 124.8L510.2 125.3L509.1 125.8L508.1 126.3L507.0 126.8L506.0 127.3L504.9 127.8L503.9 128.3L502.8 128.8L501.8 129.3L500.7 129.8L499.7 130.3L498.6 130.8L497.6 131.3L496.5 131.8L495.5 132.3L494.4 132.9L493.4 133.4L492.3 133.9L491.2 134.4L490.2 134.9L489.1 135.4L488.1 135.9L487.0 136.4L486.0 136.9L484.9 137.4L483.9 137.9L482.8 138.5L481.8 139.0L480.7 139.5L479.7 140.0L478.6 140.5L477.6 141.1L476.5 141.6L475.5 142.1L474.4 142.7L473.4 143.2L472.3 143.8L471.3 144.3L470.2 144.9L469.2 145.4L468.1 146.0L467.1 146.6L466.0 147.2L465.0 147.8L463.9 148.4L462.9 149.0L461.8 149.6L460.8 150.3L459.7 150.9L458.7 151.6L457.6 152.2L456.6 152.9L455.5 153.6L454.4 154.4L453.4 155.1L452.3 155.9L451.3 156.7L450.2 157.5L449.2 158.3L448.1 159.2L447.1 160.1L446.0 161.0L445.0 161.9L443.9 162.9L442.9 163.9L441.8 164.9L440.8 165.9L439.7 167.0L438.7 168.1L437.6 169.2L436.6 170.4L435.5 171.6L434.5 172.8L433.4 174.0L432.4 175.2L431.3 176.5L430.3 177.8L429.2 179.1L428.2 180.5L427.1 181.8L426.1 183.2L425.0 184.6L424.0 186.0L422.9 187.4L421.9 188.9L420.8 190.3L419.7 191.8L418.7 193.2L417.6 194.7L416.6 196.2L415.5 197.7L414.5 199.2L413.4 200.7L412.4 202.2L411.3 203.7L410.3 205.3L409.2 206.8L408.2 208.3L407.1 209.9L406.1 211.4L405.0 213.0L404.0 214.5L402.9 216.1L401.9 217.4M569.1 71.9L568.0 74.0L566.9 76.0L565.9 78.0L564.8 79.9L563.8 81.7L562.7 83.5L561.7 85.2L560.6 86.8L559.6 88.4L558.5 89.9L557.4 91.3L556.4 92.7L555.3 94.1L554.3 95.4L553.2 96.6L552.2 97.8L551.1 98.9L550.0 100.0L549.0 101.0L547.9 102.0L546.9 103.0L545.8 103.8L544.8 104.7L543.7 105.5L542.7 106.2L541.6 107.0L540.5 107.7L539.5 108.3L538.4 108.9L537.4 109.5L536.3 110.1L535.3 110.6L534.2 111.1L533.1 111.6L532.1 112.1L531.0 112.6L530.0 113.1L528.9 113.6L527.9 114.1L526.8 114.6L525.8 115.1L524.7 115.6L523.6 116.1L522.6 116.6L521.5 117.1L520.5 117.6L519.4 118.1L518.4 118.6L517.3 119.1L516.3 119.6L515.2 120.1L514.1 120.6L513.1 121.1L512.0 121.6L511.0 122.1L509.9 122.6L508.9 123.1L507.8 123.6L506.7 124.1L505.7 124.6L504.6 125.1L503.6 125.6L502.5 126.1L501.5 126.6L500.4 127.1L499.4 127.6L498.3 128.2L497.2 128.7L496.2 129.2L495.1 129.7L494.1 130.2L493.0 130.7L492.0 131.2L490.9 131.7L489.8 132.2L488.8 132.7L487.7 133.2L486.7 133.7L485.6 134.3L484.6 134.8L483.5 135.3L482.5 135.8L481.4 136.3L480.3 136.9L479.3 137.4L478.2 137.9L477.2 138.4L476.1 139.0L475.1 139.5L474.0 140.1L473.0 140.6L471.9 141.2L470.8 141.7L469.8 142.3L468.7 142.9L467.7 143.5L466.6 144.0L465.6 144.6L464.5 145.2L463.4 145.9L462.4 146.5L461.3 147.1L460.3 147.8L459.2 148.5L458.2 149.1L457.1 149.8L456.1 150.6L455.0 151.3L453.9 152.1L452.9 152.8L451.8 153.7L450.8 154.5L449.7 155.3L448.7 156.2L447.6 157.1L446.5 158.0L445.5 159.0L444.4 160.0L443.4 161.0L442.3 162.0L441.3 163.1L440.2 164.2L439.2 165.3L438.1 166.5L437.0 167.7L436.0 168.9L434.9 170.1L433.9 171.4L432.8 172.7L431.8 174.0L430.7 175.3L429.7 176.7L428.6 178.0L427.5 179.4L426.5 180.8L425.4 182.3L424.4 183.7L423.3 185.1L422.3 186.6L421.2 188.1L420.1 189.6L419.1 191.1L418.0 192.6L417.0 194.1L415.9 195.6L414.9 197.2L413.8 198.7L412.8 200.3L411.7 201.8L410.6 203.4L409.6 205.0L408.5 206.5L407.5 208.1L406.4 209.7L405.4 211.2L404.3 212.8L403.2 214.4L402.2 216.0L401.1 217.4M533.5 74.5L532.7 76.6L531.9 78.6L531.0 80.5L530.2 82.4L529.3 84.2L528.5 85.9L527.6 87.6L526.8 89.2L525.9 90.8L525.1 92.3L524.2 93.8L523.4 95.2L522.5 96.5L521.7 97.8L520.8 99.1L520.0 100.3L519.2 101.4L518.3 102.5L517.5 103.5L516.6 104.5L515.8 105.4L514.9 106.3L514.1 107.2L513.2 108.0L512.4 108.7L511.5 109.4L510.7 110.1L509.8 110.7L509.0 111.3L508.1 111.9L507.3 112.4L506.5 112.9L505.6 113.4L504.8 113.8L503.9 114.2L503.1 114.5L502.2 114.9L501.4 115.2L500.5 115.5L499.7 115.8L498.8 116.1L498.0 116.4L497.1 116.7L496.3 117.1L495.4 117.4L494.6 117.7L493.8 118.0L492.9 118.3L492.1 118.6L491.2 118.9L490.4 119.2L489.5 119.5L488.7 119.9L487.8 120.2L487.0 120.5L486.1 120.8L485.3 121.2L484.4 121.5L483.6 121.8L482.7 122.1L481.9 122.5L481.1 122.8L480.2 123.2L479.4 123.5L478.5 123.9L477.7 124.3L476.8 124.6L476.0 125.0L475.1 125.4L474.3 125.8L473.4 126.2L472.6 126.6L471.7 127.0L470.9 127.4L470.0 127.9L469.2 128.3L468.3 128.8L467.5 129.3L466.7 129.7L465.8 130.3L465.0 130.8L464.1 131.3L463.3 131.9L462.4 132.5L461.6 133.0L460.7 133.7L459.9 134.3L459.0 135.0L458.2 135.6L457.3 136.4L456.5 137.1L455.6 137.8L454.8 138.6L454.0 139.4L453.1 140.2L452.3 141.1L451.4 142.0L450.6 142.9L449.7 143.8L448.9 144.7L448.0 145.7L447.2 146.7L446.3 147.7L445.5 148.7L444.6 149.7L443.8 150.8L442.9 151.9L442.1 153.0L441.3 154.1L440.4 155.2L439.6 156.4L438.7 157.5L437.9 158.7L437.0 159.9L436.2 161.0L435.3 162.2L434.5 163.5L433.6 164.7L432.8 165.9L431.9 167.1L431.1 168.4L430.2 169.6L429.4 170.9L428.6 172.1L427.7 173.4L426.9 174.6L426.0 175.9L425.2 177.2L424.3 178.4L423.5 179.7L422.6 181.0L421.8 182.3L420.9 183.6L420.1 184.9L419.2 186.2L418.4 187.4L417.5 188.7L416.7 190.0L415.9 191.3L415.0 192.6L414.2 193.9L413.3 195.2L412.5 196.5L411.6 197.8L410.8 199.1L409.9 200.4L409.1 201.7L408.2 203.0L407.4 204.3L406.5 205.7L405.7 207.0L404.8 208.3L404.0 209.6L403.1 210.9L402.3 212.2L401.5 213.5L400.6 214.8L399.8 216.1L398.9 217.4M533.5 75.9L532.7 77.8L531.8 79.6L531.0 81.4L530.1 83.1L529.3 84.8L528.4 86.4L527.6 87.9L526.7 89.4L525.9 90.9L525.0 92.3L524.2 93.6L523.3 94.9L522.5 96.1L521.6 97.3L520.8 98.5L519.9 99.6L519.1 100.6L518.2 101.6L517.4 102.6L516.5 103.5L515.7 104.4L514.8 105.2L514.0 106.0L513.1 106.7L512.3 107.4L511.4 108.1L510.6 108.7L509.7 109.3L508.9 109.9L508.0 110.4L507.2 110.9L506.3 111.4L505.5 111.8L504.6 112.2L503.8 112.6L502.9 113.0L502.0 113.3L501.2 113.6L500.3 113.9L499.5 114.2L498.6 114.5L497.8 114.8L496.9 115.2L496.1 115.5L495.2 115.8L494.4 116.1L493.5 116.4L492.7 116.7L491.8 117.0L491.0 117.3L490.1 117.6L489.3 118.0L488.4 118.3L487.6 118.6L486.7 118.9L485.9 119.2L485.0 119.6L484.2 119.9L483.3 120.2L482.5 120.6L481.6 120.9L480.8 121.2L479.9 121.6L479.1 121.9L478.2 122.3L477.4 122.7L476.5 123.0L475.7 123.4L474.8 123.8L474.0 124.2L473.1 124.6L472.2 125.0L471.4 125.4L470.5 125.8L469.7 126.3L468.8 126.7L468.0 127.2L467.1 127.7L466.3 128.1L465.4 128.7L464.6 129.2L463.7 129.7L462.9 130.3L462.0 130.9L461.2 131.5L460.3 132.1L459.5 132.7L458.6 133.4L457.8 134.1L456.9 134.8L456.1 135.5L455.2 136.3L454.4 137.1L453.5 137.9L452.7 138.7L451.8 139.6L451.0 140.5L450.1 141.4L449.3 142.3L448.4 143.3L447.6 144.3L446.7 145.3L445.9 146.3L445.0 147.4L444.2 148.4L443.3 149.5L442.4 150.6L441.6 151.7L440.7 152.9L439.9 154.0L439.0 155.2L438.2 156.4L437.3 157.5L436.5 158.7L435.6 160.0L434.8 161.2L433.9 162.4L433.1 163.7L432.2 164.9L431.4 166.2L430.5 167.4L429.7 168.7L428.8 170.0L428.0 171.3L427.1 172.5L426.3 173.8L425.4 175.1L424.6 176.4L423.7 177.7L422.9 179.0L422.0 180.3L421.2 181.6L420.3 182.9L419.5 184.3L418.6 185.6L417.8 186.9L416.9 188.2L416.1 189.5L415.2 190.8L414.4 192.2L413.5 193.5L412.6 194.8L411.8 196.1L410.9 197.5L410.1 198.8L409.2 200.1L408.4 201.5L407.5 202.8L406.7 204.1L405.8 205.4L405.0 206.8L404.1 208.1L403.3 209.4L402.4 210.8L401.6 212.1L400.7 213.4L399.9 214.8L399.0 216.1L398.2 217.4M494.7 82.1L494.1 84.1L493.5 86.1L492.9 88.1L492.2 89.9L491.6 91.8L491.0 93.5L490.4 95.2L489.8 96.9L489.2 98.5L488.5 100.0L487.9 101.5L487.3 102.9L486.7 104.3L486.1 105.6L485.5 106.9L484.8 108.1L484.2 109.3L483.6 110.4L483.0 111.5L482.4 112.6L481.8 113.6L481.2 114.5L480.5 115.4L479.9 116.3L479.3 117.1L478.7 117.9L478.1 118.7L477.5 119.4L476.8 120.0L476.2 120.7L475.6 121.3L475.0 121.9L474.4 122.4L473.8 122.9L473.1 123.4L472.5 123.9L471.9 124.3L471.3 124.8L470.7 125.2L470.1 125.5L469.4 125.9L468.8 126.3L468.2 126.6L467.6 126.9L467.0 127.3L466.4 127.6L465.7 127.9L465.1 128.3L464.5 128.6L463.9 129.0L463.3 129.4L462.7 129.7L462.0 130.1L461.4 130.5L460.8 130.9L460.2 131.3L459.6 131.7L459.0 132.1L458.3 132.6L457.7 133.0L457.1 133.5L456.5 134.0L455.9 134.4L455.3 134.9L454.6 135.4L454.0 136.0L453.4 136.5L452.8 137.0L452.2 137.6L451.6 138.2L450.9 138.7L450.3 139.3L449.7 139.9L449.1 140.6L448.5 141.2L447.9 141.8L447.2 142.5L446.6 143.2L446.0 143.9L445.4 144.6L444.8 145.3L444.2 146.0L443.5 146.7L442.9 147.5L442.3 148.2L441.7 149.0L441.1 149.8L440.5 150.6L439.8 151.4L439.2 152.2L438.6 153.0L438.0 153.8L437.4 154.6L436.8 155.5L436.1 156.3L435.5 157.2L434.9 158.1L434.3 158.9L433.7 159.8L433.1 160.7L432.5 161.6L431.8 162.5L431.2 163.4L430.6 164.3L430.0 165.2L429.4 166.1L428.8 167.1L428.1 168.0L427.5 168.9L426.9 169.9L426.3 170.8L425.7 171.7L425.1 172.7L424.4 173.6L423.8 174.6L423.2 175.5L422.6 176.5L422.0 177.4L421.4 178.4L420.7 179.3L420.1 180.3L419.5 181.3L418.9 182.2L418.3 183.2L417.7 184.2L417.0 185.1L416.4 186.1L415.8 187.1L415.2 188.0L414.6 189.0L414.0 190.0L413.3 191.0L412.7 191.9L412.1 192.9L411.5 193.9L410.9 194.9L410.3 195.8L409.6 196.8L409.0 197.8L408.4 198.8L407.8 199.7L407.2 200.7L406.6 201.7L405.9 202.7L405.3 203.7L404.7 204.6L404.1 205.6L403.5 206.6L402.9 207.6L402.2 208.6L401.6 209.6L401.0 210.5L400.4 211.5L399.8 212.5L399.2 213.5L398.5 214.5L397.9 215.5L397.3 216.4L396.7 217.4M494.7 84.5L494.1 86.4L493.5 88.3L492.8 90.2L492.2 91.9L491.6 93.6L491.0 95.3L490.4 96.9L489.7 98.4L489.1 99.9L488.5 101.4L487.9 102.7L487.3 104.1L486.6 105.3L486.0 106.6L485.4 107.7L484.8 108.9L484.2 109.9L483.5 111.0L482.9 111.9L482.3 112.9L481.7 113.8L481.0 114.6L480.4 115.4L479.8 116.2L479.2 116.9L478.6 117.6L477.9 118.2L477.3 118.9L476.7 119.4L476.1 120.0L475.5 120.5L474.8 121.0L474.2 121.4L473.6 121.9L473.0 122.3L472.4 122.7L471.7 123.1L471.1 123.4L470.5 123.7L469.9 124.1L469.2 124.4L468.6 124.7L468.0 125.0L467.4 125.3L466.8 125.7L466.1 126.0L465.5 126.3L464.9 126.7L464.3 127.0L463.7 127.4L463.0 127.8L462.4 128.1L461.8 128.5L461.2 128.9L460.6 129.3L459.9 129.7L459.3 130.2L458.7 130.6L458.1 131.0L457.4 131.5L456.8 132.0L456.2 132.4L455.6 132.9L455.0 133.4L454.3 133.9L453.7 134.5L453.1 135.0L452.5 135.6L451.9 136.1L451.2 136.7L450.6 137.3L450.0 137.9L449.4 138.5L448.8 139.1L448.1 139.8L447.5 140.5L446.9 141.1L446.3 141.8L445.6 142.5L445.0 143.2L444.4 144.0L443.8 144.7L443.2 145.4L442.5 146.2L441.9 147.0L441.3 147.8L440.7 148.6L440.1 149.4L439.4 150.2L438.8 151.0L438.2 151.8L437.6 152.7L436.9 153.5L436.3 154.4L435.7 155.3L435.1 156.2L434.5 157.0L433.8 157.9L433.2 158.8L432.6 159.7L432.0 160.6L431.4 161.6L430.7 162.5L430.1 163.4L429.5 164.3L428.9 165.3L428.3 166.2L427.6 167.2L427.0 168.1L426.4 169.1L425.8 170.0L425.1 171.0L424.5 171.9L423.9 172.9L423.3 173.9L422.7 174.8L422.0 175.8L421.4 176.8L420.8 177.7L420.2 178.7L419.6 179.7L418.9 180.7L418.3 181.6L417.7 182.6L417.1 183.6L416.5 184.6L415.8 185.6L415.2 186.6L414.6 187.6L414.0 188.5L413.3 189.5L412.7 190.5L412.1 191.5L411.5 192.5L410.9 193.5L410.2 194.5L409.6 195.5L409.0 196.5L408.4 197.5L407.8 198.5L407.1 199.5L406.5 200.5L405.9 201.5L405.3 202.4L404.7 203.4L404.0 204.4L403.4 205.4L402.8 206.4L402.2 207.4L401.5 208.4L400.9 209.4L400.3 210.4L399.7 211.4L399.1 212.4L398.4 213.4L397.8 214.4L397.2 215.4L396.6 216.4L396.0 217.4M496.6 80.2L495.9 82.3L495.3 84.3L494.7 86.3L494.0 88.2L493.4 90.1L492.7 91.8L492.1 93.5L491.5 95.2L490.8 96.8L490.2 98.3L489.6 99.8L488.9 101.2L488.3 102.5L487.6 103.8L487.0 105.0L486.4 106.2L485.7 107.3L485.1 108.4L484.5 109.4L483.8 110.4L483.2 111.3L482.5 112.2L481.9 113.0L481.3 113.8L480.6 114.5L480.0 115.2L479.4 115.9L478.7 116.5L478.1 117.1L477.4 117.6L476.8 118.1L476.2 118.6L475.5 119.0L474.9 119.5L474.3 119.9L473.6 120.2L473.0 120.6L472.3 120.9L471.7 121.2L471.1 121.5L470.4 121.8L469.8 122.2L469.2 122.5L468.5 122.8L467.9 123.1L467.2 123.4L466.6 123.8L466.0 124.1L465.3 124.5L464.7 124.8L464.1 125.2L463.4 125.5L462.8 125.9L462.1 126.3L461.5 126.7L460.9 127.1L460.2 127.5L459.6 127.9L459.0 128.4L458.3 128.8L457.7 129.3L457.0 129.8L456.4 130.2L455.8 130.7L455.1 131.2L454.5 131.8L453.9 132.3L453.2 132.8L452.6 133.4L451.9 134.0L451.3 134.6L450.7 135.2L450.0 135.8L449.4 136.4L448.8 137.1L448.1 137.7L447.5 138.4L446.8 139.1L446.2 139.8L445.6 140.5L444.9 141.3L444.3 142.0L443.7 142.8L443.0 143.6L442.4 144.4L441.7 145.2L441.1 146.0L440.5 146.8L439.8 147.6L439.2 148.5L438.6 149.4L437.9 150.2L437.3 151.1L436.6 152.0L436.0 152.9L435.4 153.8L434.7 154.7L434.1 155.6L433.5 156.6L432.8 157.5L432.2 158.4L431.5 159.4L430.9 160.3L430.3 161.3L429.6 162.3L429.0 163.2L428.4 164.2L427.7 165.2L427.1 166.2L426.4 167.2L425.8 168.2L425.2 169.1L424.5 170.1L423.9 171.1L423.3 172.1L422.6 173.2L422.0 174.2L421.3 175.2L420.7 176.2L420.1 177.2L419.4 178.2L418.8 179.2L418.2 180.2L417.5 181.3L416.9 182.3L416.3 183.3L415.6 184.3L415.0 185.4L414.3 186.4L413.7 187.4L413.1 188.4L412.4 189.5L411.8 190.5L411.2 191.5L410.5 192.6L409.9 193.6L409.2 194.6L408.6 195.7L408.0 196.7L407.3 197.7L406.7 198.8L406.1 199.8L405.4 200.8L404.8 201.9L404.1 202.9L403.5 203.9L402.9 205.0L402.2 206.0L401.6 207.0L401.0 208.1L400.3 209.1L399.7 210.2L399.0 211.2L398.4 212.2L397.8 213.3L397.1 214.3L396.5 215.3L395.9 216.4L395.2 217.4" stroke="#808080" stroke-width="2.4" fill="none" stroke-linejoin="round" stroke-linecap="round"/>
<path d="M389.3 217.4L390.0 216.1L390.7 214.7L391.4 213.4L392.0 212.0L392.7 210.7L393.4 209.3L394.1 208.0L394.8 206.7L395.5 205.3L396.3 204.0L397.0 202.7L397.7 201.3L398.5 200.0L399.2 198.7L399.9 197.4L400.7 196.0L401.4 194.7L402.1 193.4L402.7 192.0L403.4 190.6L404.0 189.3L404.6 187.9L405.1 186.5L405.6 185.0L406.1 183.6L406.6 182.2L407.1 180.8L407.6 179.3L408.1 177.9L408.6 176.5L409.2 175.1L409.7 173.7L410.3 172.3L410.9 170.9L411.6 169.5L412.2 168.2L412.8 166.8L413.5 165.4L414.1 164.0L414.7 162.7L415.3 161.3L416.0 159.9L416.6 158.5L417.3 157.2L418.0 155.8L418.8 154.5L419.5 153.2L420.4 152.0L421.2 150.7L422.0 149.5L422.9 148.2L423.7 146.9L424.5 145.6L425.2 144.3L425.9 143.0L426.6 141.6L427.3 140.3L427.9 138.9L428.6 137.5L429.3 136.2L430.0 134.9L430.7 133.6L431.5 132.3L432.3 131.0L433.2 129.8L434.0 128.5L434.9 127.3L435.8 126.0L436.7 124.8L437.6 123.6L438.6 122.4L439.5 121.2L440.5 120.0L441.5 118.9L442.6 117.8L443.7 116.7L444.8 115.8L446.0 114.9L447.3 114.1L448.6 113.4L449.9 112.7L451.3 112.1L452.7 111.6L454.2 111.0L455.6 110.5L457.1 110.1L458.6 109.6L460.0 109.2L461.5 108.7L462.9 108.2L464.4 107.7L465.8 107.2L467.2 106.7L468.6 106.3L470.1 105.8L471.5 105.3L472.9 104.8L474.4 104.3L475.8 103.9L477.2 103.4L478.7 102.9L480.1 102.5L481.6 102.1L483.0 101.6L484.5 101.2L485.9 100.8L487.4 100.4L488.8 100.0L490.3 99.6L491.8 99.2L493.2 98.8L494.7 98.5L496.2 98.1L497.6 97.7L499.1 97.4L500.6 97.0L502.0 96.6L503.5 96.2L505.0 95.8L506.4 95.4L507.9 95.0L509.3 94.6L510.8 94.1L512.2 93.7L513.7 93.2L515.1 92.7L516.5 92.2L517.9 91.6L519.3 91.1L520.7 90.5L522.1 89.9L523.5 89.2L524.9 88.6L526.2 87.9L527.6 87.3L528.9 86.6L530.3 86.0L531.7 85.3L533.1 84.7L534.4 84.1L535.8 83.5L537.2 82.9L538.6 82.3L540.0 81.7L541.4 81.1L542.8 80.6L544.2 80.0L545.6 79.4L547.0 78.8L548.4 78.3L549.8 77.7L551.2 77.0L552.6 76.4L553.9 75.8L555.3 75.1L556.6 74.4L558.0 73.7L559.3 73.0L560.6 72.3L562.0 71.6L563.3 70.8L564.6 70.1L565.9 69.4L567.3 68.6L568.6 67.8L569.9 67.1L571.2 66.3L572.5 65.6L573.8 64.8L575.1 64.0L576.4 63.2L577.7 62.5L579.0 61.7L580.3 60.9L581.6 60.1L582.9 59.3L584.2 58.6L585.4 57.8L586.7 57.0L588.0 56.2L589.3 55.4L590.6 54.6L591.9 53.8L593.1 52.9L594.4 52.1L595.7 51.3L596.9 50.5L598.2 49.6L599.5 48.8L600.7 47.9L601.9 47.1L603.2 46.2L604.4 45.3L605.7 44.4L606.9 43.6L608.1 42.7L609.3 41.8L610.6 40.9L611.8 40.0L613.0 39.2L614.3 38.3L615.5 37.4L616.7 36.5L618.0 35.7L619.2 34.8L620.5 34.0L621.8 33.2L623.0 32.3L624.3 31.5L625.6 30.7L626.9 29.9L628.1 29.1L629.4 28.3L630.7 27.5L632.0 26.8L633.3 26.0L634.6 25.2L635.9 24.4L637.2 23.7L638.5 22.9L639.8 22.2L641.2 21.4L642.5 20.6L643.8 19.9M408.5 174.8L409.1 173.5L409.7 172.3L410.2 171.0L410.8 169.7L411.4 168.5L412.0 167.2L412.5 165.9L413.1 164.6L413.6 163.3L414.2 162.1L414.8 160.8L415.4 159.5L416.0 158.3L416.6 157.0L417.3 155.8L418.0 154.6L418.7 153.4L419.5 152.2L420.2 151.1L421.0 149.9L421.8 148.7L422.5 147.6L423.3 146.4L424.0 145.2L424.6 144.0L425.3 142.7L425.9 141.5L426.5 140.2L427.1 139.0L427.8 137.7L428.4 136.5L429.0 135.2L429.7 134.0L430.4 132.8L431.2 131.7L431.9 130.5L432.7 129.4L433.5 128.2L434.3 127.1L435.2 125.9L436.0 124.8L436.8 123.6L437.7 122.5L438.5 121.3L439.4 120.2L440.3 119.1L441.2 118.1L442.2 117.1L443.2 116.2L444.3 115.3L445.4 114.5L446.6 113.9L447.8 113.2L449.1 112.7L450.4 112.2L451.8 111.7L453.1 111.3L454.5 110.9L455.9 110.5M559.4 73.1L560.2 72.7L560.9 72.3L561.7 71.9L562.4 71.5L563.2 71.1L563.9 70.7L564.6 70.4L565.4 70.0L566.1 69.6L566.9 69.2L567.6 68.8L568.3 68.4L569.1 68.0L569.8 67.6L570.6 67.2L571.3 66.8L572.0 66.4L572.8 66.0L573.5 65.5L574.2 65.1L575.0 64.7L575.7 64.3L576.4 63.9L577.2 63.5L577.9 63.0L578.6 62.6L579.3 62.2L580.1 61.8L580.8 61.3L581.5 60.9L582.2 60.4L582.9 60.0L583.6 59.5L584.3 59.1L585.0 58.6L585.7 58.2L586.4 57.7L587.1 57.2L587.8 56.7L588.5 56.3L589.2 55.8L589.9 55.3L590.6 54.8L591.2 54.3L591.9 53.8L592.6 53.3L593.3 52.8L593.9 52.3L594.6 51.8L595.3 51.3L595.9 50.7L596.6 50.2L597.3 49.7L597.9 49.2L598.6 48.7L599.3 48.2L599.9 47.6L600.6 47.1L601.2 46.6M601.2 45.9L601.6 45.7L601.9 45.6L602.2 45.4L602.6 45.3L602.9 45.1L603.3 45.0L603.6 44.8L603.9 44.7L604.3 44.5L604.6 44.4L604.9 44.2L605.3 44.1L605.6 43.9L606.0 43.8L606.3 43.6L606.6 43.5L607.0 43.3L607.3 43.1L607.6 43.0L608.0 42.8L608.3 42.7L608.6 42.5L608.9 42.3L609.3 42.2L609.6 42.0L609.9 41.8L610.3 41.7L610.6 41.5L610.9 41.3L611.2 41.2L611.6 41.0L611.9 40.8L612.2 40.6L612.5 40.5L612.9 40.3L613.2 40.1L613.5 39.9L613.8 39.7L614.1 39.5L614.5 39.4L614.8 39.2L615.1 39.0L615.4 38.8L615.7 38.6L616.1 38.4L616.4 38.2L616.7 38.0L617.0 37.9L617.3 37.7L617.6 37.5L618.0 37.3L618.3 37.1L618.6 36.9L618.9 36.7L619.2 36.5L619.5 36.3L619.8 36.1L620.2 35.9L620.5 35.7M601.2 44.7L601.6 44.5L601.9 44.4L602.2 44.2L602.6 44.0L602.9 43.9L603.2 43.7L603.6 43.5L603.9 43.4L604.2 43.2L604.6 43.0L604.9 42.9L605.2 42.7L605.6 42.5L605.9 42.4L606.2 42.2L606.6 42.0L606.9 41.8L607.2 41.7L607.5 41.5L607.9 41.3L608.2 41.1L608.5 41.0L608.9 40.8L609.2 40.6L609.5 40.4L609.8 40.3L610.2 40.1L610.5 39.9L610.8 39.7L611.2 39.5L611.5 39.4L611.8 39.2L612.1 39.0L612.5 38.8L612.8 38.6L613.1 38.5L613.4 38.3L613.7 38.1L614.1 37.9L614.4 37.7L614.7 37.5L615.0 37.3L615.4 37.1L615.7 36.9L616.0 36.8L616.3 36.6L616.6 36.4L617.0 36.2L617.3 36.0L617.6 35.8L617.9 35.6L618.2 35.4L618.6 35.2L618.9 35.0L619.2 34.8L619.5 34.6L619.8 34.5L620.2 34.3L620.5 34.1M643.8 19.9L642.2 22.0L640.6 24.1L639.0 26.2L637.5 28.3L635.9 30.3L634.3 32.3L632.7 34.3L631.2 36.3L629.6 38.2L628.0 40.2L626.4 42.0L624.9 43.9L623.3 45.7L621.7 47.6L620.1 49.3L618.6 51.1L617.0 52.8L615.4 54.5L613.9 56.2L612.3 57.9L610.7 59.5L609.1 61.1L607.6 62.6L606.0 64.2L604.4 65.7L602.8 67.2L601.3 68.6L599.7 70.1L598.1 71.4L596.5 72.8L595.0 74.2L593.4 75.5L591.8 76.7L590.2 78.0L588.7 79.2L587.1 80.4L585.5 81.5L583.9 82.6L582.4 83.7L580.8 84.8L579.2 85.8L577.6 86.8L576.1 87.7L574.5 88.6L572.9 89.4L571.3 90.3L569.8 91.0L568.2 91.8L566.6 92.4L565.0 93.1L563.5 93.8L561.9 94.4L560.3 95.1L558.7 95.8L557.2 96.5L555.6 97.2L554.0 97.8L552.4 98.5L550.9 99.2L549.3 99.9L547.7 100.5L546.1 101.2L544.6 101.9L543.0 102.5L541.4 103.2L539.8 103.8L538.3 104.4L536.7 105.0L535.1 105.6L533.5 106.2L532.0 106.8L530.4 107.4L528.8 107.9L527.2 108.4L525.7 109.0L524.1 109.5L522.5 110.0L520.9 110.5L519.4 111.0L517.8 111.5L516.2 112.0L514.6 112.5L513.1 113.0L511.5 113.5L509.9 114.0L508.3 114.4L506.8 114.9L505.2 115.4L503.6 115.9L502.0 116.5L500.5 117.0L498.9 117.5L497.3 118.0L495.7 118.6L494.2 119.1L492.6 119.6L491.0 120.2L489.4 120.7L487.9 121.3L486.3 121.8L484.7 122.4L483.1 123.0L481.6 123.6L480.0 124.1L478.4 124.8L476.8 125.4L475.3 126.0L473.7 126.6L472.1 127.3L470.5 127.9L469.0 128.5L467.4 129.2L465.8 129.9L464.2 130.6L462.7 131.3L461.1 132.0L459.5 132.8L457.9 133.7L456.4 134.6L454.8 135.5L453.2 136.5L451.6 137.7L450.1 138.9L448.5 140.1L446.9 141.5L445.3 142.8L443.8 144.3L442.2 145.7L440.6 147.3L439.0 148.9L437.5 150.6L435.9 152.4L434.3 154.2L432.7 156.0L431.2 157.9L429.6 159.8L428.0 161.7L426.4 163.7L424.9 165.8L423.3 167.9L421.7 170.1L420.1 172.3L418.6 174.7L417.0 177.3L415.4 180.1L413.8 183.0L412.3 185.9L410.7 188.8L409.1 191.5L407.5 194.3L406.0 196.9L404.4 199.4L402.8 201.6L401.2 203.6L399.7 205.8L398.1 208.3L396.5 211.1L394.9 214.1L393.4 217.4M603.8 45.9L602.5 47.6L601.2 49.2L599.9 50.8L598.6 52.5L597.3 54.1L596.0 55.7L594.7 57.2L593.4 58.8L592.1 60.4L590.8 61.9L589.5 63.4L588.2 64.9L586.9 66.4L585.6 67.9L584.3 69.3L583.0 70.8L581.7 72.2L580.4 73.6L579.1 75.0L577.8 76.3L576.5 77.7L575.2 79.0L573.9 80.3L572.6 81.6L571.3 82.8L570.0 84.1L568.7 85.3L567.4 86.5L566.0 87.7L564.7 88.8L563.4 90.0L562.1 91.1L560.8 92.2L559.5 93.3L558.2 94.4L556.9 95.5L555.6 96.5L554.3 97.5L553.0 98.5L551.7 99.4L550.4 100.4L549.1 101.3L547.8 102.2L546.5 103.0L545.2 103.9L543.9 104.7L542.6 105.4L541.3 106.2L540.0 106.9L538.7 107.5L537.4 108.2L536.1 108.7L534.8 109.3L533.5 109.8L532.2 110.3L530.9 110.7L529.6 111.2L528.3 111.6L527.0 112.0L525.7 112.4L524.4 112.9L523.1 113.3L521.8 113.7L520.5 114.1L519.2 114.5L517.8 114.9L516.5 115.3L515.2 115.7L513.9 116.1L512.6 116.5L511.3 116.8L510.0 117.2L508.7 117.6L507.4 118.0L506.1 118.4L504.8 118.9L503.5 119.3L502.2 119.7L500.9 120.1L499.6 120.5L498.3 121.0L497.0 121.4L495.7 121.9L494.4 122.4L493.1 122.8L491.8 123.3L490.5 123.8L489.2 124.3L487.9 124.8L486.6 125.3L485.3 125.8L484.0 126.3L482.7 126.8L481.4 127.3L480.1 127.9L478.8 128.4L477.5 128.9L476.2 129.5L474.9 130.0L473.6 130.6L472.3 131.1L471.0 131.7L469.6 132.2L468.3 132.8L467.0 133.4L465.7 134.0L464.4 134.6L463.1 135.2L461.8 135.8L460.5 136.5L459.2 137.2L457.9 137.9L456.6 138.6L455.3 139.3L454.0 140.1L452.7 140.8L451.4 141.7L450.1 142.5L448.8 143.4L447.5 144.3L446.2 145.2L444.9 146.2L443.6 147.3L442.3 148.4L441.0 149.6L439.7 150.8L438.4 152.1L437.1 153.4L435.8 154.7L434.5 156.0L433.2 157.3L431.9 158.7L430.6 160.0L429.3 161.5L428.0 162.9L426.7 164.4L425.4 166.0L424.1 167.7L422.8 169.4L421.4 171.2L420.1 173.0L418.8 174.9L417.5 176.9L416.2 178.9L414.9 181.1L413.6 183.3L412.3 185.6L411.0 187.8L409.7 190.1L408.4 192.4L407.1 194.7L405.8 197.0L404.5 199.2L403.2 201.4L401.9 203.5L400.6 205.7L399.3 207.8L398.0 209.9L396.7 212.0M566.8 67.2L565.8 68.5L564.7 69.8L563.6 71.1L562.6 72.4L561.5 73.7L560.4 74.9L559.3 76.2L558.3 77.5L557.2 78.7L556.1 79.9L555.1 81.2L554.0 82.4L552.9 83.6L551.9 84.8L550.8 85.9L549.7 87.1L548.6 88.2L547.6 89.4L546.5 90.5L545.4 91.6L544.4 92.7L543.3 93.7L542.2 94.8L541.2 95.8L540.1 96.8L539.0 97.8L537.9 98.8L536.9 99.8L535.8 100.7L534.7 101.7L533.7 102.6L532.6 103.5L531.5 104.3L530.5 105.2L529.4 106.0L528.3 106.8L527.2 107.6L526.2 108.4L525.1 109.1L524.0 109.9L523.0 110.6L521.9 111.3L520.8 112.0L519.8 112.6L518.7 113.3L517.6 113.9L516.5 114.6L515.5 115.2L514.4 115.8L513.3 116.4L512.3 116.9L511.2 117.5L510.1 118.1L509.1 118.6L508.0 119.1L506.9 119.6L505.8 120.1L504.8 120.6L503.7 121.1L502.6 121.6L501.6 122.0L500.5 122.5L499.4 122.9L498.4 123.3L497.3 123.7L496.2 124.1L495.1 124.5L494.1 124.8L493.0 125.2L491.9 125.6L490.9 126.0L489.8 126.4L488.7 126.8L487.7 127.2L486.6 127.7L485.5 128.1L484.4 128.5L483.4 128.9L482.3 129.3L481.2 129.8L480.2 130.2L479.1 130.6L478.0 131.1L477.0 131.5L475.9 132.0L474.8 132.4L473.7 132.9L472.7 133.3L471.6 133.8L470.5 134.3L469.5 134.8L468.4 135.2L467.3 135.7L466.3 136.2L465.2 136.7L464.1 137.2L463.0 137.7L462.0 138.2L460.9 138.7L459.8 139.2L458.8 139.7L457.7 140.2L456.6 140.7L455.6 141.2L454.5 141.7L453.4 142.2L452.3 142.7L451.3 143.2L450.2 143.8L449.1 144.3L448.1 144.9L447.0 145.5L445.9 146.2L444.8 146.9L443.8 147.6L442.7 148.5L441.6 149.3L440.6 150.3L439.5 151.2L438.4 152.2L437.4 153.2L436.3 154.2L435.2 155.2L434.1 156.3L433.1 157.4L432.0 158.5L430.9 159.6L429.9 160.8L428.8 162.0L427.7 163.2L426.7 164.4L425.6 165.7L424.5 167.1L423.4 168.4L422.4 169.9L421.3 171.3L420.2 172.9L419.2 174.4L418.1 176.0L417.0 177.7L416.0 179.4L414.9 181.2L413.8 183.0L412.7 184.8L411.7 186.7L410.6 188.6L409.5 190.5L408.5 192.4L407.4 194.2L406.3 196.1L405.3 197.9L404.2 199.7L403.1 201.5L402.0 203.3L401.0 205.0L399.9 206.8L398.8 208.5L397.8 210.3L396.7 212.0M531.7 83.7L530.9 84.5L530.0 85.2L529.2 86.0L528.3 86.7L527.5 87.4L526.6 88.2L525.8 88.9L524.9 89.6L524.1 90.3L523.2 91.0L522.4 91.7L521.5 92.4L520.7 93.0L519.8 93.7L519.0 94.4L518.1 95.0L517.3 95.7L516.4 96.4L515.6 97.0L514.7 97.7L513.9 98.3L513.0 98.9L512.2 99.6L511.3 100.2L510.5 100.8L509.6 101.4L508.8 102.1L507.9 102.7L507.1 103.3L506.2 103.9L505.4 104.5L504.5 105.1L503.7 105.7L502.8 106.3L502.0 106.9L501.1 107.5L500.3 108.0L499.4 108.6L498.6 109.2L497.7 109.8L496.9 110.4L496.0 110.9L495.2 111.5L494.3 112.1L493.5 112.6L492.6 113.2L491.8 113.7L490.9 114.3L490.1 114.9L489.2 115.4L488.4 116.0L487.5 116.5L486.7 117.0L485.9 117.6L485.0 118.1L484.2 118.6L483.3 119.2L482.5 119.7L481.6 120.2L480.8 120.7L479.9 121.2L479.1 121.7L478.2 122.2L477.4 122.7L476.5 123.2L475.7 123.7L474.8 124.2L474.0 124.6L473.1 125.1L472.3 125.5L471.4 126.0L470.6 126.4L469.7 126.8L468.9 127.3L468.0 127.7L467.2 128.1L466.3 128.6L465.5 129.0L464.6 129.5L463.8 129.9L462.9 130.4L462.1 130.8L461.2 131.3L460.4 131.8L459.5 132.3L458.7 132.8L457.8 133.4L457.0 134.0L456.1 134.6L455.3 135.3L454.4 136.0L453.6 136.7L452.7 137.5L451.9 138.2L451.0 139.0L450.2 139.8L449.3 140.6L448.5 141.4L447.6 142.3L446.8 143.1L445.9 143.9L445.1 144.7L444.2 145.6L443.4 146.4L442.5 147.3L441.7 148.2L440.8 149.1L440.0 150.1L439.2 151.0L438.3 151.9L437.5 152.9L436.6 153.8L435.8 154.7L434.9 155.6L434.1 156.5L433.2 157.4L432.4 158.3L431.5 159.1L430.7 160.0L429.8 160.9L429.0 161.8L428.1 162.8L427.3 163.7L426.4 164.7L425.6 165.8L424.7 166.8L423.9 167.9L423.0 169.0L422.2 170.2L421.3 171.3L420.5 172.5L419.6 173.7L418.8 175.0L417.9 176.3L417.1 177.6L416.2 179.0L415.4 180.4L414.5 181.8L413.7 183.2L412.8 184.7L412.0 186.2L411.1 187.7L410.3 189.2L409.4 190.7L408.6 192.2L407.7 193.6L406.9 195.1L406.0 196.6L405.2 198.1L404.3 199.5L403.5 200.9L402.6 202.3L401.8 203.7L400.9 205.1L400.1 206.5L399.2 207.9L398.4 209.3L397.5 210.7L396.7 212.0M566.8 68.4L565.8 69.7L564.7 71.1L563.6 72.4L562.6 73.7L561.5 75.1L560.4 76.4L559.3 77.7L558.3 79.0L557.2 80.3L556.1 81.6L555.1 82.8L554.0 84.1L552.9 85.3L551.9 86.6L550.8 87.8L549.7 89.0L548.6 90.2L547.6 91.3L546.5 92.5L545.4 93.6L544.4 94.7L543.3 95.8L542.2 96.9L541.2 98.0L540.1 99.0L539.0 100.1L537.9 101.1L536.9 102.1L535.8 103.0L534.7 104.0L533.7 104.9L532.6 105.8L531.5 106.7L530.5 107.5L529.4 108.4L528.3 109.2L527.2 110.0L526.2 110.7L525.1 111.5L524.0 112.2L523.0 113.0L521.9 113.7L520.8 114.4L519.8 115.0L518.7 115.7L517.6 116.3L516.5 117.0L515.5 117.6L514.4 118.2L513.3 118.8L512.3 119.3L511.2 119.9L510.1 120.5L509.1 121.0L508.0 121.5L506.9 122.0L505.8 122.5L504.8 123.0L503.7 123.5L502.6 123.9L501.6 124.4L500.5 124.8L499.4 125.2L498.4 125.7L497.3 126.1L496.2 126.4L495.1 126.8L494.1 127.2L493.0 127.6L491.9 128.0L490.9 128.4L489.8 128.8L488.7 129.2L487.7 129.6L486.6 130.0L485.5 130.4L484.4 130.9L483.4 131.3L482.3 131.7L481.2 132.1L480.2 132.6L479.1 133.0L478.0 133.4L477.0 133.9L475.9 134.4L474.8 134.8L473.7 135.3L472.7 135.8L471.6 136.3L470.5 136.8L469.5 137.3L468.4 137.8L467.3 138.3L466.3 138.8L465.2 139.2L464.1 139.7L463.0 140.2L462.0 140.7L460.9 141.1L459.8 141.6L458.8 142.0L457.7 142.4L456.6 142.8L455.6 143.2L454.5 143.6L453.4 143.9L452.3 144.3L451.3 144.7L450.2 145.1L449.1 145.5L448.1 145.9L447.0 146.4L445.9 146.9L444.8 147.5L443.8 148.2L442.7 148.9L441.6 149.7L440.6 150.5L439.5 151.4L438.4 152.4L437.4 153.3L436.3 154.3L435.2 155.2L434.1 156.2L433.1 157.3L432.0 158.4L430.9 159.5L429.9 160.7L428.8 161.9L427.7 163.2L426.7 164.4L425.6 165.7L424.5 167.1L423.4 168.4L422.4 169.9L421.3 171.3L420.2 172.9L419.2 174.4L418.1 176.0L417.0 177.7L416.0 179.4L414.9 181.2L413.8 183.0L412.7 184.8L411.7 186.7L410.6 188.6L409.5 190.5L408.5 192.4L407.4 194.2L406.3 196.1L405.3 197.9L404.2 199.7L403.1 201.5L402.0 203.3L401.0 205.0L399.9 206.8L398.8 208.5L397.8 210.3L396.7 212.0" stroke="#ff1a1a" stroke-width="1.5" fill="none" stroke-linejoin="round" stroke-linecap="round"/>
<path d="M389.3 217.4L389.9 216.0L390.6 214.7L391.2 213.3L391.8 211.9L392.5 210.6L393.1 209.2L393.7 207.8L394.4 206.4L395.0 205.1L395.6 203.7L396.3 202.3L396.9 201.0L397.6 199.6L398.2 198.3L398.9 196.9L399.5 195.5L400.2 194.2L400.8 192.8L401.5 191.5L402.2 190.1L402.8 188.8L403.5 187.4L404.2 186.1L404.9 184.7L405.6 183.4L406.2 182.0L406.9 180.7L407.6 179.3L408.3 178.0L408.9 176.7L409.6 175.3L410.3 174.0L411.0 172.6L411.6 171.3L412.3 169.9L413.0 168.6L413.7 167.2L414.3 165.9L415.0 164.5L415.6 163.1L416.3 161.8L416.9 160.4L417.6 159.1L418.2 157.7L418.9 156.3L419.5 155.0L420.1 153.6L420.7 152.2L421.4 150.8L422.0 149.5L422.6 148.1L423.2 146.7L423.8 145.3L424.4 143.9L425.0 142.5L425.6 141.2L426.2 139.8L426.9 138.4L427.5 137.0L428.1 135.6L428.7 134.3L429.4 132.9L430.1 131.6L430.8 130.2L431.5 128.9L432.2 127.6L433.0 126.3L433.8 125.0L434.6 123.7L435.4 122.5L436.3 121.3L437.2 120.0L438.1 118.8L439.1 117.7L440.0 116.5L441.0 115.4L442.0 114.2L443.1 113.1L444.1 112.1L445.2 111.0L446.3 110.0L447.5 108.9L448.6 107.9L449.8 107.0L451.0 106.0L452.2 105.1L453.4 104.3L454.7 103.4L455.9 102.6L457.2 101.9L458.5 101.1L459.9 100.4L461.2 99.8L462.6 99.1L464.0 98.5L465.4 98.0L466.8 97.4L468.2 96.9L469.7 96.4L471.1 95.9L472.6 95.4L474.0 95.0L475.5 94.5L476.9 94.1L478.4 93.7L479.8 93.3L481.3 92.9L482.7 92.5L484.2 92.1L485.7 91.7L487.1 91.4L488.6 91.0L490.0 90.6L491.5 90.2L493.0 89.8L494.4 89.4L495.9 89.0L497.3 88.6L498.8 88.2L500.2 87.8L501.7 87.4L503.1 86.9L504.6 86.5L506.0 86.1L507.4 85.6L508.9 85.2L510.3 84.7L511.8 84.3L513.2 83.8L514.7 83.4L516.1 83.0L517.6 82.5L519.0 82.1L520.4 81.6L521.9 81.2L523.3 80.8L524.8 80.3L526.2 79.9L527.7 79.4L529.1 79.0L530.6 78.5L532.0 78.1L533.4 77.6L534.9 77.2L536.3 76.7L537.7 76.2L539.2 75.7L540.6 75.3L542.0 74.8L543.4 74.3L544.9 73.8L546.3 73.3L547.7 72.8L549.1 72.3L550.6 71.7L552.0 71.2L553.4 70.7L554.8 70.2L556.2 69.7L557.7 69.1L559.1 68.6L560.5 68.0L561.9 67.5L563.3 66.9L564.7 66.3L566.0 65.7L567.4 65.1L568.8 64.5L570.2 63.8L571.5 63.2L572.9 62.5L574.2 61.8L575.5 61.1L576.9 60.3L578.2 59.6L579.5 58.9L580.8 58.1L582.1 57.3L583.4 56.5L584.7 55.7L586.0 54.9L587.2 54.1L588.5 53.3L589.8 52.5L591.0 51.7L592.3 50.9L593.6 50.0L594.8 49.2L596.1 48.4L597.3 47.5L598.6 46.6L599.8 45.8L601.0 44.9L602.2 44.0L603.4 43.1L604.6 42.2L605.8 41.2L607.0 40.3L608.2 39.4L609.4 38.4L610.6 37.5L611.7 36.5L612.9 35.6L614.1 34.6L615.3 33.7L616.4 32.7L617.6 31.8L618.8 30.9L620.0 29.9L621.2 29.0L622.4 28.1L623.6 27.2L624.8 26.3L626.0 25.4L627.3 24.5L628.5 23.7L629.7 22.8L631.0 22.0L632.2 21.1L633.5 20.3L634.7 19.4L636.0 18.6L637.2 17.8L638.5 16.9L639.8 16.1L641.0 15.3L642.3 14.4M642.3 14.4L641.5 15.7L640.6 17.0L639.8 18.3L638.9 19.6L638.1 20.8L637.2 22.1L636.3 23.3L635.4 24.5L634.4 25.7L633.4 26.8L632.4 28.0L631.4 29.1L630.3 30.2L629.3 31.3L628.2 32.4L627.2 33.5L626.1 34.7L625.1 35.8L624.1 36.9L623.0 38.0L622.0 39.2L621.0 40.3L619.9 41.4L618.9 42.5L617.8 43.6L616.8 44.7L615.7 45.8L614.6 46.9L613.5 47.9L612.4 49.0L611.3 50.0L610.2 51.1L609.0 52.1L607.9 53.1L606.7 54.1L605.6 55.1L604.4 56.1L603.2 57.0L602.1 58.0L600.9 59.0L599.7 60.0L598.6 61.0L597.4 61.9L596.2 62.9L595.0 63.9L593.8 64.8L592.6 65.7L591.4 66.7L590.1 67.6L588.9 68.5L587.7 69.3L586.4 70.2L585.1 71.1L583.8 71.9L582.6 72.7L581.2 73.5L579.9 74.3L578.6 75.0L577.3 75.8L575.9 76.5L574.6 77.2L573.2 77.9L571.8 78.5L570.4 79.2L569.0 79.8L567.6 80.4L566.2 81.0L564.8 81.6L563.4 82.2L562.0 82.7L560.6 83.3L559.1 83.9L557.7 84.4L556.3 85.0L554.9 85.6L553.5 86.1L552.1 86.7L550.6 87.3L549.2 87.9L547.8 88.4L546.4 89.0L545.0 89.5L543.5 90.1L542.1 90.6L540.7 91.2L539.3 91.7L537.8 92.3L536.4 92.8L535.0 93.4L533.5 93.9M422.6 164.9L423.2 163.9L423.9 163.0L424.5 162.0L425.2 161.1L425.9 160.1L426.5 159.2L427.2 158.2L427.9 157.3L428.7 156.4L429.4 155.6L430.2 154.7L431.0 153.9L431.8 153.0L432.7 152.2L433.5 151.4L434.3 150.6L435.2 149.8L436.0 148.9L436.8 148.1L437.5 147.2L438.3 146.3L438.9 145.4L439.6 144.5L440.2 143.5L440.7 142.5L441.2 141.5L441.7 140.4L442.2 139.4L442.6 138.3L443.1 137.2L443.5 136.1L444.0 135.0L444.4 134.0L444.9 132.9L445.3 131.8L445.8 130.8L446.4 129.7L446.9 128.7L447.5 127.7L448.0 126.7L448.7 125.7L449.3 124.8L450.0 123.9L450.7 122.9L451.4 122.0L452.2 121.1L452.9 120.3L453.7 119.4L454.4 118.5L455.1 117.6L455.8 116.6L456.5 115.7L457.1 114.7L457.7 113.8L458.3 112.8L458.8 111.7L459.3 110.7L459.8 109.6L460.3 108.6M495.5 96.8L495.2 97.5L494.9 98.2L494.6 98.9L494.3 99.5L493.9 100.2L493.6 100.9L493.3 101.6L493.0 102.3L492.6 102.9L492.3 103.6L491.9 104.2L491.5 104.9L491.1 105.5L490.7 106.1L490.2 106.7L489.8 107.3L489.3 107.9L488.8 108.4L488.3 109.0L487.8 109.5L487.3 110.1L486.7 110.6L486.2 111.2L485.6 111.7L485.1 112.2L484.5 112.7L484.0 113.2L483.4 113.7L482.8 114.2L482.2 114.7L481.7 115.2L481.1 115.7L480.5 116.2L479.9 116.7L479.3 117.2L478.7 117.7L478.1 118.1L477.5 118.6L476.9 119.0L476.3 119.5L475.7 119.9L475.0 120.3L474.4 120.7L473.8 121.1L473.1 121.4L472.4 121.8L471.8 122.1L471.1 122.4L470.4 122.7L469.7 123.0L469.0 123.3L468.3 123.6L467.6 123.8L466.9 124.0L466.2 124.3L465.5 124.5L464.7 124.7L464.0 124.9L463.3 125.1M444.8 141.7L446.1 140.9L447.4 140.2L448.7 139.4L450.0 138.6L451.3 137.8L452.7 137.1L454.0 136.3L455.3 135.6L456.6 134.8L458.0 134.1L459.3 133.3L460.6 132.6L462.0 131.9L463.3 131.2L464.7 130.5L466.0 129.8L467.4 129.1L468.8 128.4L470.1 127.7L471.5 127.1L472.9 126.4L474.3 125.8L475.6 125.1L477.0 124.4L478.4 123.8L479.8 123.2L481.2 122.5L482.6 121.9L484.0 121.3L485.4 120.7L486.8 120.1L488.2 119.5L489.6 118.9L491.0 118.3L492.4 117.7L493.8 117.2L495.2 116.6L496.7 116.1L498.1 115.6L499.5 115.1L501.0 114.6L502.4 114.2L503.9 113.7L505.4 113.3L506.8 112.8L508.3 112.4L509.7 112.0L511.2 111.5L512.7 111.1L514.2 110.7L515.6 110.3L517.1 109.9L518.6 109.5L520.0 109.1L521.5 108.7L523.0 108.3L524.4 107.9L525.9 107.5L527.4 107.1L528.8 106.7L530.3 106.2L531.8 105.8L533.2 105.4L534.7 104.9L536.1 104.5L537.6 104.0L539.0 103.5L540.5 103.1L541.9 102.6L543.4 102.1L544.8 101.6L546.3 101.1L547.7 100.6L549.2 100.1L550.6 99.6L552.0 99.1" stroke="#ff00ff" stroke-width="1.6" fill="none" stroke-linejoin="round" stroke-linecap="butt" stroke-dasharray="4.6 1.5 1.8 1.6"/>
<path d="M384.9 215.0L385.5 213.7L386.1 212.3L386.7 210.9L387.3 209.5L387.9 208.1L388.5 206.7L389.1 205.4L389.7 204.0L390.3 202.6L390.9 201.2L391.5 199.8L392.1 198.5L392.7 197.1L393.3 195.7L394.0 194.3L394.6 192.9L395.2 191.6L395.8 190.2L396.5 188.8L397.1 187.5L397.8 186.1L398.4 184.8L399.1 183.4L399.7 182.0L400.4 180.7L401.1 179.3L401.7 178.0L402.4 176.6L403.1 175.3L403.7 173.9L404.4 172.6L405.1 171.2L405.7 169.9L406.4 168.5L407.1 167.2L407.7 165.8L408.4 164.4L409.0 163.1L409.7 161.7L410.3 160.3L410.9 159.0L411.6 157.6L412.2 156.2L412.8 154.9L413.5 153.5L414.1 152.1L414.8 150.8L415.4 149.4L416.1 148.1L416.7 146.7L417.4 145.4L418.1 144.0L418.8 142.7L419.5 141.3L420.2 140.0L420.9 138.7L421.6 137.4L422.4 136.0L423.1 134.7L423.9 133.4L424.7 132.1L425.5 130.9L426.3 129.6L427.1 128.3L427.9 127.1L428.8 125.8L429.7 124.6L430.6 123.3L431.5 122.1L432.4 120.9L433.3 119.7L434.3 118.6L435.3 117.4L436.3 116.3L437.3 115.2L438.4 114.1L439.5 113.1L440.6 112.1L441.7 111.1L442.9 110.1L444.1 109.2L445.3 108.3L446.5 107.4L447.8 106.5L449.1 105.7L450.3 104.9L451.6 104.2L453.0 103.4L454.3 102.7L455.6 102.0L457.0 101.3L458.3 100.7L459.7 100.1L461.1 99.4L462.5 98.9L463.9 98.3L465.3 97.7L466.7 97.1L468.1 96.6L469.5 96.0L470.9 95.5L472.3 94.9L473.7 94.4L475.2 93.9L476.6 93.3L478.0 92.8L479.4 92.3L480.8 91.8L482.2 91.2L483.7 90.7L485.1 90.2L486.5 89.7L487.9 89.3L489.4 88.8L490.8 88.3L492.2 87.8L493.7 87.4L495.1 86.9L496.6 86.5L498.0 86.1L499.5 85.6L500.9 85.2L502.4 84.8L503.8 84.4L505.3 84.0L506.7 83.6L508.2 83.2L509.6 82.8L511.1 82.4L512.6 82.0L514.0 81.6L515.5 81.3L517.0 80.9L518.4 80.5L519.9 80.2L521.4 79.8L522.8 79.4L524.3 79.0L525.7 78.6L527.2 78.3L528.7 77.9L530.1 77.4L531.6 77.0L533.0 76.6L534.4 76.1L535.9 75.7L537.3 75.2L538.7 74.7L540.2 74.2L541.6 73.6L543.0 73.1L544.4 72.6L545.8 72.0L547.2 71.4L548.6 70.8L550.0 70.3L551.4 69.6L552.8 69.0L554.1 68.4L555.5 67.8L556.9 67.2L558.3 66.5L559.6 65.9L561.0 65.2L562.3 64.5L563.7 63.9L565.0 63.2L566.4 62.5L567.7 61.8L569.1 61.1L570.4 60.4L571.8 59.7L573.1 59.0L574.4 58.3L575.7 57.6L577.1 56.8L578.4 56.1L579.7 55.3L581.0 54.6L582.3 53.8L583.6 53.0L584.9 52.2L586.1 51.4L587.4 50.7L588.7 49.9L590.0 49.0L591.3 48.2L592.5 47.4L593.8 46.6L595.1 45.8L596.4 45.0L597.6 44.2L598.9 43.4L600.2 42.6L601.5 41.8L602.7 40.9L604.0 40.1L605.3 39.4L606.6 38.6L607.9 37.8L609.2 37.0L610.4 36.2L611.7 35.4L613.0 34.7L614.3 33.9L615.6 33.1L617.0 32.4L618.3 31.6L619.6 30.9L620.9 30.1L622.2 29.4L623.5 28.7L624.9 28.0L626.2 27.2L627.5 26.5L628.9 25.8L630.2 25.1L631.5 24.4L632.9 23.7L634.2 23.0L635.6 22.3L636.9 21.7L638.3 21.0L639.6 20.3L640.9 19.6L642.3 18.9M642.3 18.9L640.7 21.1L639.2 23.2L637.6 25.3L636.0 27.4L634.4 29.5L632.9 31.5L631.3 33.4L629.7 35.4L628.2 37.3L626.6 39.2L625.0 41.0L623.5 42.8L621.9 44.6L620.3 46.3L618.7 48.1L617.2 49.7L615.6 51.4L614.0 53.0L612.5 54.6L610.9 56.2L609.3 57.7L607.7 59.2L606.2 60.6L604.6 62.0L603.0 63.4L601.5 64.8L599.9 66.1L598.3 67.4L596.8 68.7L595.2 69.9L593.6 71.1L592.0 72.3L590.5 73.5L588.9 74.6L587.3 75.6L585.8 76.7L584.2 77.7L582.6 78.6L581.1 79.6L579.5 80.5L577.9 81.3L576.3 82.2L574.8 83.0L573.2 83.7L571.6 84.4L570.1 85.1L568.5 85.8L566.9 86.5L565.4 87.2L563.8 87.8L562.2 88.5L560.6 89.2L559.1 89.8L557.5 90.5L555.9 91.1L554.4 91.8L552.8 92.5L551.2 93.1L549.7 93.8L548.1 94.4L546.5 95.1L544.9 95.7L543.4 96.3L541.8 97.0L540.2 97.6L538.7 98.3L537.1 98.9L535.5 99.5L533.9 100.1L532.4 100.8L530.8 101.4L529.2 102.0L527.7 102.6L526.1 103.2L524.5 103.8L523.0 104.4L521.4 105.0L519.8 105.6L518.2 106.1L516.7 106.7L515.1 107.3L513.5 107.9L512.0 108.5L510.4 109.1L508.8 109.7L507.3 110.3L505.7 110.9L504.1 111.5L502.5 112.1L501.0 112.7L499.4 113.3L497.8 114.0L496.3 114.6L494.7 115.3L493.1 116.0L491.6 116.6L490.0 117.3L488.4 118.0L486.8 118.7L485.3 119.5L483.7 120.2L482.1 120.9L480.6 121.6L479.0 122.3L477.4 123.1L475.8 123.8L474.3 124.5L472.7 125.3L471.1 126.0L469.6 126.8L468.0 127.5L466.4 128.3L464.9 129.1L463.3 129.9L461.7 130.7L460.1 131.5L458.6 132.3L457.0 133.1L455.4 134.0L453.9 134.9L452.3 136.0L450.7 137.1L449.2 138.3L447.6 139.6L446.0 140.9L444.4 142.2L442.9 143.5L441.3 144.8L439.7 146.1L438.2 147.4L436.6 148.7L435.0 150.1L433.5 151.5L431.9 153.0L430.3 154.6L428.7 156.4L427.2 158.4L425.6 160.6L424.0 162.8L422.5 165.1L420.9 167.3L419.3 169.6L417.8 171.9L416.2 174.4L414.6 177.1L413.0 179.9L411.5 182.9L409.9 185.9L408.3 188.9L406.8 192.0L405.2 195.1L403.6 198.1L402.0 200.8L400.5 203.0L398.9 205.2L397.3 207.9L395.8 210.8L394.2 214.0L392.6 217.4M601.2 45.2L600.2 46.3L599.1 47.4L598.1 48.5L597.0 49.6L596.0 50.7L594.9 51.8L593.9 52.9L592.9 54.0L591.8 55.1L590.8 56.3L589.8 57.4L588.7 58.5L587.7 59.6L586.7 60.7L585.6 61.8L584.6 62.9L583.5 64.0L582.4 65.1L581.3 66.2L580.3 67.2L579.1 68.3L578.0 69.3L576.9 70.4L575.8 71.4L574.6 72.3L573.4 73.3L572.2 74.2L571.0 75.1L569.7 76.0L568.5 76.9L567.2 77.7L565.9 78.5L564.6 79.3L563.3 80.0L561.9 80.7L560.6 81.4L559.2 82.1L557.8 82.8L556.4 83.4L555.0 84.1L553.7 84.7L552.3 85.3L550.9 85.9L549.5 86.5L548.1 87.1L546.6 87.7L545.2 88.2L543.8 88.8L542.4 89.4L541.0 90.0L539.6 90.6L538.2 91.2L536.8 91.8L535.4 92.4L534.0 93.0L532.6 93.6L531.3 94.3L529.9 94.9L528.5 95.6L527.1 96.3L525.8 96.9L524.4 97.6L523.0 98.2L521.6 98.8L520.2 99.4L518.8 99.9L517.4 100.5L515.9 101.0L514.5 101.5L513.1 102.0L511.6 102.6L510.2 103.1L508.8 103.6L507.4 104.2L505.9 104.7L504.5 105.3L503.1 105.8L501.7 106.4L500.3 106.9M423.0 145.0L423.1 144.7L423.3 144.3L423.5 144.0L423.7 143.6L423.9 143.3L424.1 142.9L424.3 142.6L424.4 142.2L424.6 141.9L424.8 141.6L425.0 141.2L425.2 140.9L425.4 140.5L425.6 140.2L425.7 139.8L425.9 139.5L426.1 139.1L426.3 138.8L426.5 138.4L426.7 138.1L426.9 137.8L427.1 137.4L427.2 137.1L427.4 136.7L427.6 136.4L427.8 136.0L428.0 135.7L428.2 135.4L428.4 135.0L428.6 134.7L428.8 134.3L429.0 134.0L429.2 133.7L429.4 133.3L429.6 133.0L429.8 132.6L430.0 132.3L430.2 132.0L430.4 131.6L430.6 131.3L430.8 131.0L431.0 130.6L431.2 130.3L431.4 129.9L431.6 129.6L431.8 129.3L432.0 128.9L432.2 128.6L432.4 128.3L432.6 127.9L432.8 127.6L433.0 127.3L433.2 126.9L433.4 126.6L433.6 126.2L433.8 125.9L434.0 125.6L434.2 125.2L434.4 124.9" stroke="#111" stroke-width="1.7" fill="none" stroke-linejoin="round" stroke-linecap="butt" stroke-dasharray="4.8 4.2"/>
<path d="M384.3 218.3L384.5 217.7L384.8 217.0L385.0 216.4L385.3 215.7L385.6 215.1L385.9 214.4L386.1 213.8L386.4 213.1L386.7 212.4L387.0 211.8L387.3 211.1L387.6 210.5L387.9 209.8L388.2 209.2L388.5 208.5L388.8 207.9L389.1 207.2L389.4 206.5L389.7 205.9L390.0 205.2L390.3 204.6L390.6 203.9L391.0 203.3L391.3 202.6L391.6 202.0L391.9 201.3L392.2 200.6L392.5 200.0L392.9 199.3L393.2 198.7L393.5 198.0L393.8 197.4L394.1 196.7L394.5 196.1L394.8 195.4L395.1 194.7L395.4 194.1L395.7 193.4L396.1 192.8L396.4 192.1L396.7 191.5L397.0 190.8L397.3 190.1L397.7 189.5L398.0 188.8L398.3 188.2L398.6 187.5L398.9 186.9L399.2 186.2L399.6 185.6L399.9 184.9L400.2 184.2L400.5 183.6L400.8 182.9L401.1 182.3L401.4 181.6L401.7 181.0L402.0 180.3L402.3 179.7L402.7 179.0L403.0 178.3L403.3 177.7L403.6 177.0L403.9 176.4L404.2 175.7L404.5 175.1L404.8 174.4L405.1 173.8L405.4 173.1L405.7 172.4L406.0 171.8L406.3 171.1L406.6 170.5L406.9 169.8L407.2 169.2L407.4 168.5L407.7 167.9L408.0 167.2L408.3 166.5L421.0 166.5L420.4 167.2L419.8 167.9L419.3 168.5L418.7 169.2L418.2 169.8L417.6 170.5L417.1 171.1L416.6 171.8L416.1 172.4L415.6 173.1L415.1 173.8L414.6 174.4L414.2 175.1L413.7 175.7L413.3 176.4L412.9 177.0L412.4 177.7L412.0 178.3L411.6 179.0L411.2 179.7L410.8 180.3L410.4 181.0L410.1 181.6L409.7 182.3L409.3 182.9L409.0 183.6L408.6 184.2L408.3 184.9L408.0 185.6L407.6 186.2L407.3 186.9L407.0 187.5L406.7 188.2L406.4 188.8L406.1 189.5L405.7 190.1L405.4 190.8L405.1 191.5L404.9 192.1L404.6 192.8L404.3 193.4L404.0 194.1L403.7 194.7L403.4 195.4L403.1 196.1L402.8 196.7L402.5 197.4L402.3 198.0L402.0 198.7L401.7 199.3L401.4 200.0L401.1 200.6L400.8 201.3L400.5 202.0L400.3 202.6L400.0 203.3L399.7 203.9L399.4 204.6L399.1 205.2L398.8 205.9L398.5 206.5L398.1 207.2L397.8 207.9L397.5 208.5L397.2 209.2L396.9 209.8L396.5 210.5L396.2 211.1L395.8 211.8L395.5 212.4L395.1 213.1L394.8 213.8L394.4 214.4L394.0 215.1L393.6 215.7L393.2 216.4L392.8 217.0L392.4 217.7L392.0 218.3Z" fill="#00ff00"/>
<path d="M401.3 181.9L401.7 180.9L402.2 180.0L402.7 179.0L403.1 178.0L403.6 177.0L404.0 176.0L404.5 175.0L404.9 174.1L405.4 173.1L405.8 172.1L406.3 171.1L406.7 170.1L407.2 169.1L407.6 168.2L408.0 167.2L408.5 166.2L408.9 165.2L409.4 164.2L409.8 163.3L410.2 162.3L410.7 161.3L411.1 160.3L411.5 159.3L412.0 158.3L412.4 157.4L412.9 156.4L413.3 155.4L413.8 154.4L414.2 153.4L414.7 152.5L415.1 151.5L415.6 150.5L416.1 149.5L416.5 148.5L417.0 147.5L417.5 146.6L418.0 145.6L418.5 144.6L419.0 143.6L419.5 142.6L420.0 141.6L420.5 140.7L421.1 139.7L421.6 138.7L422.2 137.7L422.7 136.7L423.3 135.8L423.9 134.8L424.5 133.8L425.1 132.8L425.8 131.8L426.4 130.8L427.1 129.9L427.8 128.9L428.5 127.9L429.2 126.9L429.9 125.9L430.7 125.0L431.5 124.0L432.3 123.0L433.1 122.0L434.0 121.0L434.8 120.0L435.7 119.1L436.7 118.1L437.6 117.1L438.6 116.1L439.6 115.1L440.6 114.1L441.7 113.2L442.8 112.2L443.9 111.2L445.1 110.2L446.3 109.2L447.5 108.3L448.8 107.3L450.1 106.3L451.4 105.3L452.8 104.3L459.1 104.3L457.6 105.3L456.2 106.3L454.8 107.3L453.4 108.3L452.1 109.2L450.9 110.2L449.6 111.2L448.4 112.2L447.2 113.2L446.1 114.1L445.0 115.1L443.9 116.1L442.9 117.1L441.8 118.1L440.8 119.1L439.9 120.0L438.9 121.0L438.0 122.0L437.1 123.0L436.2 124.0L435.3 125.0L434.5 125.9L433.7 126.9L432.9 127.9L432.2 128.9L431.5 129.9L430.9 130.8L430.2 131.8L429.6 132.8L429.0 133.8L428.4 134.8L427.8 135.8L427.2 136.7L426.6 137.7L426.1 138.7L425.5 139.7L425.0 140.7L424.4 141.6L423.9 142.6L423.4 143.6L422.9 144.6L422.4 145.6L421.9 146.6L421.4 147.5L421.0 148.5L420.5 149.5L420.0 150.5L419.6 151.5L419.1 152.5L418.7 153.4L418.2 154.4L417.8 155.4L417.3 156.4L416.9 157.4L416.4 158.3L416.0 159.3L415.5 160.3L415.1 161.3L414.7 162.3L414.2 163.3L413.8 164.2L413.4 165.2L412.9 166.2L412.5 167.2L412.0 168.2L411.6 169.1L411.2 170.1L410.7 171.1L410.3 172.1L409.8 173.1L409.4 174.1L408.9 175.0L408.5 176.0L408.0 177.0L407.6 178.0L407.1 179.0L406.6 180.0L406.2 180.9L405.7 181.9Z" fill="#00ff00"/>
<path d="M451.6 110.6L452.5 110.1L453.3 109.5L454.2 109.0L455.1 108.5L456.0 108.0L456.9 107.5L457.7 107.1L458.6 106.7L459.5 106.3L460.5 106.0L461.4 105.7L462.3 105.3L463.3 105.1L464.2 104.8L465.2 104.6L466.2 104.3L467.1 104.1L468.1 103.9L469.1 103.7L470.1 103.6L471.1 103.3L472.1 103.0L473.1 102.7L474.1 102.5L475.1 102.3L476.1 102.0L477.1 101.8L478.2 101.6L479.2 101.3L480.2 101.1L481.3 100.9L482.3 100.7L483.4 100.4L484.4 100.2L485.5 100.0L486.5 99.8L487.5 99.6L488.6 99.4L489.6 99.1L490.7 98.9L491.7 98.7L492.7 98.5L493.8 98.3L494.8 98.0L495.8 97.8L496.9 97.6L497.9 97.3L498.9 97.1L500.0 96.9L501.0 96.6L502.0 96.4L503.1 96.2L504.1 95.9L505.2 95.7L506.2 95.4L507.2 95.2L508.3 94.9L509.3 94.6L510.4 94.4L511.4 94.1L512.5 93.8L513.5 93.5L514.6 93.2L515.6 92.9L516.7 92.5L517.7 92.2L518.8 91.8L519.8 91.4L520.9 91.0L521.9 90.6L522.9 90.2L524.0 89.8L525.0 89.3L526.0 88.9L526.9 88.5L527.9 88.0L528.9 87.6L529.9 87.1L530.8 86.6L531.8 86.2L532.7 85.7L533.7 85.3L534.6 84.9L535.6 84.4L536.5 84.0L537.5 83.6L538.4 83.1L539.4 82.7L540.3 82.3L541.3 81.9L542.2 81.5L543.2 81.1L544.2 80.6L545.1 80.2L546.1 79.8L547.1 79.4L548.0 79.0L549.0 78.6L550.0 78.2L546.7 70.4L545.7 70.8L544.8 71.2L543.8 71.6L542.8 72.0L541.8 72.4L540.8 72.8L539.9 73.2L538.9 73.7L537.9 74.1L536.9 74.5L535.9 74.9L535.0 75.4L534.0 75.8L533.0 76.2L532.0 76.7L531.0 77.1L530.1 77.6L529.1 78.1L528.2 78.5L527.2 79.0L526.2 79.4L525.3 79.9L524.4 80.3L523.4 80.7L522.5 81.1L521.6 81.6L520.6 82.0L519.7 82.4L518.8 82.7L517.8 83.1L516.9 83.5L516.0 83.8L515.0 84.1L514.1 84.4L513.1 84.7L512.1 85.0L511.2 85.3L510.2 85.6L509.2 85.9L508.2 86.1L507.2 86.4L506.2 86.7L505.2 86.9L504.2 87.2L503.2 87.4L502.2 87.6L501.1 87.9L500.1 88.1L499.1 88.4L498.1 88.6L497.1 88.8L496.1 89.0L495.0 89.3L494.0 89.5L493.0 89.7L492.0 89.9L490.9 90.2L489.9 90.4L488.9 90.6L487.9 90.8L486.8 91.0L485.8 91.3L484.8 91.5L483.7 91.7L482.7 91.9L481.6 92.1L480.6 92.3L479.5 92.6L478.5 92.8L477.4 93.0L476.4 93.3L475.3 93.5L474.2 93.7L473.1 94.0L472.1 94.2L471.0 94.5L469.9 94.8L468.8 95.1L467.7 95.4L466.7 95.8L465.7 96.3L464.6 96.7L463.6 97.2L462.6 97.7L461.6 98.2L460.6 98.8L459.6 99.3L458.7 99.9L457.7 100.5L456.8 101.1L455.8 101.8L454.9 102.4L454.0 103.1L453.1 103.8L452.3 104.5L451.5 105.3L450.7 106.0L449.9 106.7L449.1 107.5Z" fill="#00ff00" stroke="#00ff00" stroke-width="0.3" stroke-linejoin="round"/>
<path d="M407.8 178.4L408.7 177.2L409.6 176.0L410.4 174.9L411.3 173.7L412.2 172.5L413.1 171.3L413.9 170.1L414.8 169.0L415.6 167.7L416.4 166.5L417.2 165.3L417.9 164.0L418.6 162.7L419.3 161.4L419.9 160.1L420.6 158.8L421.3 157.5L422.1 156.2L422.9 155.0L423.8 153.9L424.7 152.8L425.7 151.7L426.7 150.6L427.8 149.6L428.8 148.6L429.9 147.5L430.9 146.5L431.9 145.4L432.8 144.3L433.7 143.1L434.6 141.9L435.4 140.7L436.2 139.5L437.0 138.2L437.8 137.0L438.6 135.8L439.4 134.5L440.3 133.3L441.1 132.1L442.0 131.0L442.9 129.8L443.8 128.6L444.7 127.5L445.6 126.4L446.5 125.2L447.5 124.1L448.5 123.0L449.4 121.9L450.4 120.7L451.3 119.6L452.2 118.5L453.1 117.3L454.0 116.1L454.8 114.9L455.6 113.7L456.3 112.4L457.1 111.2L457.8 109.9L458.5 108.6" stroke="#00ff00" stroke-width="4.6" fill="none" stroke-linejoin="round" stroke-linecap="round"/>
<path d="M414.5 174.8L415.3 173.6L416.1 172.3L416.9 171.0L417.7 169.7L418.5 168.4L419.2 167.1L420.0 165.7L420.7 164.4L421.3 163.0L422.0 161.6L422.7 160.3L423.4 159.0L424.2 157.6L425.0 156.3L425.8 155.1L426.7 153.9L427.7 152.7L428.6 151.6L429.7 150.5L430.8 149.4L431.9 148.3L433.0 147.3L434.1 146.2L435.3 145.2L436.4 144.2L437.6 143.2L438.8 142.3L440.0 141.3L441.1 140.3L442.3 139.4L443.6 138.5L444.8 137.6L446.0 136.7L447.3 135.9L448.6 135.1L449.9 134.3L451.2 133.6L452.6 132.9L453.9 132.2L455.3 131.5L456.6 130.9L458.0 130.2L459.4 129.5L460.7 128.8L462.1 128.1L463.4 127.4L464.7 126.7L466.1 125.9L467.4 125.2L468.8 124.6L470.2 123.9L471.5 123.2L472.9 122.6L474.3 122.0L475.7 121.4L477.1 120.8L478.5 120.2L479.9 119.7L481.3 119.1L482.7 118.5L484.1 117.9L485.6 117.4L487.0 116.8L488.4 116.3L489.8 115.7L491.2 115.2L492.6 114.6L494.1 114.1L495.5 113.5L496.9 113.0L498.3 112.4L499.7 111.8L501.1 111.3L502.5 110.7L504.0 110.2L505.4 109.7L506.8 109.1L508.2 108.6L509.7 108.1L511.1 107.6L512.5 107.1L514.0 106.6L515.4 106.1L516.9 105.6L518.3 105.1L519.7 104.7L521.2 104.2L522.6 103.7L524.1 103.3L525.5 102.8L527.0 102.3L528.4 101.8L529.9 101.4L531.3 100.9L532.7 100.4L534.2 99.9L535.6 99.3L537.0 98.8L538.4 98.3L539.9 97.7L541.3 97.2L542.7 96.6L544.1 96.1L545.5 95.5L546.9 95.0L548.3 94.4" stroke="#00ff00" stroke-width="5.8" fill="none" stroke-linejoin="round" stroke-linecap="round"/>
<path d="M534.8 83.9L535.5 83.7L536.2 83.4L537.0 83.1L537.7 82.8L538.4 82.6L539.1 82.3L539.9 82.0L540.6 81.7L541.3 81.4L542.1 81.1L542.8 80.9L543.5 80.6L544.2 80.3L545.0 80.0L545.7 79.7L546.4 79.4L547.1 79.1L547.9 78.8L548.6 78.5L549.3 78.2L550.0 77.8L550.8 77.5L551.5 77.2L552.2 76.9L552.9 76.5L553.6 76.2L554.3 75.9L555.1 75.5L555.8 75.2L556.5 74.8L557.2 74.5L557.9 74.1L558.6 73.8L559.3 73.4L560.0 73.0L560.7 72.7L561.4 72.3L562.1 71.9L562.8 71.6L563.5 71.2L564.2 70.8L564.8 70.5L565.5 70.1L566.2 69.7L566.9 69.3L567.6 68.9L568.3 68.5L568.9 68.1L569.6 67.8L570.3 67.4L571.0 67.0L571.7 66.6L572.3 66.2L573.0 65.8L573.7 65.4L574.3 65.0L575.0 64.6L575.7 64.2L576.3 63.8L577.0 63.4L577.7 63.0L578.3 62.6L579.0 62.2L579.7 61.8L580.3 61.4L581.0 61.0L581.6 60.6L582.3 60.2L583.0 59.8L583.6 59.4L584.2 59.0L584.9 58.5L585.5 58.1L586.1 57.6L586.8 57.2L587.4 56.8L588.0 56.3L588.7 55.9L589.3 55.4L589.9 55.0L590.6 54.6L591.2 54.1L591.9 53.7L592.5 53.3L593.1 52.8L593.8 52.4L594.4 51.9L595.1 51.5L595.7 51.1L596.3 50.6L597.0 50.2L597.6 49.8L598.3 49.3L598.9 48.9L599.5 48.4L600.2 48.0L600.8 47.6L601.5 47.1L602.1 46.7L600.4 43.7L599.7 44.0L599.0 44.3L598.3 44.7L597.6 45.0L596.9 45.3L596.2 45.7L595.5 46.0L594.8 46.3L594.1 46.7L593.4 47.0L592.7 47.3L592.0 47.7L591.3 48.0L590.6 48.3L589.9 48.7L589.1 49.0L588.4 49.3L587.7 49.7L587.0 50.0L586.3 50.4L585.6 50.7L584.9 51.0L584.2 51.4L583.5 51.7L582.8 52.1L582.1 52.4L581.4 52.7L580.8 53.1L580.1 53.4L579.4 53.8L578.7 54.2L578.0 54.6L577.4 55.0L576.7 55.4L576.0 55.8L575.4 56.2L574.7 56.6L574.1 57.0L573.4 57.4L572.7 57.8L572.1 58.2L571.4 58.6L570.8 59.0L570.1 59.4L569.4 59.8L568.8 60.1L568.1 60.5L567.5 60.9L566.8 61.3L566.1 61.7L565.5 62.1L564.8 62.5L564.1 62.8L563.5 63.2L562.8 63.6L562.1 63.9L561.5 64.3L560.8 64.7L560.1 65.0L559.5 65.4L558.8 65.8L558.1 66.1L557.4 66.5L556.8 66.8L556.1 67.2L555.4 67.5L554.7 67.9L554.1 68.2L553.4 68.5L552.7 68.9L552.0 69.2L551.3 69.5L550.7 69.9L550.0 70.2L549.3 70.5L548.6 70.8L547.9 71.1L547.2 71.4L546.5 71.7L545.8 72.0L545.1 72.3L544.4 72.6L543.7 72.9L543.0 73.2L542.3 73.5L541.6 73.8L540.9 74.1L540.2 74.4L539.5 74.6L538.8 74.9L538.1 75.2L537.3 75.5L536.6 75.7L535.9 76.0L535.2 76.3L534.5 76.6L533.8 76.8L533.0 77.1L532.3 77.4Z" fill="#00ff00" stroke="#00ff00" stroke-width="0.3" stroke-linejoin="round"/>
<path d="M533.5 78.8L535.0 78.3L536.4 77.7L537.9 77.2L539.3 76.7L540.8 76.2L542.2 75.6L543.7 75.1L545.1 74.6L546.6 74.2L548.1 73.7L549.5 73.2L551.0 72.7L552.5 72.3L553.9 71.8L555.4 71.3L556.8 70.8L558.3 70.2L559.7 69.6L561.1 69.0L562.4 68.3L563.8 67.6L565.1 66.9L566.5 66.1L567.8 65.3L569.1 64.5L570.4 63.7L571.8 62.9L573.1 62.1L574.4 61.3L575.7 60.5L577.0 59.7L578.3 58.9L579.6 58.1L580.9 57.3L582.2 56.5L583.6 55.7L584.9 54.9L586.2 54.1L587.6 53.4L588.9 52.6L590.2 51.9L591.6 51.1L592.9 50.3L594.3 49.6L595.6 48.8L596.9 48.0L598.2 47.2L599.5 46.4L600.8 45.5L602.0 44.6L603.3 43.7L604.5 42.8L605.7 41.9L606.9 40.9L608.1 39.9L609.3 39.0L610.4 38.0L611.6 36.9L612.8 35.9L613.9 34.9L615.1 33.9L616.3 32.9L617.4 31.9L618.6 30.9L619.7 29.9L620.9 28.9L622.1 27.9L623.3 26.9L624.4 25.9L625.6 24.9L626.8 24.0L628.0 23.0L629.2 22.0L630.4 21.1L631.6 20.1L632.8 19.2L634.0 18.2L635.2 17.3L636.4 16.3L637.6 15.4L638.9 14.4L640.1 13.5M581.6 57.5L582.7 56.9L583.8 56.3L584.9 55.7L586.0 55.1L587.0 54.5L588.1 53.8L589.2 53.2L590.3 52.6L591.3 52.0L592.4 51.3L593.5 50.7L594.5 50.1L595.6 49.4L596.6 48.7L597.7 48.1L598.7 47.4L599.7 46.7L600.7 46.0L601.7 45.3L602.7 44.6L603.7 43.8L604.7 43.1L605.7 42.4L606.7 41.6L607.7 40.8L608.6 40.1L609.6 39.3L610.6 38.5L611.5 37.7L612.5 36.9L613.4 36.1L614.4 35.3L615.3 34.5L616.2 33.7L617.2 32.9L618.1 32.1L619.1 31.3L620.0 30.5L621.0 29.7L621.9 28.9L622.9 28.1L623.8 27.3L624.8 26.5L625.7 25.7L626.7 25.0L627.6 24.2L628.6 23.4L629.6 22.6L630.5 21.8L631.5 21.0L632.4 20.2L633.4 19.4L634.3 18.7L635.3 17.9L636.2 17.1L637.2 16.3L638.2 15.5L639.1 14.7L640.1 14.0M494.7 97.9L494.4 98.6L494.1 99.2L493.7 99.8L493.4 100.4L493.1 101.0L492.8 101.6L492.4 102.2L492.1 102.8L491.7 103.4L491.4 104.0L491.0 104.6L490.6 105.2L490.3 105.8L489.9 106.3L489.5 106.9L489.0 107.5L488.6 108.0L488.2 108.5L487.8 109.1L487.3 109.6L486.8 110.1L486.4 110.7L485.9 111.2L485.4 111.7L484.9 112.2L484.4 112.7L483.9 113.1L483.4 113.6L482.9 114.1L482.4 114.6L481.9 115.0L481.3 115.5L480.8 115.9L480.3 116.4L479.7 116.8L479.2 117.3L478.6 117.7L478.1 118.1L477.5 118.5L476.9 118.9L476.4 119.3L475.8 119.7L475.2 120.1L474.6 120.4L474.0 120.8L473.4 121.1L472.8 121.5L472.2 121.8L471.6 122.1L470.9 122.4L470.3 122.7L469.7 123.0L469.0 123.2L468.4 123.5L467.7 123.7L467.1 124.0L466.4 124.2L465.8 124.4L465.1 124.7M458.8 106.2L458.8 106.4L458.8 106.5L458.7 106.7L458.7 106.8L458.6 107.0L458.6 107.2L458.5 107.3L458.5 107.5L458.5 107.6L458.4 107.8L458.4 107.9L458.3 108.1L458.3 108.3L458.2 108.4L458.2 108.6L458.2 108.7L458.1 108.9L458.1 109.0L458.0 109.2L458.0 109.3L457.9 109.5L457.9 109.7L457.8 109.8L457.7 110.0L457.7 110.1L457.6 110.3L457.6 110.4L457.5 110.6L457.5 110.7L457.4 110.9L457.3 111.0L457.3 111.2L457.2 111.3L457.1 111.4L457.1 111.6L457.0 111.7L456.9 111.9L456.8 112.0L456.8 112.2L456.7 112.3L456.6 112.5L456.5 112.6L456.5 112.7L456.4 112.9L456.3 113.0L456.2 113.2L456.1 113.3L456.1 113.4L456.0 113.6L455.9 113.7L455.8 113.9L455.7 114.0L455.6 114.1L455.6 114.3L455.5 114.4L455.4 114.6L455.3 114.7L455.2 114.8L455.1 115.0M531.3 84.9L531.0 85.6L530.6 86.2L530.3 86.8L529.9 87.5L529.6 88.1L529.2 88.7L528.8 89.3L528.4 89.9L528.0 90.6L527.6 91.1L527.2 91.7L526.8 92.3L526.3 92.9L525.9 93.5L525.4 94.0L525.0 94.6L524.5 95.1L524.0 95.6L523.5 96.2L523.0 96.7L522.5 97.2L522.0 97.8L521.5 98.3L521.0 98.8L520.4 99.3L519.9 99.8L519.4 100.3L518.9 100.8L518.3 101.3L517.8 101.8L517.3 102.3L516.7 102.8L516.2 103.3L515.7 103.7L515.1 104.2L514.6 104.7L514.0 105.2L513.5 105.6L512.9 106.1L512.4 106.6L511.8 107.0L511.2 107.5L510.7 107.9L510.1 108.4L509.5 108.8L508.9 109.2L508.3 109.7L507.7 110.0L507.1 110.4L506.4 110.7L505.8 111.0L505.1 111.3L504.4 111.6L503.8 111.8L503.1 112.0L502.4 112.2L501.7 112.4L501.0 112.6L500.3 112.8M566.5 66.0L565.7 66.9L564.9 67.9L564.1 68.8L563.3 69.7L562.4 70.7L561.6 71.6L560.8 72.5L559.9 73.4L559.0 74.2L558.1 75.1L557.2 75.9L556.3 76.7L555.4 77.5L554.4 78.3L553.5 79.1L552.5 79.9L551.5 80.6L550.5 81.3L549.5 82.0L548.5 82.8L547.5 83.4L546.4 84.1L545.4 84.8L544.4 85.5L543.4 86.2L542.3 86.8L541.3 87.5L540.3 88.2L539.2 88.9L538.2 89.6L537.2 90.3L536.2 91.0L535.2 91.7L534.2 92.4L533.2 93.1L532.2 93.8L531.1 94.5L530.1 95.2L529.1 95.9L528.1 96.7L527.1 97.4L526.1 98.1L525.1 98.8L524.1 99.5L523.1 100.2L522.0 100.9L521.0 101.5L519.9 102.2L518.9 102.8L517.8 103.4L516.7 104.0L515.6 104.5L514.5 105.1L513.4 105.6L512.3 106.1L511.1 106.5L510.0 107.0L508.8 107.4L507.7 107.9M601.2 45.2L600.3 46.4L599.4 47.7L598.5 48.9L597.6 50.1L596.7 51.4L595.8 52.6L594.9 53.9L594.1 55.2L593.2 56.4L592.3 57.6L591.4 58.9L590.4 60.1L589.5 61.3L588.5 62.5L587.5 63.7L586.5 64.9L585.5 66.0L584.4 67.1L583.3 68.2L582.2 69.2L581.1 70.2L579.9 71.2L578.7 72.2L577.5 73.1L576.2 74.0L575.0 74.9L573.7 75.8L572.4 76.7L571.2 77.5L569.9 78.3L568.6 79.1L567.3 80.0L566.0 80.8L564.7 81.6L563.4 82.4L562.1 83.3L560.8 84.1L559.5 84.9L558.2 85.8L556.9 86.6L555.6 87.4L554.3 88.2L553.0 89.1L551.7 89.9L550.4 90.6L549.1 91.4L547.7 92.2L546.4 92.9L545.0 93.7L543.7 94.4L542.3 95.1L541.0 95.8L539.6 96.5L538.2 97.1L536.8 97.8L535.4 98.5L534.0 99.1L532.6 99.7L531.2 100.4L529.9 101.0M640.1 13.5L639.1 14.7L638.1 15.8L637.1 17.0L636.1 18.2L635.1 19.3L634.1 20.4L633.0 21.5L631.9 22.5L630.8 23.6L629.6 24.6L628.5 25.6L627.4 26.6L626.3 27.7L625.2 28.7L624.1 29.8L623.1 31.0L622.2 32.1L621.2 33.3L620.3 34.6L619.4 35.8L618.6 37.1L617.7 38.3L616.8 39.6L616.0 40.8L615.1 42.1L614.2 43.3L613.3 44.6L612.4 45.8L611.4 47.0L610.5 48.2L609.5 49.4L608.5 50.5L607.5 51.6L606.4 52.8L605.4 53.8L604.3 54.9L603.2 56.0L602.1 57.0L600.9 58.0L599.8 59.0L598.6 59.9L597.4 60.9L596.2 61.9L595.0 62.8L593.8 63.7L592.6 64.7L591.4 65.6L590.2 66.6L589.0 67.5L587.8 68.4L586.6 69.4L585.4 70.3L584.2 71.3L583.0 72.2L581.8 73.1L580.6 74.0L579.3 74.9L578.1 75.8L576.8 76.7L575.6 77.6L574.3 78.4L573.0 79.2L571.8 80.1L570.5 80.9L569.2 81.7L567.9 82.5L566.6 83.3L565.3 84.1L563.9 84.8L562.6 85.6L561.3 86.4L560.0 87.2L558.7 87.9L557.3 88.7L556.0 89.4L554.7 90.1L553.3 90.8L552.0 91.5L550.6 92.2L549.2 92.9L547.9 93.6L546.5 94.2L545.1 94.9L543.7 95.5L542.3 96.1L540.9 96.8" stroke="#00ff00" stroke-width="2.8" fill="none" stroke-linejoin="round" stroke-linecap="round"/></g>
<path d="M245.53 506.40v-2.2M245.53 294.00v2.2M282.50 506.40v-2.2M282.50 294.00v2.2M319.46 506.40v-2.2M319.46 294.00v2.2M356.43 506.40v-2.2M356.43 294.00v2.2M393.40 506.40v-2.2M393.40 294.00v2.2M430.37 506.40v-2.2M430.37 294.00v2.2M467.33 506.40v-2.2M467.33 294.00v2.2M208.56 482.80h2.2M504.30 482.80h-2.2M208.56 459.20h2.2M504.30 459.20h-2.2M208.56 435.60h2.2M504.30 435.60h-2.2M208.56 412.00h2.2M504.30 412.00h-2.2M208.56 388.40h2.2M504.30 388.40h-2.2M208.56 364.80h2.2M504.30 364.80h-2.2M208.56 341.20h2.2M504.30 341.20h-2.2M208.56 317.60h2.2M504.30 317.60h-2.2" stroke="#6e6e6e" stroke-width="1" fill="none"/>
<rect x="208.56" y="294.00" width="295.74" height="212.40" fill="none" stroke="#6e6e6e" stroke-width="1"/>
<text x="208.56" y="520.80" text-anchor="middle">0</text>
<text x="245.53" y="520.80" text-anchor="middle">1</text>
<text x="282.50" y="520.80" text-anchor="middle">2</text>
<text x="319.46" y="520.80" text-anchor="middle">3</text>
<text x="356.43" y="520.80" text-anchor="middle">4</text>
<text x="393.40" y="520.80" text-anchor="middle">5</text>
<text x="430.37" y="520.80" text-anchor="middle">6</text>
<text x="467.33" y="520.80" text-anchor="middle">7</text>
<text x="504.30" y="520.80" text-anchor="middle">8</text>
<text x="205.06" y="510.30" text-anchor="end">0</text>
<text x="205.06" y="486.70" text-anchor="end">100</text>
<text x="205.06" y="463.10" text-anchor="end">200</text>
<text x="205.06" y="439.50" text-anchor="end">300</text>
<text x="205.06" y="415.90" text-anchor="end">400</text>
<text x="205.06" y="392.30" text-anchor="end">500</text>
<text x="205.06" y="368.70" text-anchor="end">600</text>
<text x="205.06" y="345.10" text-anchor="end">700</text>
<text x="205.06" y="321.50" text-anchor="end">800</text>
<text x="205.06" y="297.90" text-anchor="end">900</text>
<g clip-path="url(#clipc)"><path d="M215.6 506.4L216.2 505.1L216.8 503.8L217.4 502.4L218.0 501.1L218.7 499.8L219.3 498.5L220.0 497.3L220.7 496.0L221.5 494.8L222.3 493.6L223.2 492.4L224.0 491.2L224.8 490.1L225.6 488.9L226.4 487.6L227.1 486.4L227.8 485.1L228.4 483.8L229.1 482.5L229.7 481.2L230.3 479.9L230.9 478.6L231.6 477.3L232.2 476.0L232.9 474.7L233.5 473.4L234.2 472.1L234.9 470.8L235.6 469.6L236.3 468.3L237.0 467.1L237.7 465.8L238.5 464.6L239.2 463.3L240.0 462.1L240.8 460.9L241.6 459.7L242.4 458.5L243.2 457.3L244.1 456.1L244.9 454.9L245.7 453.7L246.5 452.6L247.4 451.4L248.2 450.2L249.0 449.0L249.9 447.8L250.8 446.7L251.7 445.5L252.6 444.5L253.6 443.4L254.6 442.3L255.6 441.3L256.7 440.3L257.7 439.4L258.8 438.4L259.9 437.5L261.0 436.5L262.2 435.6L278.8 453.7L278.4 453.9L278.0 454.2L277.5 454.4L277.1 454.7L276.7 455.0L276.3 455.2L275.9 455.5L275.5 455.8L275.1 456.1L274.6 456.3L274.2 456.6L273.8 456.9L273.4 457.2L273.0 457.5L272.6 457.8L272.1 458.1L271.7 458.5L271.3 458.8L270.9 459.1L270.5 459.4L270.1 459.7L269.6 460.1L269.2 460.4L268.8 460.8L268.4 461.1L268.0 461.5L267.6 461.8L267.1 462.2L266.7 462.5L266.3 462.9L265.9 463.3L265.5 463.7L265.1 464.0L264.6 464.4L264.2 464.8L263.8 465.2L263.4 465.6L263.0 466.0L262.6 466.4L262.1 466.8L261.7 467.2L261.3 467.7L260.9 468.1L260.5 468.5L260.1 468.9L259.6 469.4L259.2 469.8L258.8 470.2L258.4 470.7L258.0 471.1L257.6 471.6L257.2 472.0L256.7 472.5L256.3 472.9L255.9 473.4L255.5 473.9L255.1 474.3L254.7 474.8L254.2 475.3L253.8 475.7L253.4 476.2L253.0 476.7L252.6 477.2L252.2 477.7L251.7 478.2L251.3 478.6L250.9 479.1L250.5 479.6L250.1 480.1L249.7 480.6L249.2 481.1L248.8 481.6L248.4 482.1L248.0 482.6L247.6 483.1L247.2 483.7L246.7 484.2L246.3 484.7L245.9 485.2L245.5 485.7L245.1 486.2L244.7 486.7L244.2 487.3L243.8 487.8L243.4 488.3L243.0 488.8L242.6 489.4L242.2 489.9L241.7 490.4L241.3 490.9L240.9 491.5L240.5 492.0L240.1 492.5L239.7 493.1L239.3 493.6L238.8 494.1L238.4 494.7L238.0 495.2L237.6 495.8L237.2 496.3L236.8 496.8L236.3 497.4L235.9 497.9L235.5 498.5L235.1 499.0L234.7 499.5L234.3 500.1L233.8 500.6L233.4 501.2L233.0 501.7L232.6 502.3L232.2 502.8L231.8 503.3L231.3 503.9L230.9 504.4L230.5 505.0L230.1 505.5L229.7 506.1L229.3 506.4Z" fill="#808080"/>
<path d="M252.9 442.7L253.8 441.5L254.8 440.2L255.7 439.0L256.6 437.8L257.6 436.6L258.5 435.4L259.4 434.2L260.4 433.0L261.3 431.8L262.3 430.6L263.3 429.4L264.3 428.2L265.2 427.1L266.2 425.9L267.2 424.7L268.3 423.6L269.3 422.4L270.3 421.3L271.4 420.2L272.5 419.1L273.5 418.0L274.6 417.0L275.7 415.9L276.9 414.9L278.0 413.9L279.2 412.9L280.4 411.9L281.6 410.9L282.8 410.0L284.0 409.1L285.2 408.2L286.5 407.3L287.7 406.4L289.0 405.5L290.3 404.7L291.6 403.8L292.9 403.0L294.2 402.2L295.5 401.4L296.8 400.6L298.1 399.8L299.4 399.0L300.7 398.3L302.1 397.5L303.4 396.8L304.8 396.1L306.1 395.4L307.5 394.7L308.9 394.1L310.3 393.4L311.7 392.8L313.1 392.2L314.5 391.6L316.0 391.1L317.4 390.5L318.8 390.0L320.3 389.5L321.7 388.9L323.2 388.4M254.8 443.9L255.8 442.7L256.8 441.6L257.7 440.5L258.7 439.3L259.7 438.2L260.7 437.1L261.7 436.0L262.7 434.8L263.7 433.7L264.7 432.6L265.8 431.5L266.8 430.4L267.8 429.3L268.8 428.1L269.9 427.0L270.9 426.0L271.9 424.9L273.0 423.8L274.1 422.7L275.2 421.7L276.2 420.7L277.3 419.6L278.5 418.6L279.6 417.6L280.7 416.6L281.9 415.7L283.1 414.7L284.2 413.8L285.4 412.9L286.7 412.0L287.9 411.1L289.1 410.3L290.4 409.4L291.6 408.6L292.9 407.7L294.1 406.9L295.4 406.1L296.7 405.3L298.0 404.5L299.3 403.8L300.6 403.0L301.9 402.2L303.2 401.5L304.5 400.8L305.9 400.1L307.2 399.4L308.5 398.7L309.9 398.0L311.2 397.3L312.6 396.7L314.0 396.1L315.3 395.4L316.7 394.8L318.1 394.2L319.5 393.6L320.8 393.0L322.2 392.4L323.6 391.8L325.0 391.2M256.6 444.6L257.7 443.6L258.8 442.6L259.9 441.6L261.0 440.6L262.1 439.6L263.2 438.6L264.2 437.6L265.3 436.6L266.4 435.6L267.5 434.6L268.6 433.6L269.6 432.6L270.7 431.6L271.8 430.6L272.9 429.6L273.9 428.6L275.0 427.6L276.1 426.6L277.2 425.6L278.3 424.6L279.4 423.6L280.5 422.7L281.6 421.7L282.7 420.8L283.9 419.8L285.0 418.9L286.2 418.0L287.4 417.1L288.5 416.2L289.7 415.3L290.9 414.5L292.1 413.6L293.3 412.8L294.5 411.9L295.8 411.1L297.0 410.3L298.2 409.5L299.5 408.7L300.7 407.9L302.0 407.1L303.2 406.4L304.5 405.6L305.8 404.9L307.1 404.1L308.3 403.4L309.6 402.7L310.9 402.0L312.2 401.3L313.5 400.6L314.9 400.0L316.2 399.3L317.5 398.7L318.8 398.0L320.2 397.4L321.5 396.8L322.8 396.1L324.2 395.5L325.5 394.9L326.9 394.3M252.9 441.5L253.6 440.2L254.3 439.0L255.1 437.7L255.8 436.4L256.5 435.2L257.2 433.9L258.0 432.7L258.7 431.4L259.5 430.2L260.3 429.0L261.1 427.8L261.9 426.6L262.7 425.4L263.5 424.2L264.4 423.0L265.3 421.9L266.2 420.7L267.1 419.6L268.0 418.5L269.0 417.3L269.9 416.3L270.9 415.2L271.9 414.1L272.9 413.0L273.9 412.0L274.9 411.0L276.0 410.0L277.0 409.0L278.1 408.0L279.2 407.0L280.3 406.1L281.4 405.2L282.6 404.3L283.7 403.4L284.9 402.5L286.0 401.6L287.2 400.8L288.4 399.9L289.6 399.1L290.8 398.3L292.1 397.6L293.3 396.8L294.6 396.1L295.8 395.3L297.1 394.6L298.4 393.9L299.7 393.3L301.0 392.6L302.3 392.0L303.6 391.4L305.0 390.8L306.3 390.3L307.6 389.7L309.0 389.1L310.3 388.6L311.7 388.1L313.0 387.6L314.4 387.0L315.8 386.5" stroke="#808080" stroke-width="2.0" fill="none" stroke-linejoin="round" stroke-linecap="round"/>
<path d="M245.5 439.1L246.2 438.5L246.8 437.8L247.4 437.2L248.1 436.5L248.7 435.8L249.2 435.2L249.8 434.4L250.3 433.7L250.8 433.0L251.2 432.2L251.7 431.4L252.1 430.6L252.5 429.8L252.9 429.0L253.3 428.1L253.6 427.3L254.0 426.5L254.4 425.6L254.8 424.8L255.2 424.0L255.6 423.2L256.0 422.4L256.4 421.6L256.9 420.8L257.4 420.0L257.8 419.3L258.3 418.5L258.8 417.7L259.3 417.0L259.8 416.3L260.4 415.5L260.9 414.8L261.5 414.1L262.0 413.4L262.6 412.6L263.2 411.9L263.7 411.2L264.3 410.5L264.9 409.9L265.5 409.2L266.1 408.5L266.8 407.9L267.4 407.2L268.0 406.6L268.7 406.0L269.4 405.3L270.0 404.7L270.7 404.2L271.4 403.6L272.1 403.0L272.9 402.5L273.6 401.9L274.3 401.4L275.1 400.9L275.8 400.4L276.5 399.8L277.3 399.3L278.0 398.8L278.8 398.3L278.8 398.3L278.4 399.1L278.0 400.0L277.7 400.8L277.3 401.6L276.9 402.4L276.4 403.2L276.0 404.0L275.5 404.7L275.0 405.5L274.5 406.2L274.0 406.9L273.4 407.7L272.9 408.4L272.3 409.0L271.7 409.7L271.1 410.4L270.5 411.1L269.9 411.8L269.3 412.4L268.6 413.1L268.0 413.8L267.4 414.4L266.8 415.1L266.2 415.8L265.6 416.5L265.0 417.2L264.5 417.9L263.9 418.6L263.3 419.3L262.8 420.0L262.2 420.7L261.7 421.4L261.2 422.2L260.7 422.9L260.2 423.7L259.7 424.4L259.2 425.2L258.7 426.0L258.3 426.8L257.8 427.6L257.3 428.4L256.8 429.1L256.4 429.9L255.8 430.7L255.3 431.4L254.8 432.1L254.2 432.8L253.6 433.5L253.0 434.1L252.4 434.7L251.7 435.3L251.0 435.8L250.2 436.3L249.5 436.8L248.7 437.3L247.9 437.8L247.1 438.2L246.3 438.7L245.5 439.1Z" fill="#808080"/>
<path d="M258.5 439.8L259.1 439.4L259.7 439.0L260.3 438.5L260.9 438.1L261.6 437.7L262.2 437.2L262.8 436.8L263.4 436.4L264.1 436.0L264.7 435.6L265.3 435.2L266.0 434.8L266.6 434.4L267.3 434.1L268.0 433.7L268.6 433.4L269.3 433.0L270.0 432.7L270.7 432.4L271.4 432.1L272.1 431.8L272.8 431.6L273.5 431.3L274.3 431.1L275.0 430.9L275.7 430.7L276.5 430.6L277.2 430.4L278.0 430.3L278.8 430.2L279.5 430.1L280.3 430.0L281.0 430.0L281.8 430.0L282.6 430.0L283.3 430.0L284.1 430.1L284.8 430.2L285.6 430.3L286.3 430.4L287.0 430.6L287.7 430.8L288.5 431.0L289.2 431.3L289.9 431.6L290.5 431.8L291.2 432.2L291.9 432.5L292.6 432.8L293.2 433.2L293.9 433.6L294.6 434.0L295.2 434.3L295.9 434.8L296.5 435.2L297.2 435.6L297.8 436.0L298.5 436.4L299.1 436.9L299.1 436.9L297.7 437.4L296.3 438.0L294.9 438.5L293.5 439.1L292.1 439.7L290.7 440.3L289.3 440.9L287.9 441.6L286.5 442.2L285.1 442.9L283.7 443.6L282.3 444.3L280.9 445.1L279.5 445.9L278.1 446.8L276.7 447.7L275.3 448.6L273.9 449.6L272.5 450.6L271.1 451.7L269.7 452.9L268.3 454.1L266.9 455.4L265.5 456.7L264.1 458.1L262.7 459.6L261.3 461.1L259.9 462.6L258.5 464.2Z" fill="#939393"/>
<path d="M272.1 393.4L272.9 392.6L273.6 391.8L274.3 391.0L275.0 390.2L275.7 389.5L276.4 388.7L277.1 388.0L277.8 387.2L278.5 386.5L279.2 385.8L279.9 385.1L280.6 384.4L281.4 383.7L282.1 383.0L282.8 382.3L283.5 381.6L284.2 381.0L284.9 380.4L285.6 379.9L286.3 379.4L287.0 378.9L287.7 378.5L288.4 378.1L289.1 377.7L289.9 377.3L290.6 376.9L291.3 376.6L292.0 376.2L292.7 375.9L293.4 375.6L294.1 375.3L294.8 375.0L295.5 374.7L296.2 374.4L296.9 374.1L297.6 373.9L298.4 373.6L299.1 373.4L299.8 373.2L300.5 373.0L301.2 372.8L301.9 372.6L302.6 372.4L303.3 372.2L304.0 372.1L304.7 371.9L305.4 371.8L306.1 371.6L306.9 371.5L307.6 371.3L308.3 371.2L309.0 371.0L309.7 370.9L310.4 370.8L311.1 370.6L311.8 370.5L312.5 370.4L313.2 370.2L313.9 370.1L314.6 369.9L315.3 369.8L316.1 369.7L316.8 369.6L317.5 369.4L318.2 369.3L318.9 369.2L319.6 369.1L320.3 368.9L321.0 368.8L321.7 368.7L322.4 368.6L323.1 368.5L323.8 368.3L324.6 368.2L325.3 368.1L326.0 368.0L326.7 367.9L327.4 367.8L328.1 367.7L328.8 367.6L329.5 367.5L330.2 367.3L330.9 367.2L331.6 367.1L332.3 367.0L333.1 366.9L333.8 366.8L334.5 366.7L335.2 366.6L335.9 366.5L336.6 366.4L337.3 366.3L338.0 366.2L338.7 366.1L339.4 366.0L340.1 365.9L340.8 365.9L341.6 365.8L342.3 365.7L343.0 365.6L343.7 365.5L344.4 365.4L345.1 365.3L345.8 365.2L346.5 365.1L347.2 365.0L347.9 364.9L348.6 364.8L349.3 364.7L350.1 364.6L350.8 364.6L351.5 364.5L352.2 364.4L352.9 364.3L353.6 364.2L354.3 364.1L355.0 364.0L355.7 363.9L356.4 363.9M272.1 395.5L272.5 395.1L272.9 394.6L273.3 394.2L273.7 393.7L274.1 393.3L274.5 392.8L274.9 392.4L275.3 392.0L275.7 391.5L276.1 391.1L276.5 390.7L276.9 390.3L277.3 389.9L277.7 389.5L278.1 389.1L278.5 388.7L278.9 388.3L279.3 387.9L279.7 387.5L280.1 387.1L280.5 386.7L280.9 386.3L281.3 385.9L281.7 385.5L282.1 385.1L282.5 384.7L282.9 384.3L283.3 383.9L283.7 383.6L284.1 383.2L284.5 382.9L284.9 382.6L285.3 382.2L285.7 381.9L286.1 381.7L286.5 381.4L286.9 381.1L287.3 380.9L287.7 380.7L288.0 380.4L288.4 380.2L288.8 380.0L289.2 379.7L289.6 379.5L290.0 379.3L290.4 379.1L290.8 378.9L291.2 378.7L291.6 378.5L292.0 378.3L292.4 378.1L292.8 378.0L293.2 377.8L293.6 377.6L294.0 377.4L294.4 377.3L294.8 377.1L295.2 376.9L295.6 376.8L296.0 376.6L296.4 376.5L296.8 376.3L297.2 376.2L297.6 376.0L298.0 375.9L298.4 375.8L298.8 375.6L299.2 375.5L299.6 375.4L300.0 375.3L300.4 375.1L300.8 375.0L301.2 374.9L301.6 374.8L302.0 374.7L302.4 374.6L302.8 374.5L303.2 374.4L303.6 374.3L304.0 374.2L304.4 374.1L304.8 374.0L305.1 373.9L305.5 373.9L305.9 373.8L306.3 373.7L306.7 373.6L307.1 373.5L307.5 373.4L307.9 373.4L308.3 373.3L308.7 373.2L309.1 373.1L309.5 373.0L309.9 373.0L310.3 372.9L310.7 372.8L311.1 372.7L311.5 372.7L311.9 372.6L312.3 372.5L312.7 372.4L313.1 372.4L313.5 372.3L313.9 372.2L314.3 372.1L314.7 372.1L315.1 372.0L315.5 371.9L315.9 371.8L316.3 371.8L316.7 371.7L317.1 371.6L317.5 371.6L317.9 371.5L318.3 371.4L318.7 371.3L319.1 371.3L319.5 371.2M273.3 396.6L273.6 396.2L274.0 395.8L274.4 395.4L274.7 394.9L275.1 394.5L275.5 394.1L275.9 393.7L276.2 393.3L276.6 393.0L277.0 392.6L277.4 392.2L277.7 391.8L278.1 391.4L278.5 391.1L278.8 390.7L279.2 390.3L279.6 389.9L280.0 389.6L280.3 389.2L280.7 388.8L281.1 388.4L281.5 388.1L281.8 387.7L282.2 387.3L282.6 387.0L282.9 386.6L283.3 386.3L283.7 385.9L284.1 385.6L284.4 385.3L284.8 385.0L285.2 384.7L285.6 384.4L285.9 384.1L286.3 383.9L286.7 383.6L287.0 383.4L287.4 383.2L287.8 382.9L288.2 382.7L288.5 382.5L288.9 382.3L289.3 382.1L289.7 381.9L290.0 381.7L290.4 381.5L290.8 381.3L291.1 381.1L291.5 380.9L291.9 380.7L292.3 380.6L292.6 380.4L293.0 380.2L293.4 380.1L293.8 379.9L294.1 379.7L294.5 379.6L294.9 379.4L295.2 379.3L295.6 379.1L296.0 379.0L296.4 378.8L296.7 378.7L297.1 378.6L297.5 378.4L297.9 378.3L298.2 378.2L298.6 378.1L299.0 377.9L299.3 377.8L299.7 377.7L300.1 377.6L300.5 377.5L300.8 377.4L301.2 377.3L301.6 377.2L302.0 377.1L302.3 377.0L302.7 376.9L303.1 376.8L303.4 376.7L303.8 376.6L304.2 376.5L304.6 376.4L304.9 376.3L305.3 376.3L305.7 376.2L306.1 376.1L306.4 376.0L306.8 375.9L307.2 375.9L307.5 375.8L307.9 375.7L308.3 375.6L308.7 375.6L309.0 375.5L309.4 375.4L309.8 375.4L310.2 375.3L310.5 375.2L310.9 375.1L311.3 375.1L311.6 375.0L312.0 374.9L312.4 374.9L312.8 374.8L313.1 374.7L313.5 374.6L313.9 374.6L314.3 374.5L314.6 374.4L315.0 374.4L315.4 374.3L315.8 374.2L316.1 374.2L316.5 374.1L316.9 374.0L317.2 374.0L317.6 373.9M275.1 397.1L275.5 396.8L275.8 396.4L276.2 396.0L276.5 395.6L276.9 395.3L277.2 394.9L277.6 394.5L278.0 394.2L278.3 393.8L278.7 393.5L279.0 393.1L279.4 392.7L279.7 392.4L280.1 392.0L280.5 391.6L280.8 391.3L281.2 390.9L281.5 390.6L281.9 390.2L282.2 389.9L282.6 389.5L283.0 389.2L283.3 388.9L283.7 388.5L284.0 388.2L284.4 387.9L284.7 387.6L285.1 387.3L285.5 387.1L285.8 386.8L286.2 386.5L286.5 386.3L286.9 386.1L287.2 385.8L287.6 385.6L288.0 385.4L288.3 385.2L288.7 385.0L289.0 384.8L289.4 384.6L289.7 384.4L290.1 384.2L290.5 384.1L290.8 383.9L291.2 383.7L291.5 383.5L291.9 383.3L292.2 383.2L292.6 383.0L293.0 382.8L293.3 382.7L293.7 382.5L294.0 382.4L294.4 382.2L294.8 382.1L295.1 381.9L295.5 381.8L295.8 381.6L296.2 381.5L296.5 381.4L296.9 381.2L297.3 381.1L297.6 381.0L298.0 380.9L298.3 380.7L298.7 380.6L299.0 380.5L299.4 380.4L299.8 380.3L300.1 380.2L300.5 380.1L300.8 380.0L301.2 379.9L301.5 379.8L301.9 379.7L302.3 379.6L302.6 379.5L303.0 379.4L303.3 379.3L303.7 379.2L304.0 379.1L304.4 379.1L304.8 379.0L305.1 378.9L305.5 378.8L305.8 378.7L306.2 378.7L306.5 378.6L306.9 378.5L307.3 378.5L307.6 378.4L308.0 378.3L308.3 378.2L308.7 378.2L309.0 378.1L309.4 378.0L309.8 378.0L310.1 377.9L310.5 377.8L310.8 377.8L311.2 377.7L311.5 377.6L311.9 377.6L312.3 377.5L312.6 377.4L313.0 377.3L313.3 377.3L313.7 377.2L314.0 377.1L314.4 377.1L314.8 377.0L315.1 376.9L315.5 376.9L315.8 376.8L316.2 376.7L316.5 376.7L316.9 376.6L317.3 376.5L317.6 376.5M256.6 416.2L257.8 415.1L258.9 414.0L260.0 413.0L261.2 412.0L262.3 411.1L263.4 410.2L264.6 409.4L265.7 408.5L266.9 407.7L268.0 407.0L269.1 406.2L270.3 405.4L271.4 404.7L272.5 404.0L273.7 403.3L274.8 402.6L275.9 401.9L277.1 401.2L278.2 400.6L279.4 400.0L280.5 399.4L281.6 398.8L282.8 398.2L283.9 397.6L285.0 397.1L286.2 396.5L287.3 396.0L288.5 395.5L289.6 395.0L290.7 394.5L291.9 394.0L293.0 393.5L294.1 393.0L295.3 392.6L296.4 392.1L297.5 391.6L298.7 391.2L299.8 390.7L301.0 390.3L302.1 389.9L303.2 389.4L304.4 389.0L305.5 388.6L306.6 388.2L307.8 387.8L308.9 387.4L310.1 387.0L311.2 386.6L312.3 386.2L313.5 385.8L314.6 385.4L315.7 385.0L316.9 384.6L318.0 384.2L319.2 383.8L320.3 383.4L321.4 383.0L322.6 382.6L323.7 382.2L324.8 381.8L326.0 381.3L327.1 380.9L328.2 380.5L329.4 380.1L330.5 379.7L331.7 379.3L332.8 378.9L333.9 378.5L335.1 378.1L336.2 377.7L337.3 377.3L338.5 376.9L339.6 376.5L340.8 376.1L341.9 375.7L343.0 375.3L344.2 374.9L345.3 374.5L346.4 374.1L347.6 373.7L348.7 373.3L349.9 372.9L351.0 372.5L352.1 372.1L353.3 371.7L354.4 371.4L355.5 371.0L356.7 370.6L357.8 370.3L358.9 369.9L360.1 369.6L361.2 369.2L362.4 368.9L363.5 368.6L364.6 368.2L365.8 367.9L366.9 367.6L368.0 367.3L369.2 366.9L370.3 366.6L371.5 366.3L372.6 366.0L373.7 365.6L374.9 365.3L376.0 364.9L377.1 364.6L378.3 364.3L379.4 363.9L380.5 363.6L381.7 363.2L382.8 362.9L384.0 362.5L385.1 362.2L386.2 361.8L387.4 361.5L388.5 361.1L389.6 360.8L390.8 360.4L391.9 360.1M256.6 418.2L258.1 416.8L259.5 415.6L261.0 414.4L262.4 413.3L263.9 412.2L265.3 411.2L266.8 410.3L268.2 409.3L269.7 408.4L271.2 407.6L272.6 406.7L274.1 405.8L275.5 405.0L277.0 404.2L278.4 403.4L279.9 402.7L281.3 402.0L282.8 401.2L284.2 400.5L285.7 399.9L287.1 399.2L288.6 398.6L290.1 397.9L291.5 397.3L293.0 396.7L294.4 396.1L295.9 395.6L297.3 395.0L298.8 394.4L300.2 393.9L301.7 393.3L303.1 392.8L304.6 392.3L306.0 391.8L307.5 391.2L309.0 390.8L310.4 390.3L311.9 389.8L313.3 389.3L314.8 388.8L316.2 388.3L317.7 387.8L319.1 387.3L320.6 386.8L322.0 386.3L323.5 385.8L324.9 385.3L326.4 384.8L327.9 384.3L329.3 383.8L330.8 383.3L332.2 382.8L333.7 382.3L335.1 381.8L336.6 381.3L338.0 380.8L339.5 380.3L340.9 379.8L342.4 379.3L343.8 378.7L345.3 378.2L346.8 377.7L348.2 377.2L349.7 376.7L351.1 376.1L352.6 375.6L354.0 375.1L355.5 374.6L356.9 374.1L358.4 373.5L359.8 373.0L361.3 372.5L362.7 371.9L364.2 371.4L365.7 370.9L367.1 370.3L368.6 369.8L370.0 369.4L371.5 368.9L372.9 368.4L374.4 368.0L375.8 367.6L377.3 367.3L378.7 366.9L380.2 366.6L381.6 366.3L383.1 365.9L384.6 365.6L386.0 365.3L387.5 365.0L388.9 364.7L390.4 364.4L391.8 364.1L393.3 363.8L394.7 363.5L396.2 363.2L397.6 362.8L399.1 362.5L400.5 362.2L402.0 361.9L403.5 361.6L404.9 361.2L406.4 360.9L407.8 360.6L409.3 360.2L410.7 359.9L412.2 359.5L413.6 359.2L415.1 358.8L416.5 358.4L418.0 358.1L419.4 357.7L420.9 357.3L422.4 356.9L423.8 356.5L425.3 356.1L426.7 355.7L428.2 355.3L429.6 354.9M256.6 420.2L258.4 418.6L260.1 417.2L261.9 415.9L263.7 414.7L265.4 413.6L267.2 412.5L269.0 411.4L270.7 410.4L272.5 409.4L274.3 408.5L276.0 407.6L277.8 406.7L279.6 405.8L281.3 405.0L283.1 404.2L284.8 403.4L286.6 402.7L288.4 402.0L290.1 401.3L291.9 400.7L293.7 400.0L295.4 399.4L297.2 398.7L299.0 398.1L300.7 397.5L302.5 396.8L304.3 396.2L306.0 395.5L307.8 394.9L309.6 394.3L311.3 393.7L313.1 393.1L314.8 392.4L316.6 391.8L318.4 391.2L320.1 390.5L321.9 389.8L323.7 389.2L325.4 388.5L327.2 387.8L329.0 387.1L330.7 386.4L332.5 385.7L334.3 385.1L336.0 384.4L337.8 383.7L339.5 383.1L341.3 382.5L343.1 381.8L344.8 381.2L346.6 380.6L348.4 380.0L350.1 379.3L351.9 378.7L353.7 378.1L355.4 377.4L357.2 376.8L359.0 376.1L360.7 375.4L362.5 374.7L364.3 374.0L366.0 373.3L367.8 372.7L369.5 372.0L371.3 371.3L373.1 370.6L374.8 370.0L376.6 369.4L378.4 368.8L380.1 368.1L381.9 367.5L383.7 366.9L385.4 366.3L387.2 365.8L389.0 365.3L390.7 364.8L392.5 364.4L394.2 364.1L396.0 363.7L397.8 363.4L399.5 363.1L401.3 362.8L403.1 362.6L404.8 362.3L406.6 362.0L408.4 361.8L410.1 361.5L411.9 361.3L413.7 361.0L415.4 360.8L417.2 360.5L419.0 360.3L420.7 360.1L422.5 359.9L424.2 359.6L426.0 359.3L427.8 359.0L429.5 358.6L431.3 358.2L433.1 357.8L434.8 357.3L436.6 356.8L438.4 356.2L440.1 355.6L441.9 355.0L443.7 354.4L445.4 353.7L447.2 352.9L448.9 352.1L450.7 351.2L452.5 350.3L454.2 349.3L456.0 348.2L457.8 347.1L459.5 345.9L461.3 344.7L463.1 343.4L464.8 342.1L466.6 340.7M319.5 370.2L320.7 370.0L321.9 369.8L323.2 369.5L324.4 369.3L325.6 369.1L326.9 368.9L328.1 368.6L329.4 368.4L330.6 368.2L331.8 368.0L333.1 367.8L334.3 367.6L335.5 367.4L336.8 367.2L338.0 367.0L339.2 366.8L340.5 366.6L341.7 366.4L343.0 366.2L344.2 366.0L345.4 365.8L346.7 365.6L347.9 365.4L349.1 365.2L350.4 365.1L351.6 364.9L352.8 364.7L354.1 364.5L355.3 364.4L356.6 364.2L357.8 364.0L359.0 363.9L360.3 363.7L361.5 363.6L362.7 363.4L364.0 363.3L365.2 363.1L366.4 363.0L367.7 362.8L368.9 362.7L370.2 362.6L371.4 362.4L372.6 362.3L373.9 362.1L375.1 361.9L376.3 361.8L377.6 361.6L378.8 361.5L380.0 361.3L381.3 361.2L382.5 361.0L383.8 360.9L385.0 360.7L386.2 360.6L387.5 360.4L388.7 360.2L389.9 360.1L391.2 359.9L392.4 359.7L393.6 359.5L394.9 359.3L396.1 359.1L397.4 358.9L398.6 358.7L399.8 358.5L401.1 358.2L402.3 358.0L403.5 357.8L404.8 357.6L406.0 357.3L407.2 357.1L408.5 356.9L409.7 356.7L411.0 356.5L412.2 356.3L413.4 356.1L414.7 355.9L415.9 355.7L417.1 355.5L418.4 355.3L419.6 355.2L420.8 355.0L422.1 354.8L423.3 354.6L424.6 354.4L425.8 354.2L427.0 353.9L428.3 353.7L429.5 353.4L430.7 353.1L432.0 352.8L433.2 352.4L434.4 352.1L435.7 351.7L436.9 351.3L438.2 350.9L439.4 350.5L440.6 350.1L441.9 349.7L443.1 349.3L444.3 348.9L445.6 348.5L446.8 348.1L448.0 347.7L449.3 347.2L450.5 346.8L451.8 346.4L453.0 345.9L454.2 345.5L455.5 345.1L456.7 344.6L457.9 344.1L459.2 343.7L460.4 343.2L461.6 342.7L462.9 342.2L464.1 341.7L465.4 341.2L466.6 340.7M466.6 340.7L465.1 343.4L463.6 346.0L462.1 348.6L460.6 351.1L459.1 353.6L457.6 356.0L456.1 358.3L454.7 360.6L453.2 362.9L451.7 365.0L450.2 367.2L448.7 369.3L447.2 371.3L445.7 373.3L444.2 375.2L442.7 377.1L441.2 379.0L439.7 380.7L438.2 382.5L436.7 384.2L435.2 385.8L433.8 387.4L432.3 388.9L430.8 390.4L429.3 391.9L427.8 393.3L426.3 394.6L424.8 395.9L423.3 397.2L421.8 398.4L420.3 399.6L418.8 400.7L417.3 401.8L415.8 402.8L414.4 403.8L412.9 404.8L411.4 405.7L409.9 406.5L408.4 407.4L406.9 408.1L405.4 408.9L403.9 409.6L402.4 410.3L400.9 410.9L399.4 411.5L397.9 412.1L396.4 412.6L394.9 413.1L393.5 413.6L392.0 414.1L390.5 414.6L389.0 415.1L387.5 415.5L386.0 416.0L384.5 416.5L383.0 417.0L381.5 417.4L380.0 417.9L378.5 418.4L377.0 418.9L375.5 419.4L374.0 419.8L372.6 420.3L371.1 420.8L369.6 421.3L368.1 421.7L366.6 422.2L365.1 422.7L363.6 423.2L362.1 423.6L360.6 424.1L359.1 424.6L357.6 425.1L356.1 425.5L354.6 426.0L353.2 426.5L351.7 427.0L350.2 427.5L348.7 427.9L347.2 428.4L345.7 428.9L344.2 429.4L342.7 429.8L341.2 430.3L339.7 430.8L338.2 431.3L336.7 431.8L335.2 432.2L333.7 432.7L332.3 433.2L330.8 433.7L329.3 434.2L327.8 434.6L326.3 435.1L324.8 435.6L323.3 436.1L321.8 436.6L320.3 437.1L318.8 437.5L317.3 438.0L315.8 438.5L314.3 439.0L312.9 439.5L311.4 440.0L309.9 440.5L308.4 441.0L306.9 441.5L305.4 442.1L303.9 442.6L302.4 443.1L300.9 443.6L299.4 444.2L297.9 444.8L296.4 445.3L294.9 445.9L293.4 446.5L292.0 447.1L290.5 447.8L289.0 448.4L287.5 449.1L286.0 449.8L284.5 450.5L283.0 451.3L281.5 452.1L280.0 452.9L278.5 453.8L277.0 454.8L275.5 455.7L274.0 456.8L272.5 457.8L271.1 459.0L269.6 460.1L268.1 461.4L266.6 462.7L265.1 464.0L263.6 465.4L262.1 466.9L260.6 468.4L259.1 469.9L257.6 471.5L256.1 473.1L254.6 474.8L253.1 476.5L251.7 478.3L250.2 480.0L248.7 481.8L247.2 483.6L245.7 485.5L244.2 487.3L242.7 489.2L241.2 491.1L239.7 493.0L238.2 494.9L236.7 496.9L235.2 498.8L233.7 500.8L232.2 502.7L230.8 504.7L229.3 506.4M466.6 340.7L465.1 343.5L463.6 346.2L462.1 348.9L460.6 351.5L459.1 354.0L457.6 356.5L456.1 358.9L454.6 361.3L453.1 363.5L451.6 365.8L450.1 367.9L448.7 370.0L447.2 372.1L445.7 374.0L444.2 376.0L442.7 377.8L441.2 379.6L439.7 381.4L438.2 383.0L436.7 384.7L435.2 386.3L433.7 387.8L432.2 389.2L430.7 390.6L429.2 392.0L427.7 393.3L426.2 394.6L424.7 395.8L423.2 396.9L421.7 398.0L420.2 399.1L418.8 400.1L417.3 401.1L415.8 402.0L414.3 402.8L412.8 403.7L411.3 404.5L409.8 405.2L408.3 405.9L406.8 406.6L405.3 407.2L403.8 407.8L402.3 408.4L400.8 408.9L399.3 409.4L397.8 409.9L396.3 410.4L394.8 410.8L393.3 411.3L391.8 411.8L390.3 412.2L388.9 412.7L387.4 413.2L385.9 413.6L384.4 414.1L382.9 414.6L381.4 415.1L379.9 415.5L378.4 416.0L376.9 416.5L375.4 416.9L373.9 417.4L372.4 417.9L370.9 418.3L369.4 418.8L367.9 419.3L366.4 419.7L364.9 420.2L363.4 420.7L361.9 421.1L360.4 421.6L359.0 422.1L357.5 422.5L356.0 423.0L354.5 423.5L353.0 423.9L351.5 424.4L350.0 424.9L348.5 425.3L347.0 425.8L345.5 426.3L344.0 426.7L342.5 427.2L341.0 427.7L339.5 428.2L338.0 428.6L336.5 429.1L335.0 429.6L333.5 430.0L332.0 430.5L330.6 431.0L329.1 431.4L327.6 431.9L326.1 432.4L324.6 432.9L323.1 433.3L321.6 433.8L320.1 434.3L318.6 434.8L317.1 435.3L315.6 435.7L314.1 436.2L312.6 436.7L311.1 437.2L309.6 437.7L308.1 438.2L306.6 438.7L305.1 439.2L303.6 439.7L302.1 440.3L300.7 440.8L299.2 441.3L297.7 441.9L296.2 442.5L294.7 443.1L293.2 443.7L291.7 444.3L290.2 444.9L288.7 445.6L287.2 446.3L285.7 447.0L284.2 447.8L282.7 448.6L281.2 449.4L279.7 450.3L278.2 451.2L276.7 452.2L275.2 453.2L273.7 454.3L272.2 455.5L270.8 456.7L269.3 457.9L267.8 459.3L266.3 460.6L264.8 462.1L263.3 463.6L261.8 465.1L260.3 466.7L258.8 468.3L257.3 470.0L255.8 471.8L254.3 473.5L252.8 475.3L251.3 477.1L249.8 479.0L248.3 480.9L246.8 482.8L245.3 484.7L243.8 486.6L242.3 488.6L240.9 490.5L239.4 492.5L237.9 494.5L236.4 496.5L234.9 498.5L233.4 500.5L231.9 502.5L230.4 504.5L228.9 506.4M429.6 354.9L428.4 357.1L427.1 359.2L425.8 361.3L424.5 363.3L423.3 365.3L422.0 367.2L420.7 369.0L419.4 370.8L418.2 372.5L416.9 374.1L415.6 375.7L414.3 377.3L413.1 378.8L411.8 380.2L410.5 381.6L409.2 382.9L408.0 384.2L406.7 385.4L405.4 386.6L404.1 387.8L402.9 388.8L401.6 389.9L400.3 390.9L399.0 391.9L397.8 392.8L396.5 393.7L395.2 394.5L394.0 395.3L392.7 396.1L391.4 396.8L390.1 397.5L388.9 398.2L387.6 398.9L386.3 399.5L385.0 400.2L383.8 400.8L382.5 401.4L381.2 402.0L379.9 402.7L378.7 403.3L377.4 403.9L376.1 404.5L374.8 405.1L373.6 405.7L372.3 406.3L371.0 407.0L369.7 407.6L368.5 408.1L367.2 408.7L365.9 409.3L364.6 409.9L363.4 410.5L362.1 411.1L360.8 411.7L359.6 412.3L358.3 412.8L357.0 413.4L355.7 414.0L354.5 414.5L353.2 415.1L351.9 415.7L350.6 416.2L349.4 416.8L348.1 417.3L346.8 417.9L345.5 418.4L344.3 419.0L343.0 419.5L341.7 420.0L340.4 420.6L339.2 421.1L337.9 421.6L336.6 422.2L335.3 422.7L334.1 423.2L332.8 423.7L331.5 424.3L330.2 424.8L329.0 425.3L327.7 425.8L326.4 426.3L325.1 426.8L323.9 427.3L322.6 427.8L321.3 428.3L320.1 428.8L318.8 429.3L317.5 429.8L316.2 430.3L315.0 430.8L313.7 431.3L312.4 431.8L311.1 432.3L309.9 432.7L308.6 433.2L307.3 433.7L306.0 434.2L304.8 434.7L303.5 435.2L302.2 435.7L300.9 436.2L299.7 436.7L298.4 437.2L297.1 437.7L295.8 438.2L294.6 438.7L293.3 439.2L292.0 439.7L290.7 440.3L289.5 440.9L288.2 441.4L286.9 442.0L285.7 442.6L284.4 443.3L283.1 443.9L281.8 444.6L280.6 445.3L279.3 446.1L278.0 446.8L276.7 447.6L275.5 448.5L274.2 449.4L272.9 450.3L271.6 451.3L270.4 452.3L269.1 453.4L267.8 454.5L266.5 455.7L265.3 456.9L264.0 458.2L262.7 459.5L261.4 460.9L260.2 462.3L258.9 463.7L257.6 465.2L256.3 466.7L255.1 468.3L253.8 469.8L252.5 471.4L251.3 473.1L250.0 474.7L248.7 476.4L247.4 478.1L246.2 479.8L244.9 481.5L243.6 483.2L242.3 485.0L241.1 486.8L239.8 488.5L238.5 490.3L237.2 492.1L236.0 493.9L234.7 495.7L233.4 497.5L232.1 499.3L230.9 501.1L229.6 502.9L228.3 504.7L227.0 506.4M429.6 356.3L428.3 358.3L427.1 360.1L425.8 362.0L424.5 363.8L423.2 365.5L422.0 367.2L420.7 368.8L419.4 370.4L418.1 372.0L416.8 373.5L415.6 374.9L414.3 376.3L413.0 377.7L411.7 379.0L410.4 380.2L409.2 381.5L407.9 382.6L406.6 383.8L405.3 384.9L404.1 385.9L402.8 386.9L401.5 387.9L400.2 388.9L398.9 389.8L397.7 390.7L396.4 391.5L395.1 392.3L393.8 393.1L392.5 393.8L391.3 394.6L390.0 395.3L388.7 395.9L387.4 396.6L386.1 397.2L384.9 397.9L383.6 398.5L382.3 399.1L381.0 399.8L379.8 400.4L378.5 401.0L377.2 401.6L375.9 402.3L374.6 402.9L373.4 403.5L372.1 404.1L370.8 404.7L369.5 405.3L368.2 405.9L367.0 406.5L365.7 407.1L364.4 407.7L363.1 408.3L361.9 408.8L360.6 409.4L359.3 410.0L358.0 410.6L356.7 411.2L355.5 411.7L354.2 412.3L352.9 412.9L351.6 413.4L350.3 414.0L349.1 414.5L347.8 415.1L346.5 415.6L345.2 416.2L343.9 416.7L342.7 417.3L341.4 417.8L340.1 418.4L338.8 418.9L337.6 419.4L336.3 420.0L335.0 420.5L333.7 421.0L332.4 421.5L331.2 422.0L329.9 422.6L328.6 423.1L327.3 423.6L326.0 424.1L324.8 424.6L323.5 425.1L322.2 425.6L320.9 426.1L319.7 426.6L318.4 427.1L317.1 427.6L315.8 428.1L314.5 428.6L313.3 429.1L312.0 429.6L310.7 430.1L309.4 430.5L308.1 431.0L306.9 431.5L305.6 432.0L304.3 432.5L303.0 433.0L301.8 433.5L300.5 434.0L299.2 434.5L297.9 435.0L296.6 435.5L295.4 436.0L294.1 436.5L292.8 437.1L291.5 437.6L290.2 438.2L289.0 438.7L287.7 439.3L286.4 439.9L285.1 440.6L283.8 441.2L282.6 441.9L281.3 442.6L280.0 443.3L278.7 444.1L277.5 444.9L276.2 445.8L274.9 446.7L273.6 447.6L272.3 448.6L271.1 449.6L269.8 450.7L268.5 451.8L267.2 453.0L265.9 454.2L264.7 455.5L263.4 456.8L262.1 458.2L260.8 459.6L259.6 461.1L258.3 462.6L257.0 464.1L255.7 465.7L254.4 467.3L253.2 468.9L251.9 470.6L250.6 472.3L249.3 474.0L248.0 475.7L246.8 477.4L245.5 479.2L244.2 481.0L242.9 482.7L241.6 484.5L240.4 486.3L239.1 488.1L237.8 490.0L236.5 491.8L235.3 493.6L234.0 495.4L232.7 497.3L231.4 499.1L230.1 500.9L228.9 502.8L227.6 504.6L226.3 506.4M391.9 359.6L390.9 362.0L389.8 364.3L388.8 366.5L387.7 368.7L386.7 370.8L385.6 372.8L384.6 374.7L383.5 376.5L382.5 378.3L381.4 380.0L380.4 381.7L379.3 383.2L378.3 384.7L377.2 386.2L376.2 387.6L375.1 388.9L374.1 390.1L373.0 391.3L372.0 392.4L370.9 393.5L369.8 394.5L368.8 395.5L367.7 396.4L366.7 397.3L365.6 398.1L364.6 398.8L363.5 399.6L362.5 400.2L361.4 400.9L360.4 401.5L359.3 402.1L358.3 402.6L357.2 403.1L356.2 403.6L355.1 404.1L354.1 404.6L353.0 405.1L352.0 405.6L350.9 406.1L349.9 406.6L348.8 407.1L347.8 407.6L346.7 408.1L345.7 408.6L344.6 409.1L343.6 409.6L342.5 410.1L341.5 410.6L340.4 411.1L339.4 411.6L338.3 412.1L337.3 412.6L336.2 413.1L335.2 413.6L334.1 414.1L333.1 414.6L332.0 415.1L331.0 415.6L329.9 416.0L328.9 416.5L327.8 417.0L326.8 417.5L325.7 418.0L324.7 418.5L323.6 419.0L322.6 419.5L321.5 420.0L320.5 420.5L319.4 421.0L318.4 421.5L317.3 422.1L316.3 422.6L315.2 423.1L314.2 423.6L313.1 424.1L312.1 424.6L311.0 425.1L309.9 425.6L308.9 426.1L307.8 426.6L306.8 427.1L305.7 427.6L304.7 428.2L303.6 428.7L302.6 429.2L301.5 429.7L300.5 430.3L299.4 430.8L298.4 431.3L297.3 431.9L296.3 432.4L295.2 432.9L294.2 433.5L293.1 434.0L292.1 434.6L291.0 435.2L290.0 435.8L288.9 436.3L287.9 436.9L286.8 437.5L285.8 438.1L284.7 438.8L283.7 439.4L282.6 440.1L281.6 440.7L280.5 441.4L279.5 442.1L278.4 442.8L277.4 443.5L276.3 444.3L275.3 445.0L274.2 445.8L273.2 446.6L272.1 447.5L271.1 448.3L270.0 449.2L269.0 450.1L267.9 451.1L266.9 452.0L265.8 453.0L264.8 454.0L263.7 455.1L262.7 456.1L261.6 457.2L260.6 458.3L259.5 459.5L258.5 460.7L257.4 461.9L256.4 463.1L255.3 464.3L254.3 465.6L253.2 466.9L252.1 468.2L251.1 469.6L250.0 470.9L249.0 472.3L247.9 473.7L246.9 475.1L245.8 476.5L244.8 477.9L243.7 479.4L242.7 480.8L241.6 482.3L240.6 483.8L239.5 485.2L238.5 486.7L237.4 488.2L236.4 489.7L235.3 491.3L234.3 492.8L233.2 494.3L232.2 495.8L231.1 497.4L230.1 498.9L229.0 500.4L228.0 502.0L226.9 503.5L225.9 505.1L224.8 506.4M391.9 361.3L390.9 363.3L389.8 365.4L388.8 367.3L387.7 369.2L386.6 371.0L385.6 372.8L384.5 374.5L383.5 376.1L382.4 377.7L381.4 379.2L380.3 380.6L379.3 382.0L378.2 383.4L377.1 384.7L376.1 385.9L375.0 387.1L374.0 388.2L372.9 389.3L371.9 390.3L370.8 391.3L369.8 392.2L368.7 393.1L367.6 394.0L366.6 394.8L365.5 395.5L364.5 396.2L363.4 396.9L362.4 397.6L361.3 398.2L360.3 398.8L359.2 399.3L358.1 399.8L357.1 400.4L356.0 400.9L355.0 401.4L353.9 401.9L352.9 402.4L351.8 402.9L350.8 403.4L349.7 403.9L348.6 404.4L347.6 404.9L346.5 405.4L345.5 405.9L344.4 406.4L343.4 406.8L342.3 407.3L341.3 407.8L340.2 408.3L339.1 408.8L338.1 409.3L337.0 409.8L336.0 410.3L334.9 410.8L333.9 411.3L332.8 411.8L331.8 412.3L330.7 412.8L329.6 413.3L328.6 413.8L327.5 414.3L326.5 414.8L325.4 415.4L324.4 415.9L323.3 416.4L322.3 416.9L321.2 417.4L320.1 417.9L319.1 418.4L318.0 418.9L317.0 419.4L315.9 419.9L314.9 420.4L313.8 420.9L312.8 421.4L311.7 421.9L310.6 422.4L309.6 422.9L308.5 423.4L307.5 424.0L306.4 424.5L305.4 425.0L304.3 425.5L303.3 426.0L302.2 426.6L301.1 427.1L300.1 427.6L299.0 428.2L298.0 428.7L296.9 429.2L295.9 429.8L294.8 430.3L293.8 430.9L292.7 431.5L291.6 432.0L290.6 432.6L289.5 433.2L288.5 433.8L287.4 434.4L286.4 435.0L285.3 435.7L284.3 436.3L283.2 437.0L282.1 437.6L281.1 438.3L280.0 439.0L279.0 439.7L277.9 440.5L276.9 441.2L275.8 442.0L274.8 442.8L273.7 443.6L272.6 444.5L271.6 445.3L270.5 446.2L269.5 447.2L268.4 448.1L267.4 449.1L266.3 450.1L265.3 451.2L264.2 452.2L263.1 453.3L262.1 454.5L261.0 455.6L260.0 456.8L258.9 458.0L257.9 459.2L256.8 460.5L255.8 461.8L254.7 463.1L253.6 464.4L252.6 465.8L251.5 467.1L250.5 468.5L249.4 469.9L248.4 471.3L247.3 472.8L246.3 474.2L245.2 475.7L244.1 477.2L243.1 478.7L242.0 480.2L241.0 481.7L239.9 483.2L238.9 484.7L237.8 486.2L236.8 487.8L235.7 489.3L234.6 490.9L233.6 492.4L232.5 494.0L231.5 495.5L230.4 497.1L229.4 498.7L228.3 500.3L227.3 501.8L226.2 503.4L225.1 505.0L224.1 506.4M356.4 363.9L355.6 365.9L354.7 367.9L353.9 369.8L353.0 371.7L352.2 373.5L351.4 375.2L350.5 376.9L349.7 378.5L348.8 380.1L348.0 381.6L347.1 383.1L346.3 384.5L345.4 385.8L344.6 387.1L343.7 388.3L342.9 389.5L342.0 390.7L341.2 391.7L340.4 392.8L339.5 393.8L338.7 394.7L337.8 395.6L337.0 396.4L336.1 397.2L335.3 398.0L334.4 398.7L333.6 399.4L332.7 400.0L331.9 400.6L331.0 401.1L330.2 401.7L329.3 402.1L328.5 402.6L327.7 403.0L326.8 403.4L326.0 403.8L325.1 404.1L324.3 404.5L323.4 404.8L322.6 405.1L321.7 405.4L320.9 405.7L320.0 406.0L319.2 406.3L318.3 406.6L317.5 406.9L316.7 407.2L315.8 407.5L315.0 407.8L314.1 408.1L313.3 408.5L312.4 408.8L311.6 409.1L310.7 409.4L309.9 409.7L309.0 410.1L308.2 410.4L307.3 410.7L306.5 411.0L305.7 411.4L304.8 411.7L304.0 412.1L303.1 412.4L302.3 412.8L301.4 413.1L300.6 413.5L299.7 413.8L298.9 414.2L298.0 414.6L297.2 415.0L296.3 415.4L295.5 415.8L294.7 416.2L293.8 416.6L293.0 417.1L292.1 417.5L291.3 418.0L290.4 418.5L289.6 419.0L288.7 419.5L287.9 420.0L287.0 420.5L286.2 421.1L285.3 421.7L284.5 422.2L283.6 422.9L282.8 423.5L282.0 424.2L281.1 424.8L280.3 425.5L279.4 426.3L278.6 427.0L277.7 427.8L276.9 428.6L276.0 429.4L275.2 430.3L274.3 431.1L273.5 432.0L272.6 432.9L271.8 433.9L271.0 434.8L270.1 435.8L269.3 436.8L268.4 437.9L267.6 438.9L266.7 440.0L265.9 441.0L265.0 442.1L264.2 443.2L263.3 444.4L262.5 445.5L261.6 446.7L260.8 447.8L260.0 449.0L259.1 450.2L258.3 451.4L257.4 452.6L256.6 453.8L255.7 455.0L254.9 456.2L254.0 457.5L253.2 458.7L252.3 460.0L251.5 461.2L250.6 462.5L249.8 463.7L248.9 465.0L248.1 466.3L247.3 467.5L246.4 468.8L245.6 470.1L244.7 471.4L243.9 472.7L243.0 473.9L242.2 475.2L241.3 476.5L240.5 477.8L239.6 479.1L238.8 480.4L237.9 481.7L237.1 483.0L236.3 484.3L235.4 485.6L234.6 486.9L233.7 488.2L232.9 489.5L232.0 490.8L231.2 492.1L230.3 493.4L229.5 494.7L228.6 496.0L227.8 497.3L226.9 498.6L226.1 499.9L225.3 501.2L224.4 502.5L223.6 503.8L222.7 505.1L221.9 506.4M356.4 365.3L355.6 367.2L354.7 369.0L353.9 370.7L353.0 372.4L352.2 374.1L351.3 375.7L350.5 377.2L349.6 378.7L348.8 380.2L347.9 381.6L347.1 382.9L346.2 384.2L345.4 385.4L344.5 386.6L343.7 387.8L342.8 388.8L342.0 389.9L341.1 390.9L340.3 391.8L339.4 392.8L338.6 393.6L337.7 394.5L336.9 395.2L336.0 396.0L335.2 396.7L334.3 397.4L333.5 398.0L332.6 398.6L331.8 399.1L330.9 399.7L330.1 400.2L329.2 400.6L328.3 401.1L327.5 401.5L326.6 401.8L325.8 402.2L324.9 402.5L324.1 402.9L323.2 403.2L322.4 403.5L321.5 403.8L320.7 404.1L319.8 404.4L319.0 404.7L318.1 405.0L317.3 405.3L316.4 405.6L315.6 405.9L314.7 406.2L313.9 406.6L313.0 406.9L312.2 407.2L311.3 407.5L310.5 407.8L309.6 408.1L308.8 408.5L307.9 408.8L307.1 409.1L306.2 409.5L305.4 409.8L304.5 410.1L303.7 410.5L302.8 410.8L302.0 411.2L301.1 411.5L300.3 411.9L299.4 412.3L298.6 412.6L297.7 413.0L296.9 413.4L296.0 413.8L295.2 414.2L294.3 414.6L293.5 415.0L292.6 415.5L291.8 415.9L290.9 416.4L290.1 416.9L289.2 417.4L288.4 417.9L287.5 418.4L286.7 418.9L285.8 419.5L285.0 420.1L284.1 420.7L283.2 421.3L282.4 421.9L281.5 422.6L280.7 423.3L279.8 424.0L279.0 424.7L278.1 425.5L277.3 426.3L276.4 427.1L275.6 427.9L274.7 428.8L273.9 429.7L273.0 430.6L272.2 431.5L271.3 432.5L270.5 433.4L269.6 434.4L268.8 435.5L267.9 436.5L267.1 437.6L266.2 438.7L265.4 439.8L264.5 440.9L263.7 442.0L262.8 443.2L262.0 444.3L261.1 445.5L260.3 446.7L259.4 447.9L258.6 449.1L257.7 450.3L256.9 451.5L256.0 452.8L255.2 454.0L254.3 455.3L253.5 456.5L252.6 457.8L251.8 459.1L250.9 460.4L250.1 461.6L249.2 462.9L248.4 464.2L247.5 465.5L246.7 466.8L245.8 468.1L245.0 469.4L244.1 470.7L243.3 472.0L242.4 473.3L241.6 474.6L240.7 476.0L239.8 477.3L239.0 478.6L238.1 479.9L237.3 481.2L236.4 482.5L235.6 483.9L234.7 485.2L233.9 486.5L233.0 487.8L232.2 489.2L231.3 490.5L230.5 491.8L229.6 493.1L228.8 494.5L227.9 495.8L227.1 497.1L226.2 498.4L225.4 499.8L224.5 501.1L223.7 502.4L222.8 503.8L222.0 505.1L221.1 506.4M317.6 371.4L317.0 373.5L316.4 375.4L315.8 377.4L315.1 379.2L314.5 381.1L313.9 382.8L313.3 384.5L312.7 386.2L312.1 387.7L311.5 389.3L310.8 390.8L310.2 392.2L309.6 393.6L309.0 394.9L308.4 396.2L307.8 397.4L307.1 398.6L306.5 399.7L305.9 400.8L305.3 401.8L304.7 402.8L304.1 403.8L303.4 404.7L302.8 405.5L302.2 406.4L301.6 407.1L301.0 407.9L300.4 408.6L299.7 409.3L299.1 409.9L298.5 410.5L297.9 411.1L297.3 411.6L296.7 412.2L296.0 412.7L295.4 413.1L294.8 413.6L294.2 414.0L293.6 414.4L293.0 414.8L292.4 415.1L291.7 415.5L291.1 415.8L290.5 416.1L289.9 416.5L289.3 416.8L288.7 417.1L288.0 417.5L287.4 417.8L286.8 418.2L286.2 418.6L285.6 418.9L285.0 419.3L284.3 419.7L283.7 420.1L283.1 420.5L282.5 420.9L281.9 421.3L281.3 421.8L280.6 422.2L280.0 422.7L279.4 423.2L278.8 423.6L278.2 424.1L277.6 424.6L276.9 425.1L276.3 425.7L275.7 426.2L275.1 426.8L274.5 427.3L273.9 427.9L273.3 428.5L272.6 429.1L272.0 429.7L271.4 430.4L270.8 431.0L270.2 431.7L269.6 432.3L268.9 433.0L268.3 433.7L267.7 434.4L267.1 435.2L266.5 435.9L265.9 436.6L265.2 437.4L264.6 438.1L264.0 438.9L263.4 439.7L262.8 440.5L262.2 441.3L261.5 442.1L260.9 443.0L260.3 443.8L259.7 444.6L259.1 445.5L258.5 446.3L257.9 447.2L257.2 448.1L256.6 449.0L256.0 449.8L255.4 450.7L254.8 451.6L254.2 452.5L253.5 453.4L252.9 454.3L252.3 455.3L251.7 456.2L251.1 457.1L250.5 458.0L249.8 459.0L249.2 459.9L248.6 460.8L248.0 461.8L247.4 462.7L246.8 463.7L246.1 464.6L245.5 465.6L244.9 466.5L244.3 467.5L243.7 468.4L243.1 469.4L242.4 470.3L241.8 471.3L241.2 472.3L240.6 473.2L240.0 474.2L239.4 475.2L238.8 476.1L238.1 477.1L237.5 478.1L236.9 479.0L236.3 480.0L235.7 481.0L235.1 482.0L234.4 482.9L233.8 483.9L233.2 484.9L232.6 485.9L232.0 486.8L231.4 487.8L230.7 488.8L230.1 489.8L229.5 490.7L228.9 491.7L228.3 492.7L227.7 493.7L227.0 494.7L226.4 495.6L225.8 496.6L225.2 497.6L224.6 498.6L224.0 499.6L223.3 500.5L222.7 501.5L222.1 502.5L221.5 503.5L220.9 504.5L220.3 505.4L219.7 506.4M317.6 373.8L317.0 375.7L316.4 377.6L315.8 379.4L315.1 381.2L314.5 382.9L313.9 384.6L313.3 386.2L312.6 387.7L312.0 389.2L311.4 390.6L310.8 392.0L310.2 393.3L309.5 394.6L308.9 395.8L308.3 397.0L307.7 398.1L307.1 399.2L306.4 400.2L305.8 401.2L305.2 402.1L304.6 403.0L304.0 403.9L303.3 404.7L302.7 405.4L302.1 406.1L301.5 406.8L300.9 407.5L300.2 408.1L299.6 408.7L299.0 409.2L298.4 409.7L297.7 410.2L297.1 410.7L296.5 411.1L295.9 411.5L295.3 411.9L294.6 412.3L294.0 412.6L293.4 413.0L292.8 413.3L292.2 413.6L291.5 413.9L290.9 414.2L290.3 414.6L289.7 414.9L289.1 415.2L288.4 415.6L287.8 415.9L287.2 416.3L286.6 416.6L286.0 417.0L285.3 417.4L284.7 417.7L284.1 418.1L283.5 418.5L282.9 418.9L282.2 419.4L281.6 419.8L281.0 420.2L280.4 420.7L279.7 421.2L279.1 421.6L278.5 422.1L277.9 422.6L277.3 423.1L276.6 423.7L276.0 424.2L275.4 424.7L274.8 425.3L274.2 425.9L273.5 426.5L272.9 427.1L272.3 427.7L271.7 428.3L271.1 429.0L270.4 429.6L269.8 430.3L269.2 431.0L268.6 431.7L268.0 432.4L267.3 433.1L266.7 433.9L266.1 434.6L265.5 435.4L264.8 436.1L264.2 436.9L263.6 437.7L263.0 438.5L262.4 439.3L261.7 440.2L261.1 441.0L260.5 441.8L259.9 442.7L259.3 443.6L258.6 444.4L258.0 445.3L257.4 446.2L256.8 447.1L256.2 448.0L255.5 448.9L254.9 449.8L254.3 450.7L253.7 451.6L253.1 452.5L252.4 453.5L251.8 454.4L251.2 455.3L250.6 456.3L249.9 457.2L249.3 458.2L248.7 459.1L248.1 460.1L247.5 461.0L246.8 462.0L246.2 463.0L245.6 463.9L245.0 464.9L244.4 465.9L243.7 466.8L243.1 467.8L242.5 468.8L241.9 469.8L241.3 470.7L240.6 471.7L240.0 472.7L239.4 473.7L238.8 474.7L238.2 475.6L237.5 476.6L236.9 477.6L236.3 478.6L235.7 479.6L235.1 480.6L234.4 481.6L233.8 482.6L233.2 483.5L232.6 484.5L231.9 485.5L231.3 486.5L230.7 487.5L230.1 488.5L229.5 489.5L228.8 490.5L228.2 491.5L227.6 492.5L227.0 493.5L226.4 494.5L225.7 495.5L225.1 496.5L224.5 497.5L223.9 498.4L223.3 499.4L222.6 500.4L222.0 501.4L221.4 502.4L220.8 503.4L220.2 504.4L219.5 505.4L218.9 506.4M319.5 369.5L318.8 371.6L318.2 373.7L317.6 375.6L316.9 377.5L316.3 379.4L315.6 381.1L315.0 382.8L314.4 384.5L313.7 386.1L313.1 387.6L312.5 389.0L311.8 390.4L311.2 391.8L310.5 393.1L309.9 394.3L309.3 395.5L308.6 396.6L308.0 397.6L307.4 398.7L306.7 399.6L306.1 400.5L305.4 401.4L304.8 402.2L304.2 403.0L303.5 403.8L302.9 404.4L302.3 405.1L301.6 405.7L301.0 406.3L300.4 406.8L299.7 407.3L299.1 407.8L298.4 408.3L297.8 408.7L297.2 409.1L296.5 409.5L295.9 409.8L295.3 410.1L294.6 410.5L294.0 410.8L293.3 411.1L292.7 411.4L292.1 411.7L291.4 412.0L290.8 412.3L290.2 412.7L289.5 413.0L288.9 413.3L288.2 413.7L287.6 414.0L287.0 414.4L286.3 414.8L285.7 415.1L285.1 415.5L284.4 415.9L283.8 416.3L283.2 416.7L282.5 417.2L281.9 417.6L281.2 418.0L280.6 418.5L280.0 419.0L279.3 419.4L278.7 419.9L278.1 420.4L277.4 421.0L276.8 421.5L276.1 422.0L275.5 422.6L274.9 423.2L274.2 423.8L273.6 424.4L273.0 425.0L272.3 425.6L271.7 426.3L271.0 426.9L270.4 427.6L269.8 428.3L269.1 429.0L268.5 429.7L267.9 430.5L267.2 431.2L266.6 432.0L266.0 432.7L265.3 433.5L264.7 434.3L264.0 435.1L263.4 436.0L262.8 436.8L262.1 437.7L261.5 438.5L260.9 439.4L260.2 440.3L259.6 441.1L258.9 442.0L258.3 442.9L257.7 443.9L257.0 444.8L256.4 445.7L255.8 446.6L255.1 447.6L254.5 448.5L253.8 449.5L253.2 450.4L252.6 451.4L251.9 452.4L251.3 453.3L250.7 454.3L250.0 455.3L249.4 456.3L248.7 457.3L248.1 458.3L247.5 459.3L246.8 460.3L246.2 461.3L245.6 462.3L244.9 463.3L244.3 464.3L243.7 465.3L243.0 466.3L242.4 467.3L241.7 468.3L241.1 469.3L240.5 470.4L239.8 471.4L239.2 472.4L238.6 473.4L237.9 474.4L237.3 475.5L236.6 476.5L236.0 477.5L235.4 478.5L234.7 479.6L234.1 480.6L233.5 481.6L232.8 482.7L232.2 483.7L231.5 484.7L230.9 485.7L230.3 486.8L229.6 487.8L229.0 488.8L228.4 489.9L227.7 490.9L227.1 491.9L226.5 493.0L225.8 494.0L225.2 495.0L224.5 496.1L223.9 497.1L223.3 498.1L222.6 499.2L222.0 500.2L221.4 501.2L220.7 502.3L220.1 503.3L219.4 504.3L218.8 505.4L218.2 506.4" stroke="#808080" stroke-width="2.4" fill="none" stroke-linejoin="round" stroke-linecap="round"/>
<path d="M236.0 452.1L236.4 451.2L236.9 450.2L237.3 449.2L237.7 448.3L238.1 447.3L238.5 446.4L238.9 445.4L239.3 444.4L239.7 443.5L240.2 442.5L240.6 441.6L241.0 440.6L241.5 439.6L241.9 438.7L242.3 437.7L242.8 436.8L243.2 435.8L243.7 434.8L244.2 433.9L244.6 432.9L245.1 432.0L245.6 431.0L246.1 430.0L246.6 429.1L247.1 428.1L247.6 427.2L248.2 426.2L248.7 425.2L249.3 424.3L249.8 423.3L250.4 422.4L251.0 421.4L251.6 420.4L252.2 419.5L252.8 418.5L253.5 417.6L254.2 416.6L254.9 415.6L255.7 414.7L256.5 413.7L257.3 412.8L258.1 411.8L258.9 410.8L259.8 409.9L260.7 408.9L261.6 408.0L262.5 407.0L263.4 406.0L264.4 405.1L265.4 404.1L266.4 403.2L267.5 402.2L268.5 401.2L269.6 400.3L270.8 399.3L271.9 398.4L273.1 397.4L274.3 396.4L275.6 395.5L280.6 395.5L280.1 396.4L279.5 397.4L278.9 398.4L278.4 399.3L277.7 400.3L277.1 401.2L276.5 402.2L275.8 403.2L275.2 404.1L274.5 405.1L273.8 406.0L273.0 407.0L272.3 408.0L271.5 408.9L270.7 409.9L270.0 410.8L269.2 411.8L268.4 412.8L267.7 413.7L266.9 414.7L266.1 415.6L265.4 416.6L264.6 417.6L263.9 418.5L263.1 419.5L262.4 420.4L261.6 421.4L260.9 422.4L260.1 423.3L259.4 424.3L258.7 425.2L258.0 426.2L257.3 427.2L256.6 428.1L255.9 429.1L255.2 430.0L254.5 431.0L253.8 432.0L253.1 432.9L252.4 433.9L251.7 434.8L251.0 435.8L250.2 436.8L249.5 437.7L248.7 438.7L247.9 439.6L247.2 440.6L246.5 441.6L245.8 442.5L245.2 443.5L244.6 444.4L244.0 445.4L243.5 446.4L243.0 447.3L242.6 448.3L242.1 449.2L241.7 450.2L241.2 451.2L240.7 452.1Z" fill="#ff1a1a"/>
<path d="M212.3 506.4L212.9 505.1L213.6 503.7L214.3 502.4L215.0 501.1L215.7 499.7L216.4 498.4L217.1 497.1L217.8 495.7L218.5 494.4L219.2 493.1L219.9 491.7L220.6 490.4L221.3 489.1L222.1 487.8L222.8 486.4L223.5 485.1L224.2 483.8L224.9 482.4L225.6 481.1L226.2 479.8L226.9 478.4L227.5 477.0L228.2 475.7L228.8 474.3L229.4 472.9L230.0 471.5L230.5 470.1L231.1 468.7L231.6 467.3L232.2 465.9L232.7 464.5L233.3 463.1L233.8 461.7L234.3 460.3L234.8 458.9L235.3 457.5L235.9 456.1L236.4 454.7L236.9 453.3L237.5 451.9L238.1 450.5L238.7 449.1L239.3 447.7L239.9 446.4L240.6 445.0L241.3 443.7L242.0 442.4L242.8 441.1L243.6 439.8L244.4 438.5L245.1 437.2L245.9 435.9L246.7 434.7L247.5 433.4L248.3 432.1L249.0 430.8L249.8 429.4L250.5 428.1L251.3 426.8L252.0 425.5L252.8 424.3L253.6 423.0L254.4 421.7L255.2 420.5L256.0 419.2L256.9 418.0L257.7 416.7L258.6 415.5L259.5 414.3L260.4 413.0L261.2 411.8L262.1 410.6L263.1 409.4L264.0 408.2L265.0 407.0L266.0 405.9L267.0 404.9L268.1 403.8L269.3 402.9L270.5 401.9L271.7 401.0L272.9 400.2L274.2 399.4L275.5 398.6L276.9 397.9L278.2 397.2L279.5 396.5L280.9 395.8L282.3 395.2L283.6 394.6L285.0 393.9L286.4 393.4L287.8 392.8L289.2 392.2L290.6 391.7L292.0 391.1L293.4 390.6L294.8 390.1L296.3 389.6L297.7 389.1L299.1 388.7L300.6 388.2L302.0 387.9L303.5 387.5L305.0 387.2L306.5 386.9L307.9 386.6L309.4 386.3L310.9 386.1L312.4 385.9L313.9 385.7L315.4 385.5L316.9 385.2L318.4 385.0L319.9 384.8L321.4 384.5L322.9 384.3L324.3 384.0L325.8 383.7L327.3 383.4L328.8 383.0L330.2 382.6L331.7 382.2L333.1 381.8L334.6 381.4L336.0 380.9L337.4 380.5L338.8 380.0L340.3 379.5L341.7 378.9L343.1 378.4L344.5 377.9L345.9 377.3L347.3 376.8L348.7 376.2L350.1 375.6L351.5 375.1L352.9 374.5L354.3 373.9L355.7 373.3L357.1 372.8L358.5 372.2L359.9 371.6L361.3 371.1L362.7 370.5L364.1 369.9L365.5 369.4L366.9 368.8L368.3 368.2L369.7 367.6L371.1 367.0L372.5 366.5L373.9 365.9L375.3 365.2L376.6 364.6L378.0 364.0L379.4 363.4L380.7 362.7L382.1 362.0L383.4 361.4L384.7 360.7L386.1 360.0L387.4 359.3L388.7 358.5L390.0 357.8L391.3 357.1L392.6 356.3L394.0 355.6L395.3 354.8L396.6 354.0L397.9 353.3L399.2 352.5L400.5 351.8L401.8 351.0L403.1 350.3L404.4 349.5L405.7 348.8L407.0 348.0L408.4 347.3L409.7 346.6L411.0 345.8L412.3 345.1L413.6 344.3L415.0 343.6L416.3 342.9L417.6 342.1L418.9 341.4L420.2 340.6L421.5 339.8L422.8 339.0L424.0 338.3L425.3 337.4L426.6 336.6L427.8 335.8L429.1 334.9L430.3 334.1L431.5 333.2L432.7 332.3L433.9 331.3L435.1 330.4L436.2 329.5L437.4 328.5L438.6 327.6L439.7 326.6L440.9 325.6L442.0 324.7L443.2 323.7L444.3 322.7L445.5 321.7L446.6 320.7L447.8 319.7L448.9 318.7L450.0 317.8L451.2 316.8L452.3 315.8L453.5 314.8L454.6 313.8L455.8 312.9L456.9 311.9L458.1 310.9L459.2 310.0L460.4 309.0L461.6 308.0L462.7 307.1L463.9 306.1L465.0 305.1L466.2 304.2L467.3 303.2M256.6 419.1L257.6 417.9L258.6 416.8L259.6 415.7L260.6 414.5L261.7 413.4L262.7 412.3L263.8 411.2L264.8 410.1L265.9 409.0L267.0 408.0L268.1 406.9L269.2 405.9L270.4 404.9L271.6 403.9L272.8 403.0L274.0 402.1L275.2 401.2L276.5 400.4L277.8 399.6L279.1 398.8L280.5 398.1L281.8 397.5L283.2 396.8L284.6 396.2L286.0 395.7L287.5 395.1L288.9 394.6L290.4 394.1L291.8 393.7L293.3 393.2L294.7 392.8L296.2 392.4L297.7 391.9L299.1 391.5L300.6 391.2L302.1 390.8L303.6 390.4L305.0 390.0L306.5 389.7L308.0 389.3L309.5 389.0L311.0 388.6L312.5 388.3L313.9 388.0L315.4 387.7L316.9 387.3L318.4 387.0L319.9 386.7L321.4 386.3L322.9 386.0L324.3 385.7L325.8 385.3L327.3 385.0L328.8 384.6L330.3 384.2L331.7 383.9L333.2 383.5L334.7 383.1L336.1 382.7L337.6 382.3L339.1 381.8L340.5 381.4L342.0 380.9L343.4 380.5L344.9 380.0L346.3 379.5L347.8 379.1L349.2 378.6L350.7 378.1L352.1 377.6L353.5 377.1L355.0 376.6L356.4 376.1M256.6 421.4L257.6 420.3L258.6 419.2L259.6 418.0L260.6 416.9L261.7 415.8L262.7 414.7L263.8 413.5L264.8 412.5L265.9 411.4L267.0 410.3L268.1 409.3L269.2 408.3L270.4 407.3L271.6 406.3L272.8 405.4L274.0 404.5L275.2 403.6L276.5 402.7L277.8 401.9L279.1 401.2L280.5 400.5L281.8 399.8L283.2 399.2L284.6 398.6L286.0 398.0L287.5 397.5L288.9 397.0L290.4 396.5L291.8 396.0L293.3 395.6L294.7 395.1L296.2 394.7L297.7 394.3L299.1 393.9L300.6 393.5L302.1 393.1L303.6 392.8L305.0 392.4L306.5 392.0L308.0 391.7L309.5 391.3L311.0 391.0L312.5 390.7L313.9 390.3L315.4 390.0L316.9 389.7L318.4 389.4L319.9 389.0L321.4 388.7L322.9 388.4L324.3 388.0L325.8 387.7L327.3 387.3L328.8 387.0L330.3 386.6L331.7 386.2L333.2 385.8L334.7 385.4L336.1 385.0L337.6 384.6L339.1 384.2L340.5 383.7L342.0 383.3L343.4 382.8L344.9 382.4L346.3 381.9L347.8 381.4L349.2 380.9L350.7 380.5L352.1 380.0L353.5 379.5L355.0 379.0L356.4 378.5M467.3 303.2L465.8 305.5L464.2 307.8L462.6 310.1L461.0 312.3L459.4 314.5L457.9 316.7L456.3 318.8L454.7 320.9L453.1 323.0L451.5 325.1L450.0 327.2L448.4 329.2L446.8 331.2L445.2 333.1L443.7 335.1L442.1 337.0L440.5 338.8L438.9 340.7L437.3 342.5L435.8 344.3L434.2 346.1L432.6 347.8L431.0 349.6L429.4 351.2L427.9 352.9L426.3 354.6L424.7 356.2L423.1 357.8L421.6 359.4L420.0 360.9L418.4 362.4L416.8 363.9L415.2 365.3L413.7 366.7L412.1 368.1L410.5 369.4L408.9 370.7L407.3 371.9L405.8 373.1L404.2 374.3L402.6 375.4L401.0 376.5L399.4 377.6L397.9 378.7L396.3 379.7L394.7 380.6L393.1 381.6L391.6 382.5L390.0 383.4L388.4 384.3L386.8 385.1L385.2 385.9L383.7 386.7L382.1 387.4L380.5 388.1L378.9 388.8L377.3 389.5L375.8 390.1L374.2 390.8L372.6 391.4L371.0 392.1L369.5 392.7L367.9 393.3L366.3 394.0L364.7 394.6L363.1 395.2L361.6 395.9L360.0 396.5L358.4 397.1L356.8 397.7L355.2 398.3L353.7 398.9L352.1 399.5L350.5 400.1L348.9 400.7L347.4 401.4L345.8 402.0L344.2 402.6L342.6 403.2L341.0 403.7L339.5 404.3L337.9 404.9L336.3 405.4L334.7 406.0L333.1 406.5L331.6 407.0L330.0 407.5L328.4 407.9L326.8 408.4L325.3 408.8L323.7 409.2L322.1 409.5L320.5 409.9L318.9 410.3L317.4 410.6L315.8 411.0L314.2 411.3L312.6 411.6L311.0 412.0L309.5 412.3L307.9 412.7L306.3 413.1L304.7 413.5L303.2 413.9L301.6 414.3L300.0 414.7L298.4 415.2L296.8 415.7L295.3 416.2L293.7 416.7L292.1 417.3L290.5 417.8L288.9 418.4L287.4 419.1L285.8 419.7L284.2 420.4L282.6 421.1L281.0 421.9L279.5 422.7L277.9 423.5L276.3 424.4L274.7 425.4L273.2 426.5L271.6 427.7L270.0 428.9L268.4 430.3L266.8 431.6L265.3 433.0L263.7 434.5L262.1 436.0L260.5 437.6L258.9 439.3L257.4 441.1L255.8 442.9L254.2 444.8L252.6 446.8L251.1 448.9L249.5 451.1L247.9 453.3L246.3 455.4L244.7 457.6L243.2 459.7L241.6 462.0L240.0 464.5L238.4 467.2L236.8 470.1L235.3 473.1L233.7 476.2L232.1 479.2L230.5 482.4L229.0 485.5L227.4 488.4L225.8 490.7L224.2 492.7L222.6 494.8L221.1 497.3L219.5 500.1L217.9 503.1L216.3 506.4M467.3 303.2L465.8 305.5L464.2 307.8L462.7 310.0L461.1 312.3L459.5 314.5L458.0 316.6L456.4 318.8L454.9 320.9L453.3 323.0L451.8 325.1L450.2 327.2L448.6 329.2L447.1 331.2L445.5 333.2L444.0 335.2L442.4 337.1L440.9 339.0L439.3 340.9L437.7 342.8L436.2 344.6L434.6 346.4L433.1 348.2L431.5 350.0L429.9 351.7L428.4 353.5L426.8 355.2L425.3 356.8L423.7 358.5L422.2 360.2L420.6 361.8L419.0 363.4L417.5 364.9L415.9 366.4L414.4 367.9L412.8 369.4L411.3 370.7L409.7 372.1L408.1 373.4L406.6 374.7L405.0 376.0L403.5 377.2L401.9 378.4L400.3 379.5L398.8 380.6L397.2 381.7L395.7 382.8L394.1 383.8L392.6 384.8L391.0 385.8L389.4 386.7L387.9 387.6L386.3 388.5L384.8 389.3L383.2 390.1L381.7 390.9L380.1 391.7L378.5 392.4L377.0 393.1L375.4 393.8L373.9 394.4L372.3 395.1L370.8 395.7L369.2 396.4L367.6 397.0L366.1 397.6L364.5 398.2L363.0 398.9L361.4 399.5L359.8 400.1L358.3 400.7L356.7 401.3L355.2 401.9L353.6 402.5L352.1 403.1L350.5 403.7L348.9 404.3L347.4 404.9L345.8 405.5L344.3 406.1L342.7 406.6L341.2 407.2L339.6 407.8L338.0 408.3L336.5 408.8L334.9 409.3L333.4 409.8L331.8 410.3L330.3 410.7L328.7 411.1L327.1 411.5L325.6 411.8L324.0 412.1L322.5 412.4L320.9 412.7L319.3 413.0L317.8 413.3L316.2 413.5L314.7 413.8L313.1 414.1L311.6 414.3L310.0 414.6L308.4 414.9L306.9 415.3L305.3 415.6L303.8 416.0L302.2 416.4L300.7 416.8L299.1 417.3L297.5 417.9L296.0 418.5L294.4 419.1L292.9 419.8L291.3 420.5L289.7 421.3L288.2 422.0L286.6 422.8L285.1 423.6L283.5 424.4L282.0 425.3L280.4 426.1L278.8 427.0L277.3 427.9L275.7 428.8L274.2 429.8L272.6 430.8L271.1 431.8L269.5 432.9L267.9 434.0L266.4 435.2L264.8 436.4L263.3 437.7L261.7 439.1L260.2 440.5L258.6 442.0L257.0 443.6L255.5 445.4L253.9 447.4L252.4 449.6L250.8 451.8L249.2 454.0L247.7 456.0L246.1 458.0L244.6 460.1L243.0 462.2L241.5 464.5L239.9 467.0L238.3 469.7L236.8 472.5L235.2 475.4L233.7 478.3L232.1 481.2L230.6 484.1L229.0 486.9L227.4 489.5L225.9 492.1L224.3 494.6L222.8 497.1L221.2 499.5L219.7 501.9M426.7 332.9L425.4 335.7L424.1 338.4L422.8 341.0L421.5 343.6L420.2 346.0L418.9 348.4L417.6 350.8L416.3 353.0L415.0 355.2L413.6 357.3L412.3 359.4L411.0 361.3L409.7 363.3L408.4 365.1L407.1 366.9L405.8 368.6L404.5 370.2L403.2 371.8L401.9 373.3L400.6 374.7L399.3 376.1L398.0 377.4L396.7 378.7L395.4 379.8L394.1 381.0L392.8 382.0L391.5 383.0L390.2 384.0L388.9 384.9L387.6 385.8L386.3 386.5L385.0 387.3L383.7 388.0L382.4 388.6L381.1 389.2L379.8 389.8L378.5 390.3L377.2 390.8L375.9 391.3L374.6 391.8L373.3 392.3L372.0 392.8L370.7 393.3L369.4 393.8L368.1 394.3L366.8 394.8L365.5 395.3L364.2 395.8L362.9 396.3L361.6 396.7L360.3 397.2L359.0 397.7L357.7 398.1L356.4 398.6L355.1 399.0L353.8 399.5L352.5 399.9L351.2 400.3L349.9 400.7L348.5 401.1L347.2 401.5L345.9 401.9L344.6 402.4L343.3 402.8L342.0 403.2L340.7 403.6L339.4 404.0L338.1 404.4L336.8 404.8L335.5 405.2L334.2 405.6L332.9 406.0L331.6 406.4L330.3 406.8L329.0 407.2L327.7 407.6L326.4 408.1L325.1 408.5L323.8 408.9L322.5 409.3L321.2 409.7L319.9 410.2L318.6 410.6L317.3 411.1L316.0 411.6L314.7 412.0L313.4 412.5L312.1 413.0L310.8 413.5L309.5 414.0L308.2 414.5L306.9 415.0L305.6 415.5L304.3 416.0L303.0 416.6L301.7 417.1L300.4 417.7L299.1 418.3L297.8 418.9L296.5 419.5L295.2 420.2L293.9 420.8L292.6 421.5L291.3 422.2L290.0 422.9L288.7 423.6L287.4 424.3L286.1 425.0L284.8 425.7L283.4 426.4L282.1 427.1L280.8 427.7L279.5 428.4L278.2 429.1L276.9 429.8L275.6 430.5L274.3 431.2L273.0 431.9L271.7 432.6L270.4 433.4L269.1 434.3L267.8 435.2L266.5 436.2L265.2 437.2L263.9 438.3L262.6 439.4L261.3 440.6L260.0 441.8L258.7 443.1L257.4 444.4L256.1 445.8L254.8 447.2L253.5 448.8L252.2 450.3L250.9 451.9L249.6 453.5L248.3 455.2L247.0 456.8L245.7 458.5L244.4 460.3L243.1 462.1L241.8 464.0L240.5 466.0L239.2 468.2L237.9 470.5L236.6 472.9L235.3 475.3L234.0 477.7L232.7 480.2L231.4 482.6L230.1 485.0L228.8 487.3L227.5 489.5L226.2 491.6L224.9 493.7L223.6 495.8L222.3 497.9L221.0 499.9L219.7 501.9M389.7 355.4L388.6 357.4L387.6 359.3L386.5 361.2L385.4 363.1L384.4 364.9L383.3 366.7L382.2 368.4L381.1 370.1L380.1 371.8L379.0 373.4L377.9 375.0L376.9 376.5L375.8 378.0L374.7 379.4L373.7 380.8L372.6 382.2L371.5 383.5L370.4 384.8L369.4 386.1L368.3 387.3L367.2 388.4L366.2 389.6L365.1 390.6L364.0 391.7L363.0 392.7L361.9 393.7L360.8 394.6L359.8 395.5L358.7 396.3L357.6 397.2L356.5 397.9L355.5 398.7L354.4 399.4L353.3 400.0L352.3 400.7L351.2 401.2L350.1 401.8L349.1 402.3L348.0 402.8L346.9 403.3L345.9 403.7L344.8 404.1L343.7 404.5L342.6 404.9L341.6 405.2L340.5 405.5L339.4 405.9L338.4 406.2L337.3 406.5L336.2 406.9L335.2 407.2L334.1 407.5L333.0 407.9L331.9 408.2L330.9 408.5L329.8 408.9L328.7 409.2L327.7 409.5L326.6 409.9L325.5 410.2L324.5 410.6L323.4 410.9L322.3 411.3L321.3 411.6L320.2 412.0L319.1 412.4L318.0 412.7L317.0 413.1L315.9 413.5L314.8 413.9L313.8 414.3L312.7 414.6L311.6 415.0L310.6 415.4L309.5 415.8L308.4 416.3L307.3 416.7L306.3 417.1L305.2 417.5L304.1 418.0L303.1 418.4L302.0 418.9L300.9 419.3L299.9 419.8L298.8 420.3L297.7 420.8L296.7 421.4L295.6 421.9L294.5 422.5L293.4 423.0L292.4 423.6L291.3 424.2L290.2 424.7L289.2 425.3L288.1 425.9L287.0 426.4L286.0 427.0L284.9 427.6L283.8 428.1L282.8 428.6L281.7 429.1L280.6 429.6L279.5 430.1L278.5 430.6L277.4 431.0L276.3 431.5L275.3 431.9L274.2 432.4L273.1 432.9L272.1 433.4L271.0 433.9L269.9 434.5L268.8 435.1L267.8 435.7L266.7 436.4L265.6 437.2L264.6 438.0L263.5 438.9L262.4 439.8L261.4 440.7L260.3 441.7L259.2 442.7L258.2 443.7L257.1 444.7L256.0 445.9L254.9 447.0L253.9 448.3L252.8 449.6L251.7 450.9L250.7 452.2L249.6 453.5L248.5 454.9L247.5 456.2L246.4 457.6L245.3 459.0L244.2 460.4L243.2 461.9L242.1 463.5L241.0 465.1L240.0 466.9L238.9 468.7L237.8 470.6L236.8 472.5L235.7 474.5L234.6 476.5L233.6 478.5L232.5 480.5L231.4 482.5L230.3 484.5L229.3 486.4L228.2 488.2L227.1 490.0L226.1 491.8L225.0 493.5L223.9 495.2L222.9 496.9L221.8 498.6L220.7 500.3L219.7 501.9M354.6 371.9L353.7 373.4L352.9 374.8L352.0 376.2L351.2 377.6L350.3 379.0L349.5 380.3L348.6 381.6L347.8 382.9L346.9 384.2L346.1 385.4L345.2 386.6L344.4 387.8L343.5 389.0L342.7 390.1L341.9 391.2L341.0 392.3L340.2 393.4L339.3 394.4L338.5 395.4L337.6 396.4L336.8 397.4L335.9 398.3L335.1 399.3L334.2 400.2L333.4 401.0L332.5 401.9L331.7 402.7L330.8 403.5L330.0 404.3L329.1 405.1L328.3 405.8L327.4 406.5L326.6 407.2L325.7 407.9L324.9 408.6L324.0 409.2L323.2 409.8L322.3 410.5L321.5 411.0L320.6 411.6L319.8 412.2L318.9 412.7L318.1 413.2L317.2 413.8L316.4 414.2L315.5 414.7L314.7 415.2L313.8 415.6L313.0 416.0L312.2 416.5L311.3 416.9L310.5 417.2L309.6 417.6L308.8 418.0L307.9 418.3L307.1 418.7L306.2 419.0L305.4 419.4L304.5 419.7L303.7 420.1L302.8 420.4L302.0 420.8L301.1 421.1L300.3 421.5L299.4 421.9L298.6 422.3L297.7 422.7L296.9 423.2L296.0 423.6L295.2 424.1L294.3 424.5L293.5 425.0L292.6 425.5L291.8 425.9L290.9 426.4L290.1 426.9L289.2 427.3L288.4 427.8L287.5 428.2L286.7 428.7L285.8 429.1L285.0 429.5L284.1 429.9L283.3 430.3L282.4 430.7L281.6 431.0L280.8 431.3L279.9 431.7L279.1 431.9L278.2 432.2L277.4 432.5L276.5 432.8L275.7 433.1L274.8 433.3L274.0 433.6L273.1 433.9L272.3 434.2L271.4 434.6L270.6 434.9L269.7 435.3L268.9 435.7L268.0 436.1L267.2 436.6L266.3 437.1L265.5 437.7L264.6 438.3L263.8 438.9L262.9 439.5L262.1 440.2L261.2 440.9L260.4 441.7L259.5 442.4L258.7 443.2L257.8 444.0L257.0 444.8L256.1 445.7L255.3 446.6L254.4 447.6L253.6 448.6L252.7 449.6L251.9 450.7L251.0 451.7L250.2 452.8L249.4 453.8L248.5 454.9L247.7 456.0L246.8 457.1L246.0 458.2L245.1 459.3L244.3 460.4L243.4 461.6L242.6 462.8L241.7 464.1L240.9 465.4L240.0 466.8L239.2 468.2L238.3 469.7L237.5 471.2L236.6 472.8L235.8 474.3L234.9 475.9L234.1 477.5L233.2 479.1L232.4 480.7L231.5 482.3L230.7 483.9L229.8 485.4L229.0 486.9L228.1 488.3L227.3 489.8L226.4 491.2L225.6 492.6L224.7 493.9L223.9 495.3L223.0 496.6L222.2 498.0L221.3 499.3L220.5 500.6L219.7 501.9M317.6 382.5L317.4 382.9L317.2 383.3L316.9 383.6L316.7 384.0L316.5 384.4L316.2 384.8L316.0 385.2L315.8 385.5L315.5 385.9L315.3 386.3L315.1 386.7L314.8 387.0L314.6 387.4L314.3 387.8L314.1 388.1L313.8 388.5L313.6 388.9L313.3 389.2L313.1 389.6L312.8 390.0L312.6 390.3L312.3 390.7L312.0 391.0L311.8 391.4L311.5 391.8L311.2 392.1L311.0 392.5L310.7 392.8L310.4 393.1L310.1 393.5L309.8 393.8L309.5 394.2L309.2 394.5L309.0 394.8L308.7 395.2L308.4 395.5L308.1 395.8L307.8 396.1L307.4 396.5L307.1 396.8L306.8 397.1L306.5 397.4L306.2 397.7L305.9 398.0L305.6 398.3L305.2 398.7L304.9 399.0L304.6 399.3L304.3 399.6L303.9 399.9L303.6 400.2L303.3 400.5L303.0 400.8L302.6 401.1L302.3 401.4L302.0 401.7L301.6 402.0L301.3 402.3L301.0 402.6" stroke="#ff1a1a" stroke-width="1.5" fill="none" stroke-linejoin="round" stroke-linecap="round"/>
<path d="M210.4 506.4L210.9 505.0L211.5 503.6L212.0 502.2L212.5 500.7L213.1 499.3L213.6 497.9L214.1 496.5L214.7 495.1L215.2 493.7L215.8 492.3L216.3 490.9L216.9 489.5L217.5 488.1L218.0 486.7L218.6 485.3L219.2 483.9L219.8 482.5L220.4 481.1L221.0 479.7L221.6 478.4L222.2 477.0L222.8 475.6L223.4 474.2L224.1 472.9L224.7 471.5L225.4 470.1L226.0 468.8L226.7 467.4L227.3 466.0L228.0 464.7L228.7 463.3L229.3 462.0L230.0 460.6L230.7 459.3L231.4 457.9L232.1 456.6L232.8 455.3L233.5 453.9L234.1 452.6L234.8 451.2L235.5 449.9L236.2 448.6L237.0 447.2L237.7 445.9L238.4 444.6L239.1 443.2L239.8 441.9L240.5 440.6L241.2 439.2L241.9 437.9L242.6 436.5L243.3 435.2L244.0 433.9L244.7 432.5L245.4 431.2L246.1 429.9L246.9 428.6L247.6 427.2L248.4 425.9L249.2 424.7L250.0 423.4L250.8 422.1L251.6 420.9L252.5 419.6L253.4 418.4L254.4 417.2L255.3 416.0L256.3 414.9L257.3 413.7L258.4 412.6L259.5 411.5L260.6 410.5L261.7 409.5L262.8 408.5L264.0 407.5L265.2 406.6L266.5 405.7L267.7 404.9L269.0 404.1L270.3 403.4L271.6 402.6L273.0 402.0L274.4 401.3L275.7 400.7L277.1 400.0L278.5 399.4L279.9 398.9L281.3 398.3L282.7 397.7L284.2 397.2L285.6 396.6L287.0 396.1L288.4 395.6L289.8 395.0L291.2 394.5L292.7 394.0L294.1 393.5L295.5 393.0L297.0 392.5L298.4 392.1L299.8 391.6L301.3 391.1L302.7 390.7L304.2 390.3L305.6 389.9L307.1 389.4L308.5 389.0L310.0 388.6L311.5 388.2L312.9 387.8L314.4 387.4L315.8 387.0L317.3 386.6L318.8 386.2L320.2 385.8L321.7 385.4L323.1 385.0L324.6 384.5L326.0 384.1L327.5 383.7L328.9 383.2L330.4 382.8L331.8 382.3L333.3 381.9L334.7 381.4L336.1 381.0L337.6 380.5L339.0 380.0L340.5 379.6L341.9 379.1L343.3 378.6L344.8 378.1L346.2 377.6L347.6 377.1L349.1 376.6L350.5 376.1L351.9 375.5L353.3 375.0L354.7 374.5L356.1 373.9L357.5 373.3L358.9 372.7L360.3 372.1L361.7 371.5L363.1 370.9L364.4 370.2L365.8 369.6L367.2 368.9L368.5 368.2L369.9 367.5L371.2 366.8L372.5 366.1L373.9 365.4L375.2 364.6L376.5 363.9L377.8 363.1L379.1 362.3L380.4 361.6L381.7 360.8L382.9 359.9L384.2 359.1L385.5 358.3L386.8 357.5L388.0 356.6L389.3 355.8L390.5 355.0L391.8 354.1L393.0 353.3L394.3 352.4L395.5 351.5L396.8 350.7L398.0 349.8L399.3 349.0L400.5 348.1L401.7 347.2L403.0 346.4L404.2 345.5L405.4 344.6L406.7 343.7L407.9 342.9L409.1 342.0L410.4 341.1L411.6 340.2L412.8 339.3L414.0 338.5L415.3 337.6L416.5 336.7L417.7 335.8L418.9 334.9L420.2 334.0L421.4 333.1L422.6 332.2L423.8 331.3L425.1 330.4L426.3 329.6L427.5 328.7L428.7 327.8L429.9 326.9L431.2 326.0L432.4 325.1L433.6 324.2L434.8 323.3L436.0 322.4L437.3 321.5L438.5 320.6L439.7 319.7L440.9 318.8L442.1 317.9L443.4 317.0L444.6 316.1L445.8 315.2L447.0 314.3L448.2 313.4L449.4 312.5L450.6 311.5L451.8 310.6L452.9 309.7L454.1 308.7L455.3 307.8L456.5 306.8L457.7 305.9L458.8 304.9L460.0 304.0L461.2 303.0L462.3 302.1L463.5 301.1L464.7 300.2L465.9 299.2M465.9 299.2L464.6 301.0L463.4 302.8L462.1 304.6L460.9 306.3L459.6 308.1L458.4 309.8L457.1 311.5L455.9 313.2L454.6 314.9L453.4 316.5L452.1 318.1L450.9 319.7L449.7 321.3L448.4 322.9L447.2 324.5L445.9 326.0L444.7 327.5L443.4 329.0L442.2 330.5L440.9 332.0L439.7 333.4L438.4 334.8L437.2 336.2L435.9 337.6L434.7 339.0L433.5 340.4L432.2 341.7L431.0 343.0L429.7 344.3L428.5 345.6L427.2 346.8L426.0 348.1L424.7 349.3L423.5 350.5L422.2 351.7L421.0 352.9L419.7 354.1L418.5 355.2L417.3 356.3L416.0 357.4L414.8 358.5L413.5 359.6L412.3 360.6L411.0 361.7L409.8 362.7L408.5 363.7L407.3 364.6L406.0 365.6L404.8 366.5L403.5 367.4L402.3 368.3L401.1 369.1L399.8 370.0L398.6 370.8L397.3 371.6L396.1 372.4L394.8 373.1L393.6 373.8L392.3 374.5L391.1 375.2L389.8 375.8L388.6 376.5L387.3 377.1L386.1 377.7L384.9 378.3L383.6 378.8L382.4 379.4L381.1 380.0L379.9 380.6L378.6 381.1L377.4 381.7L376.1 382.3L374.9 382.8L373.6 383.4L372.4 383.9L371.1 384.5L369.9 385.0L368.7 385.6L367.4 386.1L366.2 386.7L364.9 387.2L363.7 387.7L362.4 388.3L361.2 388.8L359.9 389.3L358.7 389.8L357.4 390.3L356.2 390.9L354.9 391.4L353.7 391.9L352.4 392.4L351.2 392.9L350.0 393.4L348.7 393.9L347.5 394.3L346.2 394.8L345.0 395.3L343.7 395.8L342.5 396.3L341.2 396.7L340.0 397.2L338.7 397.7L337.5 398.1L336.2 398.6L335.0 399.1L333.8 399.5L332.5 400.0L331.3 400.5L330.0 400.9L328.8 401.4L327.5 401.9L326.3 402.3L325.0 402.8L323.8 403.3L322.5 403.7L321.3 404.2L320.0 404.7L318.8 405.2L317.6 405.6L316.3 406.1L315.1 406.6L313.8 407.1L312.6 407.5L311.3 408.0L310.1 408.5L308.8 409.0L307.6 409.4L306.3 409.9L305.1 410.4L303.8 410.9L302.6 411.4L301.4 411.9L300.1 412.3L298.9 412.8L297.6 413.3L296.4 413.8L295.1 414.3L293.9 414.8L292.6 415.3L291.4 415.8L290.1 416.3L288.9 416.8L287.6 417.3L286.4 417.9L285.2 418.4L283.9 418.9L282.7 419.5L281.4 420.0L280.2 420.6L278.9 421.1L277.7 421.7L276.4 422.3L275.2 422.9L273.9 423.6L272.7 424.4L271.4 425.3L270.2 426.3L269.0 427.4L267.7 428.6M425.6 328.9L424.5 330.0L423.4 331.1L422.3 332.1L421.3 333.2L420.2 334.3L419.1 335.4L418.1 336.6L417.1 337.7L416.1 338.8L415.0 339.9L414.0 341.1L413.0 342.2L411.9 343.3L410.9 344.4L409.8 345.4L408.7 346.5L407.6 347.5L406.4 348.5L405.2 349.4L404.0 350.4L402.8 351.3L401.6 352.2L400.3 353.1L399.1 354.0L397.8 354.9L396.6 355.7L395.3 356.6L394.0 357.4L392.8 358.3L391.5 359.1L390.2 359.9L388.9 360.7L387.6 361.5L386.3 362.3L385.0 363.0L383.6 363.8L382.3 364.5L381.0 365.2L379.6 365.9L378.2 366.6L376.9 367.3L375.5 368.0L374.2 368.7L372.9 369.4L371.5 370.2L370.2 370.9L368.8 371.6L367.5 372.3L366.1 373.0L364.8 373.7L363.4 374.4L362.1 375.1L360.7 375.8L359.3 376.4L357.9 377.1L356.6 377.7L355.2 378.3L353.8 379.0L352.4 379.6L351.0 380.2L349.6 380.7L348.2 381.3L346.7 381.9L345.3 382.5M389.0 351.6L388.3 352.5L387.6 353.5L386.9 354.5L386.2 355.4L385.4 356.3L384.7 357.2L383.9 358.0L383.0 358.8L382.2 359.6L381.3 360.3L380.3 361.1L379.4 361.8L378.4 362.5L377.4 363.1L376.5 363.8L375.5 364.4L374.5 365.1L373.5 365.7L372.5 366.4L371.5 367.0L370.6 367.7L369.6 368.3L368.6 368.9L367.6 369.6L366.6 370.2L365.6 370.8L364.6 371.4L363.6 372.0L362.6 372.6L361.6 373.2L360.5 373.8L359.5 374.3L358.5 374.9L357.4 375.5L356.4 376.0L355.4 376.5L354.3 377.0L353.2 377.5L352.2 378.0L351.1 378.5L350.0 379.0L349.0 379.5L347.9 379.9L346.8 380.4L345.7 380.8L344.6 381.3L343.5 381.7L342.4 382.2L341.4 382.6L340.3 383.1L339.2 383.5L338.1 384.0L337.0 384.4L335.9 384.9L334.9 385.4L333.8 385.8L332.7 386.3L331.6 386.8L330.6 387.2M318.0 381.8L317.6 382.4L317.2 382.9L316.8 383.5L316.4 384.1L316.0 384.6L315.5 385.2L315.1 385.8L314.7 386.3L314.2 386.8L313.8 387.4L313.3 387.9L312.8 388.4L312.4 388.9L311.9 389.4L311.4 389.9L310.9 390.3L310.3 390.8L309.8 391.3L309.3 391.7L308.7 392.2L308.2 392.6L307.7 393.1L307.1 393.5L306.6 393.9L306.0 394.4L305.5 394.8L304.9 395.3L304.4 395.7L303.8 396.2L303.3 396.6L302.8 397.1L302.2 397.5L301.7 397.9L301.1 398.4L300.6 398.8L300.0 399.3L299.5 399.7L298.9 400.1L298.4 400.5L297.8 400.9L297.3 401.3L296.7 401.7L296.1 402.1L295.5 402.5L294.9 402.9L294.3 403.2L293.7 403.6L293.1 403.9L292.5 404.2L291.9 404.6L291.3 404.9L290.6 405.2L290.0 405.5L289.4 405.8L288.7 406.1L288.1 406.4L287.5 406.7L286.8 407.0L286.2 407.3" stroke="#111" stroke-width="1.7" fill="none" stroke-linejoin="round" stroke-linecap="butt" stroke-dasharray="4.8 4.2"/>
<path d="M208.6 506.4L209.1 505.0L209.6 503.6L210.2 502.2L210.7 500.8L211.3 499.4L211.8 498.0L212.4 496.6L212.9 495.2L213.5 493.8L214.1 492.4L214.6 491.0L215.2 489.6L215.8 488.2L216.3 486.8L216.9 485.4L217.5 484.0L218.1 482.6L218.7 481.2L219.3 479.9L219.9 478.5L220.5 477.1L221.1 475.7L221.7 474.4L222.4 473.0L223.0 471.6L223.7 470.3L224.3 468.9L225.0 467.6L225.7 466.2L226.3 464.9L227.0 463.5L227.7 462.2L228.4 460.9L229.1 459.5L229.8 458.2L230.5 456.9L231.2 455.5L232.0 454.2L232.7 452.9L233.4 451.6L234.1 450.3L234.8 448.9L235.6 447.6L236.3 446.3L237.0 444.9L237.7 443.6L238.3 442.3L239.0 440.9L239.7 439.6L240.4 438.2L241.0 436.8L241.7 435.5L242.3 434.1L243.0 432.8L243.7 431.4L244.4 430.1L245.0 428.7L245.8 427.4L246.5 426.1L247.2 424.8L248.0 423.5L248.8 422.2L249.6 420.9L250.4 419.7L251.2 418.4L252.1 417.2L253.0 416.0L253.9 414.8L254.9 413.6L255.8 412.4L256.8 411.3L257.8 410.1L258.8 409.0L259.8 407.9L260.8 406.7L261.8 405.6L262.9 404.5L263.9 403.4L265.0 402.4L266.1 401.3L267.2 400.3L268.3 399.3L269.4 398.3L270.6 397.3L271.8 396.4L273.0 395.5L274.2 394.6L275.5 393.8L276.7 392.9L278.0 392.2L279.3 391.4L280.7 390.7L282.0 390.0L283.4 389.4L284.8 388.8L286.2 388.2L287.6 387.7L289.0 387.1L290.4 386.6L291.8 386.2L293.3 385.7L294.7 385.2L296.2 384.8L297.6 384.3L299.1 383.8L300.5 383.4L301.9 382.9L303.4 382.4L304.8 381.9L306.2 381.4L307.7 380.9L309.1 380.4L310.5 380.0L311.9 379.5L313.4 379.0L314.8 378.5L316.2 378.1L317.7 377.6L319.1 377.2L320.6 376.8L322.0 376.4L323.5 376.0L325.0 375.6L326.4 375.2L327.9 374.8L329.3 374.4L330.8 374.0L332.3 373.6L333.7 373.2L335.1 372.8L336.6 372.3L338.0 371.8L339.4 371.3L340.8 370.8L342.3 370.2L343.6 369.6L345.0 369.0L346.4 368.4L347.8 367.8L349.1 367.1L350.5 366.4L351.8 365.7L353.2 365.0L354.5 364.3L355.8 363.6L357.1 362.9L358.5 362.1L359.8 361.4L361.1 360.7L362.4 360.0L363.8 359.3L365.1 358.6L366.5 357.9L367.8 357.2L369.2 356.6L370.5 355.9L371.9 355.3L373.3 354.7L374.7 354.0L376.0 353.4L377.4 352.8L378.8 352.1L380.2 351.5L381.5 350.9L382.9 350.2L384.3 349.6L385.6 348.9L387.0 348.3L388.3 347.6L389.7 346.9L391.0 346.2L392.3 345.5L393.7 344.8L395.0 344.1L396.3 343.3L397.6 342.6L398.9 341.9L400.3 341.1L401.6 340.4L402.9 339.7L404.2 338.9L405.6 338.2L406.9 337.5L408.2 336.8L409.5 336.1L410.9 335.3L412.2 334.6L413.5 333.9L414.9 333.2L416.2 332.5L417.5 331.7L418.8 331.0L420.1 330.2L421.4 329.5L422.7 328.7L424.0 328.0L425.3 327.2L426.6 326.4L427.9 325.6L429.1 324.7L430.4 323.9L431.6 323.1L432.9 322.2L434.1 321.3L435.4 320.5L436.6 319.6L437.8 318.7L439.0 317.8L440.3 316.9L441.5 316.1L442.7 315.2L443.9 314.3L445.1 313.4L446.3 312.5L447.6 311.6L448.8 310.7L450.0 309.8L451.2 308.9L452.4 308.0L453.7 307.1L454.9 306.2L456.1 305.3L457.3 304.5L458.5 303.6L459.8 302.7L461.0 301.8L462.2 300.9L463.4 300.0L464.6 299.1L465.9 298.2M208.6 506.4L209.4 505.1L210.2 503.8L211.0 502.4L211.8 501.1L212.6 499.8L213.4 498.5L214.3 497.2L215.1 495.9L216.0 494.7L216.9 493.4L217.8 492.2L218.8 491.0L219.8 489.8L220.7 488.5L221.7 487.3L222.7 486.1L223.6 484.9L224.6 483.7L225.4 482.4L226.3 481.2L227.1 479.9L227.9 478.5L228.7 477.2L229.5 475.8L230.2 474.5L230.9 473.1L231.6 471.7L232.2 470.3L232.9 468.9L233.5 467.5L234.2 466.1L234.8 464.7L235.5 463.3L236.1 461.9L236.8 460.5L237.4 459.1L238.1 457.7L238.8 456.4L239.5 455.0L240.2 453.6L240.9 452.2L241.6 450.8L242.3 449.5L243.0 448.1L243.6 446.7L244.3 445.3L244.9 443.9L245.5 442.4L246.1 441.0L246.7 439.6L247.3 438.2L247.9 436.7L248.6 435.4L249.3 434.0L250.1 432.7L250.9 431.4L251.8 430.1L252.7 428.9L253.7 427.7L254.6 426.4L255.6 425.2L256.6 424.0M216.0 506.4L216.6 505.1L217.2 503.8L217.9 502.5L218.5 501.2L219.2 499.9L219.9 498.6L220.5 497.3L221.2 496.1L221.9 494.8L222.6 493.5L223.3 492.2L224.0 491.0L224.7 489.7L225.5 488.5L226.2 487.2L226.9 486.0L227.6 484.7L228.4 483.4L229.1 482.2L229.8 480.9L230.4 479.6L231.1 478.3L231.7 477.0L232.4 475.7L233.0 474.4L233.6 473.1L234.2 471.8L234.8 470.5L235.5 469.2L236.1 467.8L236.7 466.5L237.4 465.3L238.1 464.0L238.8 462.7L239.5 461.5L240.3 460.2L241.1 459.0L241.9 457.8L242.7 456.6L243.5 455.4L244.3 454.2L245.1 453.0L246.0 451.8L246.8 450.6L247.7 449.4L248.5 448.3L249.4 447.1L250.3 446.0L251.2 444.8L252.1 443.7L253.1 442.6L254.0 441.5L255.0 440.5L256.0 439.4L257.0 438.3L258.0 437.3L259.0 436.3L260.0 435.2L261.1 434.2M465.9 298.7L465.0 299.9L464.2 301.1L463.4 302.2L462.6 303.4L461.8 304.5L461.0 305.7L460.2 306.8L459.4 307.9L458.6 309.1L457.8 310.2L457.0 311.3L456.2 312.3L455.4 313.4L454.6 314.5L453.8 315.6L453.0 316.6L452.2 317.7L451.4 318.7L450.6 319.8L449.8 320.8L449.0 321.8L448.2 322.8L447.4 323.8L446.5 324.8L445.7 325.8L444.9 326.8L444.1 327.7L443.3 328.7L442.5 329.6L441.7 330.6L440.9 331.5L440.1 332.4L439.3 333.4L438.5 334.3L437.7 335.2L436.9 336.1L436.1 337.0L435.3 337.8L434.5 338.7L433.7 339.6L432.9 340.4L432.1 341.3L431.3 342.1L430.5 342.9L429.7 343.8L428.8 344.6L428.0 345.4L427.2 346.2L426.4 347.0L425.6 347.8L424.8 348.5L424.0 349.3L423.2 350.1L422.4 350.8L421.6 351.6L420.8 352.3L420.0 353.0L419.2 353.8L418.4 354.5L417.6 355.2L416.8 355.9L416.0 356.6L415.2 357.3L414.4 357.9L413.6 358.6L412.8 359.3L412.0 359.9L411.2 360.5L410.3 361.2L409.5 361.8L408.7 362.4L407.9 363.0L407.1 363.6L406.3 364.2L405.5 364.8L404.7 365.3L403.9 365.9L403.1 366.4L402.3 367.0L401.5 367.5L400.7 368.0L399.9 368.5L399.1 369.0L398.3 369.5L397.5 370.0L396.7 370.5L395.9 370.9L395.1 371.4L394.3 371.8L393.5 372.2L392.6 372.7L391.8 373.1L391.0 373.5L390.2 373.9L389.4 374.2L388.6 374.6L387.8 375.0L387.0 375.4L386.2 375.7L385.4 376.1L384.6 376.5L383.8 376.9L383.0 377.2L382.2 377.6L381.4 378.0L380.6 378.3L379.8 378.7L379.0 379.1L378.2 379.4L377.4 379.8L376.6 380.2L375.8 380.5L375.0 380.9L374.1 381.3L373.3 381.6L372.5 382.0L371.7 382.3L370.9 382.7L370.1 383.0L369.3 383.4L368.5 383.7L367.7 384.1L366.9 384.4L366.1 384.8L365.3 385.1L364.5 385.5L363.7 385.8L362.9 386.2L362.1 386.5L361.3 386.8L360.5 387.2L359.7 387.5L358.9 387.9L358.1 388.2L357.3 388.5L356.4 388.9L355.6 389.2L354.8 389.5L354.0 389.9L353.2 390.2L352.4 390.5L351.6 390.8L350.8 391.1L350.0 391.5L349.2 391.8L348.4 392.1L347.6 392.4L346.8 392.7L346.0 393.0L345.2 393.3L344.4 393.6L343.6 394.0L342.8 394.3L342.0 394.6L341.2 394.9L340.4 395.2L339.6 395.5L338.8 395.8L337.9 396.1" stroke="#ff00ff" stroke-width="1.8" fill="none" stroke-linejoin="round" stroke-linecap="butt" stroke-dasharray="4.6 1.5 1.8 1.6"/>
<path d="M207.2 507.3L207.4 506.7L207.7 506.0L208.0 505.4L208.2 504.7L208.5 504.1L208.8 503.4L209.0 502.8L209.3 502.1L209.6 501.5L209.9 500.8L210.1 500.1L210.4 499.5L210.7 498.8L211.0 498.2L211.3 497.5L211.6 496.9L211.9 496.2L212.2 495.6L212.4 494.9L212.7 494.3L213.0 493.6L213.3 493.0L213.6 492.3L213.9 491.6L214.2 491.0L214.5 490.3L214.8 489.7L215.1 489.0L215.4 488.4L215.7 487.7L216.0 487.1L216.3 486.4L216.6 485.8L216.9 485.1L217.2 484.4L217.5 483.8L217.8 483.1L218.1 482.5L218.4 481.8L218.7 481.2L219.0 480.5L219.3 479.9L219.5 479.2L219.8 478.6L220.1 477.9L220.4 477.2L220.7 476.6L221.0 475.9L221.3 475.3L221.6 474.6L221.9 474.0L222.2 473.3L222.5 472.7L222.7 472.0L223.0 471.4L223.3 470.7L223.6 470.1L223.9 469.4L224.2 468.7L224.5 468.1L224.7 467.4L225.0 466.8L225.3 466.1L225.6 465.5L225.9 464.8L226.1 464.2L226.4 463.5L226.7 462.9L227.0 462.2L227.3 461.5L227.5 460.9L227.8 460.2L228.1 459.6L228.4 458.9L228.6 458.3L228.9 457.6L229.2 457.0L229.5 456.3L229.7 455.7L242.6 455.7L242.2 456.3L241.9 457.0L241.5 457.6L241.1 458.3L240.7 458.9L240.3 459.6L239.9 460.2L239.6 460.9L239.2 461.5L238.8 462.2L238.4 462.9L238.1 463.5L237.7 464.2L237.3 464.8L237.0 465.5L236.6 466.1L236.3 466.8L235.9 467.4L235.5 468.1L235.2 468.7L234.8 469.4L234.5 470.1L234.1 470.7L233.8 471.4L233.4 472.0L233.1 472.7L232.7 473.3L232.4 474.0L232.0 474.6L231.7 475.3L231.4 475.9L231.0 476.6L230.7 477.2L230.3 477.9L230.0 478.6L229.7 479.2L229.3 479.9L229.0 480.5L228.7 481.2L228.3 481.8L228.0 482.5L227.7 483.1L227.3 483.8L227.0 484.4L226.7 485.1L226.3 485.8L226.0 486.4L225.7 487.1L225.3 487.7L225.0 488.4L224.6 489.0L224.3 489.7L224.0 490.3L223.6 491.0L223.3 491.6L223.0 492.3L222.6 493.0L222.3 493.6L222.0 494.3L221.6 494.9L221.3 495.6L221.0 496.2L220.6 496.9L220.3 497.5L219.9 498.2L219.6 498.8L219.2 499.5L218.9 500.1L218.6 500.8L218.2 501.5L217.9 502.1L217.5 502.8L217.2 503.4L216.8 504.1L216.5 504.7L216.1 505.4L215.7 506.0L215.4 506.7L215.0 507.3Z" fill="#00ff00"/>
<path d="M223.2 471.0L223.6 470.0L224.0 469.0L224.5 468.1L224.9 467.1L225.3 466.1L225.7 465.1L226.2 464.1L226.6 463.2L227.0 462.2L227.4 461.2L227.8 460.2L228.2 459.2L228.6 458.3L229.1 457.3L229.5 456.3L229.9 455.3L230.3 454.3L230.7 453.4L231.1 452.4L231.5 451.4L232.0 450.4L232.4 449.4L232.8 448.5L233.2 447.5L233.6 446.5L234.0 445.5L234.5 444.5L234.9 443.6L235.3 442.6L235.8 441.6L236.2 440.6L236.6 439.6L237.1 438.7L237.5 437.7L238.0 436.7L238.5 435.7L238.9 434.7L239.4 433.8L239.9 432.8L240.4 431.8L240.9 430.8L241.4 429.8L241.9 428.9L242.4 427.9L243.0 426.9L243.5 425.9L244.1 424.9L244.6 424.0L245.2 423.0L245.8 422.0L246.4 421.0L247.0 420.0L247.7 419.1L248.3 418.1L249.0 417.1L249.7 416.1L250.4 415.1L251.1 414.2L251.8 413.2L252.6 412.2L253.3 411.2L254.1 410.2L255.0 409.3L255.8 408.3L256.6 407.3L257.5 406.3L258.4 405.4L259.4 404.4L260.3 403.4L261.3 402.4L262.3 401.4L263.4 400.5L264.4 399.5L265.5 398.5L266.7 397.5L267.8 396.5L269.0 395.6L270.3 394.6L271.5 393.6L278.1 393.6L276.8 394.6L275.5 395.6L274.2 396.5L273.0 397.5L271.8 398.5L270.6 399.5L269.5 400.5L268.3 401.4L267.2 402.4L266.2 403.4L265.1 404.4L264.1 405.4L263.2 406.3L262.2 407.3L261.3 408.3L260.3 409.3L259.4 410.2L258.6 411.2L257.7 412.2L256.9 413.2L256.1 414.2L255.3 415.1L254.5 416.1L253.8 417.1L253.1 418.1L252.5 419.1L251.8 420.0L251.2 421.0L250.6 422.0L250.0 423.0L249.4 424.0L248.9 424.9L248.3 425.9L247.8 426.9L247.2 427.9L246.7 428.9L246.2 429.8L245.7 430.8L245.2 431.8L244.7 432.8L244.2 433.8L243.7 434.7L243.3 435.7L242.8 436.7L242.4 437.7L241.9 438.7L241.5 439.6L241.0 440.6L240.6 441.6L240.1 442.6L239.7 443.6L239.3 444.5L238.9 445.5L238.4 446.5L238.0 447.5L237.6 448.5L237.2 449.4L236.8 450.4L236.3 451.4L235.9 452.4L235.5 453.4L235.1 454.3L234.7 455.3L234.3 456.3L233.9 457.3L233.5 458.3L233.0 459.2L232.6 460.2L232.2 461.2L231.8 462.2L231.4 463.2L231.0 464.1L230.5 465.1L230.1 466.1L229.7 467.1L229.3 468.1L228.9 469.0L228.4 470.0L228.0 471.0Z" fill="#00ff00"/>
<path d="M268.7 400.7L269.9 400.2L271.2 399.7L272.4 399.2L273.6 398.7L274.8 398.1L276.1 397.6L277.3 397.1L278.5 396.6L279.7 396.2L280.9 395.7L282.2 395.3L283.4 394.8L284.6 394.4L285.8 394.0L287.1 393.6L288.3 393.2L289.4 392.7L290.6 392.2L291.7 391.7L292.9 391.3L294.0 390.9L295.2 390.5L296.4 390.1L297.6 389.7L298.8 389.4L300.0 389.0L301.2 388.7L302.5 388.4L303.7 388.1L305.0 387.8L306.2 387.5L307.5 387.2L308.8 386.9L310.1 386.6L311.4 386.3L312.7 386.0L314.0 385.7L315.3 385.4L316.6 385.1L318.0 384.7L319.3 384.4L320.6 384.0L322.0 383.7L323.3 383.3L324.6 382.9L325.9 382.5L327.2 382.0L328.5 381.6L329.7 381.2L331.0 380.7L332.3 380.3L333.5 379.9L334.8 379.4L336.1 378.9L337.3 378.5L338.6 378.0L339.9 377.5L341.2 377.0L342.4 376.5L343.7 376.0L344.9 375.4L346.2 374.9L347.5 374.3L348.7 373.8L350.0 373.2L351.2 372.6L352.4 372.0L353.6 371.3L354.8 370.7L356.0 370.1L357.2 369.4L358.4 368.8L359.5 368.2L360.7 367.5L361.8 366.9L363.0 366.3L364.1 365.8L365.2 365.2L366.4 364.7L367.5 364.1L368.6 363.6L369.8 363.1L371.0 362.6L372.2 362.2L373.3 361.7L374.5 361.1L375.7 360.5L376.9 360.0L378.1 359.4L379.3 358.9L380.5 358.3L381.7 357.7L383.0 357.1L384.2 356.6L385.4 356.0L386.6 355.4L387.8 354.8L389.0 354.2L390.2 353.7L387.8 347.6L386.5 348.0L385.2 348.4L384.0 348.8L382.7 349.2L381.4 349.5L380.2 349.9L378.9 350.3L377.6 350.7L376.4 351.0L375.1 351.4L373.8 351.7L372.5 352.1L371.2 352.5L369.9 352.9L368.7 353.3L367.4 353.8L366.1 354.4L364.9 354.9L363.6 355.5L362.3 356.1L361.1 356.7L359.8 357.3L358.6 357.9L357.4 358.5L356.2 359.2L355.0 359.8L353.9 360.4L352.7 361.1L351.5 361.7L350.4 362.3L349.2 362.9L348.1 363.5L347.0 364.1L345.8 364.6L344.7 365.2L343.5 365.7L342.4 366.2L341.2 366.7L340.0 367.2L338.8 367.7L337.6 368.2L336.4 368.6L335.2 369.1L334.0 369.6L332.8 370.0L331.6 370.5L330.4 370.9L329.1 371.3L327.9 371.8L326.7 372.2L325.4 372.6L324.2 373.0L323.0 373.4L321.8 373.8L320.5 374.2L319.3 374.5L318.1 374.9L316.9 375.2L315.6 375.5L314.4 375.8L313.1 376.2L311.9 376.5L310.6 376.7L309.3 377.0L308.0 377.3L306.7 377.6L305.4 377.9L304.1 378.2L302.8 378.5L301.5 378.8L300.1 379.2L298.8 379.5L297.5 379.9L296.2 380.2L294.8 380.6L293.5 381.0L292.2 381.5L290.8 381.9L289.5 382.4L288.2 382.9L286.9 383.4L285.6 384.0L284.3 384.6L283.1 385.3L282.0 386.0L280.8 386.8L279.7 387.6L278.5 388.4L277.4 389.2L276.3 390.0L275.2 390.8L274.1 391.6L273.1 392.4L272.0 393.2L270.9 394.0L269.9 394.8L268.8 395.7L267.7 396.5L266.7 397.3Z" fill="#00ff00" stroke="#00ff00" stroke-width="0.3" stroke-linejoin="round"/>
<path d="M228.9 467.5L229.8 466.3L230.7 465.1L231.6 464.0L232.5 462.8L233.4 461.7L234.3 460.5L235.3 459.4L236.3 458.3L237.2 457.2L238.1 456.0L239.0 454.9L239.8 453.7L240.6 452.4L241.3 451.1L241.9 449.8L242.6 448.5L243.2 447.1L243.9 445.8L244.5 444.5L245.3 443.3L246.1 442.0L246.9 440.8L247.8 439.7L248.7 438.5L249.6 437.3L250.6 436.2L251.5 435.1L252.4 433.9L253.3 432.7L254.2 431.5L255.0 430.4L255.9 429.2L256.7 428.0L257.6 426.8L258.5 425.6L259.3 424.4L260.2 423.2L261.1 422.0L262.0 420.9L262.9 419.7L263.8 418.6L264.7 417.4L265.6 416.3L266.5 415.1L267.5 414.0L268.4 412.8L269.3 411.7L270.2 410.6L271.2 409.4L272.1 408.3L273.0 407.1L273.9 405.9L274.7 404.7L275.6 403.5L276.4 402.3L277.2 401.1L278.0 399.9L278.8 398.6L279.5 397.4" stroke="#00ff00" stroke-width="4.6" fill="none" stroke-linejoin="round" stroke-linecap="round"/>
<path d="M236.3 463.9L237.1 462.6L237.9 461.3L238.6 460.0L239.4 458.7L240.1 457.4L240.8 456.0L241.4 454.7L242.0 453.3L242.7 451.9L243.3 450.5L243.9 449.1L244.6 447.8L245.3 446.4L246.0 445.1L246.8 443.8L247.7 442.6L248.6 441.4L249.5 440.2L250.5 439.0L251.6 437.9L252.6 436.9L253.7 435.8L254.9 434.8L256.0 433.8L257.2 432.8L258.3 431.8L259.5 430.8L260.7 429.9L261.9 429.0L263.1 428.1L264.3 427.2L265.5 426.2L266.7 425.3L267.9 424.4L269.2 423.5L270.4 422.6L271.6 421.7L272.8 420.8L274.1 419.9L275.3 419.1L276.6 418.3L277.9 417.5L279.3 416.8L280.7 416.2L282.1 415.6L283.5 415.1L284.9 414.6L286.3 414.1L287.8 413.7L289.2 413.2L290.7 412.7L292.1 412.2L293.5 411.6L294.9 411.1L296.3 410.5L297.7 409.9L299.1 409.3L300.5 408.7L301.9 408.1L303.3 407.5L304.7 406.9L306.1 406.3L307.5 405.7L308.9 405.2L310.3 404.6L311.7 404.0L313.1 403.5L314.5 402.9L315.9 402.3L317.4 401.8L318.8 401.2L320.2 400.6L321.6 400.0L323.0 399.4L324.4 398.9L325.8 398.3L327.2 397.7L328.6 397.1L330.0 396.5L331.4 395.9L332.8 395.4L334.2 394.8L335.6 394.3L337.0 393.8L338.5 393.3L339.9 392.8L341.3 392.3L342.8 391.8L344.2 391.3L345.6 390.9L347.1 390.4L348.5 389.9L350.0 389.4L351.4 389.0L352.8 388.5L354.3 388.0L355.7 387.5L357.1 387.0L358.6 386.4L360.0 385.9L361.4 385.3L362.8 384.8L364.2 384.2L365.6 383.6L367.0 383.1L368.4 382.5L369.8 381.9L371.2 381.3" stroke="#00ff00" stroke-width="6.2" fill="none" stroke-linejoin="round" stroke-linecap="round"/>
<path d="M378.6 355.4L380.0 354.8L381.4 354.2L382.9 353.6L384.3 352.9L385.6 352.3L387.0 351.6L388.4 350.9L389.7 350.2L391.1 349.5L392.4 348.7L393.7 347.9L395.0 347.0L396.3 346.2L397.5 345.4L398.8 344.5L400.1 343.6L401.3 342.8L402.6 341.9L403.9 341.1L405.2 340.3L406.5 339.5L407.8 338.7L409.1 337.9L410.5 337.1L411.8 336.3L413.1 335.6L414.5 334.8L415.8 334.1L417.1 333.3L418.4 332.5L419.8 331.8L421.1 331.0L422.4 330.2L423.7 329.4L425.0 328.6L426.3 327.8L427.6 326.9L428.8 326.0L430.1 325.2L431.3 324.3L432.5 323.4L433.8 322.5L435.0 321.5L436.2 320.6L437.4 319.6L438.6 318.7L439.8 317.7L441.0 316.8L442.2 315.8L443.4 314.8L444.6 313.8L445.7 312.9L446.9 311.9L448.1 310.9L449.3 309.9L450.4 308.9L451.6 307.9L452.8 306.9L453.9 306.0L455.1 305.0L456.3 304.0L457.4 303.0L458.6 302.0L459.8 301.0L460.9 300.0L462.1 299.0L463.3 298.0M374.9 357.2L376.3 356.6L377.7 355.9L379.1 355.2L380.5 354.5L381.8 353.8L383.2 353.2L384.6 352.5L386.0 351.8L387.3 351.0L388.7 350.3L390.1 349.6L391.4 348.9L392.8 348.1L394.1 347.4L395.5 346.6L396.8 345.9L398.1 345.1L399.5 344.3L400.8 343.5L402.1 342.7L403.4 342.0L404.8 341.2L406.1 340.4L407.4 339.6L408.7 338.8L410.1 338.0L411.4 337.2L412.7 336.5L414.1 335.7L415.4 334.9L416.8 334.2L418.1 333.4L419.4 332.6L420.8 331.8L422.1 331.1L423.4 330.3L424.7 329.5L426.0 328.6L427.3 327.8L428.6 326.9L429.9 326.1L431.1 325.2L432.4 324.3L433.6 323.4L434.9 322.5L436.1 321.5L437.3 320.6L438.6 319.6L439.8 318.7L441.0 317.7L442.2 316.7L443.4 315.8L444.6 314.8L445.7 313.8L446.9 312.8L448.1 311.8L449.3 310.8L450.5 309.8L451.6 308.8L452.8 307.8L454.0 306.8L455.1 305.8L456.3 304.8L457.5 303.8L458.6 302.8L459.8 301.8L460.9 300.7L462.1 299.7L463.3 298.7M316.9 383.4L316.6 384.1L316.3 384.8L316.0 385.5L315.7 386.1L315.4 386.8L315.0 387.5L314.7 388.1L314.4 388.8L314.0 389.4L313.6 390.1L313.2 390.7L312.8 391.3L312.4 392.0L312.0 392.6L311.5 393.2L311.1 393.7L310.6 394.3L310.1 394.9L309.6 395.4L309.1 396.0L308.6 396.5L308.0 397.0L307.5 397.5L306.9 398.0L306.3 398.4L305.8 398.9L305.2 399.3L304.6 399.8L304.0 400.2L303.4 400.7L302.8 401.1L302.2 401.6L301.6 402.0L301.1 402.5L300.5 403.0L299.9 403.4L299.3 403.9L298.8 404.4L298.2 404.9L297.6 405.3L297.0 405.8L296.5 406.3L295.9 406.7L295.3 407.2L294.7 407.6L294.1 408.1L293.5 408.5L292.9 408.9L292.3 409.3L291.7 409.7L291.0 410.1L290.4 410.5L289.8 410.8L289.1 411.2L288.5 411.6L287.8 411.9L287.1 412.3L286.5 412.6L285.8 412.9M279.5 391.9L279.4 392.4L279.2 392.8L279.0 393.2L278.9 393.6L278.7 394.0L278.5 394.4L278.3 394.9L278.1 395.3L278.0 395.7L277.8 396.1L277.6 396.5L277.4 396.9L277.2 397.3L277.0 397.7L276.8 398.1L276.6 398.5L276.4 398.9L276.2 399.3L275.9 399.7L275.7 400.1L275.5 400.5L275.2 400.9L275.0 401.3L274.8 401.6L274.5 402.0L274.3 402.4L274.0 402.8L273.7 403.1L273.5 403.5L273.2 403.9L272.9 404.2L272.7 404.6L272.4 404.9L272.1 405.3L271.8 405.6L271.5 406.0L271.2 406.3L270.9 406.7L270.6 407.0L270.3 407.3L270.0 407.7L269.7 408.0L269.3 408.3L269.0 408.6L268.7 408.9L268.4 409.2L268.1 409.6L267.7 409.9L267.4 410.2L267.1 410.5L266.7 410.8L266.4 411.1L266.0 411.4L265.7 411.7L265.4 412.0L265.0 412.3L264.7 412.6L264.4 412.9L264.0 413.2M354.6 368.3L354.3 369.0L353.9 369.6L353.6 370.3L353.2 370.9L352.9 371.6L352.5 372.2L352.1 372.8L351.8 373.4L351.3 374.0L350.9 374.6L350.5 375.2L350.0 375.8L349.6 376.3L349.1 376.9L348.6 377.4L348.1 378.0L347.6 378.5L347.1 379.1L346.6 379.6L346.1 380.1L345.6 380.6L345.1 381.2L344.6 381.7L344.1 382.2L343.6 382.7L343.0 383.3L342.5 383.8L342.0 384.3L341.5 384.8L340.9 385.3L340.4 385.8L339.8 386.2L339.3 386.7L338.7 387.2L338.2 387.6L337.6 388.1L337.0 388.5L336.4 388.9L335.8 389.4L335.2 389.8L334.6 390.2L334.0 390.6L333.4 391.0L332.7 391.4L332.1 391.7L331.5 392.1L330.9 392.5L330.2 392.8L329.6 393.2L328.9 393.6L328.3 393.9L327.7 394.3L327.0 394.6L326.4 395.0L325.7 395.3L325.1 395.6L324.4 396.0L323.8 396.3L323.2 396.7M389.0 351.1L388.3 351.9L387.7 352.8L387.1 353.6L386.4 354.5L385.8 355.3L385.2 356.2L384.6 357.0L384.0 357.9L383.5 358.8L382.9 359.7L382.3 360.6L381.8 361.5L381.2 362.4L380.7 363.3L380.1 364.2L379.5 365.1L378.9 366.0L378.3 366.8L377.7 367.7L377.0 368.5L376.4 369.3L375.6 370.0L374.9 370.7L374.1 371.4L373.3 372.1L372.5 372.7L371.6 373.3L370.7 373.9L369.8 374.4L368.9 375.0L368.0 375.5L367.1 376.0L366.1 376.5L365.2 377.1L364.2 377.6L363.3 378.1L362.4 378.6L361.4 379.1L360.5 379.6L359.6 380.1L358.7 380.6L357.7 381.1L356.8 381.6L355.9 382.1L354.9 382.5L354.0 383.0L353.1 383.5L352.1 384.0L351.2 384.4L350.3 384.9L349.3 385.4L348.4 385.8L347.4 386.2L346.4 386.7L345.5 387.1L344.5 387.6L343.6 388.0L342.6 388.4L341.6 388.9M425.6 328.2L424.6 329.4L423.7 330.6L422.8 331.8L421.8 333.0L420.8 334.2L419.8 335.4L418.8 336.5L417.8 337.6L416.7 338.7L415.6 339.8L414.4 340.8L413.2 341.8L412.0 342.7L410.7 343.6L409.5 344.4L408.1 345.1L406.8 345.8L405.4 346.5L404.0 347.1L402.6 347.7L401.1 348.3L399.7 348.9L398.3 349.5L396.9 350.2L395.6 350.9L394.2 351.6L392.9 352.4L391.6 353.2L390.4 354.0L389.1 354.9L387.9 355.8L386.7 356.7L385.4 357.7L384.2 358.6L383.0 359.5L381.8 360.5L380.6 361.4L379.3 362.3L378.1 363.3L376.9 364.2L375.7 365.1L374.4 366.0L373.2 366.9L371.9 367.8L370.7 368.6L369.4 369.5L368.2 370.4L366.9 371.2L365.6 372.1L364.3 372.9L363.1 373.7L361.8 374.5L360.5 375.4L359.2 376.2L357.8 376.9L356.5 377.7L355.2 378.5L353.9 379.2L352.5 380.0L351.2 380.7L349.9 381.5L348.5 382.2L347.2 382.9L345.8 383.7L344.5 384.4L343.1 385.1M463.3 298.0L462.4 299.2L461.4 300.5L460.5 301.7L459.6 302.9L458.7 304.1L457.7 305.3L456.7 306.4L455.7 307.6L454.7 308.7L453.6 309.8L452.5 310.9L451.4 311.9L450.3 313.0L449.2 314.0L448.1 315.1L446.9 316.1L445.8 317.1L444.7 318.1L443.5 319.2L442.4 320.2L441.3 321.2L440.1 322.3L439.0 323.3L437.9 324.3L436.8 325.4L435.7 326.4L434.5 327.5L433.4 328.5L432.3 329.5L431.2 330.6L430.0 331.6L428.9 332.6L427.8 333.6L426.6 334.6L425.5 335.6L424.3 336.7L423.2 337.7L422.0 338.7L420.9 339.6L419.7 340.6L418.5 341.6L417.4 342.6L416.2 343.6L415.0 344.5L413.8 345.5L412.6 346.5L411.4 347.4L410.2 348.4L409.0 349.3L407.8 350.3L406.6 351.2L405.4 352.1L404.1 353.0L402.9 353.9L401.7 354.8L400.4 355.6L399.1 356.5L397.9 357.3L396.6 358.2L395.3 359.0L394.0 359.8L392.7 360.6L391.4 361.4L390.1 362.2L388.8 363.0L387.5 363.8L386.2 364.6L384.9 365.4L383.6 366.2L382.2 366.9L380.9 367.7L379.6 368.5L378.3 369.3L377.0 370.1L375.7 370.9L374.4 371.7L373.1 372.5L371.8 373.3L370.5 374.0L369.1 374.8L367.8 375.6L366.5 376.3L365.1 377.1L363.8 377.8L362.5 378.5L361.1 379.2L359.7 379.9L358.4 380.6L357.0 381.3L355.6 381.9L354.2 382.6L352.9 383.2L351.5 383.9L350.1 384.5L348.7 385.2L347.3 385.8L345.9 386.4L344.5 387.1L343.1 387.7" stroke="#00ff00" stroke-width="2.8" fill="none" stroke-linejoin="round" stroke-linecap="round"/>
<path d="M216.0 506.4L216.5 505.3L217.0 504.3L217.5 503.2L218.0 502.2L218.6 501.1L219.1 500.1L219.6 499.0L220.2 498.0L220.7 497.0L221.3 495.9L221.8 494.9L222.4 493.9L223.0 492.9L223.6 491.8L224.1 490.8L224.7 489.8L225.3 488.8L225.8 487.7L226.4 486.7L226.9 485.6L227.4 484.6L228.0 483.5L228.5 482.5L229.0 481.4L229.5 480.4L230.0 479.3L230.6 478.3L231.1 477.2L231.6 476.2L232.1 475.1L232.7 474.1L233.2 473.1L233.8 472.0L234.3 471.0L234.9 469.9L235.4 468.9L236.0 467.9L236.5 466.8L237.1 465.8L237.7 464.8L238.2 463.8L238.8 462.7L239.4 461.7L239.9 460.7L240.5 459.7L241.1 458.6L241.7 457.6L242.3 456.6L243.0 455.6L243.6 454.7L244.3 453.7L244.9 452.7L245.6 451.8L246.3 450.8L247.0 449.9L247.8 449.0L248.5 448.1L249.2 447.1L250.0 446.2" stroke="#ff00ff" stroke-width="1.8" fill="none" stroke-linejoin="round" stroke-linecap="butt" stroke-dasharray="4.6 1.5 1.8 1.6"/></g>
<text x="182.60" y="246.50" text-anchor="middle">Strain(%)</text>
<text transform="translate(9.60,110.30) rotate(-90)" text-anchor="middle" style="font-size:11.9px">Stress(MPa)</text>
<text x="164.40" y="275.30" text-anchor="middle" style="font-size:18.0px">(a)</text>
<text x="533.60" y="246.40" text-anchor="middle">Strain(%)</text>
<text transform="translate(361.10,110.40) rotate(-90)" text-anchor="middle" style="font-size:11.9px">Stress(MPa)</text>
<text x="515.50" y="275.10" text-anchor="middle" style="font-size:18.0px">(b)</text>
<text x="356.80" y="535.40" text-anchor="middle">Strain(%)</text>
<text transform="translate(184.30,399.80) rotate(-90)" text-anchor="middle" style="font-size:11.9px">Stress(MPa)</text>
<text x="344.60" y="564.30" text-anchor="middle" style="font-size:18.0px">(c)</text>
<text x="283.80" y="148.70">0.005Hz</text>
<text x="283.80" y="162.12">0.1Hz</text>
<text x="283.80" y="175.54">0.5Hz</text>
<text x="283.80" y="188.96">1Hz</text>
<text x="283.80" y="202.38">2Hz</text>
<circle cx="269.90" cy="144.10" r="0.75" fill="#777"/>
<path d="M258.20 157.32h23.4" stroke="#ff1a1a" stroke-width="1.8"/>
<path d="M258.20 170.74h23.4" stroke="#111" stroke-width="1.8" stroke-dasharray="4.8 4.5"/>
<path d="M258.20 184.16h23.4" stroke="#ff00ff" stroke-width="1.8" stroke-dasharray="4.6 1.5 1.8 1.6"/>
<circle cx="269.90" cy="197.78" r="0.9" fill="#00ee00"/>
<text x="631.40" y="146.30">0.005Hz</text>
<text x="631.40" y="159.72">0.1Hz</text>
<text x="631.40" y="173.14">0.5Hz</text>
<text x="631.40" y="186.56">1Hz</text>
<text x="631.40" y="199.98">2Hz</text>
<circle cx="617.90" cy="141.70" r="0.75" fill="#777"/>
<path d="M604.90 154.92h24.7" stroke="#ff1a1a" stroke-width="1.8"/>
<path d="M604.90 168.34h24.7" stroke="#111" stroke-width="1.8" stroke-dasharray="4.8 4.5"/>
<path d="M604.90 181.76h24.7" stroke="#ff00ff" stroke-width="1.8" stroke-dasharray="4.6 1.5 1.8 1.6"/>
<circle cx="617.90" cy="195.38" r="0.9" fill="#00ee00"/>
<text x="458.90" y="438.10">0.005Hz</text>
<text x="458.90" y="451.52">0.1Hz</text>
<text x="458.90" y="464.94">0.5Hz</text>
<text x="458.90" y="478.36">1Hz</text>
<text x="458.90" y="491.78">2Hz</text>
<circle cx="445.30" cy="433.50" r="0.75" fill="#777"/>
<path d="M433.60 446.72h24.1" stroke="#ff1a1a" stroke-width="1.8"/>
<path d="M433.60 460.14h24.1" stroke="#111" stroke-width="1.8" stroke-dasharray="4.8 4.5"/>
<path d="M433.60 473.56h24.1" stroke="#ff00ff" stroke-width="1.8" stroke-dasharray="4.6 1.5 1.8 1.6"/>
<circle cx="445.30" cy="487.18" r="0.9" fill="#00ee00"/>
</svg>
</body></html>
